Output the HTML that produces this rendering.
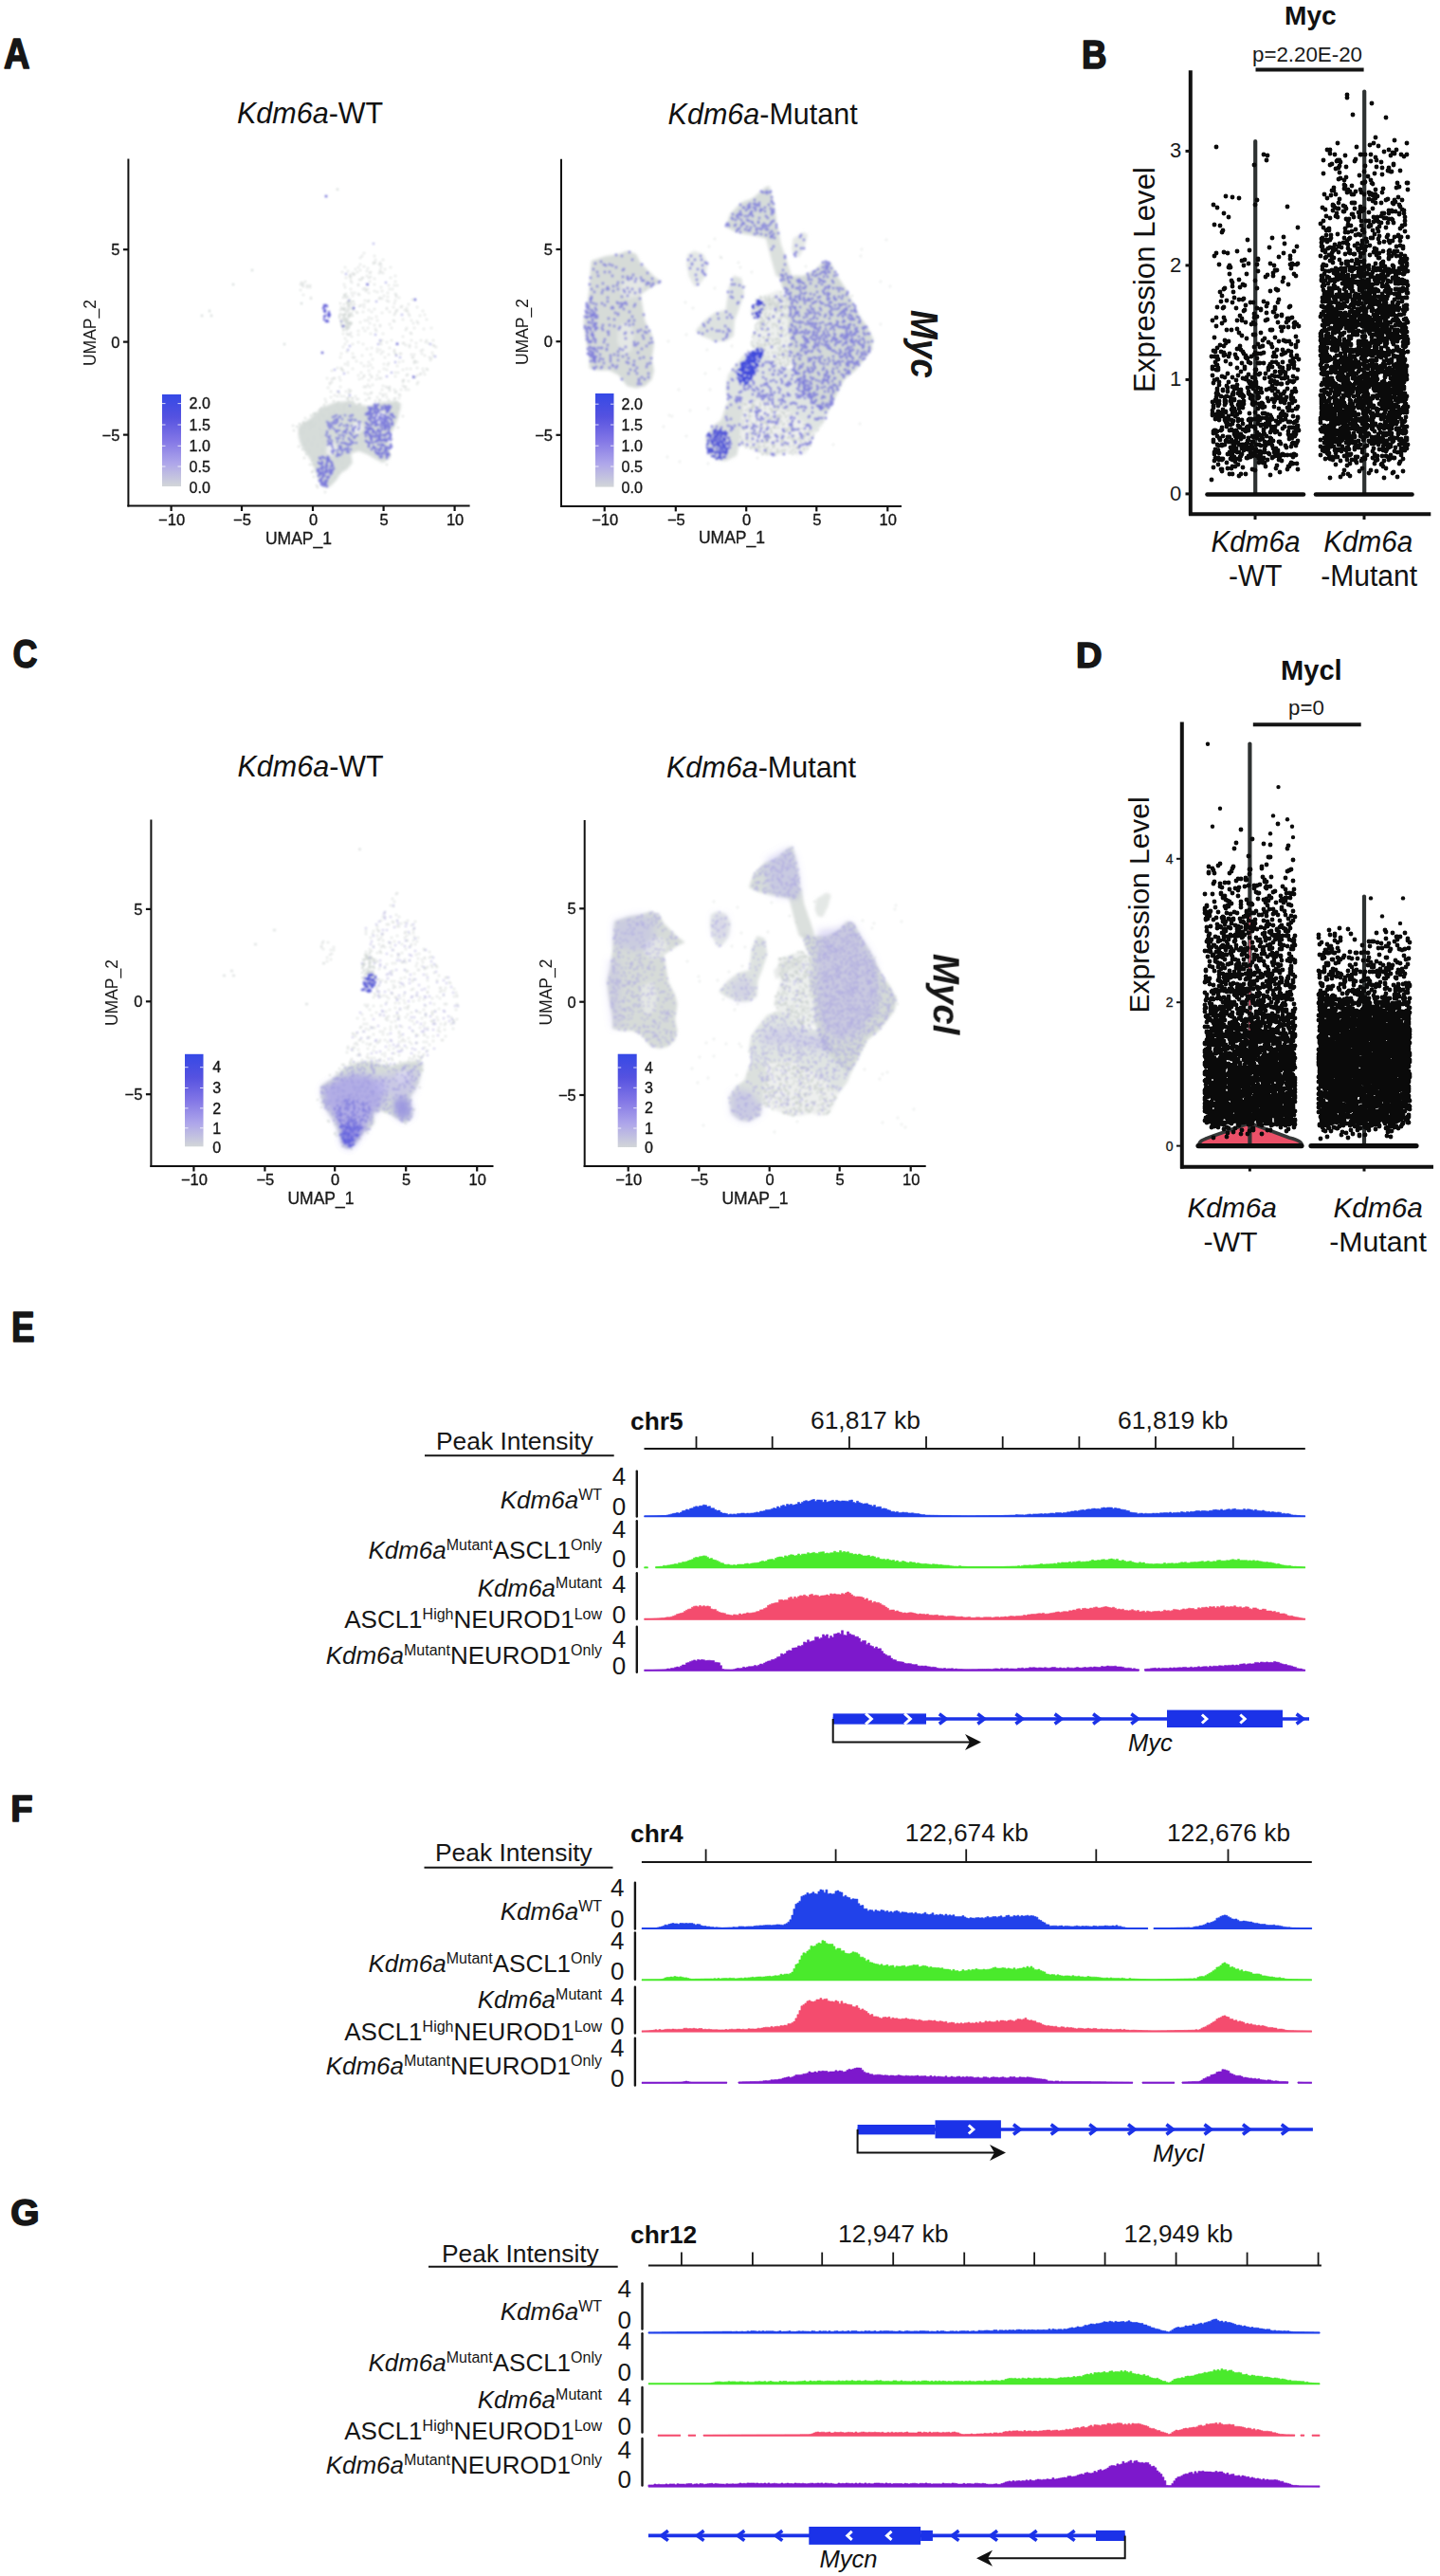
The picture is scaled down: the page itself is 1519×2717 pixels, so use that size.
<!DOCTYPE html>
<html><head><meta charset="utf-8"><title>Figure</title>
<style>
html,body{margin:0;padding:0;background:#fff;overflow:hidden;}
svg{display:block;}
text{font-family:"Liberation Sans", Arial, sans-serif;}
</style></head><body>
<svg width="1519" height="2717" viewBox="0 0 1519 2717">
<defs>
<linearGradient id="cbar" x1="0" y1="1" x2="0" y2="0">
<stop offset="0" stop-color="#d2d6d8"/>
<stop offset="0.25" stop-color="#aea6ea"/>
<stop offset="0.5" stop-color="#8276e6"/>
<stop offset="0.75" stop-color="#5552e0"/>
<stop offset="1" stop-color="#3549e6"/>
</linearGradient>
<filter id="soft" x="-5%" y="-5%" width="110%" height="110%"><feGaussianBlur stdDeviation="0.8"/></filter>
<filter id="blurU"><feGaussianBlur stdDeviation="0.8"/></filter>
<filter id="soft2" x="-10%" y="-10%" width="120%" height="120%"><feGaussianBlur stdDeviation="3.5"/></filter>
</defs>
<rect width="1519" height="2717" fill="#fff"/>
<text x="4.1" y="72.4" font-size="44.2" text-anchor="start" font-weight="bold" fill="#161616" textLength="27.5" lengthAdjust="spacingAndGlyphs" stroke="#161616" stroke-width="1.6" stroke-linejoin="round">A</text>
<text x="1141.1" y="72.0" font-size="41.6" text-anchor="start" font-weight="bold" fill="#161616" textLength="26.5" lengthAdjust="spacingAndGlyphs" stroke="#161616" stroke-width="1.6" stroke-linejoin="round">B</text>
<text x="13.6" y="704.4" font-size="42.9" text-anchor="start" font-weight="bold" fill="#161616" textLength="26.0" lengthAdjust="spacingAndGlyphs" stroke="#161616" stroke-width="1.6" stroke-linejoin="round">C</text>
<text x="1135.1" y="703.8" font-size="37.1" text-anchor="start" font-weight="bold" fill="#161616" textLength="27.5" lengthAdjust="spacingAndGlyphs" stroke="#161616" stroke-width="1.6" stroke-linejoin="round">D</text>
<text x="12.1" y="1415.4" font-size="44.2" text-anchor="start" font-weight="bold" fill="#161616" textLength="24.6" lengthAdjust="spacingAndGlyphs" stroke="#161616" stroke-width="1.6" stroke-linejoin="round">E</text>
<text x="11.3" y="1921.4" font-size="38.9" text-anchor="start" font-weight="bold" fill="#161616" textLength="23.4" lengthAdjust="spacingAndGlyphs" stroke="#161616" stroke-width="1.6" stroke-linejoin="round">F</text>
<text x="11.3" y="2346.9" font-size="38.9" text-anchor="start" font-weight="bold" fill="#161616" textLength="30.3" lengthAdjust="spacingAndGlyphs" stroke="#161616" stroke-width="1.6" stroke-linejoin="round">G</text>
<text x="250.0" y="130.0" font-size="30.5" text-anchor="start" font-style="italic" fill="#111">Kdm6a</text>
<text x="250" y="130" font-size="30.5" fill="#111"><tspan font-style="italic" fill-opacity="0">Kdm6a</tspan>-WT</text>
<text x="704.6" y="130.8" font-size="30.5" text-anchor="start" font-style="italic" fill="#111">Kdm6a</text>
<text x="704.6" y="130.8" font-size="30.5" fill="#111"><tspan font-style="italic" fill-opacity="0">Kdm6a</tspan>-Mutant</text>
<g filter="url(#blurU)">
<path d="M382 270h0m2-3h0m11 3h0m-15 2h0m0 7h0m14-1h0m0-1h0m2-3h0m0 3h0m4 2h0m1-2h0m1 2h0m2-5h0m-43 13h0m3-5h0m3 4h0m8-2h0m2 3h0m1-5h0m2 3h0m4-4h0m3 5h0m1-3h0m3 4h0m10-2h0m1-3h0m0 5h0m4-3h0m6-2h0m-47 11h0m0 0h0m4-1h0m0-2h0m1 3h0m0-3h0m2-2h0m1 2h0m1-1h0m5 6h0m2 0h0m1-2h0m1 0h0m4-2h0m2 2h0m1-5h0m1 4h0m4 2h0m5-6h0m4 0h0m8 5h0m5-2h0m-54 9h0m1 3h0m6-7h0m1 2h0m7 3h0m0-1h0m12-3h0m5 3h0m0 0h0m7 3h0m8-2h0m6 0h0m1-4h0m2 4h0m-49 4h0m1 4h0m3 0h0m4 1h0m1 1h0m4-6h0m2-1h0m1 3h0m0-1h0m2-1h0m1 4h0m6-2h0m3 1h0m5-1h0m6 2h0m2-4h0m3 0h0m3 5h0m1 1h0m-54 1h0m3 1h0m0 5h0m5-6h0m1 6h0m12-1h0m3 1h0m1-1h0m11-2h0m1-1h0m2 1h0m2-3h0m3 5h0m1-4h0m1 5h0m7-1h0m1-4h0m3 1h0m14 2h0m-76 11h0m1-3h0m1 2h0m6-4h0m2 0h0m3 0h0m2-1h0m5 2h0m2-1h0m3 2h0m0-3h0m5 6h0m6-1h0m13 0h0m0-1h0m7-1h0m1-4h0m3 7h0m4-3h0m1-1h0m3 4h0m2-2h0m2-4h0m9 3h0m0 0h0m-79 8h0m2 0h0m5 2h0m0-4h0m1 2h0m7-3h0m1 1h0m6-1h0m6 6h0m3-6h0m5 5h0m6-4h0m8-1h0m5 3h0m1-2h0m1-2h0m11 0h0m1 0h0m1 3h0m1 2h0m11 0h0m3-5h0m2 4h0m-85 4h0m2 2h0m3 2h0m12 0h0m5-2h0m3 0h0m2 3h0m2-5h0m3 7h0m3-5h0m3 5h0m10-1h0m4-4h0m1 1h0m9-2h0m0 0h0m9 1h0m2 3h0m4-2h0m1 2h0m9-4h0m-80 14h0m8-2h0m5-3h0m2 3h0m3-3h0m8 1h0m1 2h0m4-5h0m12 2h0m15 2h0m1-2h0m4 5h0m4-5h0m10 1h0m8-1h0m-93 6h0m2 5h0m2-5h0m1 1h0m2 0h0m2 2h0m7-2h0m13-1h0m12 7h0m1-7h0m9 7h0m12-4h0m9 4h0m0-7h0m10 7h0m6 0h0m7 0h0m-95 7h0m2-3h0m2-3h0m6 3h0m6-2h0m5 2h0m9 4h0m9-6h0m1 2h0m0 0h0m6-2h0m3 6h0m14-5h0m1 0h0m2 2h0m4 2h0m0-2h0m0 0h0m7 2h0m0-4h0m10-1h0m3 1h0m5 2h0m1 1h0m2 1h0m-100 7h0m6-2h0m6 2h0m10 2h0m5-7h0m4 6h0m7-6h0m0 3h0m3-2h0m1 4h0m2-2h0m6 3h0m6-3h0m0-2h0m1 4h0m1 1h0m4-1h0m1 0h0m11 1h0m3 0h0m7-4h0m1 3h0m1-4h0m2 6h0m8-3h0m1 3h0m-98 2h0m8 5h0m5-5h0m2 0h0m2 4h0m5 2h0m8-1h0m4-3h0m13-2h0m4 6h0m11-1h0m4-1h0m10-4h0m1 0h0m1 6h0m0-2h0m1 0h0m2 1h0m13-5h0m1 3h0m1-2h0m-105 13h0m6-3h0m4 0h0m0 1h0m1 1h0m1 1h0m2-7h0m3 1h0m5 4h0m12-3h0m4 0h0m1 5h0m2-6h0m2 3h0m12 1h0m0-5h0m3 6h0m1-5h0m10 1h0m6 4h0m4-1h0m4 0h0m7-1h0m6 1h0m4 0h0m1 1h0m-106 9h0m7 0h0m1 0h0m5-1h0m9-5h0m11 3h0m3-3h0m1 6h0m0 0h0m2-2h0m0-1h0m6-1h0m2 3h0m0-1h0m6-1h0m2 3h0m0-7h0m2 7h0m15-6h0m0 4h0m3-4h0m9 3h0m1-1h0m8 3h0m2-2h0m3-1h0m1-1h0m3-2h0m1 3h0m-100 9h0m0 1h0m2-2h0m0-3h0m9 1h0m20-1h0m9 6h0m1-5h0m4 5h0m4-6h0m7 7h0m21 0h0m0-6h0m0 2h0m1-2h0m5 1h0m9 3h0m1-2h0m-95 6h0m3 4h0m7 0h0m2 2h0m1-7h0m6 5h0m3-2h0m0 4h0m1-2h0m1-1h0m14-4h0m1 7h0m1-7h0m4 0h0m1 7h0m1-1h0m9 1h0m2-4h0m4-3h0m2 1h0m2 3h0m0-2h0m0-2h0m5 3h0m1 3h0m1-1h0m5-2h0m4-3h0m1 3h0m0-3h0m3 3h0m-88 10h0m6-2h0m3 4h0m1-6h0m3 1h0m4 0h0m3 0h0m3 2h0m1 1h0m1 2h0m4 0h0m0-3h0m3-2h0m1 3h0m2 0h0m8 1h0m2-6h0m1 4h0m1 0h0m8-1h0m2 3h0m4-4h0m0-2h0m3 0h0m1 3h0m9 1h0m4-4h0m0 4h0m1-3h0m-67 10h0m9 0h0m2-2h0m4-1h0m10 2h0m8 3h0m12-4h0m4 1h0m14 1h0m1 2h0m2-3h0" stroke="#c8cecb" stroke-width="1.90" stroke-linecap="round" opacity="0.85" fill="none"/>
<path d="M317 300h0m1-2h0m1 3h0m1 1h0m0-3h0m2-2h0m2 6h0m0-2h0m3 2h0m0-2h0m-10 5h0m3 5h0m8 3h0m0 1h0" stroke="#c8cecb" stroke-width="1.90" stroke-linecap="round" opacity="0.85" fill="none"/>
<path d="M363 311h0m2-1h0m0 0h0m-3 4h0m2-2h0m1 2h0m1 5h0m0 0h0m0 0h0m1 0h0m1-2h0m0 0h0m1 1h0m0-2h0m3 2h0m-13 2h0m2 6h0m2 1h0m0-6h0m0 4h0m0 1h0m1-1h0m3 0h0m0-5h0m0 1h0m1 6h0m0-4h0m2-3h0m0 5h0m0-5h0m2 6h0m1 1h0m-15 6h0m0 2h0m1-4h0m3 1h0m1 2h0m0-1h0m1-2h0m0 1h0m0 0h0m1-4h0m0 3h0m1-3h0m1 6h0m1 0h0m0-2h0m1 2h0m1-2h0m1-2h0m1 3h0m0 0h0m-13 5h0m1 5h0m0-2h0m1-5h0m0 3h0m2 4h0m0-5h0m1 2h0m0-4h0m1 0h0m1 2h0m0 5h0m0-3h0m0 1h0m1-1h0m0-3h0m1 5h0m0-2h0m0 0h0m0 0h0m1 3h0m0-1h0m1 0h0m0-2h0m1 1h0m-10 4h0m1 3h0m1 0h0m1-4h0m1 0h0m0 2h0m1 2h0m1-2h0m0-1h0m1 0h0m0 1h0m0 0h0m0-1h0" stroke="#d2d8d5" stroke-width="2.20" stroke-linecap="round" opacity="1.00" fill="none"/>
<path d="M368 419h0m3 1h0m25 3h0m5-1h0m9 0h0m6-1h0m-77 9h0m3 0h0m0-3h0m2-3h0m12 2h0m1-2h0m6 7h0m0-2h0m8 0h0m2-4h0m3 4h0m3-2h0m0-1h0m15 2h0m5-1h0m2 2h0m9 2h0m4-1h0m3-6h0m2 0h0m0 7h0m2 0h0m-93 7h0m3-1h0m0-1h0m2 0h0m4-4h0m1 3h0m0-3h0m2 6h0m2 1h0m4-7h0m2 5h0m4 0h0m0 2h0m0-4h0m1-1h0m5-2h0m0 6h0m3-1h0m1 0h0m1-3h0m2 5h0m2-4h0m6-2h0m5-1h0m4 7h0m3-7h0m0 4h0m1 0h0m3 3h0m0-1h0m3-4h0m1 4h0m2 0h0m0 0h0m4-3h0m5-1h0m2 0h0m12 1h0m7 4h0m-109 8h0m4 0h0m0-2h0m2-4h0m0 6h0m2-1h0m3-1h0m0 2h0m2-2h0m3 2h0m5-5h0m6 1h0m3 0h0m0-2h0m5 2h0m2 0h0m13 4h0m4-6h0m4 2h0m3 2h0m7-2h0m2 2h0m2-2h0m3 3h0m2-3h0m1 1h0m1 0h0m1-4h0m6 2h0m11 0h0m1 3h0m5-5h0m-110 9h0m1 5h0m3-4h0m3 4h0m5-3h0m6 1h0m0-4h0m2 2h0m2-1h0m6 3h0m2 2h0m16-3h0m8 2h0m14-3h0m2 3h0m2 0h0m4 2h0m4-2h0m0 1h0m1-6h0m5 6h0m1-6h0m0 0h0m6 3h0m1 1h0m3 1h0m1-1h0m0-3h0m1 2h0m2 1h0m0-4h0m1 6h0m9-3h0m-104 6h0m4-1h0m11 6h0m7-4h0m1 3h0m2-1h0m2-1h0m1 0h0m1-2h0m4 6h0m6-2h0m8-4h0m6 6h0m2-1h0m0 1h0m0-2h0m2-4h0m5 4h0m0-1h0m3-2h0m1-1h0m8 1h0m1 0h0m2 0h0m4 2h0m6 1h0m1 0h0m10 2h0m-99 8h0m7-3h0m3-4h0m4 4h0m6 2h0m6-4h0m7 0h0m4 3h0m5 2h0m3-1h0m1-1h0m1 2h0m1-6h0m5 4h0m0 0h0m2 1h0m1 1h0m5-3h0m1 1h0m1 2h0m3-6h0m1 4h0m1-3h0m2-2h0m16 2h0m3-1h0m4 2h0m0 4h0m5-3h0m-94 6h0m3 1h0m1 4h0m3-3h0m0 1h0m0-1h0m14 0h0m0-2h0m12 2h0m0 3h0m1 0h0m0-5h0m2 4h0m1-3h0m1 0h0m7-1h0m2 4h0m3-4h0m2-2h0m0 1h0m19-1h0m5 2h0m6 4h0m6 0h0m2-6h0m1 0h0m0 4h0m1 2h0m-90 5h0m8 3h0m2-3h0m10 1h0m2 2h0m2-2h0m2 2h0m4 1h0m4-2h0m3 0h0m4-3h0m0-1h0m48-1h0m1 2h0m1-2h0m-85 10h0m3 0h0m2 0h0m1 1h0m6 4h0m7-6h0m1 2h0m4 1h0m4 3h0m6-7h0m1 5h0m46-3h0m-79 8h0m1-1h0m1 6h0m8-1h0m2-5h0m3 0h0m5 4h0m4 2h0m5-4h0m-13 10h0m1-1h0m1 2h0m0 0h0m-13 2h0m1 2h0m8 5h0" stroke="#c8cecb" stroke-width="1.90" stroke-linecap="round" opacity="0.90" fill="none"/>
<circle cx="356.0" cy="199.8" r="1.2" fill="#cfd4d2"/>
<circle cx="266.0" cy="285.0" r="1.2" fill="#cfd4d2"/>
<circle cx="221.0" cy="328.0" r="1.2" fill="#cfd4d2"/>
<circle cx="213.0" cy="333.0" r="1.2" fill="#cfd4d2"/>
<circle cx="223.0" cy="333.0" r="1.2" fill="#cfd4d2"/>
<circle cx="246.0" cy="300.0" r="1.2" fill="#cfd4d2"/>
<circle cx="300.0" cy="363.0" r="1.2" fill="#cfd4d2"/>
<circle cx="318.0" cy="320.0" r="1.2" fill="#cfd4d2"/>
<g filter="url(#soft)">
<path d="M314.8 449.3 L325.9 442.3 L339.8 429.8 L353.7 424.3 L367.6 422.9 L374.6 425.7 L388.4 428.4 L402.3 424.3 L416.2 422.9 L423.2 425.7 L420.4 439.6 L416.2 450.7 L409.3 461.8 L410.7 474.3 L410.7 484.0 L403.8 488.2 L395.4 484.0 L388.4 479.8 L378.7 475.7 L370.4 478.4 L371.8 488.2 L366.2 495.1 L359.3 499.3 L355.1 506.2 L348.2 513.2 L342.6 514.6 L337.1 509.0 L332.9 497.9 L328.7 486.8 L323.2 478.4 L317.6 470.1 L314.8 460.4 Z" fill="#d2d8d5" opacity="0.9"/>
<path d="M345.0 470.0 L352.0 466.0 L356.0 474.0 L350.0 481.0 L344.0 478.0 Z" fill="#fff" opacity="0.6"/>
<path d="M372.0 447.0 L380.0 444.0 L384.0 452.0 L377.0 458.0 L371.0 454.0 Z" fill="#fff" opacity="0.6"/>
<path d="M395.0 436.0 L405.0 433.0 L409.0 442.0 L400.0 448.0 L394.0 444.0 Z" fill="#fff" opacity="0.6"/>
</g>
<path d="M389 430h0m1 1h0m2-1h0m3-3h0m0 3h0m1-3h0m0 2h0m1 1h0m0-2h0m1 3h0m1-4h0m4 4h0m0-2h0m0 2h0m3 0h0m0-3h0m1 1h0m1 2h0m1-2h0m0 2h0m1-1h0m0-2h0m1 3h0m1-2h0m-26 8h0m1 0h0m0-1h0m1 1h0m1-2h0m0 2h0m1-4h0m1 5h0m0-3h0m1-3h0m1 5h0m2-2h0m0-1h0m0 0h0m0-2h0m1 3h0m1 1h0m0 2h0m0-3h0m1-3h0m1 3h0m1-2h0m2 4h0m1-5h0m2 6h0m2 1h0m1-6h0m0 2h0m1-1h0m1-1h0m2 4h0m2 2h0m0-2h0m-28 9h0m0 0h0m1 1h0m2-5h0m0-1h0m2 3h0m0-3h0m1-1h0m1 6h0m1-1h0m0-4h0m2 6h0m0-4h0m0-3h0m0 6h0m1-1h0m2-2h0m1-3h0m1 1h0m0-1h0m1 7h0m0-3h0m1-3h0m0 5h0m1 1h0m0 0h0m1-3h0m0-2h0m1-1h0m0 5h0m0-1h0m0 0h0m1-3h0m0 2h0m1-3h0m1 4h0m0-4h0m1-1h0m0 7h0m2-5h0m1 1h0m0 4h0m1-1h0m2-6h0m-30 15h0m0-4h0m2-3h0m0 7h0m0-3h0m1-4h0m1 5h0m0-2h0m2-3h0m0 4h0m1 1h0m1 1h0m2-5h0m2-1h0m0 7h0m1-7h0m0 5h0m0 1h0m2 1h0m1-5h0m0 0h0m1 3h0m2-3h0m1 3h0m0-3h0m0 3h0m0-5h0m1 4h0m0-2h0m1-1h0m0 0h0m1-1h0m1 3h0m0 3h0m1-4h0m0 1h0m3-3h0m-29 9h0m1-1h0m0 4h0m2-3h0m2 2h0m0-1h0m0 2h0m1 0h0m0 0h0m0 3h0m1-3h0m0 3h0m1-7h0m1 4h0m1-4h0m0 0h0m1 5h0m0 0h0m1-3h0m0 1h0m2 2h0m1-2h0m1 2h0m0-2h0m0 4h0m0-5h0m0-2h0m3 3h0m1 0h0m1 4h0m0-4h0m1 0h0m1-2h0m1 6h0m1-6h0m1 4h0m0-4h0m1 2h0m0 4h0m0-3h0m0-2h0m0 5h0m-26 2h0m1 1h0m2 5h0m0-4h0m0 3h0m0 0h0m1-3h0m2-3h0m1 3h0m1 4h0m2-5h0m1-1h0m2 0h0m0 4h0m0-5h0m3 5h0m0-4h0m2-1h0m0 5h0m1 1h0m1-5h0m2 0h0m4-1h0m0 6h0m0-1h0m1 2h0m-21 3h0m2-2h0m1 0h0m0 0h0m1 1h0m0 3h0m1 2h0m1 0h0m0 0h0m1-4h0m0 5h0m1-1h0m0 1h0m0-4h0m2-1h0m0-2h0m1 6h0m0 1h0m1-1h0m2-2h0m0-2h0m1-2h0m0 7h0m1-4h0m1 3h0m0-6h0m1 7h0m1-6h0m1-1h0m-11 10h0m2 0h0m5 1h0m0-2h0m2-1h0" stroke="#6e6cdc" stroke-width="2.80" stroke-linecap="round" opacity="0.85" fill="none"/>
<path d="M337 483h0m1 1h0m2 3h0m0-5h0m2 1h0m3 3h0m0-1h0m0-2h0m1-1h0m0 0h0m1 3h0m0-1h0m0 2h0m2 1h0m-14 8h0m1-7h0m1 1h0m1 5h0m1-5h0m1 0h0m0-1h0m0 4h0m0 3h0m1-2h0m3 1h0m0-1h0m0 1h0m0-2h0m0-2h0m1 2h0m0-1h0m0 0h0m0-3h0m3 7h0m1-3h0m1-3h0m0-1h0m1 3h0m1 3h0m-17 3h0m1-1h0m0 6h0m0-6h0m1 4h0m0-2h0m1 1h0m1 1h0m1-2h0m1 4h0m1-2h0m0 2h0m1-5h0m0 1h0m2 0h0m0-2h0m0 7h0m2 0h0m1-4h0m0-3h0m0 1h0m1 3h0m0-3h0m0-1h0m1 3h0m1-3h0m-14 11h0m1-1h0m1 1h0m0 4h0m0-1h0m0-5h0m0 5h0m0-5h0m1-1h0m0 5h0m2 1h0m1-1h0m0-2h0m1 0h0m0 3h0m1-3h0m1-3h0m-5 8h0m2 0h0m2 1h0" stroke="#6e6cdc" stroke-width="2.80" stroke-linecap="round" opacity="0.85" fill="none"/>
<path d="M353 439h0m2-1h0m4 1h0m5-1h0m5 1h0m2-1h0m1 0h0m-27 7h0m2 1h0m3 0h0m1-6h0m1 5h0m1-2h0m0 4h0m0-1h0m2 0h0m0-4h0m0 1h0m1-1h0m0 1h0m0 2h0m2-5h0m2 7h0m1-5h0m7 1h0m2 1h0m1-2h0m3 1h0m1 0h0m3 2h0m2 0h0m-35 10h0m1-7h0m1 0h0m0 2h0m1 2h0m0-3h0m2-1h0m0 2h0m0-2h0m2 4h0m2 2h0m2 0h0m2 0h0m0-5h0m5 6h0m0-6h0m2 5h0m1-5h0m0 4h0m0-5h0m0 4h0m1-3h0m4 0h0m0 0h0m1 3h0m0 2h0m1 1h0m0-3h0m0 1h0m1-2h0m1-1h0m3 3h0m1-5h0m0 3h0m-35 8h0m1-2h0m1 4h0m1 0h0m1 2h0m0-3h0m7-4h0m0 6h0m1 1h0m2-4h0m0 3h0m3-3h0m1 4h0m0-7h0m1 4h0m2-4h0m0 1h0m3 5h0m0 1h0m1-7h0m0 1h0m2 1h0m0 1h0m2 2h0m1 1h0m1-2h0m2-1h0m-31 10h0m0-4h0m1 2h0m1 1h0m1-1h0m1-2h0m0 5h0m0-2h0m6-2h0m2 4h0m2 1h0m0-4h0m2 0h0m2 0h0m0 1h0m2 0h0m0 1h0m2 0h0m1-1h0m0-4h0m1 5h0m1-4h0m0 2h0m1 0h0m1 0h0m3 0h0m-26 9h0m1 1h0m0 1h0m0-6h0m0 3h0m0 1h0m1-1h0m1 0h0m3 0h0m0 3h0m0 1h0m1 0h0m1-7h0m0 1h0m2 0h0m0 2h0m1 3h0m1-3h0m2-1h0m0-1h0m1 1h0m1 3h0m1-3h0m0-1h0m0-1h0m0 4h0m1 1h0m2-3h0m-15 7h0m1 0h0m1-1h0m2 0h0" stroke="#7473dc" stroke-width="2.70" stroke-linecap="round" opacity="0.80" fill="none"/>
<path d="M341 325h0m1-1h0m0 0h0m0-2h0m1 5h0m1-5h0m1 1h0m-3 11h0m0-6h0m1 1h0m0 4h0m3-1h0m1 2h0m0-3h0m0-2h0m1 3h0m-6 5h0m2 2h0m1-1h0m1 1h0" stroke="#5b58d6" stroke-width="2.40" stroke-linecap="round" opacity="1.00" fill="none"/>
<circle cx="344.0" cy="207.0" r="1.3" fill="#5856d0"/>
<circle cx="340.0" cy="372.0" r="1.3" fill="#5856d0"/>
<circle cx="387.6" cy="300.0" r="1.3" fill="#5856d0"/>
<circle cx="373.0" cy="325.0" r="1.3" fill="#5856d0"/>
<circle cx="437.8" cy="316.0" r="1.3" fill="#5856d0"/>
<circle cx="419.0" cy="362.7" r="1.3" fill="#5856d0"/>
<circle cx="436.4" cy="397.7" r="1.3" fill="#5856d0"/>
<circle cx="362.0" cy="344.0" r="1.3" fill="#5856d0"/>
<path d="M394 257h0m-29 32h0m42 9h0m-39 19h0m29 1h0m27 14h0m-64 7h0m36 14h0m5 6h0m-32 6h0m30-2h0m55 0h0m-87 6h0m51 6h0m-1 7h0m5-5h0m37-1h0m-106 14h0m10 4h0m45 3h0m5-4h0m23 4h0m-79 16h0m12 4h0m0 11h0" stroke="#7b78d8" stroke-width="2.00" stroke-linecap="round" opacity="0.80" fill="none"/>
<g filter="url(#soft)">
<path d="M623.8 275.0 L638.0 270.3 L652.2 268.0 L661.6 264.4 L671.1 268.0 L675.8 277.4 L680.5 282.1 L690.0 291.6 L698.2 297.5 L690.0 301.0 L682.9 305.7 L675.8 310.5 L678.1 324.6 L680.5 338.8 L687.6 353.0 L690.0 362.4 L687.6 378.9 L690.0 390.7 L687.6 400.2 L680.5 407.3 L671.1 409.6 L661.6 407.3 L652.2 395.5 L642.7 390.7 L630.9 390.7 L621.5 388.4 L621.5 376.6 L617.9 357.7 L615.6 338.8 L619.1 324.6 L621.5 305.7 L622.7 286.8 Z" fill="#d2d8d5" opacity="0.92"/>
<path d="M725.4 268.0 L732.5 264.4 L741.9 268.0 L746.6 277.4 L744.3 291.6 L737.2 301.0 L732.5 302.2 L726.6 291.6 L724.2 279.8 Z" fill="#d2d8d5" opacity="0.60"/>
<path d="M733.6 348.9 L743.3 337.8 L754.4 329.4 L765.6 326.7 L768.3 304.4 L773.9 290.6 L782.2 293.3 L785.0 310.0 L779.4 326.7 L775.0 338.0 L773.9 354.4 L765.6 360.0 L754.4 360.0 L740.6 354.4 Z" fill="#d2d8d5" opacity="0.75"/>
<path d="M765.5 239.6 L770.2 225.4 L782.0 213.6 L793.8 208.9 L808.0 197.1 L811.6 195.9 L815.1 208.9 L818.6 227.8 L819.8 244.3 L817.5 253.8 L808.0 251.4 L796.2 249.1 L784.4 246.7 L775.0 244.3 Z" fill="#d2d8d5" opacity="0.90"/>
<path d="M804.4 240.6 L821.1 240.6 L823.9 257.2 L830.8 276.7 L835.0 290.6 L826.7 296.1 L818.3 290.6 L812.8 271.1 L808.6 254.4 Z" fill="#d2d8d5" opacity="0.80"/>
<path d="M791.5 327.0 L798.6 319.9 L812.7 315.2 L822.2 317.5 L819.8 324.6 L808.0 327.0 L798.6 334.1 L793.8 336.4 Z" fill="#d2d8d5" opacity="0.50"/>
<path d="M836.4 251.7 L847.5 244.7 L852.2 247.5 L848.9 260.0 L843.3 271.1 L837.8 269.7 L835.0 262.8 Z" fill="#d2d8d5" opacity="0.60"/>
<path d="M822.2 286.8 L831.6 291.6 L845.8 291.6 L860.0 284.5 L869.4 275.0 L876.5 277.4 L883.6 291.6 L893.0 305.7 L900.1 319.9 L907.2 334.1 L914.3 343.5 L921.4 357.7 L919.0 369.5 L911.9 378.9 L902.5 390.7 L890.7 400.2 L885.9 409.6 L878.9 423.8 L874.1 433.2 L867.0 433.2 L855.2 421.4 L843.4 409.6 L836.4 386.0 L834.0 362.4 L831.6 338.8 L831.6 315.2 L824.5 301.0 Z" fill="#d2d8d5" opacity="0.95"/>
<path d="M775.0 386.0 L784.4 374.2 L796.2 369.5 L808.0 374.2 L819.8 386.0 L843.4 390.7 L855.2 409.6 L874.1 433.2 L869.4 445.0 L860.0 456.9 L850.5 447.4 L831.6 433.2 L808.0 421.4 L784.4 423.8 L767.9 423.8 L765.5 409.6 L767.9 395.5 Z" fill="#d2d8d5" opacity="0.70"/>
<path d="M744.3 461.6 L751.3 449.8 L760.8 442.7 L765.5 428.5 L767.9 423.8 L784.4 423.8 L782.0 445.0 L779.7 468.7 L777.3 480.5 L765.5 486.4 L756.1 485.2 L746.6 478.1 Z" fill="#d2d8d5" opacity="0.80"/>
<path d="M784.4 423.8 L808.0 421.4 L831.6 433.2 L850.5 447.4 L860.0 456.9 L855.2 468.7 L850.5 478.1 L841.1 480.5 L831.6 478.1 L819.8 480.5 L808.0 480.5 L796.2 475.7 L784.4 471.0 L779.7 468.7 L782.0 445.0 Z" fill="#d2d8d5" opacity="0.40"/>
<path d="M796.2 315.2 L822.2 305.7 L831.6 315.2 L834.0 362.4 L836.4 386.0 L819.8 386.0 L808.0 374.2 L796.2 369.5 L791.5 362.4 L798.6 338.8 Z" fill="#d2d8d5" opacity="0.42"/>
<path d="M823.0 293.0 L840.0 290.0 L858.0 292.0 L852.0 310.0 L836.0 312.0 L826.0 305.0 Z" fill="#d2d8d5" opacity="0.60"/>
<path d="M656.9 296.3 L673.4 291.6 L680.5 301.0 L673.4 312.8 L661.6 315.2 L654.5 308.1 Z" fill="#fff" opacity="0.35"/>
<path d="M652.2 343.5 L664.0 338.8 L668.7 353.0 L666.3 369.5 L656.9 374.2 L651.0 360.0 Z" fill="#fff" opacity="0.35"/>
</g>
<path d="M824 308h0m-26 9h0m4 2h0m0 0h0m0-6h0m1 1h0m4-1h0m1 4h0m0-2h0m0 0h0m3 0h0m0 0h0m0 2h0m0-4h0m1 3h0m3-1h0m0 3h0m2-4h0m1 0h0m1 0h0m3 5h0m2-6h0m0-1h0m0 4h0m2 2h0m0-4h0m0 3h0m3 2h0m0-3h0m1-2h0m0 1h0m1 2h0m-34 7h0m1 1h0m0-4h0m1 3h0m1-1h0m1 4h0m0 0h0m2-1h0m2 0h0m2 0h0m0-5h0m4-1h0m1 2h0m1-2h0m0 6h0m0 0h0m1-5h0m3-1h0m1 2h0m1 1h0m1 2h0m1-3h0m0-2h0m0 0h0m0 7h0m0-3h0m0-2h0m2 4h0m1-2h0m1-2h0m1 2h0m1 0h0m0-1h0m1 3h0m1-2h0m0-2h0m1 1h0m2 1h0m-31 5h0m0 2h0m0 2h0m0-3h0m1 5h0m1-5h0m0 5h0m0 0h0m1-6h0m3 3h0m1-2h0m0 4h0m0 1h0m1 0h0m2-2h0m1-2h0m3 4h0m1-2h0m3-3h0m0-1h0m3-1h0m2 7h0m0-7h0m0 5h0m1-5h0m2 3h0m0 3h0m1-1h0m2 2h0m0-3h0m-33 11h0m2-2h0m3 0h0m0-1h0m1-1h0m0 3h0m0-2h0m0 3h0m1-7h0m1 3h0m1-1h0m0 1h0m2 4h0m0-1h0m2-2h0m1-4h0m1 2h0m3 4h0m1 0h0m2 0h0m3-6h0m1 5h0m1-4h0m3 4h0m7 2h0m-36 3h0m2 2h0m3-2h0m0-2h0m4 0h0m1 4h0m1 1h0m2-1h0m5-3h0m4-1h0m1 0h0m1 7h0m0-4h0m0 0h0m0 4h0m3-3h0m1 3h0m0-2h0m2-1h0m5-4h0m1 7h0m-39 4h0m1-3h0m1 1h0m5 6h0m1-5h0m3 2h0m1 0h0m1 3h0m3-4h0m0 2h0m2 0h0m3 1h0m0-6h0m3 6h0m1 0h0m1-1h0m1-4h0m0 0h0m1 5h0m1-4h0m5 0h0m2-2h0m-37 9h0m0 3h0m2 1h0m0 1h0m4-4h0m0 5h0m0-1h0m1 0h0m0 1h0m0-4h0m1 3h0m2-3h0m0 2h0m3-1h0m0 1h0m1-3h0m1 2h0m2-4h0m1 2h0m0 1h0m1 0h0m0 0h0m3-3h0m0 4h0m2-1h0m1-1h0m1 0h0m1-1h0m1 6h0m1-6h0m0 2h0m2 3h0m1 0h0m6 0h0m1-1h0m1 2h0m1-2h0m0 0h0m-36 4h0m5 1h0m0-1h0m1-1h0m2 0h0m1 1h0m3 3h0m5 0h0m3 0h0m3 1h0m0 2h0m1-1h0m0-4h0m1-2h0m1 6h0m0-4h0m2 3h0m0-1h0m1-2h0m1-1h0m1 2h0m0 3h0m1-4h0m0 1h0m0 0h0m2 2h0m2-4h0m-23 7h0m5 5h0m2 0h0m1-3h0m0 0h0m2 1h0m1 4h0m1 0h0m0-3h0m1 3h0m2-6h0m1 1h0m0-2h0m0 6h0m3-6h0m1 4h0m0 3h0m0-5h0m2-2h0m0 5h0m2-5h0m1 3h0m-17 5h0m5 1h0m4 0h0m1 1h0m2-1h0" stroke="#c4cbc8" stroke-width="1.80" stroke-linecap="round" opacity="0.90" fill="none"/>
<path d="M796 423h0m13 0h0m-24 3h0m2 0h0m0 1h0m2 4h0m3-1h0m1-4h0m0 4h0m1-2h0m0 2h0m0-4h0m0 5h0m1-2h0m1-2h0m3 4h0m1-1h0m1 0h0m1-2h0m0-3h0m0 1h0m4-1h0m0-1h0m1 7h0m0-4h0m0 1h0m3-4h0m1 3h0m1 4h0m2 0h0m0 0h0m3-4h0m1 1h0m0 2h0m1-1h0m1-1h0m1 3h0m4-1h0m2 1h0m-43 6h0m3-4h0m3 5h0m0-4h0m1 1h0m0-3h0m1 7h0m1-5h0m6 3h0m0-4h0m1 5h0m0-3h0m7 2h0m3 0h0m4 2h0m0-4h0m0-2h0m1 0h0m3 0h0m0 0h0m1 5h0m0-5h0m1 6h0m1-7h0m1 6h0m1 0h0m1-4h0m2 1h0m1 0h0m0 2h0m2 2h0m0 0h0m1-6h0m2 5h0m3-1h0m-51 10h0m0-3h0m2-3h0m4-1h0m1 3h0m2 3h0m5-1h0m3-2h0m2 2h0m1-4h0m1 5h0m2-1h0m0 1h0m1-6h0m0 1h0m1 3h0m0 3h0m2-6h0m1 1h0m2 0h0m0-2h0m1 5h0m0 1h0m0-1h0m1 0h0m2-4h0m0 0h0m1 2h0m1 3h0m1-5h0m0 3h0m0-4h0m1 1h0m2 4h0m0 0h0m0-5h0m0 4h0m3 3h0m2-7h0m2 4h0m2 3h0m2-2h0m7-1h0m-60 6h0m2 3h0m0-2h0m1 2h0m2-3h0m0-1h0m1 2h0m0 0h0m3-2h0m2 2h0m1-1h0m1 4h0m0-3h0m0 1h0m2-4h0m4 2h0m1 1h0m3 0h0m3 2h0m1-5h0m1 4h0m3 0h0m0 2h0m1 1h0m2-4h0m1-2h0m0 2h0m1 0h0m3 0h0m5-3h0m0 7h0m1 0h0m1-3h0m1 3h0m1-2h0m0 2h0m1-1h0m2-3h0m1 0h0m0 3h0m1-1h0m1-1h0m0-3h0m2 5h0m4-2h0m1 0h0m3 0h0m2-4h0m2 0h0m3 6h0m0 1h0m3 0h0m-75 6h0m6-1h0m2 0h0m2-4h0m1 2h0m1 4h0m0 0h0m1-5h0m0 3h0m2-4h0m2 2h0m1-2h0m2 1h0m5 5h0m0-3h0m2 0h0m0 3h0m1-5h0m0 4h0m0 2h0m1-1h0m0-1h0m1-4h0m1 5h0m1-1h0m1-4h0m4 1h0m2 3h0m4 0h0m0-3h0m3 3h0m4 1h0m1-1h0m1 0h0m2 2h0m2 0h0m0-4h0m1 1h0m4 3h0m2-2h0m0 1h0m3-1h0m1-1h0m1 1h0m0-2h0m0-3h0m1 1h0m2 1h0m1 5h0m1-4h0m0-2h0m2 5h0m1 0h0m1-3h0m-78 10h0m0 0h0m3-5h0m1 5h0m3-5h0m2 1h0m3 1h0m2 5h0m4-3h0m0 0h0m2 2h0m1-3h0m0-1h0m1 5h0m3-5h0m1 4h0m0 1h0m1-4h0m1-2h0m1 1h0m1 0h0m0-1h0m5 3h0m0 2h0m0 0h0m1 1h0m1-1h0m1-5h0m6 1h0m1-2h0m0 2h0m1-2h0m1 6h0m0-1h0m2-2h0m1 2h0m3 2h0m4-5h0m0-2h0m0 6h0m1-4h0m1-2h0m0 0h0m3 7h0m1-1h0m1-5h0m0 4h0m1-3h0m3-2h0m0 4h0m2-2h0m2 3h0m0-1h0m1 0h0m1-2h0m0 3h0m1 1h0m-68 2h0m5 0h0m0 0h0m0 1h0m4-1h0m1 1h0m2-1h0m1 4h0m1-3h0m1 3h0m0 0h0m2 3h0m1 0h0m2-2h0m0-1h0m1-3h0m1 3h0m0-2h0m0 1h0m0 4h0m0-3h0m0 1h0m0-2h0m0 0h0m1-3h0m2 6h0m0 0h0m1-3h0m2 4h0m1-7h0m3 5h0m1-3h0m1 2h0m0 1h0m3-1h0m2-1h0m0 4h0m2-4h0m5 3h0m2-2h0m1 3h0m1-5h0m2 3h0m1-5h0m1 1h0m7 0h0m0 1h0m4-1h0m-37 7h0m3 0h0" stroke="#c4cbc8" stroke-width="1.80" stroke-linecap="round" opacity="0.90" fill="none"/>
<path d="M754 252h0m181 1h0m-187 7h0m161 3h0m-149 8h0m148-1h0m-147 2h0m18 5h0m94 2h0m-92 3h0m12 5h0m29 0h0m28-6h0m-24 8h0m40-1h0m-80 14h0m143-5h0m10 5h0m-185 2h0m75 0h0m45 3h0m-151 12h0m94-6h0m82-1h0m-168 13h0m130-3h0m26 1h0m0 4h0m3-1h0m-96 2h0m135 14h0m-62 7h0m-143 4h0m19-1h0m9 7h0m106-7h0m56 0h0m-209 8h0m67 5h0m51-5h0m6 0h0m60 4h0m13 3h0m-156 2h0m43 1h0m33 5h0m31-4h0m46-2h0m21-1h0m-161 21h0m100 1h0m-115 4h0m34 5h0m12-4h0m21-1h0m73-2h0m-51 8h0m-117 11h0m33 0h0m88 1h0m13-4h0m8 6h0m-53 4h0m-58 13h0m-41 7h0m3 1h0m19-6h0m39 3h0m16-3h0m49 0h0m39-1h0m-82 15h0m16-5h0m17 5h0m45-2h0m40 2h0m-207 3h0m85 3h0m46-1h0m32 2h0m-139 6h0m37-2h0m60 1h0m-68 8h0m36 3h0m90-1h0m-175 13h0m13 5h0m82-4h0m-52 6h0" stroke="#cdd2d0" stroke-width="1.80" stroke-linecap="round" opacity="0.80" fill="none"/>
<path d="M650 269h0m6 1h0m8-4h0m-36 12h0m6-2h0m3 3h0m6 0h0m24-5h0m10 5h0m-51 5h0m4 3h0m8 0h0m1-7h0m4 7h0m3-7h0m4 2h0m7 3h0m1-1h0m-35 9h0m8-2h0m15 0h0m11 1h0m5 2h0m0-2h0m1 3h0m3-1h0m0-1h0m2-3h0m3 4h0m5-1h0m7-5h0m5 6h0m-66 6h0m8 2h0m6-3h0m5 4h0m6-1h0m4-1h0m1-3h0m0 0h0m5 0h0m13-1h0m7-1h0m2 0h0m3 4h0m1-2h0m2 1h0m2 3h0m2-2h0m0-1h0m6-1h0m1-1h0m-72 8h0m3 3h0m8 1h0m1-3h0m4-1h0m2 0h0m5 2h0m5-2h0m6 1h0m1 2h0m3-4h0m2 4h0m3-3h0m3 4h0m5-4h0m0 3h0m-52 7h0m1-2h0m0 2h0m0-2h0m17 5h0m0-4h0m10 5h0m5-6h0m4 6h0m2-7h0m13 3h0m-49 5h0m3 7h0m6-7h0m3 2h0m7 3h0m1-1h0m1 1h0m5-5h0m2 4h0m1-4h0m1 2h0m0 1h0m2 3h0m0-6h0m3 1h0m8 2h0m1-2h0m-53 13h0m2-4h0m0 5h0m3-5h0m2 3h0m2 0h0m23-3h0m3 1h0m0 1h0m12-3h0m3 5h0m12-2h0m-58 8h0m4-2h0m3 5h0m8 0h0m6-7h0m1 7h0m5-6h0m12 5h0m3-3h0m1-1h0m0 5h0m4-1h0m1-4h0m-48 7h0m4 6h0m5-5h0m5 0h0m1 2h0m5 2h0m1 0h0m6-6h0m5 3h0m1-2h0m6 6h0m7 0h0m6-1h0m0-1h0m3-1h0m4 2h0m2-5h0m0 6h0m0 0h0m3-2h0m-60 5h0m1 3h0m12 1h0m4-5h0m17-1h0m1 5h0m18-3h0m1 3h0m8 0h0m-64 4h0m1-1h0m0 7h0m7 0h0m3 0h0m1 0h0m2-6h0m4 3h0m19 2h0m9-2h0m0-3h0m2 3h0m2-2h0m9 3h0m3-3h0m3-1h0m-66 13h0m2-3h0m1 2h0m3-4h0m2 2h0m3 3h0m7-6h0m0 1h0m4 6h0m4-1h0m4 1h0m0-4h0m2-3h0m3 1h0m4 5h0m12-2h0m4-4h0m-54 13h0m3 0h0m0-4h0m6 4h0m1-3h0m3 1h0m1 4h0m7-2h0m0-3h0m8 2h0m5-4h0m4 6h0m2-4h0m0 5h0m6-2h0m6-3h0m4-1h0m7 6h0m1-5h0m-61 10h0m1 1h0m2-2h0m5 1h0m1-1h0m8 1h0m3-3h0m1 1h0m3 2h0m1-2h0m14 4h0m3-5h0m1 0h0m1 6h0m2-3h0m10-1h0m1-3h0m-20 10h0m9 0h0m5 4h0m7-4h0m0 4h0m-28 2h0m17 5h0m1-5h0m0 2h0m2 3h0m4-5h0" stroke="#7573dc" stroke-width="2.90" stroke-linecap="round" opacity="0.80" fill="none"/>
<path d="M803 202h0m2 1h0m3 0h0m1-1h0m0 2h0m3-1h0m1-1h0m-22 13h0m4 0h0m1-4h0m1 4h0m4-1h0m13-2h0m0-4h0m0 5h0m2 2h0m-35 8h0m0-7h0m3 3h0m1 0h0m2 3h0m2-2h0m0-3h0m2 1h0m0 1h0m2 4h0m2-4h0m2 3h0m0-2h0m1-3h0m2-1h0m1 1h0m1 4h0m0 2h0m2-2h0m3 2h0m0-4h0m4-3h0m2 4h0m1 3h0m2-2h0m-44 9h0m1-4h0m0 5h0m4-3h0m1-1h0m1-1h0m0 4h0m1-4h0m2 0h0m0 1h0m4 1h0m3 0h0m2-2h0m1-2h0m1 2h0m1 2h0m7 2h0m7-2h0m2 2h0m4-4h0m2-2h0m-50 14h0m1-2h0m1 0h0m1 2h0m6 0h0m1-6h0m0 5h0m6 1h0m0-6h0m1 4h0m1-1h0m1 1h0m3 3h0m0-7h0m2 1h0m3 1h0m1 1h0m2 3h0m4-3h0m0-1h0m4 4h0m1 1h0m1-3h0m2 2h0m0 1h0m0-1h0m3 0h0m2-2h0m1-2h0m2-1h0m3 4h0m-42 7h0m1-2h0m2-1h0m1 4h0m5-3h0m3 1h0m2 0h0m1-3h0m4 7h0m2-4h0m0-2h0m1 5h0m2-5h0m2 1h0m0 5h0m0-5h0m2-2h0m3 2h0m2 0h0m2 4h0m2-2h0m2 3h0m3-7h0m-11 8h0m5 2h0m1 0h0m3 1h0" stroke="#7573dc" stroke-width="2.90" stroke-linecap="round" opacity="0.80" fill="none"/>
<path d="M821 246h0m-7 3h0m0 14h0m2-3h0m12 10h0m0 2h0m0 7h0m-2 6h0m3 4h0m2 3h0" stroke="#7573dc" stroke-width="2.90" stroke-linecap="round" opacity="0.80" fill="none"/>
<path d="M868 277h0m3-1h0m1 1h0m2 0h0m1 1h0m-17 9h0m0 0h0m2-1h0m3-2h0m4 3h0m1-5h0m1 5h0m1-1h0m1-3h0m0-3h0m1 1h0m0 1h0m1 2h0m0-2h0m1 5h0m0-7h0m1 7h0m2-4h0m4 4h0m-57 3h0m0 5h0m1-5h0m1 1h0m0 1h0m1 3h0m0 0h0m4-1h0m3-2h0m1 1h0m8 2h0m9-6h0m1 6h0m0-3h0m3 3h0m1-5h0m3 1h0m2-1h0m2 4h0m1 1h0m0-6h0m4 3h0m2-4h0m0 1h0m2 3h0m7-1h0m3-1h0m-59 6h0m8 1h0m1 1h0m3 3h0m0 2h0m5-7h0m1 1h0m1 1h0m1-2h0m0 6h0m2-4h0m2 1h0m2 3h0m5-3h0m6 3h0m3-4h0m3-2h0m0 4h0m2-3h0m1 0h0m0 0h0m1 6h0m3-1h0m1 0h0m3-6h0m1 2h0m-51 6h0m1 4h0m1-3h0m1 1h0m0 4h0m2 0h0m1-1h0m6-5h0m0 0h0m2 0h0m2 2h0m1 3h0m2-5h0m1 6h0m1-6h0m1 5h0m5 1h0m4 1h0m3-3h0m6-1h0m1 2h0m1 1h0m0-5h0m3 4h0m1-5h0m0 7h0m1-1h0m4-6h0m4 0h0m2 3h0m1-3h0m3 1h0m4 6h0m1-3h0m0 1h0m-61 6h0m1 1h0m0-3h0m2 6h0m1-3h0m2 1h0m0-4h0m1 0h0m1 6h0m2-7h0m0 3h0m1 1h0m0-1h0m0-3h0m4 2h0m0 3h0m0-2h0m3 2h0m2-2h0m1 1h0m0 1h0m3-2h0m2 4h0m2-1h0m2-4h0m2-1h0m0 5h0m8-6h0m0 3h0m0 1h0m2 3h0m0 0h0m0-4h0m2 4h0m3-6h0m0 2h0m1 1h0m1 0h0m3-3h0m3 2h0m1-3h0m0 0h0m7 5h0m-63 7h0m1 2h0m0 1h0m1-7h0m1 3h0m2 2h0m1-1h0m0 2h0m5-2h0m5-4h0m3 7h0m3-4h0m1 3h0m1-6h0m1 6h0m7-1h0m1 2h0m0-7h0m2 0h0m3 2h0m3 0h0m1 1h0m2 4h0m0-3h0m3 2h0m1-4h0m2 4h0m2-1h0m0-4h0m1 1h0m1 0h0m2-1h0m1 6h0m2-1h0m0-5h0m1 6h0m0-2h0m0 1h0m3-3h0m4-2h0m2 2h0m0 3h0m-69 7h0m1-3h0m0 2h0m2 3h0m2-2h0m1-3h0m1-1h0m0 2h0m2-1h0m0-1h0m1 4h0m5 2h0m2-4h0m1 3h0m2-3h0m1-2h0m2 1h0m3 4h0m0-5h0m1 2h0m3-1h0m2 2h0m5 2h0m1-2h0m4-3h0m1 3h0m1 0h0m0-1h0m1 1h0m6 1h0m2-2h0m1-1h0m1-1h0m1 5h0m0-5h0m0 4h0m0 1h0m1-6h0m1 2h0m1 2h0m3 3h0m1-3h0m2-4h0m0 5h0m1 2h0m2-7h0m1 0h0m1 1h0m1 5h0m2 1h0m0 0h0m-71 7h0m0 1h0m2-5h0m1 1h0m3 1h0m3-1h0m0 2h0m3-1h0m3 2h0m0 0h0m2-3h0m1 3h0m1-1h0m1-4h0m1 4h0m2-5h0m0 5h0m3 1h0m0-1h0m1-5h0m3 5h0m3-1h0m3 3h0m3-1h0m1-6h0m0 0h0m1 5h0m1 1h0m4 1h0m2-1h0m0-3h0m1 1h0m5 0h0m1-2h0m1 1h0m0 0h0m4 4h0m1 0h0m1-1h0m0-5h0m2 0h0m2 6h0m0-6h0m5 3h0m1 0h0m0-2h0m-74 9h0m0 3h0m2-2h0m1-4h0m1 7h0m2-6h0m0 3h0m1 2h0m1-2h0m0 3h0m0 0h0m3-6h0m0 6h0m2-1h0m1 0h0m3-2h0m0 1h0m3 1h0m1 0h0m2-6h0m2 6h0m1-6h0m0 6h0m0-4h0m2 0h0m1 5h0m0-4h0m2 2h0m1-3h0m0-1h0m4 5h0m2-3h0m2 3h0m3-3h0m2-2h0m1 0h0m1 3h0m0 0h0m0 0h0m4-4h0m1 1h0m2 0h0m2 0h0m1 1h0m1-2h0m2 6h0m0-2h0m0-2h0m1 0h0m2 0h0m1 4h0m0 0h0m0 1h0m1-1h0m4-3h0m0 4h0m1-1h0m1-1h0m0-3h0m1 4h0m5-4h0m1 1h0m0 4h0m1-6h0m2 0h0m-79 12h0m1-1h0m1-1h0m1 3h0m0-6h0m1 0h0m8 3h0m1 1h0m1-4h0m0 4h0m0 3h0m1-1h0m0-1h0m2 1h0m0-6h0m3 4h0m2-2h0m0 4h0m1-6h0m1 6h0m1 1h0m0-5h0m2 3h0m0-3h0m0 0h0m3 4h0m0-2h0m2-2h0m2 5h0m0-2h0m0-5h0m2 2h0m1 2h0m2-3h0m1 1h0m3 4h0m1-2h0m1-4h0m0 4h0m1 3h0m0-6h0m0 4h0m2 1h0m4-4h0m0 1h0m0-1h0m1-1h0m1 0h0m1 3h0m0 0h0m0 1h0m2 0h0m0-3h0m1-2h0m0 1h0m1 3h0m0-1h0m0 0h0m1-2h0m2 6h0m1-5h0m1 3h0m0 0h0m0 2h0m1-6h0m2 0h0m1 6h0m3-4h0m1 4h0m3-2h0m1 1h0m1-5h0m3-1h0m2 0h0m-82 11h0m5 2h0m0-4h0m5 3h0m1 0h0m2 2h0m1-3h0m0 1h0m1 3h0m1-1h0m0-5h0m0 5h0m1-6h0m1 1h0m5 5h0m1 1h0m1-5h0m0 2h0m0 1h0m3-2h0m0 2h0m1-4h0m3 2h0m3 1h0m1-3h0m1 3h0m1-4h0m0 0h0m0 7h0m1-3h0m1 3h0m1 0h0m1-7h0m4 4h0m1-2h0m2-1h0m1 0h0m2-1h0m2 4h0m2-2h0m2-2h0m0 2h0m1 5h0m1-1h0m0 0h0m3-5h0m0 5h0m1-6h0m1 1h0m1 0h0m0 3h0m4-3h0m1 1h0m1 1h0m2 1h0m0 0h0m1 3h0m1-3h0m0 2h0m1-5h0m4 0h0m1 5h0m0 1h0m3-7h0m-85 12h0m0 0h0m6 2h0m1 0h0m0-1h0m3 2h0m0-5h0m1-2h0m3 3h0m1 2h0m2-2h0m1-1h0m0 0h0m3 1h0m1-1h0m6-1h0m2 2h0m0 0h0m10-3h0m1 0h0m2 2h0m2 0h0m2 2h0m3 1h0m1-4h0m1 2h0m0 1h0m4 1h0m0 1h0m1-5h0m0 4h0m3-1h0m1 3h0m0-3h0m0-3h0m1 1h0m0 4h0m1-4h0m2-1h0m4 4h0m1-3h0m4 2h0m0 3h0m0-2h0m3-2h0m0 3h0m2 0h0m2-3h0m1-2h0m0 2h0m-80 12h0m0-3h0m1-4h0m5 2h0m1 1h0m9-1h0m0 3h0m2-1h0m1-2h0m3-1h0m0 5h0m2-4h0m3 3h0m0-4h0m1 2h0m1 4h0m1-7h0m3 4h0m4-2h0m1 3h0m4-5h0m0 4h0m1 3h0m3-1h0m2-1h0m1-5h0m0 6h0m1-5h0m2-1h0m0 5h0m4-5h0m0 2h0m0 5h0m2-2h0m0 0h0m2 1h0m0-6h0m2 1h0m0 4h0m1 2h0m0 0h0m0 0h0m0-5h0m3 4h0m2 0h0m0-1h0m2-4h0m3 2h0m2-1h0m-74 9h0m0 3h0m0 1h0m1-7h0m4 5h0m1-2h0m0-1h0m2 1h0m1-3h0m5 7h0m0-3h0m1 2h0m3-2h0m2-4h0m0 6h0m1-4h0m1 2h0m8 2h0m1-6h0m0 4h0m3 3h0m1-7h0m6 5h0m1-5h0m2 0h0m1 4h0m3-3h0m5 5h0m1 0h0m0 0h0m1-5h0m2-1h0m0 2h0m0 5h0m5-3h0m2-3h0m0-1h0m3 0h0m1 1h0m-66 9h0m5 5h0m3-1h0m0-5h0m0 3h0m1-4h0m0 5h0m5-4h0m0-1h0m1 6h0m2-6h0m1 7h0m5-6h0m1 2h0m6 2h0m0-1h0m0-1h0m2-1h0m1-1h0m0 4h0m1 2h0m0 0h0m1-2h0m3-5h0m1 2h0m1 5h0m1 0h0m4-7h0m3 3h0m2 3h0m0-2h0m3-2h0m1-1h0m2 1h0m0-2h0m-54 8h0m1 5h0m0-4h0m4 4h0m1 0h0m0-2h0m1-3h0m1 2h0m0 4h0m0 1h0m2-5h0m1 5h0m0-1h0m2-3h0m1 2h0m1-5h0m4 1h0m1 6h0m2-5h0m3 2h0m1 0h0m0-3h0m1-1h0m1 1h0m1 0h0m2 0h0m0 1h0m1 2h0m4-2h0m1 4h0m2 0h0m5-3h0m0 3h0m-38 6h0m0-3h0m1 6h0m3-3h0m1-3h0m0 1h0m0-1h0m1 6h0m0-4h0m2-2h0m2 6h0m1-1h0m3-3h0m1-2h0m4 0h0m3 4h0m0-5h0m4 2h0m0 3h0m2-5h0m2 1h0m0 1h0m1 2h0m0 2h0m4-3h0m0-3h0m1 3h0m-28 8h0m2-1h0m2 5h0m0-6h0m2-1h0m5 4h0m1-2h0m2 1h0m6 4h0m1-6h0m0 3h0m0-1h0m2 2h0m-20 4h0m5 4h0m1 2h0m3-5h0m0 4h0m0-5h0m3 3h0m1 0h0m0-2h0m2 4h0m1-3h0m0-1h0m2-1h0m0 2h0m1-1h0m0-2h0m-12 8h0" stroke="#7573dc" stroke-width="2.90" stroke-linecap="round" opacity="0.80" fill="none"/>
<path d="M787 374h0m3-2h0m1 2h0m5-1h0m-7 4h0m1 6h0m1-5h0m7 0h0m0 1h0m2-3h0m8 6h0m3 0h0m2 1h0m0 0h0m2-1h0m-42 8h0m4-5h0m7 4h0m2 2h0m8-5h0m1 5h0m2-3h0m1-2h0m1 5h0m1-5h0m4 0h0m1-2h0m0 1h0m7 5h0m2-6h0m1 3h0m2-1h0m0 5h0m5 0h0m3-3h0m2 2h0m1-1h0m8 1h0m-60 2h0m2 7h0m5 0h0m1-4h0m6-1h0m2 5h0m1-3h0m3-1h0m9 3h0m0-5h0m10 2h0m1 0h0m5 0h0m3-2h0m1 0h0m3 4h0m1-1h0m7 0h0m3-2h0m1-2h0m2 2h0m1 0h0m-75 10h0m4-4h0m1 1h0m8 4h0m4 2h0m4-3h0m1 3h0m1 0h0m2-6h0m2 2h0m0 2h0m8 2h0m3-1h0m1-1h0m1-5h0m1 6h0m0-2h0m4-2h0m3-1h0m3 2h0m5-3h0m1 2h0m0 2h0m4 2h0m1-1h0m1 2h0m1-4h0m0 3h0m1-2h0m1 1h0m1-5h0m4 3h0m2-2h0m2 5h0m0-6h0m1 3h0m3 1h0m0-2h0m-79 6h0m0 2h0m12 4h0m2-1h0m3-3h0m1 1h0m3-1h0m3-2h0m2 3h0m2 1h0m2-3h0m2 6h0m0-4h0m1 4h0m3-2h0m0 0h0m1-1h0m6-4h0m2 5h0m0-3h0m4 4h0m4-5h0m1 5h0m1-3h0m8 4h0m10-5h0m2-2h0m0 4h0m3 1h0m1 1h0m0 0h0m0 0h0m1-6h0m1 2h0m1 1h0m3 0h0m-85 10h0m0-5h0m1 2h0m2 1h0m5 3h0m1-3h0m1 3h0m1-1h0m1 1h0m0-3h0m1 4h0m1-3h0m11 3h0m1-7h0m5 2h0m3 0h0m1 0h0m0 0h0m1 3h0m1 0h0m0-4h0m1 0h0m0 2h0m2-1h0m1-2h0m2 4h0m1 2h0m0-5h0m2-1h0m1 5h0m0-4h0m7 5h0m3 1h0m0-2h0m1 1h0m0-5h0m1 1h0m4-1h0m2 0h0m7-1h0m1 3h0m1 0h0m1-2h0m0 1h0m1 1h0m2-2h0m1 0h0m1-1h0m1 4h0m3-3h0m1-1h0m0 3h0m2 0h0m0-3h0m0 2h0m1 5h0m0-2h0m5 1h0m-46 2h0m9 2h0m4-2h0m0 6h0m2-1h0m4-3h0m2-1h0m2 0h0m2 1h0m2 4h0m3-1h0m1 0h0m3 0h0m1 1h0m6-5h0m1 5h0m1-5h0m4 3h0m2 0h0m2 2h0m0-2h0m1 2h0m-26 6h0m7-3h0m6 6h0m3-4h0m14 0h0m-18 5h0m7 2h0m1 0h0m2 0h0m1-1h0m3 0h0m4 0h0m-19 7h0m2 1h0m1 2h0m0 1h0" stroke="#7573dc" stroke-width="2.90" stroke-linecap="round" opacity="0.80" fill="none"/>
<path d="M767 430h0m4-3h0m6-3h0m3 6h0m-14 10h0m1 3h0m4-1h0m-20 8h0m4 4h0m1-4h0m1 5h0m3-1h0m1-3h0m7-2h0m3 5h0m0-4h0m1 1h0m1 1h0m2-3h0m5-1h0m-34 12h0m4 3h0m3-1h0m2 1h0m2-3h0m1 3h0m8-3h0m2 2h0m-13 6h0m7-2h0m2-1h0m5 5h0m2-2h0m-24 10h0m8 1h0m8-1h0m7-6h0m-16 10h0m9 0h0m2 0h0" stroke="#7573dc" stroke-width="2.90" stroke-linecap="round" opacity="0.80" fill="none"/>
<path d="M791 424h0m7 6h0m9-4h0m3 0h0m5 0h0m2 3h0m4 0h0m-35 9h0m6-5h0m5 1h0m1 5h0m0-3h0m1-1h0m1-2h0m2 0h0m5 3h0m3 2h0m0 0h0m7-3h0m0 4h0m-29 5h0m11-2h0m3 1h0m1-3h0m2 2h0m5 3h0m1-1h0m0 1h0m3 0h0m3 0h0m0-5h0m2 7h0m1-2h0m1-3h0m13-1h0m1 6h0m0-7h0m1 4h0m2-3h0m5 4h0m-59 6h0m3 0h0m1-1h0m5 2h0m2-2h0m0-2h0m1 6h0m2-4h0m4 5h0m1-7h0m0 4h0m6 1h0m1-2h0m16 2h0m1 2h0m6-7h0m2 1h0m1 3h0m0 2h0m3-1h0m3 0h0m7-1h0m2-3h0m-63 13h0m0-4h0m6-1h0m0 6h0m3-5h0m3 3h0m1-2h0m5-3h0m1 4h0m0 1h0m1-1h0m2-1h0m1 2h0m7-2h0m1 1h0m1 1h0m5 1h0m1-2h0m7-3h0m3 3h0m8-3h0m1 2h0m1 3h0m0-3h0m6-1h0m5 4h0m-77 7h0m3-2h0m5 2h0m7 0h0m4-4h0m5 0h0m5-1h0m6 3h0m1 0h0m4-2h0m5 4h0m3-2h0m3 1h0m8-1h0m0-1h0m5 4h0m3-1h0m3-1h0m1 1h0m2-1h0m2-1h0m0-1h0m-57 9h0m9 0h0m7 4h0m2 0h0m11 0h0m16-7h0m1 5h0m1 1h0m-29 2h0" stroke="#7573dc" stroke-width="2.90" stroke-linecap="round" opacity="0.80" fill="none"/>
<path d="M803 319h0m16-6h0m3 3h0m2 2h0m4-6h0m-26 15h0m16 0h0m0-1h0m6-2h0m-8 10h0m9-2h0m-20 10h0m6-6h0m11 3h0m-26 12h0m8-4h0m6 0h0m14-1h0m-23 8h0m8 5h0m2-6h0m13 1h0m-10 12h0m13-1h0m6-1h0m-28 6h0m21 4h0m7 1h0m0-4h0m-16 5h0" stroke="#7573dc" stroke-width="2.90" stroke-linecap="round" opacity="0.80" fill="none"/>
<path d="M729 270h0m10 0h0m0 0h0m-13 4h0m4 4h0m0 1h0m3-5h0m7 0h0m4 3h0m2 1h0m-18 5h0m8 1h0m5 1h0m0 2h0m0-7h0m-7 10h0m1 5h0m8-6h0m1 1h0m-8 10h0" stroke="#7573dc" stroke-width="2.90" stroke-linecap="round" opacity="0.80" fill="none"/>
<path d="M772 295h0m0 5h0m3 0h0m5 1h0m4 2h0m-16 5h0m4 0h0m-1 5h0m2 1h0m6 5h0m4-6h0m-5 7h0m-21 11h0m9-2h0m1 6h0m3-3h0m2 3h0m-30 7h0m5-2h0m2-3h0m9-1h0m-21 15h0m6-7h0m3 5h0m0 0h0m5-2h0m5 2h0m0 0h0m3 0h0m4 1h0m2-6h0m3 3h0m1 2h0m1 0h0m-29 3h0m22 6h0m3-2h0m1-4h0m0 2h0m-12 6h0" stroke="#7573dc" stroke-width="2.90" stroke-linecap="round" opacity="0.80" fill="none"/>
<path d="M844 250h0m1-2h0m0 0h0m3 5h0m-8 6h0m5 3h0m3 0h0m-10 6h0m1 2h0m1-4h0" stroke="#7573dc" stroke-width="2.90" stroke-linecap="round" opacity="0.80" fill="none"/>
<path d="M623 316h0m0 3h0m-4 2h0m0-1h0m0 2h0m0 2h0m2 2h0m0-3h0m3 4h0m4-2h0m1-4h0m-11 7h0m0 0h0m1 2h0m1 4h0m3 0h0m1-2h0m1-4h0m0 0h0m1 3h0m1-1h0m1 2h0m0 3h0m2 0h0m0-2h0m-9 7h0m3 1h0m1-4h0m2 4h0m2 0h0m-12 3h0m0 2h0m2 2h0m0 2h0m1-4h0m0 5h0m3-3h0m0-2h0m3-2h0m2 4h0m0 0h0m0-2h0m1 0h0m-10 12h0m0-4h0m1 2h0m1 3h0m3-6h0m2 1h0m2 5h0m0-1h0m-7 3h0m1 5h0m5 1h0m1-6h0m-8 7h0m0 5h0m1 0h0m1-3h0m2 5h0m2-7h0m0 7h0m0-3h0m-3 4h0m3 2h0m0 1h0m1-3h0m1 6h0m0-3h0m1-3h0" stroke="#7573dc" stroke-width="2.90" stroke-linecap="round" opacity="0.80" fill="none"/>
<path d="M791 374h0m1 0h0m1-2h0m0 1h0m0 2h0m0 0h0m1-4h0m0 3h0m0-1h0m0 2h0m1-1h0m0-3h0m0 0h0m1 3h0m0-1h0m0-1h0m1 3h0m0-3h0m0 2h0m1 0h0m0-2h0m0-3h0m1-1h0m1 5h0m0-2h0m0-2h0m1 3h0m0 0h0m0 2h0m0 1h0m1-1h0m1-2h0m0-4h0m1 6h0m0-3h0m0 2h0m-22 10h0m1 0h0m1-1h0m2 0h0m0 0h0m0 0h0m0 0h0m0 0h0m1-2h0m1-3h0m0 4h0m1-2h0m0-3h0m0 3h0m0 4h0m1-3h0m0-4h0m0 6h0m0-6h0m0 5h0m0-1h0m0 3h0m0 0h0m1-2h0m0-4h0m1 0h0m0 5h0m0-3h0m0-2h0m0 1h0m1 2h0m1 2h0m0 0h0m0-6h0m0 5h0m1 1h0m0-4h0m0 2h0m0-4h0m0 3h0m1-1h0m0-2h0m0 6h0m0-2h0m1 0h0m0 3h0m0 0h0m3-2h0m0 0h0m0 0h0m1-5h0m0 1h0m0-1h0m0 5h0m1-4h0m0 1h0m0 0h0m1-2h0m-24 14h0m1 0h0m1 0h0m0 0h0m0-1h0m1 2h0m0-5h0m0-2h0m1 2h0m0 0h0m0 2h0m0 1h0m0-2h0m1 3h0m0-6h0m0 3h0m0 4h0m0-5h0m1 3h0m0-5h0m1 3h0m0 0h0m0 0h0m1-3h0m0 1h0m1-1h0m0 0h0m0 4h0m1-1h0m0 2h0m1-5h0m1 3h0m0 1h0m0-3h0m0 6h0m0-4h0m0 1h0m1-3h0m0 5h0m0 1h0m0 0h0m1-2h0m0 0h0m0 1h0m0-3h0m0 4h0m1-1h0m0-1h0m1 1h0m0-3h0m2 1h0m0-4h0m0 0h0m1 2h0m1-2h0m0 1h0m-21 9h0m1 0h0m0 2h0m0-2h0m1 5h0m0-4h0m0 4h0m1-3h0m1 1h0m0 0h0m1-5h0m0 5h0m0-5h0m0 3h0m1-3h0m0 6h0m1 0h0m0-4h0m1-1h0m0 0h0m0 6h0m1-1h0m0 1h0m0-5h0m0-2h0m0 6h0m0-6h0m0 6h0m1-5h0m0 3h0m0 2h0m0-3h0m1 3h0m0-5h0m0-1h0m0 7h0m0-4h0m1-2h0m0 6h0m0-5h0m0-1h0m1 2h0m0 4h0m1-5h0m0-1h0m0 5h0m0-5h0m0 3h0m0 0h0m1-2h0m0 4h0m0-6h0m0 4h0m1-2h0m0-1h0m1-1h0m1 1h0m0-1h0m-16 10h0m0-1h0m0 0h0m1 2h0m1-1h0m1-1h0m1 0h0m0-1h0m0 1h0m0 0h0m1 1h0m0 0h0m1-1h0m0 2h0m0 1h0m0 1h0m1 0h0m1-1h0m1-2h0m1-2h0m0 0h0m1 0h0" stroke="#3b45dc" stroke-width="2.60" stroke-linecap="round" opacity="0.95" fill="none"/>
<path d="M753 454h0m2-1h0m3 2h0m2-2h0m1 2h0m4 0h0m-18 3h0m0 1h0m1 0h0m0 0h0m0-2h0m0 0h0m1 4h0m0-1h0m1-1h0m0 1h0m3-4h0m0 2h0m0 4h0m0-5h0m1-1h0m0 4h0m1-4h0m0 5h0m1-3h0m0 1h0m0 0h0m1 4h0m0-3h0m0-3h0m1 1h0m1-1h0m0-1h0m0 0h0m1 5h0m0-1h0m0 1h0m0 2h0m1-4h0m0-1h0m0 2h0m0-3h0m1-1h0m1 0h0m0 6h0m0-4h0m0-1h0m1 5h0m0-5h0m1 6h0m0-4h0m1-1h0m0-2h0m1 1h0m2 5h0m-23 7h0m1-3h0m0 0h0m0 2h0m0-4h0m3 1h0m0 0h0m1 2h0m0 1h0m0-3h0m0 1h0m1 2h0m0-1h0m1 4h0m0-1h0m0-5h0m0-1h0m2 5h0m0-4h0m2 1h0m0 3h0m0 1h0m0-4h0m0 1h0m1 2h0m0-3h0m1 2h0m0 2h0m0-4h0m0 5h0m0-1h0m1-5h0m0 0h0m0 6h0m0-6h0m1 1h0m1 4h0m0-2h0m0 0h0m0-2h0m1 3h0m0-1h0m0-4h0m1 7h0m0-2h0m1 2h0m0-1h0m0 0h0m0-6h0m1 3h0m1 1h0m0 0h0m1 0h0m1-2h0m1-1h0m-24 7h0m1 2h0m0 2h0m0-2h0m0 0h0m1 0h0m1 3h0m0-1h0m0-2h0m0-1h0m1 2h0m0-2h0m1 4h0m0-1h0m0-2h0m1 2h0m0-2h0m2 3h0m2-1h0m0-3h0m1 4h0m2 1h0m0-2h0m0 3h0m0-5h0m0 2h0m1 3h0m1-6h0m0 4h0m1-3h0m0 1h0m1-3h0m1 4h0m0 1h0m0-5h0m1 1h0m0 5h0m0-6h0m1 4h0m0 1h0m0 2h0m0 0h0m0-5h0m1 3h0m0-3h0m0-1h0m0 3h0m1-3h0m-17 8h0m2 0h0m3 3h0m1-1h0m1-1h0m1-1h0m0 2h0m1-2h0m0 2h0m0-1h0m1 2h0m3-2h0" stroke="#4a4ed8" stroke-width="2.60" stroke-linecap="round" opacity="0.90" fill="none"/>
<path d="M799 317h0m0 0h0m0 2h0m2-2h0m0 2h0m1 0h0m0 0h0m2 0h0m-10 4h0m0 1h0m1 1h0m0-3h0m3-1h0m2 1h0m1-2h0m1 1h0m2-1h0m0 6h0m0 0h0m2-4h0m-12 9h0m2 4h0m1-5h0m1 0h0m0 2h0m1 3h0m0-3h0m1-3h0m0 0h0m0 5h0m0 0h0m0-5h0m1 4h0m1-3h0m0-1h0" stroke="#4447d6" stroke-width="2.40" stroke-linecap="round" opacity="1.00" fill="none"/>
</g>
<line x1="135.4" y1="167.5" x2="135.4" y2="534.5" stroke="#111" stroke-width="2.00"/>
<line x1="134.4" y1="533.5" x2="495.6" y2="533.5" stroke="#111" stroke-width="2.00"/>
<line x1="129.9" y1="263.2" x2="135.4" y2="263.2" stroke="#111" stroke-width="2.20"/>
<text x="126.4" y="269.2" font-size="16.5" text-anchor="end" fill="#161616" stroke="#161616" stroke-width="0.35">5</text>
<line x1="129.9" y1="360.6" x2="135.4" y2="360.6" stroke="#111" stroke-width="2.20"/>
<text x="126.4" y="366.6" font-size="16.5" text-anchor="end" fill="#161616" stroke="#161616" stroke-width="0.35">0</text>
<line x1="129.9" y1="458.6" x2="135.4" y2="458.6" stroke="#111" stroke-width="2.20"/>
<text x="126.4" y="464.6" font-size="16.5" text-anchor="end" fill="#161616" stroke="#161616" stroke-width="0.35">−5</text>
<line x1="180.6" y1="533.5" x2="180.6" y2="539.0" stroke="#111" stroke-width="2.20"/>
<text x="181.1" y="553.5" font-size="16.5" text-anchor="middle" fill="#161616" stroke="#161616" stroke-width="0.35">−10</text>
<line x1="255.0" y1="533.5" x2="255.0" y2="539.0" stroke="#111" stroke-width="2.20"/>
<text x="255.5" y="553.5" font-size="16.5" text-anchor="middle" fill="#161616" stroke="#161616" stroke-width="0.35">−5</text>
<line x1="330.0" y1="533.5" x2="330.0" y2="539.0" stroke="#111" stroke-width="2.20"/>
<text x="330.5" y="553.5" font-size="16.5" text-anchor="middle" fill="#161616" stroke="#161616" stroke-width="0.35">0</text>
<line x1="404.6" y1="533.5" x2="404.6" y2="539.0" stroke="#111" stroke-width="2.20"/>
<text x="405.1" y="553.5" font-size="16.5" text-anchor="middle" fill="#161616" stroke="#161616" stroke-width="0.35">5</text>
<line x1="479.6" y1="533.5" x2="479.6" y2="539.0" stroke="#111" stroke-width="2.20"/>
<text x="480.1" y="553.5" font-size="16.5" text-anchor="middle" fill="#161616" stroke="#161616" stroke-width="0.35">10</text>
<text x="0" y="0" font-size="17.5" text-anchor="middle" fill="#1a1a1a" transform="translate(100.9 351.0) rotate(-90)">UMAP_2</text>
<text x="315.0" y="573.5" font-size="17.5" text-anchor="middle" fill="#1a1a1a" stroke="#1a1a1a" stroke-width="0.35">UMAP_1</text>
<line x1="592.0" y1="167.7" x2="592.0" y2="534.9" stroke="#111" stroke-width="2.00"/>
<line x1="591.0" y1="533.9" x2="951.0" y2="533.9" stroke="#111" stroke-width="2.00"/>
<line x1="586.5" y1="263.0" x2="592.0" y2="263.0" stroke="#111" stroke-width="2.20"/>
<text x="583.0" y="269.0" font-size="16.5" text-anchor="end" fill="#161616" stroke="#161616" stroke-width="0.35">5</text>
<line x1="586.5" y1="360.2" x2="592.0" y2="360.2" stroke="#111" stroke-width="2.20"/>
<text x="583.0" y="366.2" font-size="16.5" text-anchor="end" fill="#161616" stroke="#161616" stroke-width="0.35">0</text>
<line x1="586.5" y1="458.8" x2="592.0" y2="458.8" stroke="#111" stroke-width="2.20"/>
<text x="583.0" y="464.8" font-size="16.5" text-anchor="end" fill="#161616" stroke="#161616" stroke-width="0.35">−5</text>
<line x1="637.7" y1="533.9" x2="637.7" y2="539.4" stroke="#111" stroke-width="2.20"/>
<text x="638.2" y="553.9" font-size="16.5" text-anchor="middle" fill="#161616" stroke="#161616" stroke-width="0.35">−10</text>
<line x1="712.8" y1="533.9" x2="712.8" y2="539.4" stroke="#111" stroke-width="2.20"/>
<text x="713.3" y="553.9" font-size="16.5" text-anchor="middle" fill="#161616" stroke="#161616" stroke-width="0.35">−5</text>
<line x1="787.2" y1="533.9" x2="787.2" y2="539.4" stroke="#111" stroke-width="2.20"/>
<text x="787.7" y="553.9" font-size="16.5" text-anchor="middle" fill="#161616" stroke="#161616" stroke-width="0.35">0</text>
<line x1="861.3" y1="533.9" x2="861.3" y2="539.4" stroke="#111" stroke-width="2.20"/>
<text x="861.8" y="553.9" font-size="16.5" text-anchor="middle" fill="#161616" stroke="#161616" stroke-width="0.35">5</text>
<line x1="936.3" y1="533.9" x2="936.3" y2="539.4" stroke="#111" stroke-width="2.20"/>
<text x="936.8" y="553.9" font-size="16.5" text-anchor="middle" fill="#161616" stroke="#161616" stroke-width="0.35">10</text>
<text x="0" y="0" font-size="17.5" text-anchor="middle" fill="#1a1a1a" transform="translate(557.3 350.0) rotate(-90)">UMAP_2</text>
<text x="772.0" y="573.0" font-size="17.5" text-anchor="middle" fill="#1a1a1a" stroke="#1a1a1a" stroke-width="0.35">UMAP_1</text>
<rect x="171.0" y="416.0" width="20.0" height="97.0" fill="url(#cbar)"/>
<line x1="171.0" y1="425.6" x2="174.5" y2="425.6" stroke="#fff" stroke-width="1.00" opacity="0.8"/>
<line x1="187.5" y1="425.6" x2="191.0" y2="425.6" stroke="#fff" stroke-width="1.00" opacity="0.8"/>
<text x="199.6" y="431.3" font-size="16.0" text-anchor="start" fill="#161616" stroke="#161616" stroke-width="0.35">2.0</text>
<line x1="171.0" y1="448.0" x2="174.5" y2="448.0" stroke="#fff" stroke-width="1.00" opacity="0.8"/>
<line x1="187.5" y1="448.0" x2="191.0" y2="448.0" stroke="#fff" stroke-width="1.00" opacity="0.8"/>
<text x="199.6" y="453.7" font-size="16.0" text-anchor="start" fill="#161616" stroke="#161616" stroke-width="0.35">1.5</text>
<line x1="171.0" y1="470.3" x2="174.5" y2="470.3" stroke="#fff" stroke-width="1.00" opacity="0.8"/>
<line x1="187.5" y1="470.3" x2="191.0" y2="470.3" stroke="#fff" stroke-width="1.00" opacity="0.8"/>
<text x="199.6" y="476.0" font-size="16.0" text-anchor="start" fill="#161616" stroke="#161616" stroke-width="0.35">1.0</text>
<line x1="171.0" y1="492.0" x2="174.5" y2="492.0" stroke="#fff" stroke-width="1.00" opacity="0.8"/>
<line x1="187.5" y1="492.0" x2="191.0" y2="492.0" stroke="#fff" stroke-width="1.00" opacity="0.8"/>
<text x="199.6" y="497.7" font-size="16.0" text-anchor="start" fill="#161616" stroke="#161616" stroke-width="0.35">0.5</text>
<text x="199.6" y="520.3" font-size="16.0" text-anchor="start" fill="#161616" stroke="#161616" stroke-width="0.35">0.0</text>
<rect x="628.0" y="415.0" width="19.5" height="98.6" fill="url(#cbar)"/>
<line x1="628.0" y1="426.2" x2="631.5" y2="426.2" stroke="#fff" stroke-width="1.00" opacity="0.8"/>
<line x1="644.0" y1="426.2" x2="647.5" y2="426.2" stroke="#fff" stroke-width="1.00" opacity="0.8"/>
<text x="655.6" y="431.9" font-size="16.0" text-anchor="start" fill="#161616" stroke="#161616" stroke-width="0.35">2.0</text>
<line x1="628.0" y1="448.0" x2="631.5" y2="448.0" stroke="#fff" stroke-width="1.00" opacity="0.8"/>
<line x1="644.0" y1="448.0" x2="647.5" y2="448.0" stroke="#fff" stroke-width="1.00" opacity="0.8"/>
<text x="655.6" y="453.7" font-size="16.0" text-anchor="start" fill="#161616" stroke="#161616" stroke-width="0.35">1.5</text>
<line x1="628.0" y1="470.2" x2="631.5" y2="470.2" stroke="#fff" stroke-width="1.00" opacity="0.8"/>
<line x1="644.0" y1="470.2" x2="647.5" y2="470.2" stroke="#fff" stroke-width="1.00" opacity="0.8"/>
<text x="655.6" y="475.9" font-size="16.0" text-anchor="start" fill="#161616" stroke="#161616" stroke-width="0.35">1.0</text>
<line x1="628.0" y1="492.0" x2="631.5" y2="492.0" stroke="#fff" stroke-width="1.00" opacity="0.8"/>
<line x1="644.0" y1="492.0" x2="647.5" y2="492.0" stroke="#fff" stroke-width="1.00" opacity="0.8"/>
<text x="655.6" y="497.7" font-size="16.0" text-anchor="start" fill="#161616" stroke="#161616" stroke-width="0.35">0.5</text>
<text x="655.6" y="520.0" font-size="16.0" text-anchor="start" fill="#161616" stroke="#161616" stroke-width="0.35">0.0</text>
<text x="0" y="0" font-size="39.8" font-weight="bold" font-style="italic" fill="#161616" textLength="72" lengthAdjust="spacingAndGlyphs" transform="translate(960.8 326.8) rotate(90)">Myc</text>
<text x="250.5" y="819.4" font-size="30.5" text-anchor="start" font-style="italic" fill="#111">Kdm6a</text>
<text x="250.5" y="819.4" font-size="30.5" fill="#111"><tspan font-style="italic" fill-opacity="0">Kdm6a</tspan>-WT</text>
<text x="703.0" y="820.0" font-size="30.5" text-anchor="start" font-style="italic" fill="#111">Kdm6a</text>
<text x="703" y="820" font-size="30.5" fill="#111"><tspan font-style="italic" fill-opacity="0">Kdm6a</tspan>-Mutant</text>
<g filter="url(#blurU)">
<path d="M418 943h0m1-1h0m-5 6h0m2 3h0m-4 4h0m3 1h0m-11 11h0m2-5h0m12 3h0m3 2h0m-19 4h0m6 4h0m2 0h0m4-3h0m1 1h0m4-2h0m4 3h0m4-1h0m3-2h0m8 1h0m-52 10h0m8 0h0m4-5h0m0 3h0m1 2h0m1 0h0m0 0h0m19-5h0m2 0h0m7 6h0m6-7h0m2 5h0m1-2h0m-51 6h0m5 4h0m2-4h0m5 2h0m1 4h0m1 0h0m2-2h0m1-3h0m1-1h0m9 4h0m6-2h0m8 2h0m0-5h0m2 3h0m3-2h0m4-1h0m1 4h0m4 1h0m-47 9h0m6-2h0m2 3h0m2-1h0m0-1h0m0-5h0m2 7h0m4-5h0m2 1h0m0 4h0m4-6h0m8 3h0m5-4h0m1 0h0m3 6h0m1-2h0m2-4h0m2 4h0m2-3h0m-54 11h0m4-3h0m0 3h0m2-1h0m6 2h0m3-1h0m0-1h0m1 2h0m13-3h0m5 4h0m1 1h0m3-2h0m4-4h0m11 6h0m3-1h0m5-5h0m1 1h0m5 2h0m-67 4h0m1 3h0m0 0h0m4-2h0m5 3h0m0 3h0m2-1h0m15-6h0m7 2h0m4 5h0m1 0h0m2-3h0m1 3h0m4-2h0m9-2h0m4 1h0m1 3h0m2-5h0m0 1h0m5-1h0m2-1h0m-73 8h0m1 3h0m1-2h0m1-1h0m2 6h0m2-7h0m11 6h0m6-1h0m2-4h0m6-1h0m3 0h0m10 7h0m12-4h0m1-3h0m0 0h0m1 7h0m1 0h0m3-4h0m3 3h0m1-1h0m2-1h0m4-2h0m1 2h0m4-1h0m0-1h0m1 2h0m-74 6h0m1 0h0m2-2h0m5 4h0m18-1h0m1-3h0m13 7h0m2-6h0m1-1h0m7 3h0m13 1h0m8-2h0m5 3h0m7 2h0m1 0h0m-82 1h0m4 3h0m2-2h0m1 0h0m4 0h0m0 0h0m1 3h0m2-2h0m4 2h0m0-1h0m6 0h0m2 4h0m1-4h0m5 1h0m2-4h0m12 3h0m1-2h0m15 1h0m10 0h0m13 2h0m0 0h0m1 1h0m-91 6h0m7 3h0m6-4h0m1 2h0m1-4h0m11 4h0m5-2h0m2-1h0m5 0h0m4-1h0m1 7h0m7-3h0m2-1h0m15 3h0m0 1h0m1-6h0m12 1h0m0 4h0m1-4h0m1 3h0m3 0h0m1-3h0m9 1h0m2 4h0m-87 5h0m1-4h0m1 2h0m4-1h0m2 2h0m3-1h0m3 1h0m2 2h0m3-5h0m1 0h0m3 4h0m1 0h0m4 1h0m4-3h0m0 5h0m13-5h0m3 5h0m1-3h0m4 2h0m9-1h0m5-2h0m3 2h0m4-3h0m11 1h0m3-1h0m0 1h0m-97 9h0m2 2h0m0 0h0m1-2h0m6 1h0m8 0h0m6-4h0m9 6h0m0-5h0m4 0h0m6 5h0m0-5h0m3 4h0m1-1h0m5-5h0m13 5h0m9-2h0m11 0h0m2 0h0m11 0h0m1 2h0m-101 9h0m8-5h0m2 6h0m5-3h0m4 3h0m6-4h0m4-2h0m8 5h0m3-5h0m8-1h0m0 6h0m4-2h0m6-1h0m3 1h0m4-3h0m2 5h0m0-1h0m7 1h0m0-1h0m0-2h0m3-1h0m4-2h0m18 1h0m-104 9h0m7 1h0m23 0h0m1-2h0m1 3h0m1-4h0m3 6h0m3-6h0m1 5h0m3-4h0m1 2h0m0-3h0m7 1h0m4 3h0m3 1h0m10-3h0m3 5h0m1-7h0m6 5h0m1 0h0m2 2h0m3-6h0m1 3h0m8 3h0m6-6h0m2 3h0m1 1h0m0 2h0m3-4h0m-102 9h0m1-1h0m3-3h0m2 5h0m1-5h0m2 6h0m2-3h0m2 1h0m2 0h0m11 1h0m6-2h0m0 3h0m6-2h0m0-2h0m6 1h0m13-3h0m6 4h0m4-2h0m4 2h0m11 3h0m1-3h0m2-4h0m4 6h0m0-5h0m7-1h0m2 5h0m-106 5h0m1 1h0m2 2h0m1-3h0m7-2h0m5 6h0m2 0h0m4-3h0m7-3h0m3 3h0m0-3h0m5 3h0m12-1h0m0-2h0m0 6h0m2-2h0m8 3h0m5-7h0m3 3h0m2 1h0m6-1h0m1 1h0m3 2h0m6-1h0m7-5h0m6 5h0m-96 8h0m2-1h0m1 2h0m2-5h0m1 0h0m3 2h0m4 2h0m3 1h0m1-1h0m7-1h0m2-1h0m1-2h0m5 0h0m3 2h0m2 4h0m10-4h0m3-1h0m1-2h0m2 2h0m5 1h0m2 2h0m5-1h0m1 0h0m7-1h0m3 0h0m3 3h0m4-4h0m9-1h0m1 0h0m-101 13h0m1-4h0m0-2h0m5 1h0m0 0h0m0 3h0m2-3h0m4 2h0m1 4h0m9-5h0m6 2h0m1-4h0m11 7h0m4-4h0m5-1h0m1 5h0m5-7h0m3 2h0m5-1h0m13 5h0m6-5h0m3 3h0m-74 5h0m3 0h0m8-1h0m1 4h0m6 0h0m5 2h0m3-6h0m3 2h0m7 2h0m1 2h0m7-5h0m10 6h0m4-2h0m2-2h0m0-2h0m10-1h0m-61 13h0m5 1h0m13-1h0m4-4h0m14-1h0m21 5h0" stroke="#c8cecb" stroke-width="1.90" stroke-linecap="round" opacity="0.85" fill="none"/>
<path d="M339 998h0m0 1h0m1-4h0m1-2h0m5 1h0m6 5h0m-11 2h0m7 6h0m1-5h0m1 4h0m2-4h0m-7 12h0m0-4h0m4 2h0" stroke="#c8cecb" stroke-width="1.90" stroke-linecap="round" opacity="0.85" fill="none"/>
<path d="M385 1007h0m2 0h0m3-1h0m-7 6h0m1 1h0m1-1h0m1-2h0m0-1h0m2 3h0m0-1h0m0-2h0m0 1h0m0 0h0m2 5h0m0-5h0m0 2h0m0 0h0m0 2h0m1-5h0m0 2h0m0 4h0m1-4h0m0-1h0m1 1h0m1 3h0m0-2h0m0 1h0m0 1h0m-12 3h0m0 4h0m1-2h0m1-2h0m0-1h0m0 7h0m3-1h0m0 0h0m2-2h0m1-1h0m0-1h0m0 3h0m0-4h0m1 3h0m2 0h0m1 0h0m0-1h0m1 2h0m-13 5h0m0 5h0m2-7h0m0 0h0m1 4h0m1 0h0m0 3h0m0-5h0m1 0h0m1-1h0m0 1h0m1 5h0m0-7h0m0 4h0m0 3h0m1-2h0m0-4h0m0 1h0m1-1h0m1 5h0m1-2h0m0 1h0m0-5h0m1 6h0m0-5h0m-10 7h0m0 4h0m2 0h0m1-1h0m0 2h0m1-3h0m0 4h0m3-4h0m0-2h0m1 5h0m1-3h0m0 1h0m1 1h0m-8 7h0m1-3h0m0 1h0m1 4h0m2-5h0m3 0h0" stroke="#d2d8d5" stroke-width="2.20" stroke-linecap="round" opacity="1.00" fill="none"/>
<path d="M370 1119h0m1-2h0m11 1h0m5-3h0m5 1h0m4 3h0m5-2h0m4 2h0m27-3h0m7 2h0m2-4h0m2 5h0m0-4h0m1 2h0m2-3h0m-88 13h0m3-4h0m2 0h0m2 4h0m2-1h0m2 0h0m0-5h0m1 1h0m3 4h0m0-6h0m11 5h0m2-3h0m2 5h0m4-2h0m2 2h0m2-4h0m1 2h0m2-3h0m9 1h0m1 3h0m0-2h0m7 3h0m0-4h0m2 1h0m4 3h0m2-3h0m7 0h0m1 1h0m1 1h0m1-2h0m-86 10h0m7-3h0m7 4h0m4-1h0m4 1h0m1-5h0m5 0h0m3 2h0m1 3h0m1 0h0m21-6h0m2 2h0m11 4h0m1-4h0m6 0h0m23-3h0m1 1h0m-100 13h0m4 0h0m8-3h0m7-2h0m5-1h0m3 5h0m0 1h0m0 1h0m2-6h0m4 5h0m5 1h0m4-6h0m1 0h0m6 5h0m4 0h0m1-4h0m1 2h0m6-3h0m0-1h0m10 2h0m1 3h0m2 0h0m2 2h0m2-7h0m2 3h0m3-1h0m2 2h0m2-3h0m5 3h0m1 1h0m2 1h0m-96 9h0m6-2h0m1-3h0m8-1h0m1 6h0m8-3h0m3-1h0m1 2h0m1 0h0m6-4h0m3 4h0m7 0h0m0 0h0m10-3h0m7-1h0m2 0h0m3 4h0m3 1h0m7-3h0m2-2h0m1 4h0m0 1h0m0 1h0m5-4h0m1 2h0m4-1h0m1 0h0m7-1h0m-104 10h0m3-3h0m6 4h0m5-4h0m2-1h0m1 1h0m2 1h0m0 3h0m2-6h0m1 1h0m1 5h0m3-1h0m4 1h0m1-2h0m1-1h0m5-1h0m2 4h0m0-6h0m7 0h0m0 2h0m2 1h0m1 3h0m6 1h0m2-5h0m3 0h0m5-1h0m8 3h0m10 2h0m0 0h0m6-4h0m3-2h0m-96 8h0m4 3h0m3 2h0m13-2h0m2 4h0m1-3h0m2-1h0m4-2h0m2 5h0m2-2h0m1 1h0m13-4h0m0 4h0m5-4h0m4 2h0m1-1h0m2-2h0m0 2h0m1 1h0m14 4h0m1-2h0m7-4h0m13-1h0m4 0h0m-95 8h0m7 3h0m2-1h0m8 3h0m1-4h0m3 5h0m4 1h0m3-1h0m6-1h0m8 2h0m1-3h0m5-2h0m0 0h0m1 4h0m2-2h0m1 0h0m3 0h0m2-3h0m3-1h0m7 5h0m1-5h0m1 4h0m0-1h0m0 0h0m15-2h0m2 4h0m0-2h0m2 2h0m4-1h0m4 3h0m1-4h0m1-1h0m-91 12h0m1 1h0m9-2h0m4-3h0m0 3h0m1 2h0m3-2h0m8-1h0m3-4h0m7 6h0m2-1h0m5 0h0m0-5h0m4 3h0m0-1h0m22-2h0m3 2h0m4 0h0m4 5h0m0-5h0m5-2h0m0 6h0m-78 4h0m0 0h0m6 0h0m8-2h0m1 3h0m3-1h0m20 1h0m37-2h0m0 0h0m-75 11h0m1-1h0m1 3h0m5-4h0m3 5h0m9-1h0m10-2h0m6-1h0m-28 10h0m11-5h0m2 2h0m3 0h0m4-1h0m-19 8h0m1 0h0m0-1h0m2 2h0m2 1h0m3 0h0m2-3h0m0 4h0" stroke="#c8cecb" stroke-width="1.90" stroke-linecap="round" opacity="0.90" fill="none"/>
<circle cx="379.5" cy="895.8" r="1.2" fill="#cfd4d2"/>
<circle cx="289.5" cy="981.0" r="1.2" fill="#cfd4d2"/>
<circle cx="244.5" cy="1024.0" r="1.2" fill="#cfd4d2"/>
<circle cx="236.5" cy="1029.0" r="1.2" fill="#cfd4d2"/>
<circle cx="246.5" cy="1029.0" r="1.2" fill="#cfd4d2"/>
<circle cx="269.5" cy="996.0" r="1.2" fill="#cfd4d2"/>
<circle cx="323.5" cy="1059.0" r="1.2" fill="#cfd4d2"/>
<circle cx="341.5" cy="1016.0" r="1.2" fill="#cfd4d2"/>
<g filter="url(#soft)">
<path d="M338.3 1145.3 L349.4 1138.3 L363.3 1125.8 L377.2 1120.3 L391.1 1118.9 L398.1 1121.7 L411.9 1124.4 L425.8 1120.3 L439.7 1118.9 L446.7 1121.7 L443.9 1135.6 L439.7 1146.7 L432.8 1157.8 L434.2 1170.3 L434.2 1180.0 L427.3 1184.2 L418.9 1180.0 L411.9 1175.8 L402.2 1171.7 L393.9 1174.4 L395.3 1184.2 L389.7 1191.1 L382.8 1195.3 L378.6 1202.2 L371.7 1209.2 L366.1 1210.6 L360.6 1205.0 L356.4 1193.9 L352.2 1182.8 L346.7 1174.4 L341.1 1166.1 L338.3 1156.4 Z" fill="#d2d8d5" opacity="0.9"/>
<path d="M368.5 1166.0 L375.5 1162.0 L379.5 1170.0 L373.5 1177.0 L367.5 1174.0 Z" fill="#fff" opacity="0.6"/>
<path d="M395.5 1143.0 L403.5 1140.0 L407.5 1148.0 L400.5 1154.0 L394.5 1150.0 Z" fill="#fff" opacity="0.6"/>
<path d="M418.5 1132.0 L428.5 1129.0 L432.5 1138.0 L423.5 1144.0 L417.5 1140.0 Z" fill="#fff" opacity="0.6"/>
</g>
<g filter="url(#soft2)">
<path d="M339.5 1148.0 L358.5 1136.0 L378.5 1132.0 L395.5 1136.0 L408.5 1141.0 L403.5 1166.0 L393.5 1174.0 L385.5 1191.0 L373.5 1206.0 L363.5 1201.0 L353.5 1181.0 L343.5 1166.0 Z" fill="#aaa5e8" opacity="0.85"/>
<path d="M395.5 1136.0 L423.5 1130.0 L441.5 1128.0 L437.5 1151.0 L423.5 1158.0 L408.5 1156.0 Z" fill="#c4c1ea" opacity="0.7"/>
<path d="M359.5 1194.0 L370.5 1188.0 L378.5 1194.0 L374.5 1205.0 L368.5 1211.0 L361.5 1207.0 Z" fill="#6f6be0" opacity="0.8"/>
<path d="M415.5 1158.0 L431.5 1158.0 L434.5 1176.0 L425.5 1182.0 L415.5 1174.0 Z" fill="#8f8ae2" opacity="0.8"/>
</g>
<path d="M392 1119h0m-28 7h0m4 1h0m2-1h0m2 0h0m5 0h0m1-3h0m3 4h0m1-6h0m2 6h0m1-7h0m2 3h0m5 4h0m0-5h0m0 2h0m4 0h0m1-1h0m3 1h0m5 0h0m20 2h0m2-1h0m0 2h0m1-3h0m9 1h0m2 0h0m3-2h0m2-1h0m1-1h0m-85 12h0m0 1h0m1-3h0m5-2h0m2 3h0m3-2h0m0 5h0m1 0h0m0-3h0m1-3h0m0 4h0m0 2h0m4-1h0m1-6h0m2 1h0m3 3h0m1-1h0m1-3h0m5 6h0m1 0h0m2-6h0m1 2h0m0 2h0m1-4h0m0 0h0m0 3h0m15-1h0m5-2h0m3 1h0m1 4h0m0 0h0m5-4h0m0 5h0m1-6h0m5 3h0m1 3h0m0-2h0m2-2h0m1-1h0m0 2h0m1 4h0m1-7h0m0 0h0m1 0h0m4 2h0m1 4h0m0-1h0m-91 10h0m1-5h0m1 5h0m1-5h0m1-1h0m1 1h0m1-1h0m3 1h0m0 1h0m0 0h0m1 0h0m0-1h0m1 2h0m2-3h0m2 3h0m3-3h0m0 0h0m2 3h0m0-1h0m1 3h0m6-1h0m5 2h0m2-6h0m0 3h0m3 1h0m0-5h0m0 4h0m1 3h0m1 0h0m7-3h0m4-4h0m1 7h0m1-4h0m1 0h0m0 2h0m1-1h0m2-3h0m3 4h0m1-1h0m4-2h0m3 2h0m7 3h0m2-7h0m1 1h0m0 3h0m1 2h0m1-2h0m0 1h0m2 2h0m2-4h0m1-3h0m2 4h0m2-2h0m0-1h0m-100 10h0m0 4h0m0-4h0m1 0h0m2-1h0m1 2h0m1 1h0m1-4h0m5 3h0m0-2h0m2 1h0m1 0h0m4 0h0m0 1h0m0 3h0m0 0h0m4-1h0m2 1h0m0-7h0m10 2h0m1 3h0m2-2h0m1 4h0m2-3h0m1 3h0m1-5h0m2 0h0m2 5h0m2-3h0m1-1h0m4 4h0m2 0h0m3-4h0m7-2h0m1 5h0m3 1h0m1-5h0m6 3h0m0-1h0m2 1h0m2 0h0m2 0h0m0-3h0m1-2h0m5 3h0m0-2h0m6 6h0m1-4h0m1-1h0m2 2h0m-98 5h0m2 0h0m4-1h0m7 1h0m5 4h0m4 0h0m2-1h0m4 0h0m1-1h0m1 3h0m0-2h0m0-1h0m2-1h0m1 4h0m2-1h0m2-3h0m1 2h0m1 3h0m1 0h0m3-3h0m4 1h0m1 1h0m2-2h0m2-4h0m0 0h0m2 3h0m0-2h0m1-1h0m5 7h0m2 0h0m1-7h0m2 2h0m4 2h0m0-2h0m7 4h0m3-3h0m4 1h0m0 2h0m2 0h0m0-2h0m3 0h0m1 3h0m0-4h0m-87 7h0m1-2h0m1 3h0m1 3h0m0 1h0m1-6h0m0 3h0m2 0h0m1-3h0m0 0h0m7 1h0m0-2h0m2 1h0m0-1h0m3 7h0m0-5h0m1 1h0m0 2h0m1-1h0m2-1h0m3-1h0m0 5h0m4-3h0m2 1h0m0-2h0m2 3h0m0 0h0m0-1h0m1-4h0m2 3h0m1 0h0m1 1h0m1 0h0m3 0h0m1-1h0m4-2h0m1 4h0m1-4h0m5-1h0m1 5h0m2-1h0m0 2h0m1-2h0m5-3h0m1-2h0m1 6h0m1-6h0m0 4h0m3-4h0m1 7h0m6-3h0m0 3h0m6-3h0m1 0h0m4 0h0m3 0h0m1-3h0m-90 8h0m3 1h0m5 5h0m5-4h0m1 1h0m6-4h0m2 7h0m2-7h0m0 0h0m2 1h0m1-1h0m0 6h0m3-2h0m4 1h0m0 0h0m0 0h0m0-5h0m1 0h0m5 3h0m0 0h0m3 2h0m0 2h0m1-3h0m1 0h0m1-3h0m3 6h0m1-4h0m4 0h0m2 1h0m6-3h0m0 1h0m3 0h0m2-1h0m1 5h0m6-1h0m4-1h0m0 1h0m0 0h0m1-3h0m0 4h0m2-6h0m0 2h0m3 0h0m0-1h0m3 0h0m1 6h0m0-3h0m2-2h0m0 0h0m1-1h0m-82 13h0m5-3h0m2-2h0m0 6h0m3-1h0m2-3h0m2 0h0m0 0h0m1 3h0m1-4h0m1 2h0m1 3h0m0-4h0m2-3h0m1 2h0m0 5h0m0-2h0m0 1h0m4-4h0m1 0h0m2 3h0m1 0h0m2-1h0m5-1h0m2 2h0m2 1h0m0-3h0m0-1h0m29-1h0m1 4h0m2-1h0m0 3h0m0-6h0m0 5h0m1-3h0m5 1h0m2 1h0m2-3h0m-78 7h0m6 5h0m2-4h0m2 0h0m0 1h0m2 2h0m1-4h0m5 3h0m1-3h0m0 2h0m1 1h0m1 2h0m2-1h0m1-2h0m1 2h0m2 2h0m1-2h0m2 0h0m2 2h0m2 0h0m2-6h0m-32 11h0m0 0h0m1-3h0m1 2h0m4 1h0m0 0h0m1 2h0m0-5h0m1 4h0m3 0h0m4 1h0m0-2h0m1 1h0m4 0h0m1-2h0m1-2h0m4-1h0m-24 11h0m0 2h0m0-1h0m1 0h0m1 0h0m1 3h0m2-5h0m0 2h0m2 3h0m0-6h0m1-1h0m0 6h0m4-4h0m0-1h0m4-1h0" stroke="#9d98e0" stroke-width="2.20" stroke-linecap="round" opacity="0.75" fill="none"/>
<path d="M371 1182h0m-12 6h0m0 1h0m1-1h0m1 1h0m0-2h0m0 1h0m1-1h0m0 0h0m2 1h0m1 1h0m1 1h0m0-5h0m0 0h0m1 4h0m1-5h0m0 3h0m1 4h0m1-2h0m3 1h0m0-4h0m0 4h0m1-2h0m0 0h0m1 3h0m1-1h0m0-6h0m1 4h0m1 2h0m0 0h0m1 1h0m2-2h0m0 1h0m-22 7h0m2-1h0m1 3h0m0-3h0m1-2h0m1-2h0m0 0h0m0 4h0m2-1h0m1 3h0m1-2h0m3-4h0m0 7h0m0 0h0m1-6h0m3 4h0m1 0h0m1 1h0m1-1h0m0-4h0m-17 7h0m1 2h0m1 0h0m0 2h0m1-2h0m0 3h0m0 1h0m1-3h0m0 2h0m2 0h0m0 0h0m0-3h0m1 2h0m0 2h0m1-4h0m1 2h0m1-3h0m1 1h0m1 5h0m0 0h0m0-4h0m-5 6h0m0 0h0m1 0h0m0-1h0m1 1h0m1-1h0" stroke="#5a5ade" stroke-width="2.60" stroke-linecap="round" opacity="0.85" fill="none"/>
<path d="M356 1166h0m7-5h0m2-1h0m0 5h0m0 0h0m1-3h0m1 2h0m1 2h0m0-6h0m1 5h0m2-2h0m0 0h0m2 0h0m0 3h0m0-5h0m0 5h0m4-4h0m0 0h0m0 0h0m5 3h0m1-2h0m1 3h0m3-2h0m-34 6h0m0-1h0m2 5h0m2-2h0m1-3h0m1-1h0m0 7h0m0-2h0m0-3h0m2 5h0m0 0h0m0 0h0m3-5h0m0 5h0m1-7h0m2 1h0m0 2h0m0 0h0m4 2h0m2 0h0m0-4h0m0 4h0m1-5h0m0 2h0m3 3h0m2-3h0m4-1h0m0 1h0m0 2h0m1-2h0m0 1h0m2 1h0m3 2h0m0-6h0m1 2h0m0 1h0m-35 7h0m0 0h0m0 0h0m2-2h0m0 5h0m1 1h0m0-1h0m1 0h0m0 2h0m0-6h0m1 4h0m0-4h0m3 5h0m4-5h0m0 2h0m0 3h0m1 1h0m1-2h0m1-2h0m1 0h0m1-3h0m1 5h0m1-5h0m0 7h0m1-2h0m0-5h0m0 4h0m4-2h0m1 5h0m1-2h0m2 0h0m0-4h0m2-1h0m1 6h0m0 1h0m0-1h0m2-4h0m-28 7h0m0 3h0m2 0h0m0 0h0m1 0h0m2-3h0m2 1h0m4 5h0m1-7h0m0 0h0m1 3h0m2-2h0m1 0h0m0 5h0m3 0h0m0-3h0m1 2h0m0-3h0m2 3h0m-20 3h0m2 1h0m0 0h0m1 0h0m8 0h0" stroke="#7d79de" stroke-width="2.40" stroke-linecap="round" opacity="0.80" fill="none"/>
<path d="M389 1029h0m0 0h0m0 1h0m0-2h0m1 0h0m2 1h0m0-1h0m1 0h0m3 3h0m0-1h0m-12 6h0m0 2h0m1 1h0m1-7h0m0 5h0m1-4h0m0 0h0m1-1h0m0 5h0m1-3h0m1 3h0m0 1h0m0-6h0m1 3h0m1-2h0m0 5h0m0 0h0m0 1h0m1-5h0m0 4h0m1 0h0m0-3h0m0-2h0m1 6h0m1-3h0m-14 8h0m2 0h0m0-1h0m0 1h0m2-3h0m1 4h0m0-5h0m0 5h0m0-4h0m1 0h0m1 4h0m0-1h0m0 2h0m1-2h0m1 1h0m0 0h0m1-4h0m0 0h0m0-1h0m1 1h0" stroke="#5152d8" stroke-width="2.60" stroke-linecap="round" opacity="0.95" fill="none"/>
<path d="M415 955h0m-10 9h0m1 3h0m0-5h0m6 5h0m-15 8h0m3-3h0m6-3h0m13 2h0m1 3h0m9 0h0m7 1h0m-50 4h0m18 2h0m4 0h0m8-3h0m12-1h0m3 6h0m6-4h0m-43 8h0m9-2h0m35 5h0m-47 6h0m1-3h0m2 6h0m17-5h0m6 3h0m4-3h0m6 4h0m1-6h0m4 7h0m-24 7h0m6-4h0m6 5h0m12 0h0m6-4h0m11-1h0m-59 8h0m11 3h0m18 0h0m3 0h0m4 1h0m6-1h0m2-5h0m21 6h0m2-4h0m-75 6h0m13 0h0m6 3h0m0-2h0m5 3h0m12 3h0m9 0h0m20-3h0m11-3h0m-74 14h0m8-5h0m16 2h0m2-1h0m2-2h0m1 3h0m20 0h0m14 0h0m4 3h0m9-6h0m13 6h0m-89 2h0m2 3h0m4-2h0m2 1h0m6-2h0m2 6h0m1-3h0m8-4h0m14 5h0m2 1h0m7-1h0m0-4h0m6 0h0m4 6h0m19-3h0m7-2h0m3 3h0m-86 6h0m13 3h0m2 0h0m6 0h0m7 1h0m14 0h0m13 0h0m5-3h0m3-1h0m28-2h0m2 6h0m-79 3h0m1 2h0m19 2h0m0 1h0m2-5h0m13 2h0m1-1h0m5-1h0m8 1h0m1 1h0m4-1h0m15-2h0m-61 10h0m24-3h0m17 4h0m6-2h0m26 3h0m3 0h0m-103 7h0m21 2h0m2-4h0m1 1h0m1 4h0m14-3h0m3-4h0m17 2h0m10 4h0m10-3h0m9-1h0m1 1h0m-75 8h0m26 0h0m14-2h0m3 0h0m3 5h0m14-6h0m4 4h0m10-2h0m5-2h0m1 5h0m3-2h0m1 4h0m-86 5h0m7-2h0m23 0h0m10 2h0m3 3h0m9-7h0m4 5h0m3 1h0m6-6h0m0 6h0m2-6h0m-87 14h0m5-5h0m4 6h0m3-7h0m4 7h0m24-5h0m13 1h0m14 2h0m6-5h0m2 0h0m15 4h0m-66 6h0m1-1h0m15 0h0m0 0h0m1 1h0m2 4h0m5 0h0m7 1h0m12-3h0m-68 7h0m21 4h0m5-1h0m4-1h0m6-5h0m7 7h0m4-7h0m2 5h0m2 0h0m2-1h0m10 3h0m1-5h0m3 1h0m8-1h0m4 3h0m8-3h0m-79 7h0m19 6h0m3 0h0m9-2h0m31 2h0m0 0h0m4-4h0m6-2h0m-78 7h0m9 5h0m9 0h0m2 0h0m14 1h0m3-2h0m2-2h0m4 0h0m15 2h0" stroke="#a9a6dc" stroke-width="1.90" stroke-linecap="round" opacity="0.85" fill="none"/>
<g filter="url(#soft)">
<path d="M648.3 971.5 L662.5 966.8 L676.7 964.5 L686.1 960.9 L695.6 964.5 L700.3 973.9 L705.0 978.6 L714.5 988.1 L722.7 994.0 L714.5 997.5 L707.4 1002.2 L700.3 1007.0 L702.6 1021.1 L705.0 1035.3 L712.1 1049.5 L714.5 1058.9 L712.1 1075.4 L714.5 1087.2 L712.1 1096.7 L705.0 1103.8 L695.6 1106.1 L686.1 1103.8 L676.7 1092.0 L667.2 1087.2 L655.4 1087.2 L646.0 1084.9 L646.0 1073.1 L642.4 1054.2 L640.1 1035.3 L643.6 1021.1 L646.0 1002.2 L647.2 983.3 Z" fill="#d2d8d5" opacity="0.92"/>
<path d="M749.9 964.5 L757.0 960.9 L766.4 964.5 L771.1 973.9 L768.8 988.1 L761.7 997.5 L757.0 998.7 L751.1 988.1 L748.7 976.3 Z" fill="#d2d8d5" opacity="0.60"/>
<path d="M758.1 1045.4 L767.8 1034.3 L778.9 1025.9 L790.1 1023.2 L792.8 1000.9 L798.4 987.1 L806.7 989.8 L809.5 1006.5 L803.9 1023.2 L799.5 1034.5 L798.4 1050.9 L790.1 1056.5 L778.9 1056.5 L765.1 1050.9 Z" fill="#d2d8d5" opacity="0.75"/>
<path d="M790.0 936.1 L794.7 921.9 L806.5 910.1 L818.3 905.4 L832.5 893.6 L836.1 892.4 L839.6 905.4 L843.1 924.3 L844.3 940.8 L842.0 950.3 L832.5 947.9 L820.7 945.6 L808.9 943.2 L799.5 940.8 Z" fill="#d2d8d5" opacity="0.90"/>
<path d="M828.9 937.1 L845.6 937.1 L848.4 953.7 L855.3 973.2 L859.5 987.1 L851.2 992.6 L842.8 987.1 L837.3 967.6 L833.1 950.9 Z" fill="#d2d8d5" opacity="0.80"/>
<path d="M816.0 1023.5 L823.1 1016.4 L837.2 1011.7 L846.7 1014.0 L844.3 1021.1 L832.5 1023.5 L823.1 1030.6 L818.3 1032.9 Z" fill="#d2d8d5" opacity="0.50"/>
<path d="M860.9 948.2 L872.0 941.2 L876.7 944.0 L873.4 956.5 L867.8 967.6 L862.3 966.2 L859.5 959.3 Z" fill="#d2d8d5" opacity="0.60"/>
<path d="M846.7 983.3 L856.1 988.1 L870.3 988.1 L884.5 981.0 L893.9 971.5 L901.0 973.9 L908.1 988.1 L917.5 1002.2 L924.6 1016.4 L931.7 1030.6 L938.8 1040.0 L945.9 1054.2 L943.5 1066.0 L936.4 1075.4 L927.0 1087.2 L915.2 1096.7 L910.4 1106.1 L903.4 1120.3 L898.6 1129.7 L891.5 1129.7 L879.7 1117.9 L867.9 1106.1 L860.9 1082.5 L858.5 1058.9 L856.1 1035.3 L856.1 1011.7 L849.0 997.5 Z" fill="#d2d8d5" opacity="0.95"/>
<path d="M799.5 1082.5 L808.9 1070.7 L820.7 1066.0 L832.5 1070.7 L844.3 1082.5 L867.9 1087.2 L879.7 1106.1 L898.6 1129.7 L893.9 1141.5 L884.5 1153.4 L875.0 1143.9 L856.1 1129.7 L832.5 1117.9 L808.9 1120.3 L792.4 1120.3 L790.0 1106.1 L792.4 1092.0 Z" fill="#d2d8d5" opacity="0.70"/>
<path d="M768.8 1158.1 L775.8 1146.3 L785.3 1139.2 L790.0 1125.0 L792.4 1120.3 L808.9 1120.3 L806.5 1141.5 L804.2 1165.2 L801.8 1177.0 L790.0 1182.9 L780.6 1181.7 L771.1 1174.6 Z" fill="#d2d8d5" opacity="0.80"/>
<path d="M808.9 1120.3 L832.5 1117.9 L856.1 1129.7 L875.0 1143.9 L884.5 1153.4 L879.7 1165.2 L875.0 1174.6 L865.6 1177.0 L856.1 1174.6 L844.3 1177.0 L832.5 1177.0 L820.7 1172.2 L808.9 1167.5 L804.2 1165.2 L806.5 1141.5 Z" fill="#d2d8d5" opacity="0.40"/>
<path d="M820.7 1011.7 L846.7 1002.2 L856.1 1011.7 L858.5 1058.9 L860.9 1082.5 L844.3 1082.5 L832.5 1070.7 L820.7 1066.0 L816.0 1058.9 L823.1 1035.3 Z" fill="#d2d8d5" opacity="0.42"/>
<path d="M847.5 989.5 L864.5 986.5 L882.5 988.5 L876.5 1006.5 L860.5 1008.5 L850.5 1001.5 Z" fill="#d2d8d5" opacity="0.60"/>
<path d="M681.4 992.8 L697.9 988.1 L705.0 997.5 L697.9 1009.3 L686.1 1011.7 L679.0 1004.6 Z" fill="#fff" opacity="0.35"/>
<path d="M676.7 1040.0 L688.5 1035.3 L693.2 1049.5 L690.8 1066.0 L681.4 1070.7 L675.5 1056.5 Z" fill="#fff" opacity="0.35"/>
</g>
<path d="M842 1004h0m3 0h0m0 0h0m2 1h0m0 0h0m-25 6h0m1 1h0m0 0h0m1-1h0m3-1h0m0 0h0m0 1h0m1 4h0m1-4h0m2 3h0m1-3h0m1-2h0m1 6h0m1-6h0m1-1h0m0 0h0m1 4h0m1-1h0m1 1h0m2 1h0m1 2h0m0-4h0m1-1h0m1 4h0m1-5h0m1 3h0m1-3h0m2-1h0m0 2h0m1 4h0m1-5h0m3 4h0m0-3h0m0 2h0m0-1h0m1 3h0m-33 4h0m2-1h0m2 5h0m2-4h0m0 0h0m2-2h0m2 5h0m4-2h0m1-3h0m2 1h0m4 5h0m1 0h0m2-2h0m4-2h0m1 5h0m1-1h0m0 0h0m2-4h0m0 2h0m1 3h0m0-7h0m-32 11h0m2 2h0m0 2h0m1-6h0m0 6h0m2-3h0m1-1h0m0 2h0m1-4h0m1 6h0m2-3h0m1 1h0m2-1h0m0 2h0m1-1h0m0 1h0m1-5h0m2-1h0m0 1h0m0 2h0m1-2h0m0 1h0m2 2h0m5 0h0m0 1h0m1 2h0m0-6h0m1 0h0m0 5h0m0-4h0m1 2h0m2 0h0m1 1h0m1-1h0m-30 10h0m1-5h0m0 0h0m1 1h0m2-1h0m0 1h0m2-2h0m1 1h0m1 2h0m7-2h0m2 0h0m0 4h0m1-3h0m0-2h0m1 1h0m2 0h0m0-1h0m0 4h0m3 2h0m5-3h0m0 0h0m1-2h0m0 5h0m1 0h0m0-2h0m-35 11h0m4-7h0m1 2h0m0 4h0m2 1h0m0-3h0m0-2h0m2-2h0m2 1h0m0 5h0m1-5h0m4 6h0m4 0h0m1-1h0m1-1h0m1-4h0m3 5h0m0-3h0m1 4h0m0-3h0m2-4h0m1 1h0m3 4h0m1-3h0m0 3h0m1-4h0m2 5h0m-40 5h0m1 0h0m0 0h0m2-2h0m2 5h0m1-5h0m1 3h0m1-3h0m4 5h0m0-5h0m0 4h0m8 0h0m1-3h0m3 4h0m1 1h0m0-1h0m1-6h0m1 0h0m1 4h0m2-3h0m2 2h0m3-1h0m2-2h0m1 3h0m0 0h0m2-1h0m-40 9h0m1-3h0m1 7h0m0-5h0m2 1h0m2 1h0m1 0h0m2-1h0m1 0h0m1 0h0m0-2h0m2 4h0m0 0h0m3 1h0m2-1h0m2-4h0m1 4h0m1-5h0m4 6h0m1-6h0m0 1h0m1 4h0m0-4h0m1 0h0m2 5h0m1-5h0m1-1h0m1 1h0m0 2h0m1 4h0m-23 2h0m1 4h0m0-5h0m0 2h0m3 3h0m0-4h0m0 6h0m1-5h0m0 1h0m1 0h0m0 0h0m1-3h0m1 4h0m2 0h0m0-2h0m0 1h0m2 2h0m1 1h0m3-4h0m0 3h0m1-5h0m1 1h0m0 1h0m2 2h0m1-4h0m2 3h0m0 4h0m2 0h0m2-7h0m-18 8h0m1 2h0m2-2h0m0 6h0m0-1h0m0-4h0m2 3h0m0 3h0m1-1h0m1 1h0m1-2h0m0-5h0m0 3h0m1 3h0m4-3h0m0 1h0m1 0h0m2-4h0m3 0h0m1 4h0m0 0h0m1 2h0m-15 2h0m1 1h0m1-1h0m6 1h0m0 1h0" stroke="#c4cbc8" stroke-width="1.80" stroke-linecap="round" opacity="0.90" fill="none"/>
<path d="M810 1122h0m2 4h0m1-6h0m2 0h0m0 7h0m3-7h0m0 6h0m2-2h0m1 0h0m1-1h0m0-3h0m2 4h0m1 1h0m1-4h0m1 6h0m1-4h0m2-2h0m0 3h0m1-2h0m2 1h0m1-3h0m2 7h0m0 0h0m1-2h0m1 1h0m1-1h0m0 1h0m0-1h0m2 2h0m1-3h0m2 3h0m1-1h0m1-1h0m1 1h0m0 1h0m2-1h0m2 1h0m-43 5h0m2 2h0m5-2h0m1-3h0m3 6h0m1-6h0m5 6h0m0-2h0m3-4h0m0 0h0m0 4h0m1 2h0m1-6h0m2 0h0m1-1h0m2 4h0m2 0h0m0-4h0m0 5h0m3 0h0m1-4h0m1 0h0m1 2h0m1 1h0m0-1h0m1 4h0m1-5h0m0 4h0m1-4h0m3 4h0m0 0h0m1-6h0m2 1h0m0 5h0m6 1h0m-51 7h0m0-5h0m0 3h0m2 0h0m1-3h0m0 0h0m1 2h0m9-3h0m0 2h0m2 0h0m0 1h0m0 4h0m1 0h0m5-3h0m1-3h0m0 5h0m0-5h0m0 4h0m0-4h0m0 5h0m5-5h0m2 6h0m1-7h0m0 4h0m2-4h0m1 5h0m2-5h0m1 3h0m1-3h0m1 7h0m0 0h0m1-5h0m0 3h0m2 2h0m1-6h0m1 1h0m1 3h0m4 0h0m0-1h0m1-2h0m0 1h0m2-3h0m4 5h0m0 2h0m2-6h0m4 4h0m-63 7h0m1 3h0m0-1h0m1-6h0m2 1h0m0 1h0m0-2h0m0 0h0m1 4h0m1 0h0m0 0h0m2-2h0m1 3h0m0 2h0m1-5h0m2 4h0m2 1h0m1-2h0m2 0h0m0-4h0m1 5h0m3-2h0m1-2h0m0 3h0m1 2h0m1-1h0m1-5h0m3 1h0m0-1h0m5 6h0m1-2h0m2-4h0m2-1h0m1 3h0m2 0h0m5 0h0m2 3h0m0-5h0m1 1h0m4 2h0m1-2h0m0-1h0m0 4h0m1-2h0m1-3h0m1 7h0m0 0h0m0-3h0m2 1h0m1 0h0m1 2h0m0-7h0m0 4h0m0 1h0m2-1h0m5 2h0m0-4h0m2 1h0m2 1h0m0 2h0m0 0h0m0-3h0m-71 11h0m0-6h0m1 0h0m1 4h0m2-3h0m0 3h0m0-4h0m2 4h0m0-4h0m2 5h0m1-1h0m0-2h0m1-2h0m1 6h0m3 0h0m1 1h0m4-4h0m1 2h0m3 2h0m1 0h0m0-5h0m1-2h0m0 2h0m3 5h0m2-1h0m1 0h0m1-1h0m3 1h0m0-4h0m0 1h0m1-3h0m1 6h0m0-4h0m1 3h0m3-3h0m1 2h0m0-2h0m1 2h0m1-3h0m2 2h0m3-2h0m6 0h0m3 4h0m1-5h0m1 3h0m1 3h0m1 1h0m1-6h0m0 0h0m2 5h0m8-1h0m0-1h0m1 2h0m1 0h0m-76 6h0m0-4h0m1 3h0m1 4h0m1-3h0m1 1h0m6-2h0m6 4h0m1-6h0m1 0h0m0 3h0m3-1h0m3 0h0m0 0h0m1-3h0m0 5h0m1 0h0m7-1h0m1-1h0m0-1h0m1 1h0m1 1h0m1-3h0m1 4h0m1-1h0m0 2h0m5 0h0m0-4h0m1-1h0m1 5h0m0 0h0m5-4h0m0 5h0m1-4h0m0 1h0m2-2h0m3 4h0m2-6h0m1 5h0m2-1h0m1 0h0m2-4h0m2 6h0m0-4h0m0 4h0m2 0h0m0 1h0m1-6h0m1 4h0m1-1h0m0-3h0m-63 9h0m11 3h0m1 1h0m0-6h0m1 6h0m2-3h0m1 3h0m1 1h0m2-5h0m0 3h0m3-4h0m1 0h0m0 1h0m0 0h0m0 5h0m1-3h0m0 3h0m3-3h0m0-3h0m2 2h0m0-3h0m1 4h0m0-1h0m5 0h0m0-3h0m1 2h0m1 1h0m1 2h0m1-1h0m1 0h0m0-3h0m2 1h0m6 2h0m2-2h0m2 1h0m2-2h0m0 6h0m2-5h0m1 5h0m1-1h0m1-1h0m1-1h0m0 0h0m-40 4h0m2 1h0" stroke="#c4cbc8" stroke-width="1.80" stroke-linecap="round" opacity="0.90" fill="none"/>
<path d="M753 951h0m106 0h0m-81 6h0m36-5h0m130 7h0m1-4h0m-112 11h0m7 7h0m70-2h0m12 3h0m29-2h0m-141 11h0m110-4h0m-138 5h0m97 3h0m-107 11h0m14 1h0m18-5h0m89 7h0m-168 13h0m169-4h0m29 0h0m-140 9h0m53 0h0m22-3h0m-121 14h0m32-5h0m-31 10h0m19-1h0m70 7h0m94 6h0m-158 7h0m79-5h0m35 2h0m11 4h0m57-4h0m-167 8h0m109 2h0m60-2h0m-172 6h0m42 4h0m121 1h0m-119 2h0m18 0h0m0 5h0m-31 6h0m75 1h0m12 1h0m-148 15h0m8-4h0m13 5h0m14 0h0m15 1h0m28-1h0m25-2h0m64 4h0m-130 1h0m8 5h0m53-2h0m13-3h0m-118 11h0m15-1h0m56-2h0m-79 15h0m65-4h0m56 3h0m-74 8h0m12-1h0m12-4h0m43 4h0m68-5h0m19 5h0m5-2h0m-200 11h0m11-5h0m64-1h0m42 6h0m75-4h0m-78 10h0m9-3h0m14 3h0m-2 6h0m93 16h0m-123 13h0m106-4h0m-205 8h0m189-3h0m20 2h0m4 3h0m-138 5h0" stroke="#cdd2d0" stroke-width="1.80" stroke-linecap="round" opacity="0.80" fill="none"/>
<g filter="url(#soft2)">
<path d="M863.2 981.0 L884.5 978.6 L896.3 971.5 L908.1 988.1 L922.2 1011.7 L927.0 1035.3 L924.6 1058.9 L912.8 1077.8 L903.4 1092.0 L884.5 1096.7 L867.9 1087.2 L863.2 1058.9 L860.9 1023.5 Z" fill="#b9b4ea" opacity="0.48"/>
<path d="M808.9 905.4 L832.5 893.6 L839.6 905.4 L843.1 924.3 L844.3 940.8 L839.6 947.9 L820.7 945.6 L811.3 940.8 L808.9 921.9 Z" fill="#b9b4ea" opacity="0.45"/>
<path d="M647.2 971.5 L662.5 966.8 L676.7 964.5 L688.5 969.2 L690.8 988.1 L686.1 1002.2 L667.2 1002.2 L647.2 997.5 Z" fill="#b9b4ea" opacity="0.42"/>
<path d="M642.4 1011.7 L653.1 1011.7 L655.4 1035.3 L653.1 1058.9 L655.4 1082.5 L646.0 1084.9 L642.4 1058.9 L640.1 1035.3 Z" fill="#b9b4ea" opacity="0.33"/>
<path d="M801.8 1089.6 L820.7 1082.5 L844.3 1089.6 L867.9 1092.0 L879.7 1106.1 L867.9 1108.5 L844.3 1103.8 L820.7 1101.4 L804.2 1101.4 Z" fill="#b9b4ea" opacity="0.36"/>
<path d="M771.1 1153.4 L780.6 1148.6 L790.0 1151.0 L799.5 1160.4 L804.2 1172.2 L792.4 1181.7 L780.6 1181.7 L771.1 1174.6 Z" fill="#b9b4ea" opacity="0.51"/>
<path d="M752.2 964.5 L766.4 964.5 L768.8 983.3 L759.3 995.1 L752.2 983.3 Z" fill="#b9b4ea" opacity="0.30"/>
<path d="M771.1 1035.3 L790.0 1030.6 L794.7 1049.5 L780.6 1056.5 L771.1 1049.5 Z" fill="#b9b4ea" opacity="0.30"/>
</g>
<path d="M674 967h0m3 0h0m0-2h0m9-2h0m0 1h0m2-2h0m2 4h0m1-2h0m0 3h0m3-3h0m2 3h0m-44 6h0m10-2h0m1 4h0m1-5h0m4 2h0m3 2h0m1-6h0m1 7h0m0-1h0m3-2h0m1 3h0m1-2h0m1 2h0m5-5h0m3 4h0m1-5h0m0 3h0m3-1h0m1-3h0m0 6h0m1-5h0m0 3h0m1-3h0m2 0h0m2 5h0m-50 7h0m2 2h0m2-2h0m10 0h0m3-2h0m0-3h0m2 6h0m2-2h0m0-1h0m3-3h0m6 0h0m2 2h0m3 1h0m1-3h0m5 0h0m5 2h0m2-2h0m3 6h0m0-1h0m3-1h0m7 3h0m-62 7h0m1-1h0m1 1h0m0-3h0m1-1h0m4 4h0m2-6h0m3 1h0m1 6h0m0-7h0m3 1h0m3-1h0m1 2h0m2-1h0m3 6h0m2-7h0m3 4h0m0-4h0m12 7h0m1-1h0m0-4h0m1 1h0m2 3h0m5 0h0m6 1h0m3-3h0m1 1h0m1-3h0m0 4h0m3 0h0m1-2h0m1 1h0m-65 6h0m2-2h0m3 2h0m1 4h0m1 0h0m1-7h0m5 1h0m7 6h0m6-5h0m2 5h0m1-1h0m1-6h0m1 5h0m1 1h0m4 0h0m0-3h0m4 1h0m6-3h0m3 4h0m1-3h0m6 1h0m8 0h0m1 1h0m-66 7h0m3-2h0m1 4h0m1-1h0m1 1h0m9 0h0m3-5h0m3 2h0m6 5h0m5-6h0m2 5h0m0-1h0m2 1h0m2 0h0m3-2h0m0 0h0m2-3h0m2 5h0m0-5h0m2 1h0m0 3h0m2-4h0m3 1h0m8 0h0m-63 12h0m1-1h0m2 1h0m0-3h0m4-3h0m1 1h0m0 0h0m0 1h0m4-1h0m6 2h0m4 4h0m3-3h0m2-4h0m2 7h0m0-3h0m1-4h0m1 3h0m0 4h0m4-4h0m6-1h0m0 5h0m2 0h0m2-5h0m1 0h0m3-1h0m3 2h0m1 3h0m2-2h0m0-1h0m1 2h0m-54 6h0m0 2h0m1 1h0m2-5h0m3 1h0m3 3h0m4 0h0m1-5h0m3 5h0m1-5h0m0 5h0m0-4h0m1 2h0m1-2h0m2 6h0m0-1h0m3-1h0m0 1h0m1-3h0m3-1h0m2 3h0m0-3h0m5 3h0m1 1h0m0-2h0m1-2h0m1 4h0m4-2h0m0 3h0m8 0h0m3-3h0m0 0h0m0 1h0m-58 10h0m4-7h0m1 2h0m4 0h0m4 3h0m2-4h0m1 2h0m1 3h0m4-4h0m3 5h0m1-2h0m5-2h0m0 2h0m3 0h0m4-4h0m2 6h0m6-3h0m9 0h0m2 0h0m-58 9h0m1 0h0m2-3h0m2 2h0m1-2h0m2 3h0m1 1h0m1-4h0m0 1h0m0-2h0m1 6h0m0-3h0m2 0h0m0-2h0m3 5h0m3 0h0m0-5h0m2 3h0m1-2h0m0 3h0m1 0h0m0-2h0m1-1h0m3 1h0m1 2h0m1-1h0m0-1h0m1-4h0m1 3h0m0-3h0m1 0h0m1 3h0m5-2h0m8 5h0m3-1h0m5-3h0m3-1h0m4 4h0m2-5h0m-60 15h0m2-1h0m1-5h0m1 2h0m0 4h0m2-2h0m3-3h0m4-2h0m2 0h0m3 6h0m1-2h0m0 0h0m3 2h0m0 0h0m1-6h0m1 7h0m6-6h0m1 1h0m0 3h0m0-1h0m4-4h0m0 0h0m5 2h0m3 5h0m0-3h0m1 3h0m0-5h0m2 0h0m0 0h0m4 1h0m2 4h0m2-1h0m0 0h0m1 0h0m2 0h0m0 0h0m4-6h0m2 4h0m-61 9h0m4 0h0m1-4h0m7 6h0m1-3h0m2-4h0m1 7h0m4-5h0m1 0h0m1 2h0m2-1h0m2-1h0m1 0h0m1 5h0m0-2h0m1 2h0m1-4h0m2-2h0m1-1h0m3 2h0m2-1h0m0-1h0m1 5h0m3-4h0m3-1h0m3 7h0m0-2h0m8 0h0m1 2h0m2-6h0m0 4h0m3 0h0m2-3h0m-65 6h0m0 6h0m0-3h0m1-1h0m1 5h0m0-3h0m2-4h0m4 1h0m1 5h0m2-6h0m2 1h0m4 6h0m2-7h0m0 7h0m4-3h0m1 2h0m1-3h0m2 1h0m1 2h0m2-1h0m0-2h0m3-2h0m1 4h0m5-4h0m0 4h0m6-3h0m1 3h0m7 1h0m2-5h0m11 1h0m-63 8h0m2 1h0m3 4h0m2 0h0m1-6h0m2-1h0m0 0h0m1 2h0m0-2h0m1 2h0m3 5h0m1-5h0m2-1h0m1 5h0m1-3h0m6 0h0m3-1h0m3 3h0m2 1h0m3 1h0m1-1h0m3-5h0m2 1h0m6 1h0m1 2h0m2-1h0m1-2h0m1 4h0m0 0h0m1-2h0m1 0h0m0 1h0m1 1h0m0-4h0m0 3h0m0 0h0m1 1h0m3-3h0m3 2h0m-64 4h0m2 0h0m3 3h0m3-1h0m1-3h0m1 0h0m1 2h0m4 1h0m3-1h0m11 0h0m3 2h0m3-2h0m6 3h0m1-1h0m0 2h0m1 0h0m5 1h0m0-6h0m3 2h0m2 2h0m1-3h0m1 0h0m1 3h0m0-4h0m4-1h0m2 6h0m-61 3h0m4 5h0m3-4h0m2-1h0m1 6h0m1-2h0m2-4h0m4 4h0m3-2h0m1-2h0m4 6h0m0-3h0m1 0h0m4-1h0m0-2h0m1 2h0m3 0h0m1 0h0m4-1h0m2 1h0m2-3h0m2 5h0m1-3h0m0 1h0m6 3h0m3 1h0m7-5h0m-40 6h0m3 1h0m0 1h0m4 3h0m1-3h0m2-2h0m1 0h0m1 0h0m2 0h0m0 0h0m3 1h0m1 5h0m0-5h0m1 0h0m0 3h0m1 1h0m1-2h0m0 2h0m2 0h0m2-4h0m3 5h0m3 1h0m1-5h0m0-1h0m5 1h0m0-1h0m0 4h0m0-5h0m4 1h0m1 3h0m-31 4h0m0 2h0m0-1h0m3-1h0m2 5h0m1 2h0m3 0h0m3-7h0m1 1h0m1 0h0m1 3h0m6-2h0m2 1h0m1 2h0m3-5h0m0 1h0m1 0h0m-21 7h0m0 0h0m9 0h0" stroke="#a7a1e2" stroke-width="2.00" stroke-linecap="round" opacity="0.70" fill="none"/>
<path d="M836 894h0m-11 7h0m3 1h0m1 0h0m1-5h0m2 3h0m0 2h0m1-6h0m0 4h0m2 0h0m2 3h0m-23 5h0m2 0h0m1 1h0m1-3h0m2 4h0m2-3h0m0 0h0m0 4h0m3-4h0m1 2h0m1 1h0m1-6h0m1 2h0m4 2h0m0 1h0m1-2h0m2-1h0m2 5h0m2-1h0m-41 8h0m3-1h0m0-1h0m2-2h0m1 4h0m0 0h0m2-4h0m0 1h0m0-2h0m1 6h0m0-5h0m2 0h0m1-1h0m2 4h0m1 2h0m0-3h0m1-1h0m1 0h0m0-1h0m2 2h0m0 2h0m2 1h0m1-1h0m4-2h0m0-2h0m0 4h0m0-1h0m1-5h0m0 1h0m2 2h0m2 3h0m0-2h0m1-1h0m0-3h0m0 0h0m1 4h0m2-2h0m0 0h0m0-2h0m0 2h0m3 0h0m1 2h0m2 3h0m2-2h0m-47 9h0m1-5h0m0 3h0m3 0h0m2-3h0m1 2h0m0-2h0m0 0h0m2-1h0m3 1h0m0 2h0m0 0h0m1-1h0m0 1h0m1 1h0m2-2h0m4 3h0m1-2h0m4 4h0m0-1h0m0-3h0m2 4h0m0-7h0m2 0h0m1 3h0m0 2h0m1-1h0m0 0h0m6 1h0m4 2h0m0 0h0m1 0h0m2-3h0m0 2h0m0-3h0m2 0h0m2 3h0m-49 8h0m3-3h0m1 4h0m1-4h0m1-1h0m0 1h0m0 0h0m1 0h0m4 1h0m2-1h0m1-2h0m1 0h0m1-1h0m1 1h0m3-1h0m0 6h0m1-6h0m0 6h0m7-4h0m0-2h0m1 1h0m1 3h0m1-1h0m0 3h0m4-2h0m1 0h0m0-1h0m0 3h0m3 0h0m1-6h0m0 6h0m0-6h0m1 4h0m0 0h0m1 1h0m1-4h0m1 3h0m0 1h0m1-2h0m0-2h0m0 3h0m0 1h0m1 1h0m2-6h0m0 1h0m1 2h0m-47 7h0m1-1h0m2 0h0m0 2h0m6 0h0m1 2h0m0-4h0m1 4h0m0 1h0m1-5h0m1 3h0m3 0h0m4 1h0m0-5h0m0 1h0m3 5h0m1-6h0m2 6h0m1-1h0m4-4h0m1 0h0m0 0h0m0 6h0m3 0h0m0-2h0m1-1h0m1-2h0m0 0h0m2-2h0m5 5h0m1 0h0m1-4h0m2 1h0m-24 7h0m5-1h0m3 1h0m4 0h0m1-1h0m3 1h0m1-1h0m0 3h0m1 0h0m1-2h0" stroke="#a7a1e2" stroke-width="2.00" stroke-linecap="round" opacity="0.70" fill="none"/>
<path d="M895 974h0m2-1h0m2 1h0m-16 9h0m2-1h0m2 0h0m2-4h0m1-1h0m1 1h0m0 3h0m0 1h0m4-5h0m1 4h0m1 0h0m1-1h0m1 0h0m1 3h0m1-7h0m0 2h0m1 0h0m-52 12h0m2-3h0m0 2h0m1-1h0m1 3h0m0-1h0m4-1h0m2 1h0m10-1h0m7 0h0m2-3h0m0 0h0m1-1h0m2 0h0m0 5h0m0-4h0m0 4h0m1-4h0m2 1h0m2 3h0m1 0h0m2 1h0m2-2h0m2 0h0m0-3h0m3 0h0m0 1h0m1-1h0m1 3h0m1-3h0m2-1h0m0 1h0m1 3h0m0-2h0m0 1h0m0 0h0m1-2h0m1 5h0m1-6h0m1 4h0m0-1h0m0 2h0m1-1h0m-60 3h0m2 4h0m2-1h0m2-1h0m2 5h0m2-5h0m0 0h0m2 5h0m2-6h0m0 4h0m0-1h0m0-2h0m2-1h0m1 6h0m1-6h0m2 5h0m0-6h0m2 2h0m0 5h0m0-6h0m1 2h0m1 3h0m1 1h0m0-2h0m0-5h0m1 2h0m1 5h0m1-1h0m0-1h0m1 0h0m0 2h0m2-2h0m1-3h0m5 4h0m3-4h0m0 5h0m0-5h0m2 4h0m0-5h0m3 3h0m0-4h0m1 2h0m0 2h0m2-4h0m1 2h0m0 5h0m2-2h0m1-4h0m0 4h0m2-1h0m3-1h0m0 2h0m4 1h0m0-1h0m1-4h0m0 0h0m0-1h0m0 4h0m1-2h0m1 2h0m-60 5h0m0 0h0m2 3h0m0 0h0m0 2h0m3 1h0m0-6h0m0 5h0m0-6h0m2 4h0m0-4h0m3 5h0m3 0h0m0 2h0m0-5h0m3 1h0m1 3h0m1 1h0m1-2h0m0 1h0m2-6h0m1 5h0m0-3h0m2 4h0m0-4h0m1 1h0m1 1h0m1 0h0m1-3h0m0-1h0m1 4h0m0-3h0m0 3h0m1 1h0m0-2h0m1-2h0m1 2h0m2 3h0m0-5h0m1 3h0m0-3h0m2 0h0m1 2h0m1 0h0m0 1h0m2-4h0m2 5h0m0 1h0m1-2h0m2 2h0m2-3h0m1-3h0m2 0h0m0 7h0m1-5h0m0 2h0m3 3h0m4-2h0m2-1h0m4 0h0m-59 7h0m0 1h0m1 2h0m2-2h0m1 3h0m0-1h0m2-2h0m0-4h0m0 2h0m1 4h0m1-2h0m2-4h0m1 2h0m0 1h0m1 0h0m1-3h0m2 3h0m0-2h0m1 4h0m1-3h0m3 5h0m2-7h0m0 4h0m1-1h0m1 1h0m1-4h0m2 2h0m2 4h0m1 1h0m0-6h0m2 3h0m1-1h0m1-3h0m1 6h0m2-1h0m1-3h0m1 1h0m1 2h0m0-3h0m0 4h0m2 1h0m0-6h0m2-1h0m1 3h0m1-3h0m0 6h0m1 0h0m3-1h0m0-1h0m0 0h0m0-4h0m3 5h0m0-1h0m1-1h0m1-2h0m0 5h0m0 0h0m1-6h0m0 7h0m2-3h0m1 2h0m2-1h0m0-5h0m0 7h0m3-2h0m-65 5h0m0 0h0m3 2h0m0 0h0m0 3h0m5-1h0m4-6h0m1 4h0m4 3h0m0 0h0m3 0h0m1-4h0m1 2h0m0 0h0m2 1h0m0-5h0m1 1h0m1 4h0m1-1h0m0-2h0m1 4h0m1-3h0m0 0h0m2-3h0m0 3h0m4-3h0m1-1h0m0 7h0m2-2h0m2-4h0m1 3h0m0-2h0m0 1h0m1 4h0m1-5h0m1 2h0m1 2h0m0-6h0m1 2h0m1 4h0m0-1h0m1-5h0m0 2h0m0 5h0m1-4h0m0 0h0m1-1h0m2-1h0m2 0h0m1 0h0m2 4h0m1-4h0m0 2h0m1 4h0m2 0h0m1-4h0m1-1h0m0 2h0m1 3h0m1-7h0m0 5h0m1-2h0m2 3h0m0-1h0m-68 5h0m1 5h0m2 0h0m2 0h0m1-3h0m1-2h0m3 1h0m1-1h0m0 5h0m2-6h0m0 3h0m0 2h0m2-2h0m0 3h0m0-4h0m1-2h0m1 5h0m1 0h0m1-1h0m1 0h0m1 2h0m2-3h0m2 1h0m0-4h0m1-1h0m0 5h0m0-3h0m1 5h0m1-3h0m0 2h0m1 1h0m0-4h0m0 4h0m0-6h0m2 1h0m3 0h0m1 0h0m0-2h0m3 4h0m1-2h0m0 2h0m0 0h0m1-3h0m1 3h0m2 3h0m0-6h0m0 0h0m1 0h0m0 0h0m1 3h0m1-2h0m0 2h0m1 2h0m1 1h0m0-2h0m2 1h0m2-1h0m1-5h0m0 2h0m2 2h0m2-2h0m0 5h0m1-5h0m0-2h0m1 0h0m0 4h0m2-4h0m2 6h0m0-2h0m1 2h0m0-4h0m1 5h0m0-2h0m1-3h0m1 0h0m1 4h0m2-6h0m3 4h0m1 1h0m1 2h0m0 0h0m-76 4h0m2 1h0m1 2h0m1-6h0m2 7h0m1-2h0m1-1h0m2-3h0m3 3h0m0-2h0m2 0h0m0 1h0m1-1h0m1 2h0m0 0h0m1-3h0m3 0h0m1 0h0m1 2h0m0 2h0m0 2h0m0-2h0m3-5h0m1 7h0m1 0h0m4-5h0m1 3h0m0-3h0m2-2h0m1 2h0m1 2h0m1 1h0m2-5h0m1 0h0m0 5h0m0 1h0m2-4h0m1 3h0m0 0h0m1 0h0m1-1h0m1-4h0m0 1h0m0 3h0m1 0h0m1 1h0m4 0h0m5-3h0m1 3h0m1 1h0m0-4h0m0 2h0m1 1h0m1-3h0m0 3h0m0-1h0m2 0h0m3-2h0m2 4h0m0-4h0m0 5h0m5-5h0m0 0h0m1 1h0m2-3h0m0 6h0m0-3h0m-76 5h0m1 1h0m1 5h0m0 0h0m1-2h0m1-2h0m3 1h0m1-1h0m1-1h0m0 2h0m0-1h0m2 1h0m2 4h0m2-7h0m0 2h0m1 0h0m1-2h0m3 4h0m0-1h0m3-1h0m2 4h0m0-4h0m1 4h0m0-5h0m1 5h0m1-1h0m1 1h0m2 0h0m1 1h0m1-6h0m0 6h0m1 0h0m1-4h0m1 3h0m0-6h0m0 0h0m1 4h0m0-4h0m1 7h0m1-1h0m0-1h0m1-3h0m0 0h0m0-2h0m1 2h0m0 3h0m1-2h0m1 3h0m0 1h0m0-3h0m1-2h0m0 1h0m0-3h0m1 7h0m1-5h0m1 1h0m0 1h0m0-3h0m1 5h0m0-6h0m3 7h0m0 0h0m2-4h0m1 1h0m0-1h0m7 2h0m1-3h0m1 4h0m0-2h0m1 3h0m1-2h0m1-1h0m0-2h0m1 5h0m0-1h0m2-3h0m0-2h0m0 0h0m4 0h0m0 3h0m1 2h0m1 0h0m1-2h0m1-3h0m1 5h0m1 1h0m2-4h0m0 0h0m1 0h0m1 2h0m-81 3h0m1 0h0m0 6h0m1 1h0m2-2h0m0-4h0m1 6h0m1-3h0m1-3h0m1 0h0m3 1h0m1-1h0m0 2h0m2-1h0m0 1h0m3 0h0m0 4h0m0-7h0m2 3h0m0 4h0m1-3h0m1 3h0m1-4h0m0 3h0m0-3h0m2 3h0m0 0h0m2 0h0m0-6h0m1 1h0m2-1h0m1 3h0m1 0h0m1 2h0m2-4h0m1 6h0m1-3h0m1-3h0m2 0h0m0 6h0m1-4h0m0-3h0m1 3h0m3 3h0m4-6h0m1 7h0m1-5h0m1 1h0m1 4h0m4-4h0m1-3h0m1 7h0m2-5h0m0-1h0m0-1h0m0 4h0m4-2h0m0 3h0m1-3h0m1 0h0m0 5h0m0-5h0m1 5h0m1-3h0m1-3h0m1 3h0m1 2h0m6 0h0m1 1h0m2-6h0m0 3h0m1-3h0m1 1h0m0-2h0m1 7h0m0-5h0m1 3h0m2 2h0m-86 8h0m2-7h0m1 6h0m0 1h0m2-7h0m0 3h0m1 3h0m0-4h0m3 2h0m0-3h0m2 4h0m1-1h0m1-2h0m0 1h0m1-1h0m2 4h0m0-3h0m1 3h0m0-5h0m1 3h0m0-1h0m2 0h0m2 1h0m2-1h0m0 3h0m2-4h0m2 2h0m1 2h0m2-6h0m2 3h0m2-3h0m1 4h0m0 3h0m1-7h0m1 4h0m2 1h0m1 2h0m2-3h0m0-4h0m4 6h0m0-1h0m5-4h0m1 3h0m0 0h0m0-4h0m1 6h0m2-5h0m1 6h0m0-1h0m1-1h0m0 0h0m1 0h0m2-5h0m1 2h0m0 1h0m1-1h0m0 5h0m0-6h0m1 5h0m2-4h0m1 1h0m0 2h0m2-5h0m2 6h0m1-4h0m2 2h0m1-1h0m1 1h0m1 3h0m1-2h0m1 1h0m0-3h0m1 1h0m3-2h0m-83 6h0m1 0h0m0 2h0m1 3h0m0 2h0m2 0h0m1-2h0m2-4h0m1 5h0m1-3h0m0-1h0m1 5h0m0-3h0m1 1h0m1-3h0m1 1h0m1 1h0m1-3h0m0-1h0m1 4h0m3-2h0m1-1h0m0 4h0m1-1h0m2 3h0m2-4h0m0-1h0m0 4h0m1-1h0m2-3h0m0 1h0m1 4h0m0-5h0m1 1h0m0 0h0m1-2h0m3-1h0m1 5h0m1-4h0m2 1h0m0-1h0m1-1h0m0 4h0m2-4h0m1 3h0m1-3h0m1 1h0m1 4h0m0-3h0m1-2h0m2 3h0m0 3h0m1-6h0m0 0h0m2 5h0m1-4h0m1 0h0m0 5h0m2-3h0m0 3h0m0-3h0m0 3h0m1-6h0m0 1h0m1 4h0m0 2h0m1-5h0m0 5h0m1-1h0m0 0h0m1-5h0m0 3h0m1 3h0m1-4h0m1-3h0m0 5h0m2-2h0m1-2h0m0 4h0m0-4h0m0 0h0m1 4h0m0 0h0m0-1h0m1-4h0m0 4h0m2 1h0m3 2h0m2-3h0m2 2h0m1-3h0m0-2h0m1 2h0m0-3h0m3 2h0m-81 6h0m1 3h0m0 2h0m0-2h0m4 0h0m0 1h0m1-2h0m3 3h0m0-4h0m0 2h0m2 2h0m0-1h0m0 3h0m2-4h0m1 3h0m2-4h0m0 1h0m3-1h0m2 0h0m4 4h0m0-4h0m2 1h0m2-3h0m2 3h0m3 4h0m0-5h0m1-1h0m0 6h0m1 0h0m2-4h0m0 2h0m0 2h0m0-5h0m1 3h0m0 2h0m1-5h0m1 2h0m0 0h0m2-3h0m1-1h0m1 7h0m0-3h0m1 1h0m1 1h0m1-3h0m3 2h0m0-1h0m2-3h0m0 2h0m1-2h0m1 0h0m1-1h0m0 5h0m1-1h0m1 1h0m0-5h0m2 1h0m2 4h0m0 2h0m1-7h0m1 5h0m2-4h0m4-1h0m0 0h0m0 7h0m2 0h0m1-4h0m1-3h0m0 0h0m1 3h0m0-1h0m0 0h0m0 0h0m1-2h0m-72 13h0m0 2h0m1-1h0m3-4h0m3 4h0m2-2h0m0-1h0m1-2h0m0 6h0m0-5h0m0 3h0m2-3h0m2 0h0m2 2h0m0-4h0m2 0h0m1 2h0m1-2h0m0 2h0m0 5h0m0-7h0m1 4h0m3-3h0m2 3h0m0 2h0m2 1h0m2-5h0m0 3h0m1-3h0m2 0h0m0 2h0m1-4h0m1 0h0m0 0h0m2 3h0m1-2h0m2 3h0m0 1h0m1-5h0m1 4h0m1 2h0m0-5h0m1 3h0m2-1h0m1-3h0m0 2h0m0 5h0m1-2h0m1-3h0m2 5h0m1-5h0m0 4h0m2-1h0m0 2h0m2-4h0m0 0h0m1 4h0m0-2h0m0-3h0m3-1h0m1-1h0m2 3h0m0-2h0m1 0h0m1 0h0m0-1h0m0 5h0m-65 7h0m1-2h0m0 2h0m4 2h0m1-3h0m2-2h0m1 5h0m0 1h0m1-1h0m4-4h0m2 4h0m1-4h0m2-2h0m1 2h0m0 4h0m3-6h0m0 3h0m0 1h0m0 3h0m1-3h0m1-2h0m1 4h0m2-5h0m1 0h0m4 3h0m0 0h0m2 0h0m0 3h0m0 0h0m1-2h0m0-4h0m1 3h0m1-4h0m0 6h0m4-4h0m0 5h0m0-1h0m0-3h0m2-2h0m1 6h0m1-3h0m1-4h0m1 1h0m2 2h0m2-2h0m1-1h0m5 3h0m1-1h0m-56 8h0m0-1h0m0 1h0m1 0h0m0-2h0m1 4h0m0-2h0m2 4h0m1-5h0m2-1h0m4 4h0m0-1h0m0-2h0m1 1h0m1 3h0m4 0h0m0-3h0m1 1h0m1 0h0m1 3h0m3-6h0m1 4h0m1-2h0m2 2h0m3 2h0m0-4h0m2 0h0m0-1h0m1 4h0m2 0h0m1-5h0m0 0h0m0 5h0m3 2h0m0-1h0m0 1h0m1-5h0m1 4h0m0-5h0m2 6h0m3-4h0m-43 8h0m1-2h0m0 2h0m1-3h0m0 1h0m1 5h0m0-6h0m0 2h0m1 0h0m1 1h0m2 1h0m0-2h0m1 4h0m2-3h0m3-1h0m1 2h0m1-4h0m0 3h0m2 0h0m1 2h0m1-5h0m1 5h0m0-2h0m1 4h0m2-7h0m1 2h0m1 2h0m0-2h0m2 0h0m0 1h0m1 4h0m1-3h0m1-2h0m0 3h0m1 2h0m0-1h0m2 1h0m1-4h0m0-1h0m1 5h0m0-7h0m0 0h0m1 1h0m0 6h0m3-4h0m-27 7h0m3 3h0m1-5h0m0 6h0m5-6h0m1 7h0m0-6h0m0 3h0m2 1h0m0-5h0m2 6h0m2-5h0m0 5h0m2-2h0m5 1h0m1-4h0m-24 8h0m1-1h0m2 1h0m6-1h0m1 5h0m0-4h0m3 6h0m3 0h0m1-3h0m2-1h0m0-1h0m-5 6h0" stroke="#a7a1e2" stroke-width="2.00" stroke-linecap="round" opacity="0.70" fill="none"/>
<path d="M826 1069h0m5 2h0m0 0h0m-26 7h0m5 1h0m0-4h0m3 3h0m1-6h0m1 1h0m0 3h0m1-1h0m1 3h0m1-6h0m1 2h0m1-1h0m4 2h0m1-1h0m2 2h0m1 2h0m1-5h0m2 0h0m0 0h0m4 6h0m-35 8h0m3 0h0m2-1h0m1-5h0m0 5h0m2-3h0m0-1h0m2-1h0m3 2h0m0 4h0m0-3h0m1 1h0m3 1h0m1 1h0m3-6h0m4 0h0m2 4h0m2-4h0m2 3h0m1 0h0m0 3h0m3-2h0m2 2h0m1-4h0m1 1h0m0 1h0m2 1h0m4 1h0m1-3h0m0 2h0m1 1h0m0-4h0m1 0h0m1 4h0m1 0h0m5-2h0m0 0h0m7 2h0m-68 6h0m4-5h0m0 7h0m3-2h0m1-1h0m5-4h0m1 5h0m1 1h0m4 1h0m3-5h0m0 2h0m1-4h0m2 0h0m1 4h0m3 2h0m7-2h0m2 1h0m1-4h0m1 3h0m0-2h0m3 3h0m5-3h0m2 3h0m1 0h0m1-4h0m1-1h0m3 6h0m1-6h0m3 7h0m2-1h0m2 1h0m8-4h0m1 4h0m2-2h0m1 0h0m2 1h0m-77 4h0m7 0h0m3 1h0m5 1h0m0-4h0m4 5h0m7-2h0m0-2h0m1 5h0m2-1h0m1-3h0m3 0h0m2-2h0m4 3h0m0 0h0m2-2h0m2-1h0m0 7h0m3-5h0m0 3h0m1 1h0m1-4h0m1 0h0m1 5h0m3-4h0m1 0h0m0 4h0m0-2h0m1 0h0m2 0h0m2-1h0m3 0h0m0-4h0m3 1h0m2 4h0m0 1h0m1-5h0m2 3h0m2-1h0m2 2h0m0 2h0m1-3h0m0-3h0m1 1h0m1 2h0m1 0h0m1 2h0m1-1h0m2 2h0m-85 4h0m1 4h0m0-6h0m1 4h0m2-3h0m0 0h0m0-2h0m1 6h0m0-5h0m7 0h0m0 6h0m1-3h0m1 3h0m1-7h0m1 7h0m2-1h0m2-3h0m2 4h0m2-5h0m0 0h0m5 1h0m0-3h0m1 2h0m0 3h0m2 0h0m2-4h0m0 2h0m0 2h0m2 0h0m1 2h0m3-1h0m1-6h0m0 3h0m0 4h0m1-3h0m0 0h0m5-2h0m1 5h0m1 0h0m0-7h0m1 3h0m0 2h0m1 2h0m1-1h0m1-4h0m2 3h0m2 2h0m4-4h0m0 0h0m1-3h0m3 6h0m0-2h0m3-3h0m0 4h0m3-5h0m1 0h0m3 0h0m1 3h0m1-1h0m1 1h0m3 4h0m2-4h0m1 1h0m2-3h0m3 4h0m1 2h0m1 0h0m-91 4h0m1-3h0m0 3h0m0 3h0m4-5h0m0 4h0m2 1h0m1-4h0m3 2h0m2-3h0m2 6h0m0-3h0m1 0h0m2 1h0m2 1h0m5 0h0m0 0h0m5 0h0m0-6h0m2 1h0m1-1h0m0 0h0m0 2h0m3 4h0m3-1h0m1 1h0m1-1h0m1 0h0m3-5h0m0 1h0m4 2h0m0 3h0m2-3h0m1 3h0m1-5h0m0 3h0m1-3h0m0-1h0m2 0h0m3 1h0m1 5h0m3-6h0m0 0h0m2 4h0m3-3h0m0 0h0m5 6h0m0-3h0m0-1h0m2-2h0m1-1h0m4 2h0m0 1h0m2 4h0m3 0h0m2-1h0m5-5h0m-84 7h0m38 0h0m3 0h0m6 0h0m1 6h0m1 0h0m3 1h0m1-6h0m0 0h0m0-1h0m2 5h0m2 0h0m1-5h0m2 0h0m1 0h0m0 2h0m0-1h0m5 6h0m4 0h0m2-1h0m0 1h0m1-4h0m1 0h0m4-3h0m0 0h0m1 7h0m0 0h0m4-2h0m1-5h0m3 3h0m0-2h0m1 4h0m1-1h0m0-3h0m6 5h0m-34 7h0m1-3h0m2-2h0m1 7h0m1 0h0m0-5h0m0 3h0m1 0h0m1 2h0m4-2h0m0-2h0m1 0h0m6 0h0m1-3h0m0 2h0m0 4h0m1-6h0m1 1h0m0 0h0m3 0h0m0 6h0m6-2h0m1 0h0m1 1h0m1-6h0m0 3h0m-27 6h0m3 1h0m1 1h0m2-3h0m1 4h0m1 0h0m3-4h0m1 1h0m1 1h0m3 0h0m8-1h0m-13 8h0m1 1h0m1 0h0m2 2h0m1-2h0m2 4h0m1-2h0m1 0h0" stroke="#a7a1e2" stroke-width="2.00" stroke-linecap="round" opacity="0.70" fill="none"/>
<path d="M791 1125h0m1-2h0m1-2h0m4 2h0m1 3h0m6-4h0m2 2h0m1-3h0m-15 7h0m9 7h0m2-3h0m-15 9h0m1 0h0m3 2h0m11-6h0m1 3h0m0-2h0m1 2h0m0-1h0m0-3h0m-27 10h0m0 3h0m17 2h0m0-4h0m0 3h0m2-3h0m1-1h0m0 0h0m6 1h0m1 1h0m-36 10h0m4-6h0m1 3h0m6-2h0m1 5h0m0 0h0m2-1h0m1 2h0m2 0h0m2-1h0m1-3h0m2 0h0m0 1h0m9-3h0m-30 10h0m8-3h0m1 6h0m7-1h0m1 2h0m0-3h0m1 0h0m6 0h0m6 2h0m2-1h0m-30 6h0m1 1h0m2 0h0m3 1h0m1-5h0m2 7h0m1-5h0m4 2h0m9-1h0m2-3h0m0 7h0m0 0h0m2-6h0m1 1h0m2 0h0m-21 6h0m1 4h0m2-2h0m4-1h0m2 5h0m1-2h0m1-2h0m1 2h0m5-3h0m2-1h0m1 0h0" stroke="#a7a1e2" stroke-width="2.00" stroke-linecap="round" opacity="0.70" fill="none"/>
<path d="M828 1119h0m-19 4h0m2 2h0m1 2h0m14-2h0m6 1h0m10-2h0m3 2h0m1 1h0m-37 8h0m1-4h0m0 4h0m1-6h0m2 4h0m2 2h0m4-7h0m5 1h0m2 3h0m2-3h0m1 2h0m10 3h0m2-4h0m1 1h0m8-2h0m0 0h0m1 1h0m1 5h0m1 0h0m0-7h0m3 3h0m0 1h0m5 2h0m-53 5h0m1-2h0m1 2h0m5-1h0m2 3h0m5-3h0m7 0h0m2-1h0m12 2h0m1 3h0m1 0h0m2-5h0m6 2h0m8-3h0m3 2h0m-55 11h0m3-1h0m0 0h0m3-1h0m6 1h0m1-1h0m5-2h0m6 2h0m11-3h0m0 6h0m4-4h0m6 1h0m1 2h0m10-4h0m8 0h0m0 1h0m-65 10h0m1 2h0m4 1h0m0-4h0m3 1h0m1-3h0m2-1h0m5 0h0m0 6h0m1-4h0m2 1h0m4 2h0m8-3h0m3 1h0m1 1h0m3 3h0m4-5h0m4 0h0m12-2h0m3 2h0m9 0h0m-67 13h0m0-5h0m7 5h0m1-4h0m0-1h0m5 3h0m1 1h0m2-2h0m1-4h0m2 6h0m0-2h0m1 0h0m0-3h0m1-1h0m5 5h0m7-3h0m2-2h0m5 6h0m1-1h0m4-2h0m3 2h0m0-2h0m9 4h0m2-7h0m1 2h0m2 4h0m3-5h0m4-1h0m-51 13h0m5-1h0m5 3h0m1-3h0m6 2h0m18 1h0m3-4h0m1 0h0" stroke="#a7a1e2" stroke-width="2.00" stroke-linecap="round" opacity="0.70" fill="none"/>
<path d="M832 1014h0m1-4h0m2 0h0m-9 9h0m14-2h0m7 0h0m1 4h0m0-3h0m4-1h0m-24 11h0m2 1h0m15-5h0m7 1h0m2 6h0m1-5h0m0-1h0m1 4h0m-32 10h0m2-1h0m1-4h0m3-2h0m0 3h0m8 3h0m0-3h0m2 0h0m1-3h0m3 3h0m1 0h0m-17 8h0m1-3h0m4 5h0m0-3h0m7 3h0m1 0h0m13-5h0m2 4h0m-32 8h0m2 3h0m3-2h0m7 1h0m3 0h0m1-4h0m1-1h0m3 6h0m3-7h0m3 3h0m-28 6h0m19 4h0m17-4h0m-26 8h0m0 4h0m24-4h0m-14 11h0m1 3h0m4-3h0m1-3h0m9 5h0m2-5h0m-13 8h0m8 1h0" stroke="#a7a1e2" stroke-width="2.00" stroke-linecap="round" opacity="0.70" fill="none"/>
<path d="M756 966h0m3-4h0m-7 9h0m3 4h0m0-2h0m1-1h0m1-1h0m4-2h0m0 0h0m4 0h0m0 6h0m1-7h0m3 7h0m-18 1h0m1 0h0m0 2h0m3 1h0m2 3h0m1-1h0m4-3h0m2-1h0m-13 10h0m0-3h0m3 2h0m5 2h0m5-3h0m0 2h0m-8 8h0m3 3h0m1-1h0" stroke="#a7a1e2" stroke-width="2.00" stroke-linecap="round" opacity="0.70" fill="none"/>
<path d="M796 998h0m1-5h0m1 1h0m2 3h0m4-1h0m1-2h0m2 4h0m0-4h0m-13 8h0m1-1h0m2 5h0m11 1h0m-13 3h0m5 2h0m5-2h0m-14 7h0m0 4h0m6-1h0m1 3h0m3-5h0m0 0h0m-22 10h0m5 2h0m1-2h0m11 1h0m-31 10h0m7-2h0m8-5h0m2 2h0m4-1h0m1 1h0m2 4h0m3-4h0m-31 10h0m2-1h0m4 4h0m1-5h0m6-1h0m8 1h0m1 1h0m4 0h0m0-2h0m2 5h0m3-4h0m2 3h0m1-3h0m3 0h0m-26 8h0m4 5h0m0-7h0m1 3h0m3 4h0m6-6h0m0 4h0m2 0h0m1-4h0m2-1h0m1 7h0m1-1h0m3-5h0" stroke="#a7a1e2" stroke-width="2.00" stroke-linecap="round" opacity="0.70" fill="none"/>
</g>
<line x1="159.4" y1="864.4" x2="159.4" y2="1231.0" stroke="#111" stroke-width="2.00"/>
<line x1="158.4" y1="1230.0" x2="520.5" y2="1230.0" stroke="#111" stroke-width="2.00"/>
<line x1="153.9" y1="958.9" x2="159.4" y2="958.9" stroke="#111" stroke-width="2.20"/>
<text x="150.4" y="964.9" font-size="16.5" text-anchor="end" fill="#161616" stroke="#161616" stroke-width="0.35">5</text>
<line x1="153.9" y1="1056.3" x2="159.4" y2="1056.3" stroke="#111" stroke-width="2.20"/>
<text x="150.4" y="1062.3" font-size="16.5" text-anchor="end" fill="#161616" stroke="#161616" stroke-width="0.35">0</text>
<line x1="153.9" y1="1154.2" x2="159.4" y2="1154.2" stroke="#111" stroke-width="2.20"/>
<text x="150.4" y="1160.2" font-size="16.5" text-anchor="end" fill="#161616" stroke="#161616" stroke-width="0.35">−5</text>
<line x1="204.4" y1="1230.0" x2="204.4" y2="1235.5" stroke="#111" stroke-width="2.20"/>
<text x="204.9" y="1250.0" font-size="16.5" text-anchor="middle" fill="#161616" stroke="#161616" stroke-width="0.35">−10</text>
<line x1="279.4" y1="1230.0" x2="279.4" y2="1235.5" stroke="#111" stroke-width="2.20"/>
<text x="279.9" y="1250.0" font-size="16.5" text-anchor="middle" fill="#161616" stroke="#161616" stroke-width="0.35">−5</text>
<line x1="353.2" y1="1230.0" x2="353.2" y2="1235.5" stroke="#111" stroke-width="2.20"/>
<text x="353.7" y="1250.0" font-size="16.5" text-anchor="middle" fill="#161616" stroke="#161616" stroke-width="0.35">0</text>
<line x1="428.2" y1="1230.0" x2="428.2" y2="1235.5" stroke="#111" stroke-width="2.20"/>
<text x="428.7" y="1250.0" font-size="16.5" text-anchor="middle" fill="#161616" stroke="#161616" stroke-width="0.35">5</text>
<line x1="503.2" y1="1230.0" x2="503.2" y2="1235.5" stroke="#111" stroke-width="2.20"/>
<text x="503.7" y="1250.0" font-size="16.5" text-anchor="middle" fill="#161616" stroke="#161616" stroke-width="0.35">10</text>
<text x="0" y="0" font-size="17.5" text-anchor="middle" fill="#1a1a1a" transform="translate(124.3 1047.0) rotate(-90)">UMAP_2</text>
<text x="338.5" y="1269.5" font-size="17.5" text-anchor="middle" fill="#1a1a1a" stroke="#1a1a1a" stroke-width="0.35">UMAP_1</text>
<line x1="616.7" y1="865.0" x2="616.7" y2="1231.0" stroke="#111" stroke-width="2.00"/>
<line x1="615.7" y1="1230.0" x2="976.7" y2="1230.0" stroke="#111" stroke-width="2.00"/>
<line x1="611.2" y1="958.3" x2="616.7" y2="958.3" stroke="#111" stroke-width="2.20"/>
<text x="607.7" y="964.3" font-size="16.5" text-anchor="end" fill="#161616" stroke="#161616" stroke-width="0.35">5</text>
<line x1="611.2" y1="1056.7" x2="616.7" y2="1056.7" stroke="#111" stroke-width="2.20"/>
<text x="607.7" y="1062.7" font-size="16.5" text-anchor="end" fill="#161616" stroke="#161616" stroke-width="0.35">0</text>
<line x1="611.2" y1="1155.0" x2="616.7" y2="1155.0" stroke="#111" stroke-width="2.20"/>
<text x="607.7" y="1161.0" font-size="16.5" text-anchor="end" fill="#161616" stroke="#161616" stroke-width="0.35">−5</text>
<line x1="662.7" y1="1230.0" x2="662.7" y2="1235.5" stroke="#111" stroke-width="2.20"/>
<text x="663.2" y="1250.0" font-size="16.5" text-anchor="middle" fill="#161616" stroke="#161616" stroke-width="0.35">−10</text>
<line x1="737.3" y1="1230.0" x2="737.3" y2="1235.5" stroke="#111" stroke-width="2.20"/>
<text x="737.8" y="1250.0" font-size="16.5" text-anchor="middle" fill="#161616" stroke="#161616" stroke-width="0.35">−5</text>
<line x1="811.7" y1="1230.0" x2="811.7" y2="1235.5" stroke="#111" stroke-width="2.20"/>
<text x="812.2" y="1250.0" font-size="16.5" text-anchor="middle" fill="#161616" stroke="#161616" stroke-width="0.35">0</text>
<line x1="885.7" y1="1230.0" x2="885.7" y2="1235.5" stroke="#111" stroke-width="2.20"/>
<text x="886.2" y="1250.0" font-size="16.5" text-anchor="middle" fill="#161616" stroke="#161616" stroke-width="0.35">5</text>
<line x1="960.7" y1="1230.0" x2="960.7" y2="1235.5" stroke="#111" stroke-width="2.20"/>
<text x="961.2" y="1250.0" font-size="16.5" text-anchor="middle" fill="#161616" stroke="#161616" stroke-width="0.35">10</text>
<text x="0" y="0" font-size="17.5" text-anchor="middle" fill="#1a1a1a" transform="translate(581.8 1046.5) rotate(-90)">UMAP_2</text>
<text x="796.5" y="1269.5" font-size="17.5" text-anchor="middle" fill="#1a1a1a" stroke="#1a1a1a" stroke-width="0.35">UMAP_1</text>
<rect x="195.0" y="1111.8" width="19.5" height="97.5" fill="url(#cbar)"/>
<line x1="195.0" y1="1125.7" x2="198.5" y2="1125.7" stroke="#fff" stroke-width="1.00" opacity="0.8"/>
<line x1="211.0" y1="1125.7" x2="214.5" y2="1125.7" stroke="#fff" stroke-width="1.00" opacity="0.8"/>
<text x="224.2" y="1131.4" font-size="16.0" text-anchor="start" fill="#161616" stroke="#161616" stroke-width="0.35">4</text>
<line x1="195.0" y1="1147.5" x2="198.5" y2="1147.5" stroke="#fff" stroke-width="1.00" opacity="0.8"/>
<line x1="211.0" y1="1147.5" x2="214.5" y2="1147.5" stroke="#fff" stroke-width="1.00" opacity="0.8"/>
<text x="224.2" y="1153.2" font-size="16.0" text-anchor="start" fill="#161616" stroke="#161616" stroke-width="0.35">3</text>
<line x1="195.0" y1="1168.9" x2="198.5" y2="1168.9" stroke="#fff" stroke-width="1.00" opacity="0.8"/>
<line x1="211.0" y1="1168.9" x2="214.5" y2="1168.9" stroke="#fff" stroke-width="1.00" opacity="0.8"/>
<text x="224.2" y="1174.6" font-size="16.0" text-anchor="start" fill="#161616" stroke="#161616" stroke-width="0.35">2</text>
<line x1="195.0" y1="1189.8" x2="198.5" y2="1189.8" stroke="#fff" stroke-width="1.00" opacity="0.8"/>
<line x1="211.0" y1="1189.8" x2="214.5" y2="1189.8" stroke="#fff" stroke-width="1.00" opacity="0.8"/>
<text x="224.2" y="1195.5" font-size="16.0" text-anchor="start" fill="#161616" stroke="#161616" stroke-width="0.35">1</text>
<text x="224.2" y="1216.1" font-size="16.0" text-anchor="start" fill="#161616" stroke="#161616" stroke-width="0.35">0</text>
<rect x="651.7" y="1111.7" width="20.0" height="98.3" fill="url(#cbar)"/>
<line x1="651.7" y1="1126.0" x2="655.2" y2="1126.0" stroke="#fff" stroke-width="1.00" opacity="0.8"/>
<line x1="668.2" y1="1126.0" x2="671.7" y2="1126.0" stroke="#fff" stroke-width="1.00" opacity="0.8"/>
<text x="680.0" y="1131.7" font-size="16.0" text-anchor="start" fill="#161616" stroke="#161616" stroke-width="0.35">4</text>
<line x1="651.7" y1="1147.3" x2="655.2" y2="1147.3" stroke="#fff" stroke-width="1.00" opacity="0.8"/>
<line x1="668.2" y1="1147.3" x2="671.7" y2="1147.3" stroke="#fff" stroke-width="1.00" opacity="0.8"/>
<text x="680.0" y="1153.0" font-size="16.0" text-anchor="start" fill="#161616" stroke="#161616" stroke-width="0.35">3</text>
<line x1="651.7" y1="1168.7" x2="655.2" y2="1168.7" stroke="#fff" stroke-width="1.00" opacity="0.8"/>
<line x1="668.2" y1="1168.7" x2="671.7" y2="1168.7" stroke="#fff" stroke-width="1.00" opacity="0.8"/>
<text x="680.0" y="1174.4" font-size="16.0" text-anchor="start" fill="#161616" stroke="#161616" stroke-width="0.35">2</text>
<line x1="651.7" y1="1190.0" x2="655.2" y2="1190.0" stroke="#fff" stroke-width="1.00" opacity="0.8"/>
<line x1="668.2" y1="1190.0" x2="671.7" y2="1190.0" stroke="#fff" stroke-width="1.00" opacity="0.8"/>
<text x="680.0" y="1195.7" font-size="16.0" text-anchor="start" fill="#161616" stroke="#161616" stroke-width="0.35">1</text>
<text x="680.0" y="1216.4" font-size="16.0" text-anchor="start" fill="#161616" stroke="#161616" stroke-width="0.35">0</text>
<text x="0" y="0" font-size="38" font-weight="bold" font-style="italic" fill="#161616" textLength="85.5" lengthAdjust="spacingAndGlyphs" transform="translate(984.6 1005.8) rotate(90)">Mycl</text>
<text x="1355.0" y="26.3" font-size="28.0" text-anchor="start" font-weight="bold" fill="#111" textLength="54.6" lengthAdjust="spacingAndGlyphs">Myc</text>
<text x="1321.0" y="65.0" font-size="22.3" text-anchor="start" fill="#1a1a1a" textLength="116.0" lengthAdjust="spacingAndGlyphs">p=2.20E-20</text>
<line x1="1324.5" y1="73.4" x2="1438.6" y2="73.4" stroke="#151515" stroke-width="4.00"/>
<line x1="1324.2" y1="149.0" x2="1324.2" y2="521.0" stroke="#2e3232" stroke-width="4.20" stroke-linecap="round"/>
<line x1="1439.2" y1="96.5" x2="1439.2" y2="521.0" stroke="#2e3232" stroke-width="4.20" stroke-linecap="round"/>
<path d="M1283 155h0m50 8h0m4 1h0m-14 10h0m13-5h0m-43 38h0m7 1h0m7 1h0m19 2h0m-46 5h0m4 3h0m40-3h0m34 2h0m-67 7h0m5 4h0m-15 8h0m6 1h0m2 7h0m1-2h0m79-3h0m-53 13h0m26-2h0m12-1h0m-15 11h0m16-4h0m13 3h0m-87 10h0m2-3h0m8-1h0m4 1h0m10-2h0m13-1h0m31 7h0m5-4h0m7 3h0m4-5h0m-79 14h0m24-4h0m3-1h0m4 4h0m9 1h0m1-6h0m0 1h0m13 4h0m21-5h0m0 6h0m2-1h0m1 1h0m4 0h0m1-1h0m-73 4h0m1-2h0m1 2h0m14-2h0m15 6h0m17-6h0m1 5h0m2 0h0m15-2h0m-65 6h0m10 6h0m8-6h0m20 3h0m2-2h0m6-2h0m0 3h0m11 2h0m11-4h0m2 2h0m0 0h0m-68 5h0m1 2h0m0 4h0m8 1h0m3-3h0m2 1h0m11-5h0m29 1h0m6 3h0m-72 8h0m4-3h0m1-1h0m9 4h0m25-4h0m14 3h0m6-2h0m1 1h0m1 0h0m-60 12h0m1-6h0m5 5h0m6 2h0m2-5h0m5 2h0m4 0h0m1-1h0m7 4h0m3 0h0m11-1h0m15 1h0m1-3h0m-65 8h0m6 1h0m1-1h0m13 1h0m9 2h0m1-5h0m12 3h0m4 1h0m0 1h0m6-4h0m1-3h0m8 4h0m0 2h0m15-2h0m1-1h0m-78 12h0m8 0h0m17-2h0m4-5h0m11 3h0m0 4h0m3-1h0m10-4h0m7-1h0m1 0h0m2 5h0m1-1h0m5 0h0m0-1h0m11 3h0m-84 3h0m10 3h0m3-3h0m13 0h0m5-2h0m0 2h0m4 2h0m6 2h0m2-2h0m2 2h0m11-4h0m2-1h0m11 3h0m9 0h0m1-4h0m1 2h0m0-2h0m1 0h0m5 5h0m1-1h0m2 2h0m-85 2h0m11 4h0m5 0h0m6-1h0m2 4h0m23 0h0m10-3h0m2 0h0m9-3h0m1 4h0m2-4h0m5 0h0m6 0h0m5-1h0m-89 12h0m11 3h0m18-5h0m5 3h0m7-4h0m2 0h0m8 6h0m2-2h0m11-1h0m9 3h0m13-4h0m-83 12h0m3-3h0m4 1h0m2-3h0m3-2h0m12 5h0m15 1h0m4-3h0m2 3h0m3-1h0m6-4h0m3 2h0m1 3h0m7-6h0m7 0h0m1 0h0m3 0h0m2 3h0m5 3h0m0-2h0m2-4h0m-89 10h0m2 1h0m6 0h0m3 1h0m0 3h0m1-1h0m5-1h0m6 1h0m2-6h0m4 1h0m2 2h0m1 2h0m2 2h0m9-1h0m1-2h0m3 1h0m3 0h0m3-1h0m11 0h0m3-3h0m5 5h0m1-5h0m1 4h0m2-1h0m3-2h0m3 5h0m0-4h0m6 4h0m-90 1h0m3 0h0m1 6h0m2-4h0m0-2h0m1 3h0m8 2h0m3-5h0m8 1h0m1 1h0m5 5h0m4-6h0m1 0h0m0 1h0m1 0h0m1 4h0m2 1h0m1-7h0m6 2h0m1 5h0m2 0h0m4 0h0m9-1h0m1-6h0m3 0h0m0 6h0m7 0h0m8-1h0m3-3h0m1 4h0m3-5h0m2 2h0m-91 10h0m0-2h0m4 3h0m0-5h0m1 0h0m1 5h0m0-2h0m13-4h0m7 4h0m8-1h0m0 2h0m11 1h0m1 0h0m13 0h0m0-2h0m1-2h0m1-2h0m2 3h0m6-3h0m2 3h0m3 1h0m6-2h0m0 3h0m1-1h0m2-4h0m3 4h0m0-3h0m4 5h0m-90 6h0m10 1h0m3 1h0m3-4h0m5 4h0m6-2h0m3-4h0m2 7h0m4-1h0m2-3h0m4 3h0m2 0h0m1-4h0m4 1h0m1-1h0m5 5h0m1-5h0m4 4h0m3-2h0m3-4h0m0 5h0m4 0h0m1-5h0m1 2h0m1 5h0m2-7h0m1 7h0m1-3h0m0-3h0m2 5h0m6-1h0m4 2h0m-88 5h0m1-3h0m3-1h0m2 6h0m0-3h0m8 4h0m2-4h0m8-2h0m1 5h0m9-6h0m3 2h0m1 2h0m1-1h0m2 1h0m2 3h0m1-7h0m1 5h0m0-2h0m15 0h0m1-2h0m1 6h0m2-5h0m1 2h0m2 1h0m0-2h0m4 2h0m1 0h0m6-1h0m2-2h0m1 0h0m3 1h0m1-1h0m-82 13h0m1-1h0m0-2h0m0-2h0m6 1h0m0 1h0m5-3h0m0 4h0m5-5h0m1 6h0m1-6h0m0 2h0m3 0h0m1 5h0m1-1h0m0 1h0m1-1h0m1-3h0m0 2h0m7-4h0m1 4h0m0 2h0m2-7h0m3 2h0m3 3h0m1 1h0m1-5h0m2 5h0m1-4h0m1 4h0m5-3h0m3-1h0m3 2h0m3-2h0m3 3h0m6 2h0m1-2h0m3-3h0m5 3h0m0 1h0m3-4h0m1 3h0m-85 9h0m0 1h0m1-4h0m0 3h0m2-6h0m1 7h0m2-5h0m4 4h0m0-3h0m1 4h0m1-5h0m4 5h0m0-4h0m2-3h0m1 0h0m0 0h0m1 6h0m0-1h0m6-4h0m1 0h0m1-1h0m0 0h0m1 1h0m0 2h0m1-1h0m0 5h0m6-7h0m1 4h0m1-3h0m1 5h0m0-4h0m6 0h0m0 2h0m1-1h0m9 1h0m1 3h0m4-2h0m2 0h0m1 1h0m0-6h0m1 2h0m2 1h0m1 1h0m2-4h0m0 1h0m0 6h0m0-3h0m3 1h0m2 1h0m1-3h0m5 2h0m0-2h0m0-2h0m2 3h0m2 3h0m-87 1h0m1 6h0m0-2h0m4-3h0m1 3h0m1-2h0m6 1h0m0-3h0m1 1h0m6 1h0m1 3h0m2 2h0m4-4h0m1 2h0m0 2h0m0-7h0m0 7h0m1-5h0m0-2h0m2 2h0m0 0h0m1 4h0m0-3h0m0-3h0m1 2h0m0 0h0m9 0h0m1 1h0m1-2h0m1 0h0m3 6h0m1-5h0m0 0h0m1 3h0m2-4h0m1 5h0m0-4h0m0 2h0m2 1h0m10 0h0m0-5h0m5 7h0m2-7h0m4 1h0m3 5h0m1 1h0m1-5h0m0 3h0m3-4h0m4 6h0m1 0h0m1-2h0m-90 9h0m0-5h0m0 0h0m0 3h0m0-3h0m4 4h0m2-3h0m0 4h0m0-4h0m2 3h0m1 2h0m1-4h0m1 4h0m0-7h0m3 3h0m0-1h0m3 5h0m3-7h0m1 5h0m0-1h0m2-2h0m0-1h0m1 1h0m0 5h0m2-2h0m3-2h0m10 1h0m0 0h0m6-1h0m3 4h0m5-3h0m0 0h0m2 0h0m3 1h0m3 1h0m11-1h0m0 2h0m1-3h0m1-2h0m2 3h0m0 1h0m2 0h0m2-5h0m4 0h0m0 0h0m1 6h0m-82 3h0m1-1h0m2-1h0m1 3h0m6 0h0m1 2h0m1-4h0m1 0h0m0 2h0m0 4h0m4-4h0m1 4h0m1-3h0m5-2h0m0 2h0m4-1h0m1 4h0m6-4h0m1-1h0m1 1h0m0 2h0m1-2h0m0-1h0m4 0h0m3 5h0m0-4h0m1-3h0m1 3h0m2-2h0m0 0h0m4 6h0m0-6h0m1 0h0m1 1h0m0 1h0m0 4h0m1-3h0m1 2h0m0-2h0m1-1h0m1-3h0m1 2h0m4 2h0m2 3h0m1-7h0m1 5h0m1-4h0m2 2h0m3-1h0m3 3h0m2 0h0m4 1h0m1-1h0m2-1h0m1-4h0m0 1h0m-89 14h0m1-1h0m1 0h0m2 1h0m4-1h0m1-3h0m0 2h0m5-3h0m0-2h0m3 6h0m0 0h0m1-6h0m1 5h0m1 1h0m3 1h0m1-1h0m2-5h0m1 1h0m1 1h0m3 2h0m2 1h0m1 1h0m1-4h0m1-1h0m1 4h0m1-4h0m1-2h0m3 2h0m1 0h0m1 2h0m6-3h0m1-1h0m2 7h0m0-2h0m2-3h0m1 0h0m3-2h0m2 6h0m0-4h0m2 3h0m0-2h0m2-1h0m0 4h0m2 1h0m6-3h0m2-2h0m4 5h0m1-4h0m2 0h0m2 0h0m3 1h0m1-2h0m1 4h0m0-2h0m0-3h0m1 5h0m-90 3h0m3-1h0m1 4h0m2 2h0m4-2h0m5 1h0m2 0h0m5-3h0m1 2h0m0-4h0m2 0h0m0 5h0m1-3h0m1 1h0m1-1h0m1 0h0m0 5h0m1-3h0m2 1h0m5 1h0m4-2h0m1 1h0m1 0h0m2-1h0m1-4h0m0 5h0m0 1h0m2-4h0m1 1h0m2 2h0m1 2h0m1-5h0m1 0h0m2 2h0m4-4h0m0 6h0m1 1h0m4-7h0m5 2h0m9 0h0m1 2h0m0 3h0m3-1h0m0-3h0m2-3h0m0 1h0m1 3h0m0-3h0m1 1h0m-87 6h0m0 2h0m4 3h0m1 1h0m1 0h0m1-6h0m2 5h0m0 1h0m3-1h0m1-4h0m1-1h0m0 1h0m2 1h0m2 0h0m1-2h0m2 5h0m0 1h0m0-4h0m1 4h0m2-6h0m1 3h0m1 0h0m1 2h0m3 0h0m2 0h0m3-1h0m1-1h0m0-2h0m1-1h0m3 5h0m1-3h0m1 0h0m3 3h0m3 0h0m1-5h0m1 6h0m4 0h0m0-4h0m1 4h0m2-3h0m1 1h0m1-2h0m2 0h0m1 4h0m1-5h0m6 1h0m1 0h0m1 2h0m5 2h0m6 1h0m1-3h0m1-1h0m3 3h0m1-3h0m1-2h0m-88 12h0m0 2h0m1-5h0m3 3h0m0-2h0m1 3h0m9 1h0m2-2h0m1-5h0m1 2h0m1 0h0m0 5h0m1-3h0m3 0h0m0-3h0m1 4h0m2 0h0m3-5h0m0 1h0m0 6h0m1-6h0m1 2h0m2-3h0m2 2h0m1-2h0m0 1h0m2 0h0m0 4h0m2-5h0m1 7h0m1-1h0m0-4h0m2 0h0m1 2h0m3 0h0m0 2h0m1 1h0m1-2h0m3 0h0m0-3h0m4 4h0m1 1h0m4-6h0m1 4h0m1 0h0m0 1h0m0 0h0m1-1h0m0-4h0m2 2h0m0 2h0m5 2h0m4-7h0m8 7h0m-84 7h0m1-3h0m1 1h0m2-1h0m1 2h0m2-1h0m1 1h0m1-1h0m8 0h0m1-3h0m1 4h0m2-3h0m1 5h0m1-3h0m4 1h0m0-3h0m1-1h0m6 2h0m1 0h0m1-2h0m2 1h0m2-1h0m2-1h0m3 1h0m2 3h0m1-2h0m0 4h0m3 1h0m1-4h0m4 2h0m5-2h0m1-1h0m0 0h0m2-1h0m1-1h0m1 0h0m2 2h0m0 3h0m1-5h0m0 0h0m0 2h0m2-2h0m0 6h0m3-6h0m3 0h0m4 0h0m2 2h0m3-2h0m-87 13h0m5-3h0m0 0h0m3 5h0m1 0h0m5-7h0m1 6h0m4 0h0m1-2h0m3 0h0m3-2h0m5 3h0m10 2h0m7-7h0m4 0h0m2 0h0m1 4h0m11 2h0m1-3h0m11 4h0m1-3h0m1 0h0m1-2h0m1-2h0m2 1h0m4 0h0m1 6h0m-80 2h0m8 3h0m3 0h0m7 2h0m2-2h0m5 0h0m10-4h0m16 5h0m10-3h0m-72 8h0" stroke="#0a0a0a" stroke-width="4.90" stroke-linecap="round" fill="none"/>
<path d="M1421 100h0m0 3h0m26 6h0m-20 12h0m35 3h0m-51 27h0m38 0h0m2-6h0m20 3h0m13 3h0m-84 7h0m3 0h0m28-3h0m14-2h0m9 1h0m11 4h0m8 0h0m-70 4h0m5 1h0m11 1h0m16-1h0m1 0h0m4 0h0m6 0h0m5 3h0m9-6h0m7 4h0m2-3h0m2 1h0m7 1h0m3 2h0m3-2h0m-88 6h0m7 5h0m2-1h0m5-3h0m1-1h0m2 0h0m0 6h0m1-4h0m15-1h0m1-2h0m10 7h0m6-5h0m6-1h0m5 2h0m13 2h0m0 1h0m-74 9h0m13-5h0m3-1h0m1 5h0m7-6h0m19 5h0m11 2h0m0 0h0m2-7h0m6 1h0m6 3h0m0 0h0m1-3h0m2 4h0m1 0h0m9-1h0m-65 9h0m2-1h0m4 2h0m2-3h0m14-2h0m9 1h0m3 4h0m12-6h0m-51 14h0m11 1h0m0-4h0m1 1h0m7 0h0m11-3h0m2 0h0m1-1h0m7 1h0m1 1h0m11 5h0m14-1h0m1-5h0m2 4h0m8-4h0m1 0h0m-88 12h0m7 1h0m1-5h0m2 0h0m2 4h0m12-2h0m1-3h0m2 2h0m2 3h0m2 0h0m2-3h0m5-2h0m1 3h0m3 2h0m5-2h0m1 2h0m1-1h0m2 2h0m1-1h0m2 0h0m0-5h0m2 7h0m5-4h0m27-3h0m-85 9h0m12 5h0m1-4h0m13 4h0m2 0h0m1 0h0m15-4h0m4 2h0m0-1h0m3-2h0m0 5h0m6 0h0m5-3h0m2-1h0m5 4h0m1 1h0m1-4h0m1 2h0m3-5h0m4 3h0m-84 8h0m3 2h0m8-4h0m0-1h0m0 6h0m1-5h0m1 2h0m3 1h0m1 0h0m5-3h0m0 6h0m1 0h0m1-5h0m1 2h0m9 0h0m6-2h0m0 2h0m1 3h0m2-1h0m1-2h0m9 0h0m17 2h0m3 0h0m1 1h0m3 0h0m4-7h0m1 2h0m2 3h0m2 1h0m-82 6h0m4 2h0m6-2h0m1-3h0m1 4h0m9 2h0m3 0h0m3-5h0m1 0h0m1 3h0m5-5h0m1 3h0m0 2h0m10-5h0m5 5h0m1 1h0m3-1h0m4-1h0m1-3h0m2 0h0m0 5h0m0-5h0m2 5h0m3-5h0m0 6h0m3 0h0m8-6h0m0 1h0m5-1h0m1 4h0m-89 7h0m3-3h0m26 0h0m0 4h0m0 1h0m3 0h0m11-5h0m0 5h0m5-5h0m3 6h0m0-6h0m1 4h0m1 1h0m3-4h0m4-1h0m1 1h0m1 5h0m2-4h0m7 0h0m5-3h0m1 3h0m9 3h0m0 1h0m3-6h0m0 4h0m-86 3h0m3 3h0m2-1h0m1-1h0m0 2h0m9 4h0m8-6h0m0 4h0m3 0h0m4-1h0m4-2h0m3 5h0m4-4h0m1-1h0m1 3h0m9-2h0m2 4h0m3-6h0m1 3h0m8-4h0m15 1h0m5 3h0m-88 8h0m1 0h0m0-1h0m2 2h0m2-5h0m0 5h0m1 2h0m2-2h0m1 0h0m1-2h0m0-3h0m14 3h0m3 3h0m2-2h0m1-1h0m6-3h0m5 0h0m2 6h0m4-2h0m1 3h0m4-4h0m2 0h0m6 1h0m1-3h0m5 6h0m3-5h0m1-2h0m1 6h0m4 0h0m2-4h0m4-2h0m0 1h0m2 2h0m0 3h0m0 0h0m1-4h0m7 0h0m-91 6h0m0 4h0m1 0h0m6 2h0m2-1h0m3 1h0m1 0h0m0-1h0m1-3h0m1 5h0m3-3h0m1-3h0m2 4h0m2-5h0m4 1h0m1 5h0m0-4h0m7 1h0m3-2h0m0 5h0m3 0h0m1-2h0m0-1h0m1-2h0m2 5h0m2-2h0m4-1h0m5 3h0m2 1h0m3-7h0m11 0h0m7 4h0m4-1h0m3 1h0m0 2h0m-87 8h0m2-6h0m3 2h0m0-2h0m1 7h0m3-2h0m3-2h0m0 4h0m1-6h0m1-1h0m5 2h0m7 2h0m4-2h0m1-2h0m0 3h0m4 1h0m1 0h0m0 0h0m4-4h0m2 3h0m0 4h0m3-4h0m2-3h0m5 5h0m4-3h0m2 0h0m1 3h0m0-2h0m3 0h0m4-2h0m6 3h0m0-3h0m1-1h0m0 1h0m2 5h0m2-3h0m1-2h0m0 2h0m2 3h0m1-5h0m3 5h0m1-2h0m4 2h0m-86 9h0m2-7h0m5 3h0m2-2h0m1 4h0m1-5h0m6 2h0m2 4h0m5 0h0m0-2h0m2 0h0m4-1h0m4 3h0m1-4h0m1 1h0m1 3h0m3-2h0m3-1h0m0 0h0m0 4h0m12-1h0m3-6h0m1 0h0m2 7h0m0-1h0m1-1h0m1-1h0m0 3h0m6-6h0m0-1h0m0 0h0m12 5h0m0-1h0m1-3h0m2 1h0m1 2h0m0-2h0m1-2h0m0 2h0m1 2h0m0-1h0m0-1h0m1-1h0m0 5h0m0-5h0m-89 11h0m0-3h0m0 0h0m3 5h0m1-6h0m3 6h0m3-1h0m4-1h0m0-1h0m2 2h0m2-1h0m2-1h0m1 3h0m0-2h0m1 2h0m2-3h0m0 3h0m3-6h0m2 4h0m0 1h0m1-3h0m1 4h0m1-3h0m1 1h0m0-2h0m0 2h0m4-1h0m1 4h0m0 0h0m1-1h0m0 1h0m1-5h0m1 4h0m2-4h0m1 2h0m3-3h0m1 0h0m1 3h0m0-4h0m4 7h0m1-5h0m0 1h0m0 1h0m3 1h0m1-2h0m3 2h0m1-4h0m1-1h0m1 6h0m2-3h0m0-2h0m1 4h0m1 1h0m1-2h0m1 0h0m2 2h0m0 1h0m2-2h0m0-5h0m1 3h0m0-2h0m1 6h0m3-1h0m2-3h0m0 3h0m3-2h0m0-4h0m2 5h0m1 2h0m1-5h0m1-2h0m1 6h0m-91 9h0m0 0h0m0-4h0m1 2h0m2-4h0m3 3h0m2 1h0m1 2h0m4-7h0m0 7h0m2-6h0m0 0h0m1 3h0m1 3h0m0-7h0m0 7h0m0-3h0m1-1h0m0 3h0m1-4h0m0 2h0m0 2h0m2-4h0m1-1h0m0 5h0m0-5h0m0-1h0m1 2h0m0 3h0m1-2h0m1 4h0m0-1h0m0 1h0m0-1h0m3-1h0m0-3h0m4 5h0m1 0h0m0-2h0m0-2h0m2 1h0m0 0h0m2-1h0m3-2h0m1 3h0m1-3h0m3 2h0m0-2h0m0 1h0m3-2h0m1 7h0m0-6h0m3 3h0m1-2h0m0-1h0m3 6h0m0-2h0m2 1h0m1-3h0m0 1h0m1 2h0m2-2h0m1 2h0m0-4h0m2-1h0m2 3h0m0 0h0m0 1h0m3-3h0m1-2h0m4 5h0m2 1h0m1 0h0m0-2h0m0-1h0m1-2h0m0 4h0m0-1h0m2 2h0m0 0h0m1-6h0m0 7h0m3 0h0m1-6h0m1 0h0m-87 7h0m1 6h0m1-4h0m0-2h0m0 1h0m1 4h0m1-5h0m3 3h0m3-3h0m3 5h0m1 1h0m0-5h0m8 2h0m2-2h0m1 6h0m0-6h0m1-1h0m0 5h0m2 1h0m0-2h0m1-3h0m0 0h0m2 1h0m0 1h0m1-1h0m0 5h0m0-4h0m0-3h0m0 5h0m4-3h0m0 0h0m1-1h0m2 3h0m1-3h0m2 3h0m0-1h0m1-3h0m2 5h0m1-4h0m0 6h0m1-2h0m0-4h0m1 6h0m0-4h0m1 1h0m1-3h0m0-1h0m0 3h0m1 1h0m2 3h0m1-3h0m3-1h0m2-2h0m0 2h0m1-2h0m4 5h0m0-3h0m1-3h0m2 6h0m1 1h0m1-3h0m1-4h0m0 6h0m0-5h0m3 0h0m5 0h0m0-1h0m0 3h0m2 0h0m1 0h0m0-1h0m1 1h0m0-1h0m3-2h0m0 3h0m1 0h0m0-3h0m1 0h0m1 3h0m0-1h0m2 0h0m0-1h0m1 4h0m-89 5h0m1 2h0m0 2h0m0-2h0m0 3h0m1 0h0m3-1h0m0-2h0m1-4h0m1 4h0m0-4h0m0 3h0m1 2h0m1 1h0m0-2h0m2-4h0m1 0h0m2 7h0m1-7h0m1 7h0m1-2h0m0-3h0m0 0h0m1 5h0m0 0h0m3 0h0m1-6h0m2 3h0m0 3h0m4-7h0m0 7h0m2-4h0m1 0h0m3 4h0m0-1h0m2 1h0m1 0h0m1-5h0m0-2h0m2 0h0m1 4h0m0-2h0m1 3h0m3 0h0m2 2h0m1-3h0m0-2h0m1 0h0m0 5h0m1-4h0m0-1h0m0-2h0m0 0h0m0 4h0m2-3h0m1 2h0m1 2h0m1-4h0m2 1h0m1 1h0m4 3h0m3-3h0m2-3h0m0 4h0m1-2h0m1-2h0m0 5h0m1-3h0m1 0h0m0 3h0m4 1h0m1-5h0m1 5h0m1-5h0m2 6h0m0-4h0m1-2h0m0 0h0m2 2h0m1-3h0m0 2h0m2 0h0m2 0h0m0-1h0m0 4h0m1 0h0m-90 9h0m0-4h0m2 4h0m0-4h0m1-2h0m1 4h0m1 2h0m1-6h0m0 2h0m1 2h0m1-4h0m2 7h0m2-5h0m1 1h0m0 1h0m1 0h0m0-3h0m0 6h0m0-2h0m1-4h0m3 0h0m2 3h0m1-2h0m1-2h0m1 3h0m2-2h0m1 4h0m0-3h0m0 4h0m0-2h0m3-3h0m3 3h0m0 1h0m2-1h0m0-2h0m0-2h0m0 3h0m1-1h0m1 0h0m1 5h0m2-4h0m0 3h0m1-4h0m1 0h0m0-1h0m1 0h0m1 0h0m1 2h0m2-2h0m0 6h0m1-4h0m2 3h0m0-2h0m0-3h0m1 6h0m1-2h0m0-1h0m1 1h0m0-3h0m0 4h0m1-4h0m1 4h0m1-2h0m0-4h0m1 5h0m2 1h0m1-5h0m2 1h0m1 2h0m1-3h0m2 0h0m0 2h0m0 4h0m1 0h0m1 0h0m1-4h0m1-3h0m5 7h0m2-3h0m3-2h0m1 5h0m1-5h0m2 0h0m1 4h0m3-4h0m2 0h0m-90 9h0m1 0h0m1 1h0m0 0h0m1 0h0m2 1h0m2-2h0m0 2h0m1-3h0m0-2h0m0 1h0m0 6h0m1-2h0m0-5h0m1 4h0m1 0h0m0 3h0m4-1h0m2-6h0m0 3h0m0 2h0m1-5h0m0 0h0m1 5h0m1-1h0m2-3h0m0 4h0m2-5h0m1 3h0m4 1h0m2-2h0m1 5h0m0-6h0m1-1h0m1 4h0m2-4h0m1 0h0m1 6h0m1-5h0m3 6h0m0-2h0m0-5h0m2 7h0m0-4h0m3 4h0m0-1h0m3-2h0m1-2h0m1-2h0m1 4h0m1 3h0m0-1h0m1-5h0m4 0h0m1 6h0m1-3h0m0-4h0m0 0h0m2 6h0m1 0h0m0-2h0m1-2h0m1 0h0m1 5h0m1-5h0m0 1h0m1 0h0m0 1h0m2-1h0m1 3h0m1-2h0m0-1h0m2-1h0m1 1h0m0 3h0m1 1h0m0-1h0m1-1h0m2-4h0m1 6h0m0-7h0m1 5h0m4 2h0m1-4h0m0 0h0m2 1h0m0-2h0m1 0h0m0 4h0m-91 8h0m1-3h0m1 1h0m1-3h0m2 6h0m1-2h0m1-5h0m1 3h0m0 3h0m1 1h0m0-4h0m1-2h0m0 3h0m0 1h0m1-1h0m1-3h0m0 0h0m1 4h0m0-5h0m0 1h0m0 6h0m1-2h0m0-4h0m0 4h0m1-5h0m0 5h0m0-1h0m2 2h0m0-6h0m2 4h0m2 0h0m0-2h0m2 4h0m0-3h0m0 0h0m1 3h0m2-4h0m0 5h0m2-3h0m2 0h0m0 1h0m1-4h0m2 5h0m0 0h0m2-4h0m1 1h0m0 2h0m1-1h0m0-3h0m1 2h0m0 2h0m1-2h0m0-3h0m1 1h0m0 1h0m1-2h0m1 5h0m2 0h0m1 2h0m1-4h0m0 4h0m0-7h0m0 0h0m1 6h0m1-1h0m0-4h0m2 5h0m2 1h0m2-7h0m2 4h0m1 1h0m1-1h0m1-3h0m0-1h0m1 6h0m0 0h0m1-4h0m3 5h0m0-7h0m1 3h0m0 4h0m2-5h0m0 0h0m1 2h0m2 0h0m1-4h0m0 6h0m0-3h0m2-2h0m1 1h0m0 0h0m1-2h0m0 4h0m2-1h0m2 2h0m1 2h0m3-3h0m2 0h0m3-1h0m1-3h0m-87 15h0m1-5h0m1 3h0m1-5h0m2 6h0m0-5h0m1 5h0m0-3h0m1-3h0m1 4h0m1-2h0m3 2h0m0-2h0m1 3h0m2 0h0m0 2h0m0-6h0m3 3h0m0 1h0m0-3h0m1-1h0m0 2h0m1 1h0m0 1h0m0-5h0m1 4h0m0 2h0m0-4h0m1 0h0m1-1h0m0-1h0m0 3h0m0 0h0m1 2h0m1-3h0m1 0h0m1 4h0m1-3h0m1 2h0m1-4h0m0 6h0m1-2h0m1 0h0m1 0h0m1-4h0m2 3h0m1-1h0m0 4h0m0-3h0m2-3h0m2 5h0m0 1h0m1-5h0m1 3h0m1-4h0m0 4h0m1-1h0m1 1h0m1-1h0m0-4h0m0 2h0m0-1h0m1-1h0m1 5h0m0-4h0m0 4h0m1-1h0m0 2h0m1 0h0m1-3h0m1-2h0m0 6h0m0-3h0m2-3h0m2 5h0m0-6h0m1 2h0m0 5h0m0-7h0m3 0h0m0 4h0m0-3h0m0 1h0m0 5h0m3 0h0m0-1h0m2-2h0m0 2h0m0 0h0m0-4h0m1 4h0m0-6h0m0 4h0m1 2h0m0-2h0m0 1h0m1-1h0m0 2h0m0-2h0m0 0h0m3 0h0m2-2h0m1-1h0m1 1h0m1-2h0m0 7h0m0 0h0m1-6h0m1 3h0m0-2h0m0 2h0m0-3h0m1 1h0m0 0h0m0 1h0m1 1h0m0 3h0m1-2h0m0 0h0m1 1h0m0 0h0m3-5h0m0 6h0m1-1h0m1-6h0m0 1h0m1 1h0m0 1h0m1 1h0m-91 11h0m0-1h0m1-1h0m1 0h0m1-4h0m1 3h0m1 1h0m3-2h0m2-1h0m2 1h0m0 4h0m2-5h0m0 5h0m0-6h0m2 3h0m1-3h0m1 2h0m0 3h0m0-2h0m0 0h0m2-2h0m1-2h0m3 7h0m2-7h0m0 2h0m3-1h0m0-1h0m0 5h0m0 0h0m1-5h0m2 4h0m1 2h0m0-4h0m0 2h0m1-3h0m2-1h0m0 1h0m0 5h0m3-1h0m4 1h0m0-6h0m1 0h0m3 1h0m0 3h0m2-3h0m1 5h0m0-5h0m0 0h0m0-1h0m1 2h0m1 2h0m0 0h0m1-1h0m0-2h0m2-1h0m0 0h0m0 4h0m3-2h0m0 5h0m1-6h0m0 4h0m2 2h0m1-1h0m0-2h0m2-2h0m1 3h0m1-3h0m1-2h0m0 6h0m0-6h0m2 7h0m0-2h0m0-4h0m2 5h0m1-2h0m0 3h0m2-6h0m3 3h0m1 1h0m1 2h0m1-3h0m3 1h0m2-2h0m0-2h0m0 5h0m1-2h0m0 0h0m0 1h0m1-3h0m1 1h0m0 3h0m1-4h0m1 4h0m-91 5h0m0-3h0m0 7h0m1-6h0m0 2h0m0 0h0m3 3h0m0 0h0m2-4h0m1-2h0m1 0h0m0 6h0m0-4h0m3 2h0m1-1h0m1 4h0m1-2h0m1 1h0m4 1h0m1 0h0m0-3h0m1-2h0m0 0h0m2-1h0m0-1h0m2 6h0m5 1h0m0-4h0m1 1h0m1 1h0m0-2h0m2-2h0m0 0h0m1-1h0m2 1h0m0-1h0m2 1h0m5 2h0m1 1h0m2-1h0m5-3h0m2 1h0m0 3h0m3-3h0m1 0h0m0 6h0m2-5h0m1 4h0m1-5h0m2-1h0m0 5h0m0-3h0m1 0h0m0 4h0m0-6h0m1 5h0m1 2h0m1-1h0m1-1h0m1 2h0m0 0h0m0 0h0m1-7h0m0 1h0m1 1h0m0-2h0m1 4h0m2 2h0m1-6h0m0 4h0m1 3h0m0-4h0m0 1h0m1-2h0m0-1h0m0-1h0m1 0h0m1 7h0m1-6h0m0 3h0m0 0h0m1-1h0m0 2h0m1-2h0m1 1h0m3-2h0m1-1h0m0 4h0m1-5h0m0 6h0m2-1h0m0-2h0m1 3h0m-92 8h0m1 1h0m0-5h0m3 2h0m0 3h0m0-2h0m0 0h0m0-1h0m1-3h0m1 6h0m1 0h0m1-6h0m0 1h0m2-1h0m0 1h0m1-1h0m2 6h0m0-2h0m2-3h0m0 0h0m0-2h0m1 2h0m1 4h0m1 1h0m0-3h0m0 2h0m1-6h0m0 3h0m2 0h0m2 2h0m1 0h0m1-5h0m0 3h0m0-3h0m0 3h0m1-3h0m0 2h0m1 4h0m1-3h0m0 4h0m0 0h0m4-3h0m0-1h0m8 4h0m0-4h0m0-2h0m0-1h0m1 7h0m1-7h0m2 4h0m1-4h0m0 0h0m1 5h0m1-2h0m0 2h0m0-4h0m0-1h0m0 1h0m0 5h0m1-4h0m0-2h0m0 7h0m0-3h0m2 0h0m0-2h0m2 3h0m1-3h0m1-2h0m3 6h0m0-4h0m0 4h0m1-3h0m1-3h0m0 7h0m2-4h0m0-3h0m0 0h0m1 0h0m1 0h0m0 1h0m1 6h0m4-6h0m0 1h0m0 3h0m1 0h0m1-3h0m6-1h0m1 2h0m0 0h0m3 3h0m1-6h0m0 6h0m6-5h0m0 4h0m1-4h0m1 2h0m0 3h0m1-1h0m1-3h0m1-1h0m0 1h0m-92 13h0m0-5h0m0-1h0m2 2h0m1 4h0m1-1h0m1 0h0m1-4h0m0 1h0m1 3h0m0 0h0m5-6h0m0 1h0m2 0h0m2 1h0m1 5h0m1-6h0m3 6h0m0-2h0m3-5h0m1 1h0m0 2h0m0-3h0m1 4h0m0 3h0m1-5h0m3 0h0m1 1h0m0-2h0m0 6h0m2-5h0m0-1h0m1 2h0m3-2h0m1 2h0m0-2h0m1 5h0m2-4h0m2 3h0m1 2h0m1-6h0m0 0h0m0 1h0m1 2h0m0 3h0m2 0h0m1-4h0m0-2h0m1 4h0m1-4h0m1 5h0m0-4h0m1 1h0m1 3h0m0 1h0m0 0h0m1-4h0m0 4h0m1-5h0m1 3h0m0-3h0m0-1h0m0 3h0m2-2h0m2 2h0m1 3h0m0 0h0m0-4h0m2 2h0m0-3h0m2 2h0m0 3h0m3 0h0m1-3h0m1-4h0m0 5h0m1-3h0m0 4h0m1-3h0m0 0h0m2 0h0m2 4h0m0-5h0m3-1h0m1-1h0m0 1h0m1 1h0m1-1h0m2 4h0m2-3h0m1 2h0m4-1h0m-91 12h0m0-4h0m1 3h0m0 0h0m0-2h0m1-2h0m1-2h0m1 5h0m0-5h0m1 0h0m0 2h0m1 3h0m0 0h0m1-5h0m1 4h0m0-4h0m1 1h0m1 2h0m0 0h0m4 4h0m0-6h0m0 2h0m2 2h0m2 2h0m1-1h0m1-2h0m1-1h0m0 0h0m1-1h0m1 2h0m0-2h0m1-1h0m0 5h0m2-4h0m0 2h0m2 2h0m1 0h0m0-3h0m0 3h0m0-2h0m1 0h0m0 1h0m1-2h0m0 0h0m0 2h0m1-4h0m1-1h0m1 6h0m1-6h0m1 5h0m0-1h0m3 2h0m0 1h0m3-5h0m2 1h0m0 0h0m1-1h0m0 4h0m0-2h0m1 0h0m0-4h0m2 5h0m4-1h0m1 2h0m1 1h0m0-1h0m0-1h0m1-1h0m2 0h0m1-2h0m0 2h0m2-4h0m3 1h0m3 4h0m2-5h0m1 4h0m2 1h0m0 2h0m1-3h0m2 0h0m0 2h0m0-3h0m3-3h0m2 0h0m2 6h0m0-3h0m0-1h0m1 4h0m0-1h0m1-5h0m0 6h0m0-2h0m1-2h0m0 4h0m0-1h0m0 2h0m0-1h0m2-6h0m1 6h0m1-2h0m0-1h0m-89 6h0m1 4h0m1-1h0m1 3h0m2-3h0m1-2h0m0 1h0m1-1h0m4 2h0m0 0h0m0 2h0m1-3h0m1 3h0m2-2h0m1 3h0m0-3h0m0-2h0m1-2h0m2 3h0m0-3h0m0 0h0m1 4h0m2 0h0m0 3h0m2-3h0m0-4h0m1 6h0m1-5h0m0 6h0m1-2h0m1-3h0m1 4h0m2-5h0m0 3h0m1-1h0m1 1h0m0-3h0m2 3h0m0-2h0m2-1h0m1 2h0m0 0h0m0-3h0m1 2h0m2 2h0m0 2h0m2-6h0m0 6h0m2-6h0m1 1h0m0 0h0m1 3h0m2-2h0m1 3h0m2-4h0m1 1h0m2 4h0m0-6h0m2 3h0m1 0h0m1 1h0m0-3h0m2 6h0m1-4h0m1 1h0m0 2h0m0-2h0m1-1h0m0-1h0m1 3h0m0 1h0m1-6h0m0 3h0m2-2h0m0 2h0m2 3h0m0-1h0m3-1h0m3 2h0m1-5h0m1 1h0m0 1h0m1 0h0m1-3h0m1 6h0m0-2h0m2-3h0m0 3h0m0 3h0m2 0h0m1-4h0m1 3h0m1-3h0m0 1h0m1 0h0m0-2h0m1 4h0m0-2h0m0-2h0m1 0h0m-90 8h0m1-1h0m1 2h0m1-3h0m2 3h0m1 3h0m0-3h0m0-2h0m4 0h0m0 6h0m1 0h0m1-7h0m3 1h0m2 5h0m0 0h0m1-4h0m0-1h0m0 1h0m2-1h0m0 5h0m0-6h0m1 2h0m1 0h0m0 1h0m0-2h0m1 4h0m1 2h0m2-1h0m0 1h0m2-4h0m0 2h0m2-5h0m2 3h0m1 4h0m0-7h0m2 5h0m0 2h0m0-5h0m0 4h0m2-4h0m1 5h0m1-7h0m1 6h0m1 0h0m1-1h0m0 1h0m2-2h0m1-3h0m1 2h0m0 4h0m1-3h0m0-2h0m1 3h0m1-1h0m0 0h0m1-1h0m1-1h0m1-1h0m1 0h0m1 5h0m0 0h0m1-2h0m1-1h0m1-2h0m1 4h0m1-5h0m1 1h0m1-1h0m2 0h0m4 6h0m0-4h0m0 3h0m0-4h0m1 1h0m0-2h0m1 3h0m2-1h0m0 1h0m0-1h0m2 5h0m0-7h0m0 2h0m0 5h0m1 0h0m0-6h0m1 0h0m1 4h0m0-2h0m1-3h0m1 3h0m1-2h0m0-1h0m0 6h0m2-3h0m0 1h0m0-3h0m0 0h0m1 2h0m0 4h0m2-2h0m1-5h0m0 6h0m0-5h0m0 1h0m3 4h0m1-5h0m0-1h0m0 4h0m1 0h0m-90 10h0m1-2h0m2-3h0m0 4h0m0-5h0m2 3h0m0 3h0m0-5h0m0 3h0m1 1h0m1-5h0m0 5h0m1 1h0m1-3h0m0 3h0m1-3h0m0-3h0m2 4h0m0-2h0m1 2h0m2 1h0m0 0h0m1 2h0m0 0h0m2-7h0m0 7h0m2-6h0m3 5h0m0-2h0m0-4h0m1 6h0m1-1h0m1 0h0m0-2h0m2-2h0m1 6h0m0-3h0m0 1h0m1 0h0m4 1h0m1-1h0m1-3h0m2 1h0m0-1h0m1 3h0m0-1h0m1 3h0m0-7h0m0 7h0m0-3h0m0 1h0m0-2h0m1-2h0m1 4h0m3 2h0m0-4h0m0 4h0m1-7h0m0 7h0m1-6h0m0 4h0m1 1h0m2-1h0m0-1h0m1-4h0m1 4h0m1-1h0m1 3h0m1-6h0m0 4h0m1-1h0m1 0h0m0 2h0m1-1h0m1-4h0m2 6h0m1 0h0m0 1h0m0-2h0m2 2h0m0-4h0m0 4h0m2-5h0m0 5h0m2-2h0m1 2h0m1-1h0m1 0h0m1-2h0m2 0h0m0 2h0m1-5h0m0 3h0m1 3h0m1-7h0m1 3h0m0-3h0m0 0h0m1 4h0m2 3h0m0-2h0m1-1h0m0-3h0m1 3h0m0-4h0m1 2h0m0 0h0m1 0h0m0 5h0m1-3h0m1-1h0m1-3h0m1 0h0m1 0h0m-90 12h0m3-1h0m0 3h0m0-1h0m0 0h0m2 1h0m0 0h0m1-5h0m1 6h0m2 0h0m1-3h0m0-1h0m2-3h0m2 0h0m0 6h0m1-1h0m0-2h0m0 1h0m1 2h0m1-1h0m1 0h0m0-4h0m0 2h0m1 3h0m0 0h0m0-6h0m1 3h0m0-3h0m3 0h0m0 3h0m1 0h0m1-3h0m0 3h0m1 3h0m0 1h0m1 0h0m0-3h0m2-2h0m0 2h0m1-3h0m0 3h0m1 3h0m2-2h0m0-3h0m0 3h0m1-4h0m3 1h0m1 2h0m0 0h0m0 3h0m1 0h0m0-6h0m1 5h0m0-3h0m1-2h0m0 0h0m0 3h0m2-2h0m0 3h0m1 0h0m0-5h0m3 3h0m1-1h0m0 4h0m0-5h0m2-1h0m5 2h0m0-1h0m1 0h0m0 3h0m1-4h0m0 4h0m2-3h0m1 1h0m1 2h0m0 2h0m1-1h0m1 0h0m1-2h0m1-3h0m0 2h0m0 4h0m2-5h0m0 4h0m1-3h0m0 1h0m1 0h0m1 4h0m1-2h0m0-5h0m0 2h0m0-1h0m1 3h0m0 2h0m0 1h0m1-4h0m2 3h0m2 1h0m0-2h0m0-5h0m0 4h0m0 3h0m0-5h0m3 5h0m0-7h0m0 2h0m1-2h0m0 5h0m0 2h0m1 0h0m1-7h0m1 4h0m0 2h0m2-4h0m1-2h0m0 2h0m1 5h0m-89 2h0m1 5h0m0-2h0m1 1h0m0-2h0m0 4h0m1-5h0m1 2h0m0 2h0m0 1h0m4 0h0m0-7h0m1 6h0m0 1h0m1-3h0m4-1h0m1 4h0m0-3h0m0 1h0m0-4h0m1 1h0m1 4h0m0-5h0m0 6h0m2-7h0m1 7h0m2-3h0m2-3h0m0 3h0m1-3h0m0 0h0m2 0h0m1-1h0m2 2h0m0-1h0m1 5h0m1 1h0m3-5h0m0 0h0m2 5h0m0 0h0m1-1h0m1-5h0m1 1h0m0 3h0m1-1h0m1 1h0m2 2h0m1-5h0m1 5h0m1-5h0m0 0h0m0-2h0m0 5h0m1-5h0m0 0h0m0 1h0m1 6h0m0-2h0m1-5h0m1 4h0m1 3h0m1-2h0m0 1h0m1-2h0m1 0h0m0-2h0m2 0h0m3 1h0m0-2h0m0 3h0m2-3h0m1 0h0m1 6h0m0-7h0m1 3h0m1 0h0m0 1h0m1 2h0m0-2h0m0 1h0m1-2h0m0-1h0m1 5h0m0-7h0m0 3h0m1 0h0m0-3h0m3 5h0m0-2h0m0 1h0m0 1h0m1 1h0m1-3h0m3-1h0m1 4h0m0-2h0m3 3h0m1-7h0m0 3h0m0 2h0m1-4h0m1 6h0m0-1h0m0 0h0m1-6h0m1 5h0m0-2h0m1 2h0m1-1h0m0-4h0m0 2h0m0 4h0m0-5h0m1 3h0m0 1h0m1-3h0m-90 6h0m0 7h0m0-2h0m0-3h0m1 5h0m1-3h0m1 3h0m1-1h0m1-4h0m1 4h0m0-2h0m0-4h0m2 7h0m1 0h0m1-1h0m0-3h0m4-2h0m0 6h0m1-2h0m0-3h0m0 3h0m4-1h0m0-2h0m0 3h0m0-4h0m1 4h0m0 0h0m0-5h0m1 4h0m0-3h0m0 3h0m1-4h0m1 0h0m1 1h0m0 4h0m0-3h0m1 3h0m0-1h0m1 3h0m3-2h0m1-3h0m1 5h0m0-2h0m0-4h0m1 2h0m0 2h0m0-1h0m1 3h0m0 0h0m0-5h0m1 4h0m4-2h0m0-4h0m1 6h0m1-1h0m1 0h0m1-5h0m0 1h0m1 4h0m0-4h0m0 5h0m0-4h0m0 2h0m0 3h0m1-3h0m0-2h0m1-1h0m3 0h0m0 6h0m2-4h0m0 2h0m1-5h0m0 1h0m1 1h0m1 2h0m0 1h0m1 1h0m1-2h0m3 3h0m3-5h0m2-1h0m0 2h0m1 4h0m0 0h0m1-6h0m1 4h0m2-1h0m0-1h0m2-3h0m1 4h0m0-4h0m1 6h0m0 0h0m1-2h0m1-1h0m0 3h0m0 1h0m0-4h0m0-2h0m0 2h0m0-1h0m1 2h0m1 3h0m1-3h0m1-1h0m1 1h0m0 1h0m2-5h0m0 5h0m5 1h0m1-1h0m1-3h0m0-1h0m0 1h0m1 0h0m0 3h0m0-3h0m1 4h0m1-1h0m-91 8h0m0-2h0m1-1h0m0 1h0m1 4h0m0-6h0m0 1h0m1 4h0m2-6h0m0 6h0m1-2h0m1 0h0m2-3h0m0 5h0m0-5h0m1-1h0m1 5h0m1-4h0m0 0h0m0-1h0m1 7h0m0-1h0m1-4h0m0 3h0m2-4h0m3 4h0m0 1h0m0-6h0m1 4h0m0-2h0m0-2h0m0 4h0m3-2h0m1 4h0m1-1h0m2-3h0m1 5h0m0-6h0m1-1h0m0 3h0m0 0h0m1 1h0m0-3h0m0 5h0m1 0h0m1 0h0m1-6h0m0 1h0m1 4h0m0-2h0m1 0h0m1 4h0m0 0h0m3-2h0m5-1h0m0-3h0m1 4h0m2 0h0m0-4h0m0 0h0m2 0h0m0 0h0m1 1h0m1 0h0m1 2h0m2 0h0m3 2h0m1-6h0m1 0h0m0 3h0m1-3h0m0 6h0m2 0h0m2 0h0m2-1h0m1-2h0m1-3h0m3 7h0m0-1h0m0 0h0m1 0h0m0-2h0m0 3h0m0-4h0m0 2h0m1 1h0m0-3h0m1 1h0m1 1h0m1 0h0m0-4h0m1 4h0m1-1h0m0 0h0m1-1h0m0 3h0m1-2h0m0-2h0m2-1h0m1 3h0m1-4h0m1 2h0m2 1h0m0-3h0m1 2h0m2 1h0m0-2h0m-91 8h0m0 2h0m0 3h0m3-6h0m1 1h0m2-1h0m1 2h0m1-1h0m2-1h0m1 3h0m0 4h0m0-5h0m1 1h0m0 2h0m1-4h0m0 1h0m2-1h0m1 3h0m0 1h0m0 0h0m1-3h0m0-1h0m1 3h0m0-1h0m1 4h0m0-1h0m2-5h0m1 5h0m0-2h0m2-4h0m1 3h0m0-1h0m0 0h0m1 4h0m2-3h0m1 1h0m2 3h0m1-7h0m0 2h0m1 5h0m1-4h0m1 1h0m0 1h0m2 0h0m1-2h0m0 0h0m2 0h0m1-1h0m1 2h0m2 3h0m0-6h0m1 1h0m0 5h0m0-6h0m1 4h0m1-1h0m0 1h0m1-1h0m1-3h0m0-1h0m3 3h0m2-3h0m0 5h0m0-1h0m0 0h0m1 3h0m0-2h0m0-2h0m0 4h0m1-7h0m1 7h0m1 0h0m0 0h0m6-5h0m2-2h0m0 1h0m2 6h0m0-2h0m1-5h0m2 4h0m0 0h0m1-2h0m0 0h0m2 3h0m0-5h0m1 2h0m1-2h0m0 4h0m1 1h0m0 0h0m0-5h0m1 4h0m1 2h0m0-5h0m0-1h0m1 0h0m0 6h0m0 0h0m0 1h0m0-1h0m1-1h0m2-5h0m2 2h0m1 3h0m0 1h0m2-1h0m1-1h0m1-4h0m-90 13h0m0 0h0m1 2h0m0-2h0m0 1h0m1-3h0m0 4h0m1 0h0m1-6h0m1 4h0m0-2h0m0 1h0m1 3h0m1 0h0m0-5h0m2-1h0m0 3h0m0 0h0m0-3h0m0 4h0m1-3h0m0-1h0m0 1h0m1 5h0m0-5h0m1 0h0m0 4h0m0-4h0m2 1h0m1-3h0m1 6h0m1 1h0m3-1h0m1 1h0m0-3h0m1 1h0m1-2h0m1 2h0m0-3h0m0 3h0m2-4h0m1 1h0m0 1h0m0 0h0m0 2h0m1-4h0m1 4h0m2-1h0m1 0h0m2-3h0m1 3h0m0-2h0m1 2h0m2-2h0m0 1h0m0 1h0m0-3h0m0 4h0m1 0h0m0-3h0m1 2h0m0 3h0m1 0h0m0-1h0m1-2h0m2 3h0m2-2h0m0-3h0m1 1h0m1 1h0m0-4h0m1 3h0m0-3h0m4 1h0m1-1h0m0 4h0m1 1h0m0-1h0m2-4h0m0 7h0m0-7h0m1 0h0m3 2h0m1 2h0m1-4h0m2 1h0m0 1h0m1 1h0m1 1h0m2-4h0m2 3h0m1-2h0m1 6h0m0-2h0m1-1h0m1 0h0m1-4h0m4 4h0m0 1h0m1-1h0m2 2h0m0-2h0m3-3h0m1 5h0m1-1h0m0-3h0m0 4h0m1-1h0m1 2h0m1-5h0m-87 12h0m1-6h0m0 6h0m1-2h0m0-2h0m1 5h0m1-5h0m0-1h0m1 4h0m1-3h0m1 1h0m1-3h0m0 1h0m0 1h0m1 1h0m0 1h0m0 2h0m1 1h0m0 0h0m0-3h0m1-1h0m1-2h0m2 6h0m0-5h0m1-1h0m1 3h0m0-3h0m0 0h0m0 0h0m1 0h0m0 4h0m1 1h0m2-2h0m1 2h0m0-5h0m1 5h0m1-2h0m0-3h0m2 6h0m0-5h0m1-1h0m1 3h0m2 2h0m0 0h0m2-2h0m0-3h0m1 4h0m0-1h0m0 0h0m6 0h0m0-3h0m2 4h0m2 1h0m1-6h0m1 2h0m1 2h0m1-3h0m1 1h0m3 3h0m4 0h0m3-3h0m0 5h0m0-2h0m1 1h0m1-6h0m3 4h0m0-3h0m3 2h0m0-2h0m3 1h0m1 5h0m1 0h0m1-6h0m0 3h0m2 2h0m1 0h0m0 0h0m3 0h0m1-4h0m0-1h0m2-1h0m0 0h0m1 0h0m0 7h0m2-6h0m1-1h0m1 1h0m1 5h0m0-6h0m0 6h0m1 0h0m-91 2h0m0 7h0m4-4h0m1-1h0m1 0h0m1 1h0m0 3h0m1-1h0m0-2h0m1 0h0m1-3h0m1 7h0m1-4h0m2 4h0m2-5h0m3 2h0m0 1h0m1-2h0m0 1h0m2-3h0m1 6h0m0-7h0m4 3h0m1-3h0m1 1h0m1 3h0m3-4h0m1 3h0m3-1h0m0 3h0m2 1h0m1-5h0m2 4h0m3-5h0m2 7h0m2-1h0m2-5h0m1 1h0m1 0h0m1 2h0m1-3h0m1 3h0m1-3h0m0 2h0m2 0h0m1 0h0m1 2h0m1-4h0m2 1h0m2 5h0m0-7h0m1 3h0m0 2h0m2-4h0m1 2h0m0 1h0m0-3h0m1 5h0m2-1h0m1 2h0m0-2h0m2-3h0m1-1h0m6 4h0m0-5h0m2 0h0m0 3h0m0 0h0m0 1h0m2 0h0m1-3h0m1 1h0m0 5h0m1-1h0m1-6h0m1 5h0m-90 6h0m1-2h0m1-1h0m0 4h0m1-4h0m2 2h0m0 4h0m0 0h0m1 1h0m0-5h0m1 4h0m6-3h0m1 0h0m0 3h0m1-4h0m1 1h0m2-1h0m2 2h0m2-2h0m3 1h0m0-1h0m1-2h0m0 7h0m1-7h0m1 2h0m2 5h0m4-5h0m0-1h0m0-1h0m4 0h0m4 5h0m0-3h0m11 2h0m1-3h0m1 6h0m5-5h0m0 0h0m4-1h0m0 2h0m3 1h0m1-2h0m1-2h0m1 0h0m6 4h0m0 0h0m1-4h0m2 5h0m4-4h0m0 1h0m0 4h0m0-4h0m0 1h0m0 2h0m0-4h0m4 2h0m2-2h0m-91 7h0m5 4h0m4-1h0m1 1h0m2-2h0m1 3h0m3-3h0m2 0h0m3 4h0m4-5h0m3 4h0m0-4h0m2-1h0m1 0h0m2 5h0m4 1h0m0-4h0m0 3h0m2-3h0m4 4h0m1-2h0m2-1h0m0 1h0m1 0h0m2-4h0m6 3h0m3-2h0m0 5h0m2-1h0m0-4h0m5 0h0m2 5h0m2-5h0m2 1h0m1 3h0m1-1h0m1-4h0m3 3h0m1 0h0m6 4h0m1-7h0m2 4h0m-71 6h0m12 1h0m3-2h0m7-1h0m6 6h0m13-5h0m7 1h0m1-1h0m1 3h0m3 2h0m14-5h0m-62 14h0m3-3h0m1-4h0m4 4h0m2 2h0m10-5h0m10 2h0m2-3h0m6 1h0m17 2h0m1-1h0m4 5h0m6-6h0m-77 7h0m57 0h0" stroke="#0a0a0a" stroke-width="4.90" stroke-linecap="round" fill="none"/>
<line x1="1273.5" y1="521.5" x2="1375.0" y2="521.5" stroke="#0c0c0c" stroke-width="4.60" stroke-linecap="round"/>
<line x1="1388.0" y1="521.5" x2="1489.5" y2="521.5" stroke="#0c0c0c" stroke-width="4.60" stroke-linecap="round"/>
<line x1="1255.8" y1="74.3" x2="1255.8" y2="543.5" stroke="#111" stroke-width="4.00"/>
<line x1="1254.0" y1="542.3" x2="1509.3" y2="542.3" stroke="#111" stroke-width="4.00"/>
<line x1="1250.5" y1="159.4" x2="1255.0" y2="159.4" stroke="#111" stroke-width="3.00"/>
<text x="1246.3" y="166.2" font-size="22.0" text-anchor="end" fill="#1a1a1a">3</text>
<line x1="1250.5" y1="279.9" x2="1255.0" y2="279.9" stroke="#111" stroke-width="3.00"/>
<text x="1246.3" y="286.7" font-size="22.0" text-anchor="end" fill="#1a1a1a">2</text>
<line x1="1250.5" y1="400.4" x2="1255.0" y2="400.4" stroke="#111" stroke-width="3.00"/>
<text x="1246.3" y="407.2" font-size="22.0" text-anchor="end" fill="#1a1a1a">1</text>
<line x1="1250.5" y1="520.9" x2="1255.0" y2="520.9" stroke="#111" stroke-width="3.00"/>
<text x="1246.3" y="527.7" font-size="22.0" text-anchor="end" fill="#1a1a1a">0</text>
<line x1="1324.0" y1="541.0" x2="1324.0" y2="548.0" stroke="#111" stroke-width="3.00"/>
<line x1="1439.0" y1="541.0" x2="1439.0" y2="548.0" stroke="#111" stroke-width="3.00"/>
<text x="1277.5" y="582.3" font-size="30.8" text-anchor="start" font-style="italic" fill="#111" textLength="94.0" lengthAdjust="spacingAndGlyphs">Kdm6a</text>
<text x="1296.0" y="618.3" font-size="30.8" text-anchor="start" fill="#111" textLength="56.5" lengthAdjust="spacingAndGlyphs">-WT</text>
<text x="1396.3" y="582.3" font-size="30.8" text-anchor="start" font-style="italic" fill="#111" textLength="94.0" lengthAdjust="spacingAndGlyphs">Kdm6a</text>
<text x="1393.2" y="618.3" font-size="30.8" text-anchor="start" fill="#111" textLength="101.8" lengthAdjust="spacingAndGlyphs">-Mutant</text>
<text x="0" y="0" font-size="31.0" text-anchor="middle" fill="#111" textLength="238.0" lengthAdjust="spacingAndGlyphs" transform="translate(1218.0 295.0) rotate(-90)">Expression Level</text>
<text x="1351.0" y="717.0" font-size="29.0" text-anchor="start" font-weight="bold" fill="#111" textLength="64.7" lengthAdjust="spacingAndGlyphs">Mycl</text>
<text x="1359.0" y="754.4" font-size="22.3" text-anchor="start" fill="#1a1a1a" textLength="37.8" lengthAdjust="spacingAndGlyphs">p=0</text>
<line x1="1321.8" y1="764.2" x2="1435.7" y2="764.2" stroke="#151515" stroke-width="4.00"/>
<path d="M1265 1208.6 C1264 1204 1268 1202 1280 1198 L1318.4 1184.5 L1360 1200 C1372 1203 1374 1206 1373 1208.6 Z" fill="#ec5068" stroke="#363838" stroke-width="3.6" stroke-linejoin="round"/>
<line x1="1318.4" y1="784.5" x2="1318.4" y2="1208.6" stroke="#2e3232" stroke-width="4.20" stroke-linecap="round"/>
<line x1="1318.4" y1="966.4" x2="1318.4" y2="1117.8" stroke="#e8607a" stroke-width="1.60"/>
<line x1="1439.0" y1="945.5" x2="1439.0" y2="1206.0" stroke="#2e3232" stroke-width="4.20" stroke-linecap="round"/>
<path d="M1348 869h0m-39 6h0m12 10h0m-19 10h0m2-6h0m29 1h0m7 1h0m18 4h0m1-3h0m-42 11h0m-30 8h0m51-7h0m2 0h0m24 3h0m-89 7h0m4 2h0m1 2h0m5-5h0m14 6h0m1-3h0m1-2h0m17 3h0m1 0h0m12-3h0m0 2h0m5-4h0m22 7h0m2-1h0m2-1h0m-87 4h0m0-1h0m6 1h0m16 0h0m9 6h0m3 0h0m5-1h0m4-4h0m14 3h0m9 0h0m15 1h0m-76 6h0m1-2h0m6 2h0m0 3h0m5-4h0m4 0h0m8-2h0m9 6h0m1-7h0m1 0h0m2 6h0m6 0h0m3 0h0m3-1h0m5-5h0m0 2h0m2 0h0m0 5h0m4 0h0m13 0h0m11-6h0m-93 14h0m8 0h0m9-1h0m0 1h0m1-7h0m8 2h0m3 4h0m3-5h0m0 0h0m3 2h0m1-3h0m16 1h0m2 4h0m2 1h0m1 0h0m7-6h0m1 1h0m7 4h0m2-1h0m11-2h0m1 4h0m3 0h0m2 1h0m1-1h0m2-4h0m0 5h0m-84 8h0m9-4h0m1-1h0m1-1h0m1 4h0m2 1h0m2 1h0m9-6h0m3 6h0m6-2h0m12-1h0m6 1h0m2 0h0m1-1h0m2 2h0m1-5h0m2 2h0m10-2h0m0 5h0m1-1h0m3-1h0m1 2h0m0-3h0m1 0h0m4 0h0m-90 11h0m2-3h0m0 1h0m9 1h0m10-1h0m1 2h0m0-1h0m0 1h0m2-3h0m1 1h0m3-3h0m10 4h0m0-3h0m8-1h0m3 0h0m0 1h0m1 0h0m12 5h0m2-7h0m2 3h0m2 4h0m4 0h0m3-7h0m6 7h0m0-2h0m2-5h0m5 2h0m1 0h0m2 1h0m-91 8h0m0-3h0m1 2h0m1 3h0m0-2h0m1 1h0m1-2h0m1 4h0m0-3h0m1-2h0m8 1h0m5 5h0m4-4h0m4 1h0m4-2h0m3 1h0m7 4h0m2-1h0m1-4h0m0-1h0m1 6h0m1-2h0m1-5h0m3 3h0m2 0h0m2-2h0m0 0h0m3 4h0m3 0h0m3-3h0m2 0h0m0 4h0m7-2h0m0 0h0m1-1h0m2-1h0m2 3h0m7-4h0m1 4h0m6 1h0m2-5h0m2 6h0m-94 3h0m0-1h0m2 0h0m6 1h0m3-2h0m1 7h0m5-7h0m1 4h0m0-2h0m0 2h0m1-4h0m1 7h0m1-3h0m3-3h0m2 1h0m1 4h0m2-5h0m0 1h0m7-1h0m1 3h0m2 0h0m1 1h0m2 2h0m0 0h0m3-4h0m4 1h0m3-2h0m0 4h0m9-3h0m4 1h0m2 3h0m3-5h0m8 1h0m9-2h0m0 6h0m1 0h0m2-2h0m2-2h0m-91 11h0m0-4h0m4-1h0m7 2h0m3-2h0m1 1h0m3 2h0m2 2h0m0-2h0m3-2h0m2 1h0m5-3h0m2 4h0m0 3h0m1-6h0m1 3h0m2-2h0m2 5h0m3-3h0m0-2h0m1-2h0m3 2h0m1 1h0m2 3h0m0-6h0m1 4h0m1-2h0m3 2h0m4-2h0m4 1h0m2-3h0m1 1h0m2 6h0m2-1h0m2-6h0m4 5h0m0-1h0m2 3h0m1-5h0m1-1h0m1-1h0m2 3h0m2 3h0m0-2h0m1 2h0m2 0h0m2-3h0m-87 12h0m1-4h0m1-2h0m2 6h0m4-3h0m3 1h0m4-5h0m2 4h0m0-2h0m0 5h0m4-3h0m1 3h0m2-5h0m1 1h0m4-1h0m0 2h0m3-1h0m2-3h0m2 3h0m0 0h0m0 2h0m1-1h0m2-2h0m4-2h0m1 5h0m7 0h0m4 2h0m3-6h0m2 3h0m0-1h0m0-3h0m1 7h0m0-2h0m4 1h0m1-6h0m2 2h0m1 0h0m1 1h0m1 4h0m2-1h0m0-4h0m1 3h0m1-2h0m0-1h0m2 2h0m1 3h0m0 0h0m1-4h0m4 0h0m2 0h0m1 4h0m5-1h0m1-3h0m-93 6h0m1-1h0m1 3h0m0 3h0m2-5h0m1 6h0m2-2h0m1 0h0m2 2h0m2-6h0m2-1h0m1 7h0m1-1h0m1-1h0m1 2h0m3-6h0m0 5h0m1-2h0m1 3h0m2 0h0m4-6h0m1-1h0m1 5h0m8-3h0m1 1h0m0 1h0m8-2h0m1 5h0m5-7h0m2 6h0m1-4h0m3 5h0m2-7h0m2 5h0m2 1h0m1-2h0m3-2h0m7 2h0m0-3h0m1 3h0m1 3h0m2-2h0m4 1h0m5-6h0m0 6h0m2-6h0m0 3h0m1 2h0m-95 6h0m3 0h0m2-2h0m1 3h0m0-4h0m3 7h0m3-3h0m3 1h0m0-4h0m1 4h0m2 1h0m1 1h0m2 0h0m1-5h0m1 5h0m4-3h0m0 1h0m1-4h0m0 6h0m2-4h0m3-3h0m3 2h0m2-2h0m0 2h0m1 5h0m0 0h0m1-1h0m2-3h0m0-2h0m0 1h0m0 2h0m2-2h0m1-2h0m5 0h0m2 7h0m2-5h0m6 4h0m1-4h0m1 1h0m1 3h0m5-5h0m1 6h0m1-7h0m1 0h0m0 5h0m1 1h0m2 1h0m1 0h0m1 0h0m0-2h0m3-4h0m2 0h0m8 5h0m2-5h0m2 0h0m-90 8h0m2 5h0m3-6h0m3 4h0m0 2h0m1-4h0m1 0h0m0 5h0m1-6h0m3 0h0m2 1h0m2 2h0m8-3h0m0 3h0m3 0h0m3 1h0m6-1h0m3-4h0m1 1h0m0 0h0m5 6h0m2-3h0m0-2h0m3-2h0m0 1h0m2 2h0m0 2h0m1 0h0m1-2h0m3 3h0m4-5h0m5 6h0m1-7h0m1 0h0m0 6h0m0-3h0m2-2h0m5-1h0m0 1h0m1 4h0m6 0h0m2-2h0m1 3h0m0 0h0m1-5h0m0 0h0m2 3h0m2 3h0m0-2h0m-94 10h0m4-4h0m3 1h0m0 0h0m6 0h0m0-4h0m2 0h0m1 6h0m1-5h0m1 1h0m0 2h0m2 1h0m3-4h0m1 0h0m2-1h0m1 0h0m5 5h0m0-3h0m1 3h0m0-4h0m2 2h0m0 4h0m0-5h0m0-2h0m2 4h0m1 2h0m0 0h0m2 0h0m0-5h0m2 0h0m1 2h0m4-1h0m6 1h0m1 2h0m8-3h0m3 2h0m1 3h0m5-5h0m1-2h0m2 6h0m2-5h0m1 2h0m2-1h0m2 5h0m8-1h0m1-1h0m0-2h0m-90 5h0m0 6h0m9-6h0m5 4h0m0 3h0m0-6h0m4 2h0m1 4h0m2-1h0m1-2h0m3-4h0m1 7h0m0-3h0m2 2h0m1-1h0m1-4h0m1 5h0m2-2h0m1 2h0m1-4h0m1 2h0m2 0h0m4-1h0m3 3h0m0-6h0m0 7h0m1-5h0m1-2h0m0 6h0m3-3h0m1 1h0m1-2h0m3-1h0m0 6h0m1 0h0m0-7h0m2 7h0m0-4h0m1 3h0m0-2h0m1 2h0m3-3h0m0-1h0m1 1h0m1 2h0m0 0h0m1-2h0m2 2h0m1 2h0m0-4h0m1 1h0m2-4h0m4 0h0m1 0h0m1 0h0m0 2h0m1 5h0m8-1h0m2-3h0m0-2h0m1-1h0m2 4h0m2 2h0m-95 6h0m1-3h0m3 2h0m1-3h0m0 6h0m4 1h0m5-5h0m2 1h0m2 1h0m3-1h0m1 3h0m2-4h0m0-2h0m3 6h0m2 0h0m1-1h0m4 1h0m3 1h0m0-7h0m4 6h0m2-5h0m1-1h0m3 6h0m1-3h0m2 3h0m2-2h0m0-1h0m0 3h0m3-4h0m6 4h0m4-3h0m1 4h0m2-6h0m1 0h0m0 4h0m2-4h0m2 2h0m1 3h0m1-6h0m3 6h0m1-2h0m2 0h0m0-4h0m0 1h0m0 3h0m4 3h0m1-4h0m1-3h0m0 4h0m1-4h0m0 7h0m1 0h0m4-3h0m0-2h0m-93 13h0m7-1h0m1-1h0m3-1h0m1 0h0m1 2h0m0-1h0m1 2h0m0-2h0m1-5h0m1 5h0m1-5h0m1 1h0m2 4h0m1-2h0m2 3h0m2-1h0m1-2h0m1 3h0m1-4h0m1 2h0m1 1h0m4-3h0m0 4h0m0-1h0m2 0h0m0-3h0m3 4h0m1-4h0m0 3h0m4-2h0m0 3h0m2-1h0m2-3h0m3 1h0m4-2h0m1 1h0m0 1h0m0-1h0m1 5h0m1-5h0m4-1h0m3-1h0m1 6h0m2-3h0m1-2h0m3 4h0m3-2h0m3-1h0m1 1h0m0 4h0m8 0h0m3-1h0m0-5h0m1-1h0m2 2h0m1-1h0m-93 14h0m1-2h0m0-4h0m4 5h0m1-1h0m1 0h0m1 1h0m0-6h0m4 5h0m1-4h0m1 3h0m2 2h0m0-1h0m3-1h0m2 2h0m0 0h0m2 1h0m1-1h0m0-3h0m0 1h0m6-3h0m1 1h0m1 0h0m1 2h0m1-4h0m1 6h0m2-6h0m1 2h0m0-1h0m1-1h0m2 0h0m2 7h0m1-4h0m1 2h0m0-1h0m2-1h0m2-1h0m1 4h0m0 1h0m2-4h0m2-3h0m0 3h0m1 0h0m1-1h0m0 0h0m1-2h0m1 7h0m3-5h0m0 3h0m4-2h0m2 2h0m4-4h0m1 0h0m0 4h0m1-1h0m3-1h0m0 2h0m2-4h0m1-1h0m1 5h0m2-2h0m1-1h0m0 0h0m0 0h0m0 0h0m0 1h0m1 2h0m1 1h0m2-3h0m0 1h0m2 2h0m1-5h0m1 5h0m-92 6h0m1 3h0m4-5h0m1 3h0m0 2h0m1-4h0m3 4h0m0-1h0m1 0h0m5 0h0m2 0h0m1-5h0m1 6h0m2-2h0m0-1h0m1-4h0m1 3h0m0 3h0m1-5h0m2 0h0m0 2h0m1 3h0m1-2h0m2-1h0m0-2h0m2 3h0m5 3h0m1-5h0m1-1h0m1 4h0m0 1h0m2-3h0m0 0h0m5 4h0m2-7h0m1 2h0m2 2h0m2-2h0m1-2h0m1 4h0m2-2h0m1 5h0m1-3h0m1-4h0m1 6h0m0 1h0m2-2h0m2-1h0m3 2h0m0-5h0m0 0h0m1 5h0m2 1h0m2-4h0m1-2h0m0 6h0m1-7h0m1 7h0m1 0h0m2-1h0m0-1h0m1-2h0m1 1h0m0-2h0m1 0h0m1 2h0m9-1h0m-94 5h0m0 3h0m0-3h0m3 7h0m3-7h0m0 2h0m0 3h0m1-4h0m0 0h0m0 3h0m1-1h0m1 4h0m1-2h0m1-1h0m1-2h0m1-2h0m0 1h0m1 6h0m1-7h0m2 0h0m0 5h0m1-3h0m0 4h0m1 0h0m3-3h0m1 2h0m0-1h0m2-4h0m1 0h0m0 7h0m2-1h0m1-2h0m5-4h0m1 1h0m0 4h0m1 0h0m1-1h0m1-4h0m1 1h0m0 4h0m0-1h0m1-3h0m3 1h0m2 1h0m2 2h0m2 1h0m0 1h0m5-4h0m0 2h0m1 1h0m0-2h0m0 2h0m3-5h0m0 0h0m0 4h0m1-5h0m0 1h0m0 1h0m2 5h0m1-2h0m0-5h0m1 7h0m1-5h0m2 5h0m2 0h0m3-2h0m0 2h0m1 0h0m2 0h0m2-7h0m1 3h0m3-3h0m2 7h0m0-5h0m0 1h0m1-2h0m3 2h0m0-2h0m2 6h0m1-1h0m0 1h0m4-1h0m0-4h0m0 1h0m1 0h0m1-3h0m0 0h0m-94 8h0m1 1h0m0 5h0m0-5h0m1 1h0m1 1h0m0 0h0m1-1h0m1 2h0m2 1h0m1 2h0m2-4h0m0 3h0m1-6h0m0 0h0m1 4h0m0 3h0m4-5h0m0 4h0m1 0h0m2-6h0m1 4h0m5 3h0m2-7h0m1 6h0m0-6h0m1 6h0m1-4h0m2 5h0m0-3h0m3-2h0m1 0h0m1-2h0m1 4h0m2 2h0m2-3h0m1 2h0m3-2h0m1-1h0m1 3h0m0-1h0m2-3h0m1 6h0m0-6h0m3 5h0m1-4h0m0 5h0m2-1h0m1 0h0m2-4h0m0 2h0m0 0h0m1-3h0m0 6h0m1-6h0m0 6h0m2-7h0m2 6h0m0-2h0m1-3h0m1 1h0m0-1h0m1 2h0m1 2h0m0 0h0m2-2h0m0-2h0m0 4h0m0-5h0m2 2h0m0 4h0m0-3h0m2-3h0m1 6h0m2-3h0m1-1h0m1 0h0m1 3h0m0 0h0m1-1h0m1 0h0m0-2h0m2-1h0m1 4h0m2-4h0m1 6h0m1-6h0m1 5h0m2-4h0m-95 9h0m3 0h0m4 2h0m2 2h0m1-4h0m0 2h0m0-5h0m1 6h0m2-6h0m1 2h0m0 4h0m1-6h0m0 0h0m1 2h0m1-1h0m1 3h0m2-3h0m2 2h0m3 2h0m1-5h0m0 4h0m1 2h0m1-1h0m1-3h0m1-1h0m0 3h0m2-2h0m0 1h0m0 2h0m1-1h0m0-2h0m1-2h0m0 6h0m0-5h0m1 0h0m1 3h0m1 2h0m1 0h0m1-2h0m1-3h0m0 4h0m0 1h0m2-5h0m0 5h0m1 1h0m1-5h0m5 0h0m0 1h0m1-2h0m0 5h0m1-4h0m0 4h0m1 1h0m0-5h0m0-1h0m2 1h0m0 2h0m2-1h0m1 2h0m1 2h0m1-5h0m5 4h0m0 1h0m0-4h0m0 0h0m4 0h0m0-2h0m1-1h0m1 6h0m1 0h0m1 0h0m3 0h0m0 1h0m1-2h0m1-1h0m0 3h0m1-4h0m1-3h0m1 1h0m0 0h0m1 1h0m2 4h0m1-5h0m4-1h0m0 3h0m0 0h0m1 2h0m3-1h0m1-3h0m0 1h0m1 3h0m1-3h0m-93 7h0m0-1h0m1 7h0m0-3h0m1-3h0m0 0h0m1 1h0m1-1h0m0-1h0m0 5h0m3-1h0m3-2h0m0 2h0m2 2h0m1-4h0m1 4h0m1-2h0m0 2h0m0-6h0m1 4h0m0 3h0m1-4h0m1 2h0m2-1h0m1-4h0m0 5h0m0-2h0m1 0h0m0 1h0m0 0h0m0 1h0m1-5h0m0 3h0m1-3h0m0 5h0m1-2h0m1 0h0m0-2h0m0-1h0m1 7h0m0-2h0m2-2h0m1 4h0m0-5h0m2 0h0m0 5h0m0-3h0m1-2h0m0 4h0m1-3h0m1 4h0m1-3h0m2 1h0m1 1h0m1-5h0m0 1h0m0 3h0m3-2h0m1 2h0m0-4h0m1 4h0m1 1h0m0-1h0m0 1h0m1-3h0m1 2h0m0-5h0m0 2h0m2 1h0m1 1h0m1-4h0m0 6h0m1-6h0m0 4h0m2 1h0m1-4h0m0 4h0m1 0h0m0 0h0m1 2h0m0-7h0m1 3h0m1 3h0m0-5h0m1 2h0m0-3h0m1 4h0m0-3h0m0-1h0m1 2h0m0 4h0m0 1h0m0-4h0m1-3h0m1 4h0m1-4h0m1 4h0m0 2h0m0-6h0m0 7h0m0-1h0m1-1h0m2-3h0m0 2h0m1 2h0m2 1h0m1-6h0m3 6h0m0-5h0m3 2h0m0 1h0m1-5h0m0 5h0m2-3h0m0 2h0m1 0h0m1 3h0m3-6h0m0 0h0m2 4h0m0 2h0m1-6h0m0 0h0m1 5h0m0-1h0m1 0h0m0-1h0m0 0h0m0-1h0m-95 10h0m0-1h0m0 1h0m1 0h0m1-4h0m2 5h0m1 0h0m0-4h0m0-1h0m1 4h0m1 1h0m0 0h0m0 0h0m1-6h0m1 5h0m0-4h0m0 5h0m1-5h0m1 5h0m0-4h0m0 3h0m0 0h0m0-2h0m1-1h0m2 2h0m0 3h0m0-2h0m0-3h0m0 1h0m1-3h0m1 4h0m1 2h0m0-6h0m1 4h0m1 0h0m0 0h0m1 3h0m0-5h0m0 3h0m2 1h0m4-6h0m1 4h0m0-1h0m0 1h0m1-1h0m0 1h0m1 3h0m1-1h0m0-6h0m1 1h0m0-1h0m0 2h0m1-2h0m0 0h0m1 2h0m1-2h0m2 1h0m0 0h0m2 5h0m1 1h0m0 0h0m0-4h0m2 3h0m1 1h0m0 0h0m0-1h0m1 0h0m0-1h0m0-4h0m1 4h0m0-3h0m2 2h0m0 0h0m2-1h0m0 2h0m1-3h0m0 5h0m1-5h0m1 1h0m0-3h0m0 3h0m2-3h0m0 6h0m1 0h0m0-5h0m0 0h0m1 2h0m1-3h0m0 0h0m1 2h0m0-2h0m1 3h0m0-2h0m0 2h0m1-2h0m2 1h0m1-1h0m0 1h0m1 5h0m1-4h0m0 2h0m0 2h0m1-6h0m0 2h0m1-2h0m0 1h0m1 4h0m0 1h0m1-5h0m3-1h0m1-1h0m0 5h0m1-5h0m0 2h0m1 2h0m1-1h0m0-2h0m1-1h0m0 5h0m1 1h0m1-6h0m1 4h0m3-4h0m2 6h0m0 1h0m1-7h0m0 3h0m2-1h0m1 0h0m3-1h0m0 4h0m1-5h0m1 0h0m0 2h0m2 5h0m-95 5h0m0 2h0m0-2h0m1-1h0m0 2h0m1 1h0m0 1h0m1-2h0m0-3h0m0 0h0m1 2h0m0 1h0m0-1h0m1 1h0m0-3h0m0 3h0m0 1h0m1 0h0m5-3h0m0 4h0m0-3h0m1-1h0m0 1h0m0-3h0m0 6h0m0-1h0m1 0h0m1-1h0m1-4h0m0 5h0m0-6h0m1 3h0m1 4h0m2-4h0m1 0h0m1-1h0m0 0h0m0-1h0m1 6h0m0-4h0m1-2h0m0 1h0m1 0h0m0-2h0m2 7h0m0 0h0m2-6h0m1 1h0m2 3h0m2-5h0m1 3h0m0 4h0m1-6h0m0 0h0m2 0h0m1 5h0m0-1h0m1 2h0m0 0h0m1-3h0m0 2h0m0-3h0m1-2h0m1 1h0m1 1h0m0 0h0m0 4h0m1-3h0m0 2h0m1 1h0m1 0h0m0-1h0m0-2h0m1 2h0m1-1h0m0-2h0m0 4h0m0-7h0m1 1h0m0 4h0m1 2h0m1-7h0m0 4h0m0-3h0m3 2h0m0-3h0m0 6h0m0-3h0m0-2h0m1 6h0m0-3h0m0 1h0m1-2h0m0 3h0m1-1h0m0-1h0m0-2h0m1 4h0m0-1h0m1-4h0m3 3h0m1-3h0m0 5h0m2-4h0m0-1h0m3 2h0m1-2h0m1 1h0m0 1h0m0 2h0m0 1h0m3 0h0m1 0h0m0-1h0m0-2h0m1 1h0m0 3h0m1-4h0m0 0h0m0 0h0m1-3h0m0 1h0m0 2h0m2 1h0m1-4h0m0 2h0m0 1h0m1 3h0m0-1h0m0 1h0m1 0h0m0-5h0m1 6h0m1 0h0m0-4h0m0 0h0m1-1h0m0-1h0m0 2h0m1 2h0m1-3h0m0-1h0m0 2h0m1-2h0m0 5h0m0-6h0m0 5h0m1-5h0m1 4h0m0 0h0m1 0h0m1 0h0m0 2h0m0-3h0m1-3h0m0 7h0m1-5h0m-94 8h0m1 2h0m1-2h0m0 4h0m1-3h0m1 0h0m1-1h0m0 5h0m1-3h0m1 3h0m1-7h0m0 0h0m2 5h0m0-1h0m0 2h0m1 1h0m1 0h0m1-1h0m0 1h0m0-1h0m1 0h0m2-2h0m1-4h0m0 6h0m0-4h0m1 3h0m0-5h0m2 5h0m0-4h0m1 0h0m0 4h0m2-5h0m0 1h0m1 0h0m0 1h0m1-1h0m0 3h0m1-3h0m1 1h0m0 1h0m1-3h0m0 5h0m0-2h0m1-3h0m1 2h0m0 2h0m0-4h0m1 5h0m0 2h0m1-1h0m0-2h0m1-4h0m0 5h0m0 2h0m0-7h0m1 6h0m0-1h0m1 1h0m1-6h0m1 2h0m0-2h0m3 0h0m1 2h0m0 4h0m0-3h0m2 2h0m0-1h0m0 3h0m1-1h0m0-6h0m1 6h0m0 1h0m0-5h0m2-2h0m0 5h0m0-3h0m2 2h0m0-1h0m0 4h0m1-3h0m1-4h0m1 0h0m0 1h0m0 1h0m1 3h0m0 0h0m1-5h0m1 1h0m1 0h0m0 5h0m2-1h0m1 1h0m1-2h0m0 3h0m1-4h0m1-2h0m1-1h0m0 4h0m0-4h0m1 1h0m0 3h0m0 1h0m1-4h0m0 2h0m1 2h0m0-2h0m0-2h0m0 2h0m1 3h0m0 0h0m0-1h0m2-3h0m0-2h0m0 0h0m1 1h0m0-1h0m0 5h0m1 2h0m0-4h0m0 4h0m2-2h0m1-4h0m0 1h0m1 4h0m0 1h0m0-3h0m1-4h0m1 4h0m1-2h0m0 2h0m1-4h0m0 4h0m0-1h0m1 3h0m1-6h0m0 7h0m0-5h0m1 2h0m0 3h0m1-5h0m0 5h0m2 0h0m0-6h0m0 2h0m2 1h0m0-4h0m1 0h0m0 2h0m1 4h0m0 0h0m1-2h0m0 3h0m1-3h0m0-3h0m1 0h0m0 0h0m0 5h0m2 1h0m0-7h0m1 4h0m-95 5h0m0 2h0m1-3h0m0 5h0m1-3h0m1 0h0m1-2h0m0 1h0m1 1h0m0 2h0m0 2h0m1 0h0m0-1h0m1 1h0m1-2h0m0 3h0m0 0h0m1-1h0m0-5h0m2-1h0m0 5h0m0-1h0m0-1h0m1 3h0m0-1h0m1-2h0m0 3h0m0-1h0m0 0h0m0-3h0m1 1h0m0-1h0m0-2h0m0 1h0m1 5h0m1 1h0m0-6h0m0 5h0m1-2h0m0-4h0m0 0h0m1 2h0m0-1h0m1-1h0m0 0h0m0 7h0m0-5h0m0-2h0m0 1h0m1 1h0m0 2h0m0 1h0m0-3h0m1 4h0m0-5h0m0 2h0m1 2h0m0-1h0m3-1h0m0-1h0m1 1h0m0 1h0m0 0h0m0-1h0m1 1h0m0 2h0m0-1h0m2 2h0m1-4h0m0 4h0m2-4h0m1 4h0m0 0h0m2-1h0m0-6h0m1 7h0m1-1h0m0-4h0m0 4h0m0-5h0m0 4h0m2 1h0m1 0h0m2-3h0m1-3h0m1 6h0m1 0h0m0 1h0m1-6h0m1 6h0m0-6h0m0 5h0m1-2h0m0-1h0m1 3h0m1-3h0m0-2h0m0 1h0m0-2h0m1 6h0m0-6h0m0 0h0m0 4h0m0-1h0m1 0h0m0 4h0m0-5h0m1 4h0m0 0h0m2 0h0m1-1h0m2 2h0m0-7h0m0 7h0m0-2h0m1-4h0m0 2h0m1 4h0m1-3h0m0-2h0m0 0h0m2 4h0m0-6h0m0 0h0m1 1h0m0-1h0m0 0h0m0 2h0m1 3h0m1 2h0m0-5h0m0 5h0m0-4h0m1-3h0m0 5h0m2-1h0m0-4h0m1 7h0m1-3h0m0 1h0m0-4h0m1 6h0m0-3h0m1 3h0m0-7h0m1 1h0m0 5h0m0 1h0m1 0h0m0-3h0m1-2h0m0 2h0m0 2h0m0 0h0m0-4h0m1 2h0m2 0h0m1 0h0m0-4h0m0 4h0m0 0h0m1-3h0m1 6h0m0-3h0m1 0h0m0 1h0m1 0h0m0-3h0m1 4h0m0-5h0m0 3h0m1 3h0m0-6h0m0 2h0m0 0h0m1-2h0m0 2h0m0 2h0m1-2h0m0 3h0m1 0h0m1-6h0m1 5h0m0-2h0m2 3h0m0-1h0m1 0h0m0-2h0m1 3h0m-95 5h0m0 2h0m1-3h0m0 0h0m0 3h0m1 0h0m1 0h0m1-2h0m1-2h0m0 0h0m1 4h0m0-4h0m1 1h0m0 3h0m0 0h0m1-2h0m0 2h0m0-2h0m0-2h0m0 0h0m0 2h0m1 2h0m1 1h0m0 1h0m0-6h0m1 6h0m0-1h0m0-1h0m0-2h0m1-2h0m0 4h0m1 2h0m0-7h0m0 4h0m1 3h0m0 0h0m0-3h0m0 1h0m0-5h0m0 6h0m1-2h0m0 3h0m1-4h0m0-3h0m0 0h0m1 2h0m0 5h0m1-1h0m1 1h0m0-3h0m0 3h0m1 0h0m0-7h0m0 2h0m1 3h0m0 2h0m0 0h0m4-1h0m0-1h0m0-1h0m1-2h0m0-2h0m0 7h0m1-3h0m0 1h0m0-4h0m0 0h0m1 5h0m0-4h0m0 5h0m0-4h0m1-3h0m0 7h0m1 0h0m1-5h0m0 1h0m1 4h0m0 0h0m1-4h0m0 1h0m0 1h0m1-4h0m1 5h0m0-4h0m1 5h0m0-5h0m1 0h0m1 1h0m2 4h0m0-2h0m0-3h0m0 2h0m0 1h0m1 1h0m0-1h0m0-4h0m1 6h0m2-2h0m0-3h0m0 2h0m0-1h0m1 0h0m0-2h0m0 4h0m1 0h0m0-3h0m1-1h0m0-1h0m1 4h0m2-3h0m1 1h0m1 1h0m1 3h0m0-1h0m1 2h0m1 0h0m1-6h0m0 3h0m1 1h0m1-3h0m2 4h0m0-5h0m0 2h0m1 1h0m1-2h0m0 4h0m1 0h0m0-6h0m0 7h0m1-5h0m1-2h0m0 4h0m1 1h0m0-3h0m0 2h0m0 1h0m1 0h0m1-1h0m1-4h0m0 2h0m0-2h0m0 0h0m2 1h0m0 6h0m0 0h0m0-3h0m0-4h0m0 5h0m1 0h0m1 0h0m0 1h0m1-6h0m0 6h0m1-3h0m0-1h0m0-1h0m1-1h0m0 1h0m0 2h0m1 1h0m0 3h0m0-3h0m1 3h0m0-2h0m0-2h0m0 0h0m1 3h0m0-6h0m1 1h0m0 0h0m0 0h0m4 5h0m0-1h0m1 2h0m0 0h0m0-6h0m1 0h0m0 4h0m0-5h0m0 3h0m1 1h0m0 0h0m1-3h0m0 1h0m0-2h0m1 5h0m1-2h0m0 0h0m0-1h0m0 2h0m0 1h0m2 0h0m1 1h0m0-6h0m-93 12h0m1-1h0m2 0h0m0 1h0m0 0h0m0-1h0m0-2h0m1-1h0m0 4h0m0-2h0m1 0h0m0 4h0m0-5h0m1 5h0m0 0h0m0 1h0m1-1h0m0 1h0m2-7h0m1 6h0m0 1h0m1-3h0m0 0h0m1 1h0m0-2h0m1-1h0m0 4h0m1-5h0m1 3h0m0-4h0m0 3h0m1 0h0m0-3h0m1 7h0m0-5h0m0-2h0m1 7h0m1-4h0m0-3h0m0 5h0m1 1h0m1-5h0m0 2h0m1 3h0m0-3h0m1 2h0m3 1h0m0-3h0m0-1h0m1 3h0m0 1h0m0-6h0m0 2h0m2-1h0m1 2h0m0 3h0m1-4h0m0 4h0m1 1h0m1-7h0m0 0h0m0 6h0m0-4h0m0 1h0m1 0h0m0-1h0m0 1h0m1 4h0m0-7h0m1 3h0m0 4h0m0-3h0m0-2h0m1 4h0m0-5h0m0 2h0m0 4h0m1-4h0m1-2h0m0 5h0m1-1h0m0 2h0m1 0h0m0-5h0m0 0h0m0 2h0m1 0h0m0-3h0m1-1h0m0 2h0m0 5h0m1-2h0m1-1h0m0 2h0m1-4h0m0-2h0m1 2h0m1 4h0m0 1h0m0-5h0m1 0h0m1-1h0m1 5h0m0-2h0m0-1h0m0 3h0m3-5h0m0-1h0m1 3h0m0 1h0m2-2h0m0 0h0m0 1h0m0 0h0m1-1h0m0 0h0m0 1h0m2-3h0m1 1h0m0 4h0m0-4h0m1 6h0m0-1h0m1-4h0m0 3h0m0-3h0m2 2h0m0-4h0m0 1h0m1 0h0m1 4h0m0 2h0m0-1h0m1-1h0m0-2h0m0 2h0m0-5h0m0 3h0m0 1h0m1 1h0m0 0h0m0-5h0m0 4h0m0-2h0m2 3h0m0-1h0m1-1h0m1-1h0m2 1h0m0 0h0m1-2h0m0 2h0m1 3h0m2-6h0m1 3h0m0-3h0m1 1h0m0 6h0m0-7h0m1 5h0m1-5h0m1 2h0m2-2h0m0 7h0m0 0h0m0-6h0m1 5h0m0-6h0m0 5h0m1 0h0m0-2h0m0 2h0m1-3h0m0 5h0m1-6h0m0 3h0m0 3h0m1-7h0m1 0h0m0 6h0m2 1h0m0-5h0m1-1h0m0 2h0m0 3h0m-95 8h0m0 1h0m1-3h0m0 2h0m0-6h0m1 4h0m0 1h0m1-2h0m0 2h0m1 1h0m1-1h0m1-2h0m0 4h0m0-6h0m0 2h0m1 1h0m0-4h0m0 0h0m0 0h0m1 3h0m0 4h0m0-7h0m0 5h0m1-5h0m0 4h0m1 1h0m0 0h0m0-1h0m0 0h0m1-1h0m1 4h0m0-2h0m0 1h0m1-6h0m0 4h0m1-2h0m0-1h0m1 6h0m0-3h0m0-3h0m1 0h0m1 6h0m0-7h0m0 3h0m0 1h0m0 1h0m0-5h0m2 0h0m1 6h0m0 0h0m0 1h0m1-4h0m0-2h0m4 2h0m1 3h0m0 0h0m0-5h0m1 5h0m1 0h0m0 1h0m0-2h0m1-4h0m1 1h0m1 5h0m0-2h0m0-2h0m1 0h0m0 0h0m0-2h0m0 2h0m0-3h0m0 2h0m1-1h0m0 5h0m0 1h0m1 0h0m1-1h0m0-2h0m1-3h0m0 6h0m0-4h0m0 4h0m0-5h0m1 0h0m0-2h0m1 1h0m0 0h0m0 6h0m0-6h0m1-1h0m1 1h0m1 3h0m1-3h0m0 4h0m0-3h0m0 0h0m1 1h0m0 1h0m0 2h0m1-5h0m0 4h0m1-2h0m0 3h0m1-2h0m0 1h0m0-2h0m1 3h0m0-1h0m1 0h0m0 0h0m2 1h0m0-2h0m0 2h0m1-5h0m0 1h0m1 5h0m0-1h0m1 0h0m1-2h0m0 0h0m1-3h0m0 4h0m1-2h0m0-3h0m1 3h0m1 4h0m0-1h0m1 1h0m0-1h0m0-1h0m1-3h0m0 3h0m1-3h0m0-1h0m0-1h0m1 6h0m0-4h0m0 0h0m1 1h0m0 4h0m1-1h0m0-2h0m0-2h0m1-1h0m0 3h0m0-3h0m1 1h0m1 3h0m0 1h0m0-4h0m0 3h0m1-1h0m1 0h0m0-1h0m0-1h0m1 0h0m1 5h0m0-1h0m0 0h0m1-5h0m1 3h0m0 0h0m0-3h0m2 1h0m1 3h0m0-4h0m1 3h0m1-1h0m1-2h0m1 6h0m0-5h0m1 2h0m0 3h0m1-1h0m0-1h0m1 0h0m1-1h0m2 0h0m1-1h0m2 2h0m0-5h0m0 0h0m1 1h0m0 4h0m0 0h0m1-5h0m1 0h0m1 1h0m0-1h0m1 2h0m0-1h0m0 6h0m1-6h0m0 4h0m-95 9h0m0-5h0m1 2h0m0-1h0m2 3h0m0-4h0m2 3h0m0-2h0m0 0h0m0-1h0m1 0h0m0 1h0m1-1h0m0 2h0m0 1h0m1 2h0m0-1h0m1-3h0m1 0h0m1 5h0m0-6h0m1-1h0m0 4h0m1 2h0m0 1h0m0 0h0m1-2h0m0-1h0m0-1h0m0 2h0m1-2h0m1 0h0m0-1h0m0 3h0m1-5h0m1 3h0m0-3h0m0 1h0m1 6h0m1-6h0m0 4h0m0 2h0m1-6h0m1 5h0m0-5h0m0 0h0m1 2h0m1-1h0m1 4h0m0-2h0m0 3h0m0 0h0m1-3h0m1-1h0m0 0h0m0 3h0m0-5h0m0 1h0m1 5h0m0-7h0m0 7h0m0-6h0m0 2h0m1 0h0m2-3h0m1 1h0m0 3h0m0-4h0m1 3h0m0 4h0m1-3h0m1-1h0m0 3h0m1 1h0m2-2h0m0-3h0m0-1h0m0 1h0m1 2h0m0-3h0m1 0h0m0 2h0m0-3h0m0 4h0m3-2h0m0-1h0m1 2h0m0-3h0m0 7h0m0-7h0m1 4h0m0 0h0m0 3h0m0-7h0m0 5h0m1 0h0m0-4h0m1 4h0m0 0h0m1 1h0m0-5h0m0 0h0m4 3h0m1 1h0m0-4h0m0 2h0m1 2h0m1 1h0m0-6h0m1 2h0m0-1h0m1 2h0m1 0h0m1 1h0m0 1h0m2-4h0m0 2h0m0-1h0m1-2h0m0 4h0m0 2h0m0 0h0m2 0h0m0 0h0m1-3h0m0 1h0m0-1h0m0 2h0m1 0h0m0-4h0m0-1h0m1 6h0m0-3h0m0-3h0m0 7h0m2-2h0m1-1h0m0 1h0m1 2h0m0-2h0m1-5h0m0 6h0m0 0h0m0-2h0m0 3h0m1-1h0m0 1h0m0-4h0m1-1h0m0 1h0m0 4h0m0-6h0m1 2h0m0 3h0m1 0h0m1 1h0m0-3h0m1-1h0m1 4h0m0-5h0m0-1h0m2 4h0m0-3h0m0 4h0m0-4h0m1 4h0m0-3h0m0-3h0m0 4h0m1 2h0m0-1h0m1 2h0m0-5h0m1 1h0m0 4h0m1-2h0m1 1h0m0-2h0m0 3h0m0-6h0m0 5h0m1-5h0m0 5h0m1-3h0m0-1h0m0 3h0m0-1h0m1-1h0m1-3h0m0 3h0m1-1h0m2 4h0m0-6h0m1 0h0m0 6h0m0-2h0m-95 11h0m0-3h0m0-4h0m1 3h0m0-1h0m1 3h0m0-3h0m1 3h0m0 0h0m1 1h0m0 1h0m1-2h0m0-2h0m0 4h0m1 0h0m0-1h0m0-2h0m1-2h0m1 4h0m0-2h0m1 0h0m0 1h0m1 1h0m1-1h0m1 2h0m1-2h0m0-3h0m0 2h0m1 1h0m0-5h0m0 5h0m0-5h0m1 6h0m1 0h0m0-6h0m0 1h0m0 2h0m2-1h0m0 0h0m0 4h0m1 0h0m0-5h0m0 1h0m1-1h0m1 6h0m0-2h0m1-2h0m1-3h0m0 4h0m1 0h0m0 2h0m1-1h0m1 1h0m0-1h0m0 0h0m1 0h0m2-4h0m1 4h0m0-2h0m0-3h0m1 3h0m1-3h0m0 3h0m1 4h0m0 0h0m1-6h0m0 2h0m2 4h0m0-7h0m0 4h0m0 2h0m0-3h0m1 3h0m0 1h0m0-1h0m1-5h0m2 4h0m0-2h0m1 0h0m0 1h0m0-1h0m0 3h0m0 1h0m0-2h0m0 1h0m0 1h0m1-5h0m1 3h0m0-5h0m0 5h0m0-5h0m1 4h0m0 1h0m1-1h0m2-3h0m0 6h0m0-2h0m1-1h0m0-4h0m0 1h0m1 5h0m0-4h0m2 3h0m0-5h0m1 2h0m0 4h0m0 1h0m0-1h0m0-1h0m2-4h0m0 1h0m0-2h0m0 2h0m2-1h0m0 4h0m0-3h0m0 2h0m0-4h0m0 5h0m1-3h0m0 4h0m1-1h0m0-4h0m2 3h0m0-3h0m1 3h0m0-4h0m0 5h0m0 1h0m1 1h0m0-3h0m1-2h0m0 1h0m0 4h0m1-4h0m0 0h0m0 2h0m0-3h0m1 3h0m0 2h0m0-4h0m0-2h0m0-1h0m1 5h0m1-3h0m0 3h0m1 0h0m1-2h0m0-1h0m0 1h0m1-1h0m0 0h0m1 3h0m0-5h0m0 7h0m1-2h0m1 1h0m0-3h0m2 0h0m0 3h0m0-4h0m0-1h0m1 3h0m2 2h0m0-1h0m1-4h0m1 3h0m0-3h0m1-1h0m2 2h0m1-1h0m1-1h0m0 1h0m0 5h0m0-3h0m0 2h0m0 0h0m0 1h0m2-6h0m0 7h0m0-2h0m0 1h0m0 1h0m0-2h0m1-1h0m0-3h0m0 5h0m1-2h0m0-3h0m1 2h0m0-3h0m2 6h0m1-3h0m0 0h0m0-2h0m0 5h0m1-5h0m1 1h0m-95 7h0m0 3h0m1-2h0m0-1h0m0 2h0m1-1h0m0 2h0m0 1h0m0-1h0m0 1h0m1-4h0m0 4h0m0-2h0m0-3h0m0 0h0m1 0h0m1 7h0m1-1h0m0-6h0m1 4h0m3 0h0m0 1h0m1-1h0m1-3h0m0-1h0m0 7h0m1-1h0m0-6h0m0 3h0m0 3h0m1-5h0m1 5h0m0-2h0m1-1h0m0-2h0m1 6h0m0-5h0m0 2h0m0 2h0m0-1h0m0-1h0m1 1h0m1 2h0m1-4h0m0 0h0m1 4h0m0-7h0m1 4h0m0 3h0m1-1h0m0-3h0m0-2h0m1 2h0m0-3h0m2 7h0m0-2h0m1-2h0m0-1h0m0 3h0m0 0h0m1 0h0m1-4h0m1 2h0m1 0h0m0-1h0m1 1h0m0-3h0m1 7h0m0-2h0m0-4h0m0 3h0m0-2h0m1-2h0m0 5h0m1-2h0m0 4h0m2-5h0m1 4h0m0 0h0m0-3h0m1-1h0m1-2h0m0 5h0m1 1h0m0-2h0m0-3h0m1 6h0m1-4h0m0-1h0m0-2h0m1 6h0m0-1h0m0-1h0m2-1h0m1 4h0m1-6h0m1 2h0m2 1h0m0-3h0m0 2h0m1-2h0m0 0h0m0 4h0m1 2h0m1-2h0m0-4h0m0 2h0m1-1h0m0 2h0m0-4h0m0 2h0m1 5h0m0-4h0m1 0h0m0 0h0m1 2h0m2-4h0m0 5h0m0-1h0m0-1h0m1-4h0m1 0h0m0 3h0m0 2h0m1 2h0m0-3h0m1-1h0m0 2h0m0 0h0m0-4h0m1 6h0m0-4h0m1 1h0m0-1h0m0-3h0m0 4h0m1-4h0m1 1h0m0 4h0m0-1h0m0-4h0m0 2h0m1 3h0m0 2h0m0 0h0m0-4h0m0 0h0m1 3h0m0-4h0m1 1h0m0 4h0m0-7h0m1 6h0m1-2h0m0-1h0m1-1h0m0 4h0m1-5h0m1 0h0m0 3h0m1-2h0m2 0h0m1 2h0m0 1h0m1-5h0m0 7h0m1-4h0m1-1h0m1 5h0m0-1h0m0 0h0m1-6h0m0 4h0m0-4h0m0 4h0m2 0h0m1 0h0m0 3h0m1-6h0m1-1h0m0 4h0m0-2h0m1 1h0m1 4h0m0-2h0m1-1h0m0-3h0m0-1h0m0 5h0m2-1h0m-95 10h0m1-2h0m0-1h0m2-1h0m0 4h0m0 0h0m1 1h0m0-1h0m1 1h0m0-4h0m1-3h0m0 0h0m1 0h0m0 4h0m1-4h0m0 5h0m1 0h0m1-5h0m0 4h0m0-2h0m1 0h0m0-1h0m1 6h0m1-2h0m0-1h0m1 1h0m0-2h0m1 2h0m1 2h0m0-6h0m1 5h0m0 0h0m0-1h0m1-5h0m0 3h0m0-1h0m1-2h0m1 2h0m0 0h0m2-1h0m1 1h0m0 1h0m1 4h0m0-5h0m2-2h0m0 4h0m0 0h0m1 0h0m0-3h0m0 6h0m1-2h0m0 2h0m0-2h0m1 0h0m1-2h0m0 4h0m0-3h0m1-3h0m0 5h0m1-1h0m1 0h0m0 1h0m1-5h0m0 0h0m0 6h0m0-2h0m2-1h0m0-2h0m1 0h0m0 1h0m0-1h0m0 2h0m1-1h0m0-2h0m1 3h0m1 0h0m0-1h0m0 2h0m1 0h0m1-2h0m0 0h0m0-1h0m1 0h0m0 1h0m1-2h0m0 4h0m0-4h0m2 1h0m0 0h0m1-1h0m0 3h0m1-1h0m0 1h0m0-4h0m0 5h0m0-3h0m1 2h0m1-3h0m0 5h0m0 1h0m1-2h0m0-2h0m1-1h0m1 1h0m1-3h0m0 3h0m1 1h0m0-3h0m0 3h0m0-3h0m0-1h0m1 7h0m0-5h0m0-1h0m0 2h0m1-2h0m0 6h0m2-6h0m0 6h0m0-6h0m0-1h0m1 0h0m0 4h0m1-2h0m0 1h0m1-2h0m0-1h0m0 1h0m0 4h0m0 1h0m0 0h0m1-4h0m0 2h0m0-1h0m0 2h0m1-5h0m0 2h0m0 4h0m0 0h0m1-3h0m0 4h0m1-1h0m0-4h0m2 4h0m1-1h0m0 2h0m0-4h0m2-2h0m0 0h0m2 0h0m2 3h0m0 2h0m0-3h0m0-2h0m1 0h0m1-1h0m1 2h0m0 2h0m0 2h0m1-3h0m0 2h0m1 1h0m0-3h0m0 0h0m0 4h0m1-2h0m0-4h0m0 0h0m2 6h0m0-7h0m1 5h0m1 1h0m0 1h0m1-5h0m1 1h0m0 3h0m0-4h0m1 3h0m0 2h0m1 0h0m0-2h0m0-1h0m0-4h0m1 3h0m0-2h0m0 5h0m1-5h0m0 3h0m3 3h0m0-1h0m0-6h0m1 5h0m0 1h0m-93 2h0m5 5h0m1-2h0m1-2h0m0 2h0m1 1h0m1-4h0m2 1h0m0-1h0m1 2h0m0 1h0m0 2h0m1-3h0m3-2h0m0 1h0m1 1h0m0-2h0m0 2h0m1 0h0m0 5h0m0-5h0m2-2h0m1 5h0m2 1h0m1-6h0m1 0h0m1 1h0m4 5h0m3-4h0m1 1h0m0-3h0m3 0h0m2 0h0m4 0h0m1 2h0m0 0h0m1-1h0m1 1h0m2 5h0m0-6h0m1 5h0m6-4h0m0-1h0m0-1h0m1 0h0m2 3h0m4-2h0m0-1h0m2 1h0m3 0h0m1 2h0m2-1h0m4 0h0m2-2h0m2 1h0m0 4h0m1-3h0m2-2h0m2 3h0m3 4h0m1-5h0m0-2h0m3 1h0m2 4h0m1-3h0m-72 13h0m1-4h0m6-1h0m8 2h0m1-4h0m6 4h0m2-3h0m4-1h0m9 4h0m6-4h0m3 0h0m17 1h0m-77 7h0" stroke="#0a0a0a" stroke-width="4.90" stroke-linecap="round" fill="none"/>
<path d="M1402 981h0m11-2h0m9 1h0m39 1h0m1 2h0m-71 6h0m0-3h0m12 0h0m5 1h0m0-2h0m6 4h0m11-4h0m4 6h0m23-7h0m10 6h0m7-6h0m4 4h0m1 0h0m0 3h0m3-3h0m0 0h0m5-4h0m3 6h0m-93 6h0m2-2h0m6 2h0m4 2h0m4-6h0m3 2h0m3-2h0m23 5h0m7-4h0m1 5h0m2-5h0m2 0h0m4 1h0m4 1h0m5 3h0m2 0h0m1-3h0m6-2h0m3 4h0m11-5h0m2 2h0m-95 13h0m4 0h0m1-2h0m1-3h0m1 2h0m1 1h0m2 0h0m0-5h0m3 4h0m0-3h0m2 4h0m1 0h0m3-5h0m1 3h0m12 1h0m6 1h0m1 0h0m5 0h0m3-1h0m4 1h0m11-5h0m1 7h0m3-7h0m8 3h0m1-2h0m9 0h0m3 1h0m3-1h0m4-1h0m-91 11h0m2-1h0m8 2h0m1 0h0m5-2h0m1 1h0m0 4h0m2-3h0m3-2h0m1-2h0m5 2h0m3 1h0m6 0h0m6 2h0m5 0h0m1-3h0m2 5h0m6-1h0m10-4h0m1 0h0m9 3h0m2 2h0m7-7h0m2 4h0m3-1h0m-89 12h0m0-3h0m2-4h0m0 0h0m1 1h0m1 1h0m0-2h0m5 7h0m0-1h0m3 1h0m0-7h0m15 2h0m2 2h0m4-3h0m1 6h0m12-5h0m4 2h0m0 0h0m1-2h0m1 0h0m0 2h0m7 2h0m0-6h0m3 2h0m3 4h0m0 1h0m1-2h0m2-4h0m0 6h0m1-3h0m2 1h0m1-3h0m6 5h0m2-7h0m2 6h0m4-2h0m2-3h0m-94 7h0m1 1h0m0 6h0m0-3h0m4-3h0m1 0h0m2 6h0m3-3h0m2-3h0m2 4h0m0-2h0m0-2h0m4 5h0m1-4h0m0 0h0m3 5h0m0-4h0m1 1h0m4 3h0m3-2h0m0-5h0m4 7h0m0-3h0m2-4h0m0 0h0m2 3h0m5-2h0m4 3h0m0 3h0m1-6h0m5 0h0m3 0h0m3 0h0m2 4h0m0-5h0m1 6h0m1-2h0m1-4h0m3 1h0m3 2h0m0-1h0m1 2h0m1 2h0m3-3h0m5 4h0m1 0h0m1-5h0m2-2h0m1 4h0m3-3h0m1 5h0m1-3h0m-89 10h0m1 2h0m1-1h0m4-5h0m1 0h0m5-1h0m9 6h0m4-4h0m0 3h0m1-2h0m5-2h0m4 6h0m0-5h0m0 2h0m2-1h0m6 0h0m2-1h0m3-1h0m1 6h0m1-7h0m1 6h0m0-4h0m1 1h0m2 4h0m1 0h0m4-1h0m4-2h0m0 0h0m4-4h0m1 5h0m0 1h0m1-6h0m8 7h0m3-7h0m2 7h0m0-1h0m5 0h0m3-1h0m3 1h0m0-1h0m1 2h0m-94 7h0m0-1h0m2-5h0m2 7h0m3-3h0m1-3h0m2 0h0m1 2h0m2-3h0m6 2h0m1 2h0m5-3h0m3 6h0m1-1h0m1-1h0m4 1h0m0-2h0m3 1h0m3 1h0m0-2h0m2-3h0m2 6h0m1-4h0m1 2h0m3-4h0m2 6h0m3-3h0m3 2h0m1-5h0m0 0h0m4-1h0m6 3h0m2-1h0m3 2h0m6-1h0m0 2h0m1-4h0m1 3h0m0 0h0m0-3h0m2 2h0m1 2h0m3-1h0m3 2h0m1-5h0m1 2h0m0 4h0m2-7h0m-96 9h0m1 4h0m0-5h0m0 4h0m3-3h0m0 1h0m1 3h0m1 1h0m1-6h0m2 2h0m0 3h0m4 2h0m0-2h0m1-2h0m1-1h0m0 3h0m2-2h0m2 3h0m3 0h0m1 1h0m2-7h0m2 6h0m0 1h0m2-1h0m1-1h0m0-5h0m4 7h0m0-1h0m0-1h0m4-5h0m3 1h0m0-1h0m2 7h0m1-2h0m1-5h0m0 3h0m0 4h0m1-6h0m2 6h0m1-3h0m0 1h0m3-5h0m1 5h0m0 0h0m5-3h0m1 3h0m0-1h0m1 3h0m2-3h0m5 0h0m3 3h0m0-4h0m1-3h0m0 0h0m2 5h0m2 0h0m5-3h0m0-1h0m0 4h0m2 0h0m2-4h0m1 2h0m4 2h0m1-3h0m0 5h0m0-6h0m1 4h0m5 0h0m-96 5h0m1 4h0m0-6h0m1 4h0m0 3h0m1-6h0m2 6h0m0-2h0m1-1h0m0 3h0m1 0h0m1-7h0m0 2h0m1 2h0m1-2h0m0-1h0m1 1h0m2 2h0m0 0h0m1 2h0m1-3h0m0-3h0m2 3h0m0 0h0m3 3h0m1 0h0m0-2h0m1-2h0m0 0h0m1 5h0m1 0h0m1 0h0m0-4h0m1-3h0m1 0h0m0 3h0m2-2h0m1-1h0m0 0h0m0 1h0m1 3h0m0-3h0m0 0h0m1 5h0m1 0h0m2-5h0m0-1h0m0 1h0m1 2h0m1-1h0m1 0h0m4 2h0m0-3h0m1 2h0m3-3h0m2 6h0m0-5h0m1 0h0m0 5h0m1-1h0m1 2h0m0-6h0m1 6h0m1-6h0m1 1h0m0 2h0m2 3h0m2-1h0m2 0h0m0-5h0m1 4h0m0 2h0m1-2h0m1-4h0m0 1h0m3-1h0m0 0h0m0 0h0m1 4h0m1 0h0m1-5h0m0 2h0m2-1h0m0 2h0m1 3h0m0-3h0m1-2h0m2 5h0m0-2h0m3 0h0m0-2h0m3 1h0m1 4h0m0-1h0m0-4h0m1 0h0m0 3h0m1 1h0m1-1h0m0-4h0m0 5h0m4-3h0m2-2h0m2 3h0m1 0h0m0-1h0m1-2h0m1 6h0m-96 8h0m1-6h0m0 6h0m1-7h0m0 6h0m0-5h0m0 4h0m0 2h0m2-6h0m1 4h0m0-1h0m1-1h0m0 4h0m0-3h0m1 3h0m0-6h0m1 2h0m0 4h0m1-1h0m1-2h0m1-2h0m0 5h0m0-5h0m0 0h0m1 4h0m1-4h0m1 5h0m0-4h0m1 0h0m0 3h0m1-5h0m0-1h0m1 4h0m0 1h0m1 1h0m0-5h0m1 6h0m1-1h0m2 0h0m1-1h0m1 0h0m2 0h0m0-2h0m0-1h0m1 5h0m0-7h0m0 2h0m0 3h0m1 0h0m0-5h0m1 6h0m0 0h0m0-5h0m0 1h0m0 5h0m2-3h0m1-3h0m1 5h0m0-4h0m0 2h0m0-3h0m1 1h0m0 1h0m0 0h0m0 3h0m1-1h0m0-4h0m1-1h0m1 5h0m0-3h0m3 1h0m0 4h0m0-5h0m1 4h0m2 0h0m0-3h0m1 2h0m1 1h0m1-5h0m1 6h0m0-1h0m0-1h0m0-2h0m0-3h0m2 6h0m0-6h0m0 2h0m0-2h0m1 6h0m0-3h0m0 3h0m0 0h0m1-4h0m0 3h0m1-1h0m1-4h0m0 5h0m1 0h0m2-3h0m0 3h0m2-4h0m0 4h0m0-3h0m1 1h0m1 4h0m1-1h0m0-3h0m1 2h0m0-2h0m1-2h0m0 5h0m1-4h0m0 5h0m0-2h0m1-5h0m1 5h0m1-1h0m0-2h0m0 5h0m1-3h0m2 2h0m0-2h0m0-1h0m0 0h0m0-1h0m2-2h0m2 5h0m1-3h0m0-2h0m1 4h0m1-2h0m0 2h0m0 1h0m0-4h0m0 1h0m1 3h0m1-5h0m0 1h0m0 4h0m1 0h0m4 1h0m0-2h0m0 1h0m1-4h0m1 6h0m2-4h0m0 4h0m2-1h0m0-2h0m1-1h0m1 1h0m0 3h0m1-5h0m0 1h0m0 2h0m1 2h0m0 0h0m1 0h0m0 0h0m0-7h0m1 4h0m-96 8h0m2 1h0m1-5h0m0 3h0m0 2h0m0 0h0m0-1h0m0-3h0m1 1h0m0 4h0m1 1h0m0-7h0m2 5h0m0 2h0m1 0h0m1-7h0m1 2h0m0 3h0m1 0h0m0 0h0m1-4h0m0 6h0m1-1h0m0 1h0m2-7h0m0 2h0m1 5h0m0-7h0m0 0h0m0 0h0m1 3h0m0 4h0m0-3h0m1-3h0m1-1h0m0 5h0m0-2h0m0-2h0m0 1h0m1 1h0m0 4h0m1-7h0m1 0h0m1 6h0m0-6h0m0 7h0m2-2h0m1 2h0m0-3h0m0-3h0m0 0h0m0 2h0m1 3h0m1-2h0m0 0h0m0 1h0m0-3h0m1 5h0m0-6h0m0 0h0m1 5h0m0 1h0m0-3h0m0 1h0m0 1h0m1-6h0m0 4h0m0-4h0m0 2h0m2 2h0m0 2h0m0 0h0m0 0h0m0 0h0m1 1h0m0-4h0m0 2h0m0-1h0m1-1h0m0 0h0m1-1h0m0-1h0m0 4h0m1-4h0m0 2h0m0 4h0m0-4h0m1 0h0m2 1h0m2 2h0m1-6h0m0 2h0m1 0h0m0 3h0m0-2h0m1 2h0m0-4h0m2 0h0m0-1h0m0 4h0m1-2h0m1 0h0m0 5h0m0-4h0m1 1h0m0 3h0m0-3h0m1 1h0m0 2h0m0-4h0m0-3h0m0 4h0m0-2h0m1 5h0m0-6h0m1 5h0m0-1h0m1-2h0m0-3h0m1 3h0m2 1h0m2-4h0m0 5h0m1 1h0m0-3h0m0 3h0m1-5h0m0-1h0m0 4h0m1-2h0m0-1h0m1 5h0m0-6h0m0 1h0m1 6h0m0-6h0m0 3h0m1 1h0m0-3h0m1 2h0m0 3h0m0-5h0m1 3h0m0 0h0m0-3h0m1 1h0m0-3h0m0 4h0m0 3h0m0-2h0m0-1h0m1 1h0m0-2h0m0 3h0m0-6h0m3 1h0m0 2h0m1 1h0m0-4h0m2 5h0m1 2h0m0-4h0m1 1h0m0 1h0m0-5h0m1 5h0m1-2h0m0 4h0m0-5h0m0-2h0m1 2h0m0 4h0m0 0h0m0-2h0m0-3h0m0 5h0m1 1h0m0-1h0m1-2h0m0 3h0m0-5h0m0 1h0m1 1h0m0 2h0m1-3h0m2-3h0m1 5h0m2-5h0m1 1h0m0-1h0m0 2h0m0-1h0m2 1h0m0 1h0m0 4h0m0-5h0m1 3h0m0-4h0m1 4h0m0-4h0m0 6h0m1-5h0m0 4h0m0-3h0m0-1h0m-94 9h0m0 4h0m1-2h0m0-5h0m0 7h0m1 0h0m1-2h0m0-4h0m0 5h0m0-4h0m0 3h0m1-4h0m0 2h0m0 1h0m0 2h0m1-3h0m1 4h0m1-5h0m1 2h0m0-1h0m0 0h0m0-1h0m0 3h0m1 2h0m0-3h0m0 0h0m0 2h0m1-1h0m1-4h0m0 4h0m0 2h0m1-2h0m0 0h0m1 2h0m0-6h0m1 0h0m0 4h0m2-2h0m0-1h0m1 3h0m0 2h0m0-4h0m1 1h0m0-4h0m1 0h0m0 2h0m1 3h0m0 2h0m0 0h0m1-3h0m0-4h0m0 2h0m0-1h0m1 0h0m0-1h0m1 5h0m1-5h0m1 6h0m0-4h0m1-1h0m0 2h0m0-1h0m1 2h0m1-3h0m0 6h0m0-3h0m0 0h0m1 0h0m0 2h0m1-6h0m0 3h0m0 0h0m0-2h0m0 1h0m1 0h0m2 0h0m1 5h0m0-3h0m0 1h0m0 1h0m0-5h0m0 6h0m0-7h0m1 1h0m0 6h0m1-6h0m0 1h0m0 0h0m1 4h0m0 0h0m0-5h0m1 0h0m0 6h0m0-7h0m0 7h0m0-1h0m2 1h0m1-4h0m0-1h0m1 0h0m0 3h0m1-1h0m0 0h0m1-3h0m0 5h0m1-3h0m0 4h0m1-5h0m0-1h0m1-1h0m0 6h0m2-4h0m0-1h0m0-1h0m1 0h0m0 6h0m0-3h0m1-2h0m0 6h0m1-5h0m0 3h0m1 1h0m0-1h0m0 0h0m1 2h0m0-6h0m0 0h0m0 1h0m0-2h0m2 0h0m1 5h0m0 1h0m1-1h0m0-4h0m1 2h0m0-3h0m1 2h0m1 4h0m0-1h0m0-2h0m1-1h0m1 3h0m1 2h0m0-7h0m0 6h0m1-2h0m0 1h0m0-1h0m0-4h0m0 3h0m1 2h0m1-4h0m2 4h0m0-1h0m0 1h0m1 0h0m1 2h0m0-2h0m0-2h0m0-2h0m2 4h0m0 1h0m0-3h0m0-2h0m0 4h0m1-5h0m1 1h0m0 4h0m1-1h0m0 0h0m0-4h0m0 1h0m0 3h0m1 1h0m0 1h0m1-1h0m0-4h0m1 0h0m0 1h0m0 4h0m3-4h0m1 0h0m0 5h0m0-3h0m0-2h0m1 0h0m0 0h0m1-2h0m0 0h0m1 6h0m1-4h0m0 0h0m0 5h0m0-6h0m1 2h0m0-2h0m1 0h0m0 5h0m0-1h0m3 1h0m0-5h0m1 2h0m0 0h0m0-3h0m0 5h0m0 0h0m1-5h0m0 4h0m0-4h0m0 7h0m1-1h0m-96 8h0m1-1h0m1-1h0m1-4h0m1 4h0m0-1h0m1 3h0m0-3h0m0 0h0m1 1h0m0 3h0m1-4h0m0-1h0m1 4h0m3-5h0m0 1h0m2 0h0m0-2h0m1 4h0m1 3h0m0-6h0m1 4h0m0-2h0m1 4h0m0-1h0m1-3h0m0 4h0m1-7h0m1 3h0m2 1h0m1 1h0m0 2h0m1-2h0m1-5h0m0 3h0m0-2h0m0 0h0m1-1h0m0 6h0m1 0h0m0-1h0m1-1h0m0-3h0m1 6h0m0-7h0m1 0h0m0 3h0m1 0h0m0 2h0m1-4h0m0 2h0m0-2h0m0 0h0m1 3h0m0-1h0m0-3h0m1 7h0m0-6h0m0 6h0m0-4h0m0-1h0m1 2h0m0-2h0m1 1h0m0 4h0m0-2h0m0-4h0m1 6h0m0-2h0m1-4h0m0 3h0m1-2h0m1-1h0m0 6h0m0-5h0m0-2h0m0 1h0m0 3h0m1 3h0m0-1h0m0-1h0m1 1h0m0 0h0m0 1h0m0-2h0m1-2h0m1-1h0m0 0h0m0-2h0m0 3h0m0 2h0m0-3h0m1 5h0m0-2h0m0 2h0m0-3h0m1 0h0m0-3h0m1 5h0m0 1h0m0 0h0m0-7h0m0 3h0m1-2h0m0 0h0m0 0h0m0 3h0m1-2h0m1 4h0m0 1h0m0-2h0m0-2h0m0 0h0m0 1h0m1-1h0m0 0h0m1-2h0m0 3h0m1 2h0m0-5h0m1-1h0m1 1h0m0 2h0m0 0h0m1 4h0m0-4h0m1 2h0m0 1h0m0-4h0m0 2h0m1 0h0m0-2h0m1 5h0m1 0h0m0-7h0m0 4h0m0 3h0m1-4h0m1-1h0m0 3h0m1 0h0m0 0h0m0-3h0m1 4h0m1 1h0m0-7h0m0 5h0m0-2h0m0-1h0m0 4h0m0 1h0m1-6h0m0 3h0m0 2h0m0-5h0m1 1h0m0 3h0m1 2h0m1-2h0m0-2h0m0 2h0m0-5h0m1 4h0m0 1h0m1-4h0m0 0h0m0 3h0m1 0h0m0 2h0m1 1h0m0-7h0m0 3h0m0 4h0m1-2h0m0-4h0m0-1h0m1 5h0m0-3h0m1 4h0m0-2h0m0 2h0m0 1h0m2-4h0m0 2h0m1-3h0m0 0h0m0 1h0m1 3h0m0-1h0m1-3h0m0 4h0m1 0h0m0-2h0m1-3h0m0-1h0m1 3h0m0 2h0m0-5h0m0 5h0m0 0h0m0 2h0m1-6h0m0 5h0m1-2h0m0 3h0m1-6h0m0 3h0m0 2h0m0-6h0m0 0h0m0 0h0m1 7h0m0-3h0m0 1h0m1 2h0m1-6h0m0 6h0m1-3h0m0 2h0m0 1h0m0-7h0m1 5h0m0-4h0m0 0h0m2 1h0m0 0h0m0 1h0m1 3h0m0-6h0m1 6h0m0-6h0m0 3h0m-95 9h0m0-1h0m0 1h0m0-3h0m1 6h0m0-7h0m0 6h0m0 1h0m1-7h0m0 3h0m0-2h0m2 6h0m0-3h0m0 0h0m0 2h0m1 0h0m0-6h0m1 2h0m0 1h0m1 0h0m0 4h0m0-2h0m1-3h0m0 2h0m0-1h0m1-2h0m0 4h0m0-1h0m0 1h0m1 1h0m0 1h0m0-2h0m0-4h0m0 5h0m0-6h0m1 6h0m0-2h0m0 3h0m0-2h0m1-2h0m0 1h0m0 3h0m0-4h0m0 3h0m1-3h0m0 2h0m1-4h0m0 5h0m1-2h0m0 2h0m1 1h0m1-3h0m0 0h0m0 3h0m1-1h0m1-3h0m0-3h0m0 3h0m1 1h0m1-3h0m1 6h0m1 0h0m0 0h0m1-1h0m0-4h0m0 5h0m1 0h0m0-5h0m1 1h0m0-2h0m0 5h0m3-1h0m0 1h0m1-3h0m1-3h0m0 6h0m0 0h0m0-2h0m1 2h0m0-2h0m0 3h0m1-4h0m1-3h0m0 1h0m0 6h0m1-4h0m0-3h0m0 3h0m1 1h0m0-2h0m1 3h0m0 2h0m0-7h0m0 2h0m1 4h0m0 1h0m0-5h0m0 5h0m0-4h0m0-2h0m1 1h0m2 2h0m1 3h0m0-4h0m0 0h0m2-2h0m0-1h0m1 1h0m0 6h0m0-6h0m0-1h0m1 4h0m1-4h0m1 2h0m0 3h0m0 0h0m0-4h0m0 2h0m1 0h0m1-1h0m0 2h0m0-1h0m0 2h0m4 0h0m0 1h0m0 1h0m0 0h0m0-7h0m1 4h0m0-1h0m1-1h0m0 4h0m1 1h0m0-2h0m0 0h0m0-1h0m1-1h0m0-2h0m1 6h0m0 0h0m0-6h0m1-1h0m2 3h0m0-2h0m0-1h0m0 7h0m0-4h0m0 3h0m1-3h0m1 2h0m0 1h0m1-1h0m1-2h0m0 3h0m1-2h0m0 2h0m1-5h0m1 4h0m0 2h0m1-1h0m1 1h0m1-3h0m0 1h0m1-5h0m1 4h0m1-3h0m0 5h0m0 1h0m0-1h0m1-3h0m1-1h0m0-1h0m0 0h0m1 5h0m0 1h0m0 0h0m1 0h0m0-2h0m1-5h0m0 4h0m0 2h0m1-6h0m0 7h0m2-2h0m0 0h0m0-2h0m1 4h0m1-3h0m1 1h0m0-2h0m0 0h0m0 1h0m1-4h0m0 7h0m0-2h0m1 0h0m0-5h0m0 4h0m0 1h0m1-1h0m0-2h0m0 5h0m0-3h0m1 3h0m0 0h0m0-3h0m0 1h0m0 0h0m0-4h0m1 4h0m0 0h0m0-3h0m1 3h0m0 0h0m0-1h0m0 2h0m1-3h0m0 2h0m0-2h0m0 4h0m0-4h0m1-2h0m0 6h0m0-7h0m1 4h0m-96 7h0m0 0h0m1 2h0m1 2h0m0-3h0m0-3h0m1 5h0m0-1h0m1 0h0m0-2h0m0 0h0m1-1h0m0 0h0m1 0h0m0 3h0m0-5h0m1 3h0m1 3h0m0-5h0m1 2h0m0 0h0m0 1h0m1-4h0m2 3h0m0-1h0m0-2h0m0 4h0m1 0h0m1-2h0m1 2h0m0 3h0m0-6h0m0-1h0m0 5h0m1 2h0m0-5h0m0 4h0m1-6h0m0 6h0m1-6h0m1 0h0m0 5h0m0 0h0m0-4h0m0 3h0m1 3h0m0-3h0m0 3h0m0-4h0m1-2h0m0 6h0m0-5h0m1-1h0m0 3h0m0-2h0m1 5h0m0-4h0m0 1h0m0 1h0m1-2h0m0-2h0m0 3h0m0 2h0m1-6h0m0 6h0m0 0h0m1 1h0m1-3h0m0 1h0m0-2h0m0-2h0m1-1h0m0 4h0m2-4h0m0 5h0m1-3h0m0 2h0m1 0h0m0-2h0m0 2h0m1 3h0m0 0h0m1-3h0m1 3h0m1 0h0m1-7h0m0 7h0m1-1h0m0-2h0m0-3h0m0 2h0m0 2h0m0-1h0m1 0h0m0-1h0m0 2h0m0-5h0m0 1h0m0 4h0m1-3h0m0-1h0m1 4h0m1 0h0m0-5h0m1 7h0m1-4h0m0 3h0m0-4h0m1 2h0m0 3h0m0-2h0m1-2h0m0 0h0m0-3h0m0 0h0m1 2h0m0 5h0m0 0h0m0-2h0m1-5h0m1 6h0m0-6h0m1 7h0m0-6h0m0 2h0m0 2h0m0 2h0m1-6h0m1 3h0m0 0h0m0 2h0m0 0h0m1-4h0m1-2h0m0 6h0m2-4h0m1 1h0m0-2h0m1 1h0m1 5h0m0-3h0m1 1h0m0-4h0m0 4h0m0-4h0m0 0h0m0 2h0m0 4h0m0-7h0m1 3h0m1 0h0m0-1h0m1 0h0m1 5h0m0-4h0m0-3h0m1 3h0m1 1h0m0 2h0m1-2h0m1 0h0m0-2h0m0 5h0m1-1h0m2 1h0m1-2h0m0-3h0m0 4h0m1-1h0m0-5h0m0 6h0m0-1h0m1-5h0m0 3h0m3-2h0m0 4h0m0 0h0m1 1h0m0-1h0m1-2h0m0-3h0m0 4h0m1-2h0m0-2h0m1 1h0m0 2h0m1 1h0m0-1h0m0 1h0m1-1h0m0 0h0m0 2h0m0-5h0m1 6h0m0-5h0m0 2h0m0-2h0m0 5h0m1-6h0m1 0h0m0 4h0m1 0h0m0 2h0m1-5h0m0-1h0m1 3h0m0 0h0m0-1h0m2 4h0m1-1h0m0 0h0m0 2h0m0-4h0m0 1h0m1 1h0m0 1h0m1-4h0m0 3h0m0 0h0m0-3h0m0 4h0m1-2h0m0-2h0m1 5h0m-96 6h0m0-5h0m0 3h0m1 2h0m0-3h0m0-1h0m1 1h0m0 1h0m1 4h0m0-4h0m1 3h0m0-6h0m0 6h0m1-3h0m1 0h0m0 4h0m1-3h0m0 3h0m0-3h0m1 0h0m0-2h0m0 2h0m1-1h0m0-1h0m0 3h0m0-3h0m1 4h0m0 1h0m1-7h0m0 7h0m0-3h0m2-1h0m0 0h0m0 2h0m0-5h0m0 7h0m1-4h0m1-3h0m0 5h0m0-1h0m0-4h0m2 6h0m0-3h0m1 0h0m0 2h0m0-1h0m0-4h0m2 3h0m0 1h0m1-1h0m0 1h0m1 3h0m0-4h0m0 4h0m1-6h0m0 2h0m1-3h0m1 7h0m0-6h0m0 5h0m0 1h0m1-5h0m0 4h0m1-2h0m0 1h0m0-3h0m2 3h0m0-2h0m0 1h0m1-2h0m0-1h0m0 2h0m1-2h0m0 1h0m1 4h0m0 0h0m1-5h0m0 2h0m1-2h0m1 5h0m2 0h0m0-6h0m0 2h0m1 1h0m1-2h0m1 2h0m0 0h0m0-1h0m1-1h0m0 2h0m0 3h0m0 1h0m0-4h0m1 1h0m1 3h0m0 0h0m1-3h0m2 1h0m0 2h0m0-2h0m1-1h0m0 2h0m0-6h0m1 1h0m1 0h0m0 3h0m0 2h0m1-3h0m0-2h0m0-1h0m0 2h0m1 3h0m0 2h0m0 0h0m1-4h0m0 2h0m0-4h0m0 6h0m1-6h0m0 4h0m1 2h0m0-3h0m0-4h0m1 3h0m1 0h0m0-3h0m0 5h0m1 1h0m0-3h0m0 0h0m0 0h0m0-1h0m1-2h0m1 1h0m0 3h0m0-2h0m0 3h0m1-5h0m0 3h0m0 0h0m1 0h0m0-1h0m0 0h0m0 5h0m0-4h0m2 4h0m0 0h0m1-4h0m0 4h0m1-6h0m0-1h0m1 7h0m1-4h0m0 3h0m0 0h0m1-2h0m0 2h0m1-5h0m0 4h0m0-4h0m1 3h0m0-1h0m0-1h0m2 1h0m1 4h0m0-2h0m1-4h0m0 6h0m0-4h0m0-3h0m1 7h0m0 0h0m0-7h0m1 1h0m0 6h0m0-7h0m1 0h0m1 2h0m0-1h0m0 6h0m1 0h0m0-1h0m0-1h0m1 2h0m0-1h0m0-5h0m0 1h0m1-1h0m0 5h0m0-6h0m0 6h0m1 0h0m1-1h0m0 0h0m0-4h0m0 1h0m0-1h0m1 6h0m0-5h0m0-2h0m0 1h0m1 2h0m0 2h0m0-2h0m1 2h0m0 0h0m0-1h0m1-1h0m1-2h0m0 6h0m1 0h0m0-6h0m0 3h0m1 3h0m0-4h0m1 0h0m0-2h0m0 2h0m0 2h0m1 2h0m2-4h0m0 1h0m0-4h0m1 3h0m0-1h0m0 5h0m1-6h0m0 5h0m-96 5h0m0-2h0m0-1h0m1 2h0m0 4h0m1 1h0m0 0h0m1-7h0m1 2h0m0 2h0m1 0h0m0-2h0m1 2h0m0 1h0m1-3h0m0 1h0m0 2h0m1 1h0m0-3h0m1-3h0m0 5h0m1 0h0m0-1h0m0 2h0m1-3h0m0-3h0m0 5h0m1-4h0m0-1h0m0 2h0m0 3h0m0-4h0m0-1h0m1 7h0m0 0h0m1-3h0m0 2h0m1-4h0m0 5h0m1-3h0m2-1h0m0-2h0m1 1h0m0 5h0m1-4h0m0-2h0m0 6h0m1-1h0m0-6h0m0 5h0m1-5h0m0 1h0m0 2h0m0-1h0m0 4h0m1-1h0m0 2h0m1-4h0m1 3h0m0 1h0m1-7h0m0 6h0m1-4h0m0-2h0m1 5h0m0-3h0m0-2h0m1 6h0m0-1h0m0-1h0m0 1h0m1-5h0m0 5h0m0-1h0m1-2h0m1 5h0m0-2h0m0 2h0m1-4h0m0 4h0m0 0h0m2-5h0m0-2h0m0 0h0m1 4h0m0-1h0m0 1h0m1 1h0m1-5h0m1 7h0m0-3h0m1 3h0m0-1h0m1-2h0m0-2h0m2-2h0m0 2h0m0-2h0m2 4h0m0-2h0m1 3h0m0-5h0m0 0h0m0 4h0m1-2h0m0 4h0m0-4h0m1 4h0m0-1h0m0-4h0m0-1h0m0 0h0m0 6h0m1-1h0m0 0h0m0-1h0m1-2h0m0 0h0m0 4h0m0-2h0m1-2h0m0 3h0m1-1h0m0 0h0m0 2h0m1-2h0m2 2h0m0-3h0m0 2h0m0-5h0m1 0h0m0 4h0m0 1h0m0 2h0m0-1h0m0-4h0m1-1h0m1 1h0m1-1h0m0 2h0m0-1h0m0 1h0m1-2h0m0 6h0m1-5h0m0 1h0m0-2h0m0 4h0m0-3h0m1 1h0m0 2h0m2-3h0m0 3h0m0 0h0m0-5h0m0 5h0m0-2h0m0 2h0m0-4h0m1 2h0m0 3h0m0-3h0m1-3h0m1 7h0m0-4h0m1 2h0m1-5h0m0 5h0m1 0h0m0 1h0m1-4h0m0 1h0m1 4h0m0-7h0m1 1h0m1 0h0m0 2h0m1-2h0m1 2h0m0 4h0m0-5h0m1 2h0m0 2h0m0-3h0m0 4h0m1 0h0m2-5h0m0 0h0m0 5h0m1-5h0m0 1h0m0 4h0m2 0h0m1-4h0m0-1h0m0-1h0m0 0h0m1 6h0m0-4h0m0 2h0m1 2h0m0 0h0m0-4h0m0 1h0m0-4h0m1 5h0m0-1h0m1-1h0m0 1h0m0-4h0m1 6h0m1-5h0m1 2h0m0 2h0m0 1h0m0-5h0m0 3h0m0-3h0m1 0h0m1 3h0m0 0h0m0 1h0m0-2h0m0 2h0m1-5h0m0 5h0m1 0h0m0-5h0m0 4h0m0 0h0m1-4h0m-95 11h0m0 4h0m0-6h0m0 2h0m0 3h0m1-6h0m0 1h0m0-1h0m1 2h0m0-1h0m1 4h0m0-2h0m0 2h0m0-4h0m0 0h0m1 6h0m0-7h0m1 6h0m0 1h0m0-6h0m1 2h0m1-1h0m0 2h0m1-4h0m0 4h0m0-1h0m0-3h0m1 0h0m1 3h0m0 4h0m0-2h0m1-1h0m0-2h0m2 3h0m0 0h0m1 0h0m1-1h0m0-4h0m0 7h0m1-2h0m0-1h0m1 3h0m1 0h0m0-6h0m0 5h0m0-5h0m0 6h0m1-5h0m0 4h0m0-6h0m0 1h0m1 5h0m0-5h0m1 4h0m0-5h0m0 3h0m0 4h0m1-7h0m0 6h0m0-1h0m1-5h0m0 7h0m0-1h0m0 0h0m0-4h0m1-2h0m0 1h0m0 6h0m1 0h0m2-4h0m1 1h0m0-3h0m0-1h0m1 0h0m0 2h0m0 0h0m0 4h0m0-2h0m1-1h0m0 2h0m2 2h0m0-6h0m0 0h0m0 6h0m0-3h0m1-4h0m0 2h0m0 5h0m0-6h0m1 2h0m0 0h0m0 4h0m0-4h0m1 2h0m0 1h0m0-1h0m0-5h0m1 3h0m0-1h0m1 2h0m0-3h0m0 2h0m0 4h0m1-3h0m0 0h0m0 3h0m1-5h0m0 4h0m1 0h0m1-5h0m1 2h0m1 3h0m1-4h0m0-1h0m0 1h0m2 3h0m1 1h0m0-6h0m1 5h0m0-2h0m0-2h0m1 3h0m0 3h0m0 0h0m0-7h0m1 3h0m0-1h0m0 3h0m1 0h0m0-1h0m0-1h0m0 0h0m1-2h0m0 4h0m1-1h0m0 0h0m0-2h0m0 4h0m1 0h0m0-5h0m1 2h0m0 4h0m1-7h0m1 2h0m0-1h0m1 1h0m1 3h0m0-5h0m0 5h0m0 0h0m1 1h0m1 0h0m0-1h0m1 2h0m0-4h0m0-1h0m0-2h0m0 6h0m0-4h0m1 0h0m1-2h0m0 3h0m0-1h0m0-1h0m0 2h0m1-2h0m0 2h0m1 2h0m0-2h0m0 3h0m1 1h0m0-7h0m1 3h0m0 1h0m1 0h0m0 2h0m0 0h0m1 0h0m0-1h0m1-1h0m0 3h0m0-5h0m0 3h0m0 1h0m0 0h0m1 1h0m0-4h0m1 0h0m0 1h0m1 0h0m0-3h0m1 5h0m0-4h0m1 4h0m0-3h0m1 0h0m0 0h0m1 4h0m0-4h0m0-2h0m1 2h0m0-1h0m0 2h0m0 2h0m1-1h0m1-2h0m1-3h0m0 5h0m0-5h0m1 6h0m0-3h0m0 3h0m1 0h0m1-3h0m0 1h0m0-3h0m1 2h0m0 2h0m1 0h0m0-4h0m0 4h0m1-2h0m1-1h0m0 2h0m1-2h0m1 3h0m1-5h0m0 7h0m0 0h0m1-2h0m0-2h0m1-1h0m0 4h0m1-1h0m0 2h0m-96 1h0m0 5h0m1-4h0m1 6h0m0-1h0m0-4h0m0-1h0m1 5h0m0-5h0m0-1h0m0 2h0m1-2h0m0 3h0m1 2h0m1-4h0m0 5h0m0-5h0m0 6h0m1-1h0m0-5h0m1 1h0m0 5h0m0-7h0m2 7h0m0 0h0m0-5h0m1 1h0m0 2h0m1 1h0m0-3h0m0-2h0m0 0h0m0 0h0m1-1h0m0 7h0m1 0h0m0-4h0m1 3h0m2-2h0m0 1h0m0 2h0m1-2h0m1-4h0m1-1h0m1 6h0m1-3h0m0-3h0m1 6h0m0 0h0m1-5h0m0 0h0m0 0h0m0 4h0m1-1h0m0-1h0m1-3h0m0 5h0m0-4h0m1 4h0m0-2h0m0 2h0m1 1h0m0-1h0m0-3h0m2 5h0m2-1h0m0-3h0m0-3h0m1 6h0m0-3h0m0 0h0m1 3h0m0-6h0m0 6h0m1 0h0m0 0h0m1 1h0m0 0h0m1-3h0m1-1h0m0 0h0m0 4h0m1-5h0m0 5h0m1-6h0m0 3h0m0 0h0m1-2h0m0 3h0m0 0h0m1-2h0m0 0h0m0 3h0m2 1h0m0-7h0m1 4h0m1-4h0m1 5h0m0 0h0m1-2h0m0 0h0m0-1h0m0 5h0m0 0h0m1-6h0m0 1h0m0 5h0m1-6h0m0 0h0m1 5h0m1 1h0m0-1h0m0-2h0m0-4h0m0 1h0m1-1h0m0 5h0m1 1h0m0-5h0m2-1h0m0 5h0m1-1h0m0 1h0m0-3h0m0 3h0m0-5h0m1 5h0m0 1h0m0-2h0m1-2h0m1 5h0m1 0h0m0-3h0m0-4h0m1 0h0m0 1h0m1 2h0m1 2h0m0-4h0m0 4h0m1 2h0m0-2h0m0-4h0m0 4h0m1-1h0m0 0h0m0-1h0m0 3h0m2 0h0m0-3h0m0-2h0m0 1h0m0 3h0m0 1h0m1 1h0m0-7h0m0 7h0m1-1h0m0-3h0m1 4h0m0-2h0m0-4h0m1 2h0m0 3h0m0-1h0m2-2h0m0 0h0m1 4h0m0-4h0m1-1h0m0 5h0m0-2h0m1-2h0m1-1h0m1 1h0m1 4h0m1-2h0m0-2h0m0-2h0m1 2h0m1 3h0m2-1h0m1-3h0m0 3h0m0 0h0m1 1h0m0 0h0m1-5h0m0 2h0m0 3h0m1-6h0m0 7h0m1-5h0m0 1h0m1 1h0m0 0h0m1-3h0m0 2h0m0-3h0m1 1h0m0 5h0m1 0h0m0-4h0m0 3h0m1-5h0m0 3h0m0 2h0m1-5h0m-96 12h0m2-3h0m1 1h0m1-1h0m1-1h0m0 2h0m1 2h0m0-1h0m1-1h0m0 1h0m0-2h0m0 5h0m0-3h0m0 0h0m1-2h0m0 0h0m0-1h0m1 4h0m1 0h0m1 0h0m0-2h0m1 3h0m0 1h0m0-6h0m2 1h0m0 3h0m0-4h0m0 3h0m0 1h0m1 0h0m0 2h0m0-4h0m1 1h0m0-2h0m0 1h0m0-2h0m1 4h0m0-4h0m0 2h0m0 5h0m0-2h0m1-2h0m0 3h0m0-3h0m0-3h0m1 3h0m0-2h0m1 3h0m0 3h0m1-2h0m1-4h0m0 2h0m1 0h0m1-3h0m1 0h0m0 0h0m0 5h0m0-5h0m0 2h0m0 1h0m0 2h0m0 0h0m1-3h0m2-1h0m0-1h0m1 1h0m0 4h0m0 1h0m1 0h0m0-1h0m0-2h0m0 0h0m1-1h0m0 1h0m0 4h0m1-1h0m0-3h0m0-3h0m0 0h0m0 3h0m1-2h0m0 4h0m0 1h0m1-5h0m0 4h0m1-1h0m0-4h0m1 7h0m0 0h0m0-2h0m0-2h0m1 0h0m0 3h0m1-2h0m0-2h0m0-2h0m0 5h0m1-2h0m0 2h0m0-5h0m0 2h0m0 0h0m1 0h0m0 3h0m0-2h0m0 0h0m0 2h0m1-5h0m1 7h0m1-1h0m1-3h0m0 0h0m0 2h0m0-1h0m2 3h0m0-1h0m1-2h0m1 1h0m2 1h0m0-4h0m0 0h0m0-1h0m1 1h0m0-1h0m0 2h0m0 4h0m0-2h0m0 2h0m0 0h0m0-4h0m1 1h0m0-3h0m0 2h0m1 0h0m0-3h0m0 3h0m0-2h0m0 6h0m0-7h0m0 2h0m0 1h0m0 1h0m1-1h0m0 1h0m0 3h0m0-3h0m0 3h0m1-2h0m0 0h0m0-2h0m1 1h0m0 3h0m0-4h0m1 0h0m0-1h0m1 5h0m1-2h0m0-3h0m0 2h0m1 0h0m1-4h0m0 3h0m1 0h0m0 0h0m1 0h0m1-1h0m2 2h0m0-1h0m1-2h0m0 3h0m1-1h0m0-2h0m0-1h0m0 3h0m0-3h0m1 4h0m0 2h0m1-5h0m0 5h0m0-3h0m2 4h0m0-3h0m0-3h0m0 5h0m1-1h0m0 0h0m0 0h0m0 2h0m0-2h0m1 2h0m0-3h0m0 1h0m1-1h0m0 2h0m0-3h0m1-3h0m0 4h0m1 2h0m0-3h0m0 2h0m1-2h0m1 1h0m0 2h0m1-1h0m1 1h0m0-4h0m1-1h0m0 3h0m0-1h0m0 3h0m0-2h0m2-2h0m0-1h0m0 5h0m0-4h0m1 0h0m0 4h0m1-2h0m0 0h0m0-2h0m1 2h0m0 1h0m1-4h0m2 1h0m0 3h0m0 2h0m2-3h0m2-1h0m0-3h0m1 5h0m0-3h0m0 5h0m0-3h0m-95 6h0m0 5h0m1-7h0m0 0h0m1 4h0m0-4h0m0 2h0m1 2h0m0 1h0m0-2h0m0 2h0m0-2h0m0-1h0m1-1h0m2 3h0m1-2h0m1 0h0m0 0h0m0 3h0m1-3h0m0 0h0m1 4h0m1-5h0m0 0h0m1 6h0m0-6h0m1 3h0m0-3h0m1 4h0m0-3h0m0 1h0m0-2h0m0-1h0m1 7h0m0 0h0m0-2h0m0-4h0m2 3h0m0-2h0m0-2h0m0 1h0m0 0h0m2-1h0m0 1h0m1 0h0m1 4h0m1 0h0m1 0h0m0 2h0m0-2h0m0 0h0m0 1h0m1-6h0m0 1h0m1-1h0m0 6h0m1-4h0m0 1h0m0 0h0m0-2h0m1 1h0m0 3h0m0-3h0m1-1h0m0-1h0m1 7h0m1-3h0m0-1h0m1-3h0m0 0h0m1 2h0m0 4h0m0-2h0m0-1h0m1-3h0m0 1h0m0 1h0m1 4h0m1 0h0m0-6h0m1 2h0m0 5h0m1-2h0m1 1h0m1-5h0m0 0h0m0 4h0m0-5h0m1 2h0m0-2h0m1 3h0m0-1h0m2 0h0m1 1h0m0-3h0m1 7h0m0-7h0m0 2h0m0 1h0m0-3h0m1 0h0m0 3h0m0 1h0m0 3h0m1-6h0m1 6h0m0-6h0m2 3h0m1 1h0m0 0h0m2 1h0m0-2h0m0-1h0m0 4h0m0 0h0m1-2h0m0-2h0m0-3h0m0 5h0m0-2h0m1 3h0m0-4h0m0 2h0m0-3h0m0 4h0m1-2h0m0-3h0m2 7h0m1 0h0m1-1h0m0-5h0m0 6h0m2-7h0m0 2h0m1 2h0m0 3h0m1-2h0m0-5h0m0 6h0m1-3h0m2 4h0m0-7h0m1 6h0m0-3h0m0 2h0m2 0h0m0-1h0m1-4h0m0 7h0m1-5h0m0-1h0m0 4h0m0 0h0m1 1h0m1-6h0m0 4h0m1-4h0m0 5h0m1-3h0m1 3h0m0-4h0m1 6h0m0-5h0m0 4h0m0-1h0m0-4h0m1 2h0m0-2h0m1-1h0m0 7h0m0-1h0m0 1h0m1-3h0m0-3h0m1 0h0m0 1h0m0 3h0m1-5h0m1 3h0m0 3h0m1-2h0m0 3h0m1-3h0m0 1h0m0 1h0m0-2h0m1 2h0m1 0h0m0-4h0m0 0h0m2 1h0m0 1h0m0-4h0m0 6h0m1-3h0m0 3h0m1-6h0m0 5h0m1 1h0m1-2h0m0-3h0m1 6h0m0-3h0m-95 8h0m1 0h0m0 1h0m0 1h0m1-6h0m1 6h0m0-3h0m0 2h0m1 1h0m0-3h0m0 3h0m0-5h0m1 0h0m0 1h0m0 5h0m1-2h0m1 2h0m0 0h0m0-3h0m2 2h0m0 0h0m0 0h0m2-1h0m0-1h0m1 0h0m0-2h0m0 0h0m0-1h0m0 4h0m0 1h0m0-6h0m0 3h0m0 4h0m1-5h0m0 2h0m0-2h0m1 2h0m0-2h0m1 0h0m0-2h0m1 0h0m0 5h0m2-1h0m0 1h0m0-5h0m1 3h0m0 2h0m1-1h0m0 3h0m1-6h0m0 1h0m0-1h0m1 5h0m0-1h0m0 1h0m1-5h0m0 3h0m2 2h0m1-1h0m0-5h0m1 6h0m0 1h0m2-6h0m1 5h0m0-4h0m0-1h0m0 1h0m1 1h0m0 2h0m1 0h0m0-2h0m0-1h0m1 4h0m0-6h0m1 0h0m0 7h0m0-1h0m1-2h0m0-3h0m0 5h0m1-2h0m0 3h0m1-5h0m0-2h0m0 5h0m0-5h0m0 6h0m1-5h0m0-1h0m0 6h0m1-6h0m0 6h0m1-4h0m0 0h0m0 2h0m3-2h0m2-2h0m0 7h0m2-5h0m0 5h0m0-5h0m1-1h0m0 3h0m1-1h0m0-3h0m0 7h0m0-7h0m2 3h0m1-1h0m0 4h0m1 1h0m0-5h0m0 5h0m1 0h0m0-4h0m0-1h0m0 4h0m1 1h0m0-6h0m1 0h0m1 3h0m0-4h0m1 3h0m0 4h0m2-3h0m0-3h0m1 6h0m1-6h0m0 0h0m0 4h0m1-2h0m2 1h0m0-2h0m0 5h0m2-7h0m0 7h0m0-1h0m3-5h0m0 3h0m0-2h0m0-1h0m2 3h0m1-2h0m0 5h0m0-2h0m1-5h0m0 7h0m0-1h0m0 0h0m1 1h0m1-7h0m1 0h0m0 6h0m0-4h0m1 2h0m0 1h0m0 1h0m2-3h0m0 3h0m1 1h0m1-3h0m0 3h0m0-3h0m0 3h0m0-4h0m0 2h0m0 2h0m1-6h0m0 6h0m1 0h0m0-6h0m1 1h0m0 3h0m2-2h0m0 2h0m1 1h0m1-3h0m1-3h0m0 6h0m1-5h0m0 2h0m0 4h0m1-3h0m0-3h0m0 2h0m0 0h0m1-2h0m0 0h0m1 6h0m1-1h0m1 1h0m0-6h0m-96 7h0m0 5h0m3 1h0m0-3h0m0 2h0m2-3h0m0-1h0m1 5h0m0-6h0m0 3h0m0-1h0m1 1h0m0 1h0m1-4h0m1 7h0m1-7h0m1 4h0m0-4h0m0 5h0m2-4h0m0 0h0m0 4h0m1 1h0m1-3h0m0-1h0m1 1h0m1 0h0m0-2h0m1 4h0m0-1h0m1-1h0m0-2h0m0 3h0m0-4h0m4 0h0m0 7h0m0-2h0m0-5h0m0 4h0m1-1h0m0 0h0m0-3h0m1 6h0m0 1h0m1-3h0m0-3h0m0 4h0m1-1h0m0 0h0m0 0h0m1-1h0m0-2h0m1 0h0m1 1h0m0 1h0m1-3h0m0 4h0m0 0h0m0 0h0m1-2h0m1 1h0m0 1h0m1-1h0m2-1h0m0-2h0m1 1h0m1 4h0m1-2h0m0 4h0m0-3h0m0 1h0m2-5h0m1 3h0m0 2h0m0-5h0m0 3h0m1 2h0m0 2h0m0-3h0m1-4h0m1 6h0m0-2h0m0 3h0m0 0h0m1-3h0m0-2h0m0-1h0m0-1h0m0 3h0m0 1h0m0 3h0m1-3h0m1-2h0m0 5h0m1-6h0m1-1h0m0 0h0m0 5h0m0-5h0m1 7h0m0-2h0m1 2h0m1-3h0m0 0h0m1-4h0m0 6h0m0 0h0m0-6h0m1 1h0m0 2h0m0 2h0m0 2h0m0-1h0m1 0h0m1-1h0m0 1h0m0 1h0m1-7h0m0 3h0m1 1h0m1 1h0m1 2h0m1-1h0m1-2h0m1 1h0m1-2h0m1-1h0m0 0h0m1 1h0m0 3h0m0-1h0m1 1h0m0-6h0m0 5h0m1-5h0m0 4h0m2-3h0m0 2h0m0-1h0m0 5h0m1 0h0m2-3h0m1 0h0m0-3h0m0 2h0m0 1h0m1-1h0m0-3h0m1 3h0m0 0h0m2 2h0m0-2h0m1-3h0m1 6h0m0-2h0m1-3h0m0 3h0m2 2h0m0-5h0m0 1h0m1 1h0m0-2h0m1 0h0m0 5h0m0-5h0m0 4h0m1-4h0m0 4h0m0-3h0m1 3h0m0 0h0m1 2h0m1-3h0m0 0h0m1 0h0m2-3h0m3 1h0m-94 8h0m1-1h0m0 3h0m0 1h0m1-4h0m0 1h0m0 0h0m0 4h0m0-3h0m1 1h0m1-1h0m1 0h0m0 0h0m1-3h0m0 2h0m0 1h0m0 1h0m0 1h0m0-4h0m2 2h0m0 4h0m0-4h0m1-1h0m0-2h0m0 5h0m1-2h0m0-2h0m2 3h0m0 2h0m1-1h0m0-5h0m1 6h0m0 1h0m0-2h0m1-3h0m0 2h0m0-2h0m1 0h0m0-1h0m0 4h0m1 0h0m0 1h0m1-3h0m1 4h0m0-4h0m0-1h0m1 5h0m1-4h0m0-2h0m1 6h0m0-2h0m1 1h0m0 0h0m2-3h0m0-3h0m0 6h0m3-6h0m0 1h0m0-1h0m0 2h0m0 0h0m1 0h0m0-2h0m1 1h0m0 1h0m2 5h0m1-6h0m0 2h0m1-1h0m0 5h0m1-4h0m0-2h0m0 3h0m0-4h0m1 3h0m0-3h0m0 4h0m2-3h0m0 5h0m0-4h0m0 4h0m1-4h0m1-2h0m0 5h0m0-4h0m0 6h0m2-4h0m0-2h0m1 1h0m0 0h0m0 0h0m1 5h0m0-2h0m1-5h0m2 4h0m1-1h0m0-1h0m0 3h0m0 1h0m0-1h0m1 0h0m1-4h0m2 3h0m0-1h0m0-3h0m0 3h0m0 1h0m0 1h0m1-2h0m1-3h0m0 4h0m0-1h0m0-3h0m1 7h0m0-3h0m0 0h0m0-4h0m1 5h0m1-2h0m0 3h0m0-5h0m1 4h0m1 1h0m0-4h0m1 4h0m0-6h0m1 3h0m0 4h0m1-2h0m0 1h0m0-4h0m2-1h0m0 1h0m0 0h0m1 3h0m0-3h0m1 3h0m0-4h0m0 0h0m1 3h0m0 3h0m1-7h0m2 6h0m0-3h0m1-1h0m0 5h0m0-4h0m0-1h0m2 3h0m1 1h0m1-6h0m0 5h0m0-4h0m1 2h0m0-3h0m1 3h0m0 1h0m1-3h0m2 6h0m0-3h0m0 1h0m0-2h0m0 0h0m1-2h0m1 0h0m0 5h0m1-4h0m1-1h0m0 3h0m1-4h0m0 5h0m0-3h0m0 1h0m1 0h0m1-2h0m0-1h0m2 3h0m1 2h0m1-1h0m1-2h0m0 2h0m1-2h0m0-2h0m0 2h0m-94 8h0m0 1h0m2-1h0m0 0h0m0-2h0m0 0h0m1 5h0m1-5h0m1 3h0m0-2h0m3-1h0m1 5h0m0-1h0m1 2h0m2-5h0m2-1h0m1 5h0m3-5h0m0 0h0m0 6h0m1 0h0m2-2h0m2-3h0m1 1h0m1 1h0m3-2h0m3 0h0m1 2h0m1-3h0m1 2h0m2-2h0m1 4h0m3-4h0m0 4h0m1-4h0m0 1h0m0-1h0m2 6h0m0-5h0m4 2h0m1-2h0m0 4h0m0-2h0m1 1h0m0-2h0m1 1h0m0 3h0m1-2h0m1-2h0m0 3h0m2-5h0m1 3h0m3-1h0m0-2h0m1 7h0m1-5h0m2-2h0m1 4h0m0-1h0m6-2h0m0 0h0m1 5h0m2-1h0m2-5h0m0 1h0m1 3h0m0-2h0m3-2h0m0 1h0m1 4h0m2-1h0m2 2h0m3-2h0m1-2h0m1-1h0m0-1h0m5 0h0m1 0h0m-90 8h0m2 1h0m2 6h0m4-6h0m11 4h0m1-3h0m4 1h0m5-3h0m2 4h0m5-4h0m2 5h0m0 1h0m6-1h0m4-5h0m19 6h0m1-4h0m2-1h0m1 6h0m1-6h0m-75 8h0m29-1h0" stroke="#0a0a0a" stroke-width="4.90" stroke-linecap="round" fill="none"/>
<circle cx="1274.0" cy="784.7" r="2.2" fill="#0a0a0a"/>
<circle cx="1348.5" cy="830.1" r="2.2" fill="#0a0a0a"/>
<circle cx="1287.0" cy="852.8" r="2.2" fill="#0a0a0a"/>
<circle cx="1279.0" cy="871.7" r="2.2" fill="#0a0a0a"/>
<circle cx="1343.0" cy="860.4" r="2.2" fill="#0a0a0a"/>
<circle cx="1358.0" cy="864.2" r="2.2" fill="#0a0a0a"/>
<circle cx="1363.0" cy="871.7" r="2.2" fill="#0a0a0a"/>
<circle cx="1364.0" cy="883.1" r="2.2" fill="#0a0a0a"/>
<circle cx="1340.0" cy="879.3" r="2.2" fill="#0a0a0a"/>
<circle cx="1446.0" cy="947.4" r="2.2" fill="#0a0a0a"/>
<circle cx="1480.0" cy="947.4" r="2.2" fill="#0a0a0a"/>
<circle cx="1458.0" cy="966.4" r="2.2" fill="#0a0a0a"/>
<circle cx="1477.0" cy="973.9" r="2.2" fill="#0a0a0a"/>
<line x1="1264.0" y1="1208.6" x2="1373.0" y2="1208.6" stroke="#0c0c0c" stroke-width="5.20" stroke-linecap="round"/>
<line x1="1383.0" y1="1208.6" x2="1494.0" y2="1208.6" stroke="#0c0c0c" stroke-width="5.20" stroke-linecap="round"/>
<line x1="1246.8" y1="761.4" x2="1246.8" y2="1232.5" stroke="#111" stroke-width="4.00"/>
<line x1="1245.0" y1="1230.8" x2="1512.0" y2="1230.8" stroke="#111" stroke-width="4.00"/>
<line x1="1241.0" y1="905.8" x2="1247.0" y2="905.8" stroke="#111" stroke-width="2.00"/>
<text x="1237.5" y="910.8" font-size="14.0" text-anchor="end" fill="#1a1a1a" stroke="#1a1a1a" stroke-width="0.35">4</text>
<line x1="1241.0" y1="1057.2" x2="1247.0" y2="1057.2" stroke="#111" stroke-width="2.00"/>
<text x="1237.5" y="1062.2" font-size="14.0" text-anchor="end" fill="#1a1a1a" stroke="#1a1a1a" stroke-width="0.35">2</text>
<line x1="1241.0" y1="1208.6" x2="1247.0" y2="1208.6" stroke="#111" stroke-width="2.00"/>
<text x="1237.5" y="1213.6" font-size="14.0" text-anchor="end" fill="#1a1a1a" stroke="#1a1a1a" stroke-width="0.35">0</text>
<line x1="1318.4" y1="1230.0" x2="1318.4" y2="1235.5" stroke="#111" stroke-width="3.00"/>
<line x1="1439.0" y1="1230.0" x2="1439.0" y2="1235.5" stroke="#111" stroke-width="3.00"/>
<text x="1299.6" y="1283.6" font-size="29.8" text-anchor="middle" font-style="italic" fill="#111">Kdm6a</text>
<text x="1298.0" y="1319.5" font-size="30.3" text-anchor="middle" fill="#111">-WT</text>
<text x="1453.7" y="1283.6" font-size="29.8" text-anchor="middle" font-style="italic" fill="#111">Kdm6a</text>
<text x="1453.5" y="1319.5" font-size="30.3" text-anchor="middle" fill="#111">-Mutant</text>
<text x="0" y="0" font-size="30.0" text-anchor="middle" fill="#111" textLength="228.0" lengthAdjust="spacingAndGlyphs" transform="translate(1212.0 954.4) rotate(-90)">Expression Level</text>
<text x="460.0" y="1529.4" font-size="26.4" text-anchor="start" fill="#161616">Peak Intensity</text>
<line x1="448.0" y1="1535.3" x2="647.7" y2="1535.3" stroke="#161616" stroke-width="2.00"/>
<text x="665.0" y="1508.0" font-size="26.3" text-anchor="start" font-weight="bold" fill="#111">chr5</text>
<line x1="679.5" y1="1528.0" x2="1376.8" y2="1528.0" stroke="#161616" stroke-width="2.00"/>
<line x1="734.5" y1="1515.0" x2="734.5" y2="1528.0" stroke="#161616" stroke-width="1.80"/>
<line x1="814.7" y1="1515.0" x2="814.7" y2="1528.0" stroke="#161616" stroke-width="1.80"/>
<line x1="895.9" y1="1515.0" x2="895.9" y2="1528.0" stroke="#161616" stroke-width="1.80"/>
<line x1="977.0" y1="1515.0" x2="977.0" y2="1528.0" stroke="#161616" stroke-width="1.80"/>
<line x1="1057.7" y1="1515.0" x2="1057.7" y2="1528.0" stroke="#161616" stroke-width="1.80"/>
<line x1="1138.4" y1="1515.0" x2="1138.4" y2="1528.0" stroke="#161616" stroke-width="1.80"/>
<line x1="1219.0" y1="1515.0" x2="1219.0" y2="1528.0" stroke="#161616" stroke-width="1.80"/>
<line x1="1300.8" y1="1515.0" x2="1300.8" y2="1528.0" stroke="#161616" stroke-width="1.80"/>
<text x="855.0" y="1507.0" font-size="26.4" text-anchor="start" fill="#161616" textLength="116.0" lengthAdjust="spacingAndGlyphs">61,817 kb</text>
<text x="1179.0" y="1507.0" font-size="26.4" text-anchor="start" fill="#161616" textLength="116.6" lengthAdjust="spacingAndGlyphs">61,819 kb</text>
<line x1="671.8" y1="1551.6" x2="671.8" y2="1599.6" stroke="#161616" stroke-width="2.40" stroke-linecap="round"/>
<text x="660.3" y="1566.1" font-size="26.0" text-anchor="end" fill="#161616">4</text>
<text x="660.3" y="1597.8" font-size="26.0" text-anchor="end" fill="#161616">0</text>
<line x1="671.8" y1="1604.3" x2="671.8" y2="1652.8" stroke="#161616" stroke-width="2.40" stroke-linecap="round"/>
<text x="660.3" y="1621.5" font-size="26.0" text-anchor="end" fill="#161616">4</text>
<text x="660.3" y="1653.2" font-size="26.0" text-anchor="end" fill="#161616">0</text>
<line x1="671.8" y1="1659.3" x2="671.8" y2="1707.8" stroke="#161616" stroke-width="2.40" stroke-linecap="round"/>
<text x="660.3" y="1679.8" font-size="26.0" text-anchor="end" fill="#161616">4</text>
<text x="660.3" y="1712.0" font-size="26.0" text-anchor="end" fill="#161616">0</text>
<line x1="671.8" y1="1715.7" x2="671.8" y2="1763.7" stroke="#161616" stroke-width="2.40" stroke-linecap="round"/>
<text x="660.3" y="1737.6" font-size="26.0" text-anchor="end" fill="#161616">4</text>
<text x="660.3" y="1765.5" font-size="26.0" text-anchor="end" fill="#161616">0</text>
<text x="635" y="1591.0" font-size="26" text-anchor="end" fill="#161616"><tspan font-style="italic">Kdm6a</tspan><tspan font-size="16" dy="-9">WT</tspan></text>
<text x="635" y="1644.0" font-size="26" text-anchor="end" fill="#161616"><tspan font-style="italic">Kdm6a</tspan><tspan font-size="16" dy="-9">Mutant</tspan><tspan dy="9">ASCL1</tspan><tspan font-size="16" dy="-9">Only</tspan></text>
<text x="635" y="1684.0" font-size="26" text-anchor="end" fill="#161616"><tspan font-style="italic">Kdm6a</tspan><tspan font-size="16" dy="-9">Mutant</tspan></text>
<text x="635" y="1717.0" font-size="26" text-anchor="end" fill="#161616"><tspan>ASCL1</tspan><tspan font-size="16" dy="-9">High</tspan><tspan dy="9">NEUROD1</tspan><tspan font-size="16" dy="-9">Low</tspan></text>
<text x="635" y="1755.0" font-size="26" text-anchor="end" fill="#161616"><tspan font-style="italic">Kdm6a</tspan><tspan font-size="16" dy="-9">Mutant</tspan><tspan dy="9">NEUROD1</tspan><tspan font-size="16" dy="-9">Only</tspan></text>
<path d="M679.5 1599.5V1599.5H681.5V1599.4H683.5V1599.3H685.5V1599.2H687.5V1599.1H689.5V1599.0H691.5V1598.9H693.5V1598.8H695.5V1598.7H697.5V1598.6H699.5V1598.5H701.5V1598.4H703.5V1597.9H705.5V1597.4H707.5V1596.9H709.5V1596.3H711.5V1596.1H713.5V1595.5H715.5V1596.1H717.5V1595.0H719.5V1593.6H721.5V1593.2H723.5V1592.0H725.5V1592.4H727.5V1591.1H729.5V1590.8H731.5V1589.5H733.5V1588.8H735.5V1589.2H737.5V1588.3H739.5V1588.3H741.5V1587.2H743.5V1587.6H745.5V1589.1H747.5V1588.7H749.5V1590.7H751.5V1590.7H753.5V1592.3H755.5V1593.3H757.5V1593.1H759.5V1595.0H761.5V1596.1H763.5V1596.1H765.5V1596.6H767.5V1597.6H769.5V1596.9H771.5V1597.2H773.5V1596.9H775.5V1597.2H777.5V1596.4H779.5V1596.5H781.5V1596.0H783.5V1596.0H785.5V1596.4H787.5V1596.1H789.5V1596.2H791.5V1596.0H793.5V1595.9H795.5V1595.4H797.5V1594.9H799.5V1595.3H801.5V1594.0H803.5V1594.0H805.5V1593.6H807.5V1592.4H809.5V1592.4H811.5V1592.2H813.5V1591.5H815.5V1590.6H817.5V1591.1H819.5V1589.0H821.5V1590.2H823.5V1588.3H825.5V1587.6H827.5V1588.7H829.5V1586.6H831.5V1587.2H833.5V1586.5H835.5V1587.4H837.5V1587.1H839.5V1586.5H841.5V1584.6H843.5V1586.0H845.5V1584.4H847.5V1583.3H849.5V1582.7H851.5V1583.5H853.5V1582.9H855.5V1582.0H857.5V1581.5H859.5V1583.5H861.5V1582.0H863.5V1582.1H865.5V1582.2H867.5V1584.3H869.5V1582.1H871.5V1584.3H873.5V1583.7H875.5V1583.1H877.5V1582.4H879.5V1583.9H881.5V1582.4H883.5V1583.1H885.5V1583.4H887.5V1583.0H889.5V1583.1H891.5V1583.2H893.5V1583.4H895.5V1582.4H897.5V1582.1H899.5V1584.5H901.5V1585.2H903.5V1583.3H905.5V1584.8H907.5V1585.5H909.5V1586.3H911.5V1585.9H913.5V1585.8H915.5V1587.0H917.5V1587.5H919.5V1588.7H921.5V1587.5H923.5V1589.7H925.5V1589.3H927.5V1589.2H929.5V1591.2H931.5V1590.9H933.5V1591.3H935.5V1592.5H937.5V1592.9H939.5V1594.3H941.5V1594.2H943.5V1595.0H945.5V1594.5H947.5V1595.6H949.5V1595.5H951.5V1595.0H953.5V1595.3H955.5V1595.2H957.5V1595.9H959.5V1596.0H961.5V1595.8H963.5V1596.2H965.5V1596.5H967.5V1596.5H969.5V1597.1H971.5V1597.5H973.5V1597.5H975.5V1598.0H977.5V1598.1H979.5V1598.1H981.5V1598.2H983.5V1598.2H985.5V1598.3H987.5V1598.3H989.5V1598.4H991.5V1598.4H993.5V1598.5H995.5V1598.5H997.5V1598.5H999.5V1598.6H1001.5V1598.6H1003.5V1598.7H1005.5V1598.7H1007.5V1598.7H1009.5V1598.8H1011.5V1598.8H1013.5V1598.9H1015.5V1598.9H1017.5V1598.9H1019.5V1599.0H1021.5V1599.0H1023.5V1598.9H1025.5V1598.9H1027.5V1598.9H1029.5V1598.8H1031.5V1598.8H1033.5V1598.8H1035.5V1598.8H1037.5V1598.7H1039.5V1598.7H1041.5V1598.7H1043.5V1598.6H1045.5V1598.6H1047.5V1598.6H1049.5V1598.6H1051.5V1598.5H1053.5V1598.5H1055.5V1598.5H1057.5V1598.4H1059.5V1598.3H1061.5V1598.3H1063.5V1598.2H1065.5V1598.1H1067.5V1598.1H1069.5V1598.0H1071.5V1597.5H1073.5V1597.7H1075.5V1597.8H1077.5V1597.8H1079.5V1598.0H1081.5V1597.7H1083.5V1597.2H1085.5V1597.0H1087.5V1597.4H1089.5V1596.9H1091.5V1596.9H1093.5V1596.9H1095.5V1596.8H1097.5V1596.6H1099.5V1596.9H1101.5V1596.4H1103.5V1596.8H1105.5V1596.4H1107.5V1596.0H1109.5V1596.0H1111.5V1596.3H1113.5V1595.4H1115.5V1595.6H1117.5V1595.6H1119.5V1596.1H1121.5V1595.4H1123.5V1595.5H1125.5V1594.8H1127.5V1594.8H1129.5V1594.0H1131.5V1594.0H1133.5V1593.5H1135.5V1593.9H1137.5V1593.2H1139.5V1592.8H1141.5V1592.5H1143.5V1593.0H1145.5V1592.1H1147.5V1591.8H1149.5V1591.9H1151.5V1591.2H1153.5V1591.1H1155.5V1591.5H1157.5V1591.3H1159.5V1591.7H1161.5V1590.4H1163.5V1590.0H1165.5V1590.6H1167.5V1590.0H1169.5V1590.0H1171.5V1590.1H1173.5V1591.3H1175.5V1590.5H1177.5V1591.0H1179.5V1591.1H1181.5V1592.0H1183.5V1592.2H1185.5V1592.5H1187.5V1593.2H1189.5V1593.6H1191.5V1595.0H1193.5V1595.3H1195.5V1595.5H1197.5V1595.7H1199.5V1596.7H1201.5V1596.2H1203.5V1596.1H1205.5V1596.7H1207.5V1596.2H1209.5V1596.4H1211.5V1596.5H1213.5V1596.4H1215.5V1596.1H1217.5V1596.2H1219.5V1596.1H1221.5V1596.3H1223.5V1595.7H1225.5V1595.8H1227.5V1595.5H1229.5V1595.4H1231.5V1595.8H1233.5V1595.0H1235.5V1596.0H1237.5V1595.4H1239.5V1595.4H1241.5V1595.2H1243.5V1595.5H1245.5V1594.5H1247.5V1594.9H1249.5V1595.3H1251.5V1594.4H1253.5V1595.0H1255.5V1594.3H1257.5V1594.5H1259.5V1594.1H1261.5V1593.5H1263.5V1593.6H1265.5V1594.0H1267.5V1593.4H1269.5V1593.5H1271.5V1593.8H1273.5V1594.0H1275.5V1593.3H1277.5V1593.2H1279.5V1592.5H1281.5V1592.3H1283.5V1592.7H1285.5V1592.9H1287.5V1591.9H1289.5V1593.1H1291.5V1592.8H1293.5V1592.0H1295.5V1591.7H1297.5V1592.4H1299.5V1591.7H1301.5V1591.3H1303.5V1592.2H1305.5V1592.2H1307.5V1592.5H1309.5V1592.5H1311.5V1591.6H1313.5V1592.5H1315.5V1591.8H1317.5V1592.0H1319.5V1592.6H1321.5V1593.2H1323.5V1592.3H1325.5V1593.2H1327.5V1593.4H1329.5V1593.7H1331.5V1593.0H1333.5V1593.9H1335.5V1594.4H1337.5V1594.3H1339.5V1595.0H1341.5V1594.5H1343.5V1594.9H1345.5V1595.3H1347.5V1594.9H1349.5V1595.2H1351.5V1596.4H1353.5V1596.2H1355.5V1596.8H1357.5V1596.4H1359.5V1596.9H1361.5V1597.8H1363.5V1598.1H1365.5V1598.1H1367.5V1598.4H1369.5V1598.6H1371.5V1598.9H1373.5V1599.1H1375.5V1599.3H1376.9V1599.5 Z" fill="#2142ea" stroke="#2142ea" stroke-width="0.6"/>
<line x1="679.5" y1="1599.3" x2="1376.9" y2="1599.3" stroke="#2142ea" stroke-width="2.00"/>
<path d="M679.5 1653.5V1653.5H681.5V1653.4H683.5V1653.5 Z" fill="#4aea2c" stroke="#4aea2c" stroke-width="0.6"/>
<line x1="679.5" y1="1653.3" x2="683.5" y2="1653.3" stroke="#4aea2c" stroke-width="2.00"/>
<path d="M691.5 1653.5V1652.8H693.5V1652.5H695.5V1652.2H697.5V1652.2H699.5V1651.2H701.5V1651.5H703.5V1650.9H705.5V1650.8H707.5V1650.3H709.5V1650.0H711.5V1649.5H713.5V1649.7H715.5V1648.4H717.5V1648.5H719.5V1647.6H721.5V1647.4H723.5V1646.9H725.5V1646.0H727.5V1645.5H729.5V1644.8H731.5V1643.2H733.5V1642.5H735.5V1642.7H737.5V1641.7H739.5V1641.5H741.5V1640.9H743.5V1641.2H745.5V1642.4H747.5V1644.1H749.5V1643.6H751.5V1645.0H753.5V1645.5H755.5V1646.2H757.5V1647.2H759.5V1648.4H761.5V1648.8H763.5V1650.1H765.5V1650.2H767.5V1650.0H769.5V1650.8H771.5V1650.9H773.5V1650.5H775.5V1651.1H777.5V1650.1H779.5V1650.0H781.5V1650.1H783.5V1650.1H785.5V1649.3H787.5V1649.0H789.5V1649.7H791.5V1649.1H793.5V1648.8H795.5V1648.4H797.5V1648.3H799.5V1648.1H801.5V1647.1H803.5V1646.4H805.5V1647.1H807.5V1646.5H809.5V1645.1H811.5V1644.8H813.5V1644.6H815.5V1645.2H817.5V1643.5H819.5V1642.6H821.5V1642.1H823.5V1642.1H825.5V1642.9H827.5V1640.9H829.5V1641.7H831.5V1640.6H833.5V1639.8H835.5V1640.1H837.5V1641.1H839.5V1640.6H841.5V1639.0H843.5V1640.5H845.5V1639.2H847.5V1639.1H849.5V1639.2H851.5V1637.7H853.5V1638.6H855.5V1638.0H857.5V1637.4H859.5V1638.3H861.5V1638.4H863.5V1637.2H865.5V1636.9H867.5V1636.7H869.5V1638.6H871.5V1638.0H873.5V1638.4H875.5V1637.8H877.5V1637.7H879.5V1636.2H881.5V1637.2H883.5V1637.6H885.5V1635.6H887.5V1637.2H889.5V1636.5H891.5V1637.3H893.5V1636.8H895.5V1638.2H897.5V1638.4H899.5V1639.5H901.5V1639.1H903.5V1640.0H905.5V1639.1H907.5V1639.9H909.5V1641.0H911.5V1641.0H913.5V1641.0H915.5V1640.5H917.5V1641.9H919.5V1641.3H921.5V1641.9H923.5V1643.4H925.5V1642.8H927.5V1644.3H929.5V1644.7H931.5V1644.4H933.5V1645.3H935.5V1644.5H937.5V1645.4H939.5V1645.9H941.5V1645.5H943.5V1646.9H945.5V1646.1H947.5V1647.4H949.5V1647.4H951.5V1646.5H953.5V1647.1H955.5V1647.9H957.5V1648.3H959.5V1647.3H961.5V1647.9H963.5V1647.9H965.5V1649.0H967.5V1648.6H969.5V1649.1H971.5V1649.4H973.5V1649.4H975.5V1649.3H977.5V1649.7H979.5V1649.9H981.5V1650.3H983.5V1649.7H985.5V1650.0H987.5V1650.0H989.5V1650.6H991.5V1650.3H993.5V1650.8H995.5V1650.9H997.5V1651.0H999.5V1651.0H1001.5V1651.4H1003.5V1651.8H1005.5V1652.0H1007.5V1652.0H1009.5V1652.2H1011.5V1651.6H1013.5V1652.1H1015.5V1652.2H1017.5V1652.3H1019.5V1652.4H1021.5V1652.4H1023.5V1652.4H1025.5V1652.4H1027.5V1652.4H1029.5V1652.4H1031.5V1652.4H1033.5V1652.4H1035.5V1652.4H1037.5V1652.4H1039.5V1652.4H1041.5V1652.4H1043.5V1652.4H1045.5V1652.4H1047.5V1652.4H1049.5V1652.4H1051.5V1652.4H1053.5V1652.4H1055.5V1652.4H1057.5V1652.4H1059.5V1652.3H1061.5V1652.2H1063.5V1652.2H1065.5V1652.1H1067.5V1652.0H1069.5V1652.0H1071.5V1651.9H1073.5V1651.5H1075.5V1652.0H1077.5V1651.4H1079.5V1650.9H1081.5V1651.0H1083.5V1651.0H1085.5V1650.8H1087.5V1651.0H1089.5V1650.8H1091.5V1650.6H1093.5V1650.3H1095.5V1650.1H1097.5V1649.4H1099.5V1650.1H1101.5V1649.9H1103.5V1649.7H1105.5V1649.7H1107.5V1649.5H1109.5V1649.4H1111.5V1649.0H1113.5V1649.4H1115.5V1648.2H1117.5V1648.8H1119.5V1647.9H1121.5V1648.1H1123.5V1648.0H1125.5V1648.1H1127.5V1647.3H1129.5V1648.3H1131.5V1647.4H1133.5V1647.7H1135.5V1647.0H1137.5V1646.8H1139.5V1647.4H1141.5V1647.2H1143.5V1647.3H1145.5V1646.9H1147.5V1646.9H1149.5V1646.3H1151.5V1645.3H1153.5V1646.1H1155.5V1646.0H1157.5V1645.6H1159.5V1645.8H1161.5V1644.9H1163.5V1644.8H1165.5V1645.5H1167.5V1645.2H1169.5V1644.5H1171.5V1644.1H1173.5V1644.7H1175.5V1645.2H1177.5V1644.4H1179.5V1646.1H1181.5V1646.3H1183.5V1645.6H1185.5V1646.5H1187.5V1647.3H1189.5V1646.9H1191.5V1646.6H1193.5V1647.6H1195.5V1648.1H1197.5V1648.6H1199.5V1648.7H1201.5V1647.8H1203.5V1648.5H1205.5V1648.1H1207.5V1649.3H1209.5V1649.2H1211.5V1649.6H1213.5V1649.4H1215.5V1649.8H1217.5V1649.6H1219.5V1649.3H1221.5V1649.4H1223.5V1649.7H1225.5V1649.6H1227.5V1648.5H1229.5V1649.4H1231.5V1648.9H1233.5V1649.0H1235.5V1648.8H1237.5V1649.2H1239.5V1648.9H1241.5V1649.0H1243.5V1648.4H1245.5V1647.8H1247.5V1648.1H1249.5V1647.7H1251.5V1648.4H1253.5V1648.6H1255.5V1647.8H1257.5V1647.7H1259.5V1647.5H1261.5V1647.7H1263.5V1647.3H1265.5V1647.0H1267.5V1646.7H1269.5V1647.4H1271.5V1647.1H1273.5V1646.5H1275.5V1647.2H1277.5V1647.3H1279.5V1646.8H1281.5V1647.0H1283.5V1645.8H1285.5V1645.6H1287.5V1646.2H1289.5V1646.3H1291.5V1646.2H1293.5V1645.8H1295.5V1645.9H1297.5V1645.2H1299.5V1644.8H1301.5V1645.2H1303.5V1645.5H1305.5V1644.6H1307.5V1645.8H1309.5V1645.7H1311.5V1645.7H1313.5V1645.7H1315.5V1646.2H1317.5V1645.9H1319.5V1646.3H1321.5V1645.8H1323.5V1646.4H1325.5V1646.1H1327.5V1646.7H1329.5V1646.9H1331.5V1647.4H1333.5V1647.8H1335.5V1647.6H1337.5V1648.0H1339.5V1647.9H1341.5V1648.5H1343.5V1648.9H1345.5V1649.7H1347.5V1649.3H1349.5V1650.1H1351.5V1650.7H1353.5V1651.0H1355.5V1651.2H1357.5V1651.4H1359.5V1651.3H1361.5V1651.9H1363.5V1652.3H1365.5V1652.2H1367.5V1652.4H1369.5V1652.6H1371.5V1652.8H1373.5V1653.1H1375.5V1653.3H1376.9V1653.5 Z" fill="#4aea2c" stroke="#4aea2c" stroke-width="0.6"/>
<line x1="691.5" y1="1653.3" x2="1376.9" y2="1653.3" stroke="#4aea2c" stroke-width="2.00"/>
<path d="M679.5 1707.9V1707.9H681.5V1707.8H683.5V1707.6H685.5V1707.5H687.5V1707.4H689.5V1707.2H691.5V1707.1H693.5V1706.9H695.5V1706.8H697.5V1706.6H699.5V1706.5H701.5V1706.0H703.5V1705.7H705.5V1705.7H707.5V1705.2H709.5V1704.6H711.5V1703.8H713.5V1702.6H715.5V1702.0H717.5V1701.5H719.5V1700.9H721.5V1699.4H723.5V1698.3H725.5V1697.2H727.5V1696.9H729.5V1695.2H731.5V1694.2H733.5V1693.9H735.5V1694.8H737.5V1693.5H739.5V1694.6H741.5V1693.7H743.5V1694.6H745.5V1693.9H747.5V1694.5H749.5V1696.9H751.5V1697.5H753.5V1697.4H755.5V1699.2H757.5V1700.3H759.5V1701.0H761.5V1701.2H763.5V1701.7H765.5V1702.9H767.5V1703.1H769.5V1703.5H771.5V1703.9H773.5V1702.9H775.5V1703.2H777.5V1703.4H779.5V1702.0H781.5V1703.1H783.5V1702.1H785.5V1701.9H787.5V1701.0H789.5V1701.4H791.5V1701.3H793.5V1700.9H795.5V1700.7H797.5V1699.8H799.5V1699.5H801.5V1697.9H803.5V1697.8H805.5V1696.6H807.5V1695.8H809.5V1693.3H811.5V1692.5H813.5V1691.5H815.5V1691.0H817.5V1690.6H819.5V1690.3H821.5V1687.4H823.5V1687.3H825.5V1688.1H827.5V1687.4H829.5V1687.4H831.5V1685.2H833.5V1684.4H835.5V1686.3H837.5V1684.2H839.5V1685.4H841.5V1683.9H843.5V1682.9H845.5V1683.3H847.5V1682.2H849.5V1683.3H851.5V1684.2H853.5V1682.0H855.5V1681.4H857.5V1683.0H859.5V1682.4H861.5V1682.8H863.5V1683.9H865.5V1683.1H867.5V1682.9H869.5V1682.7H871.5V1682.0H873.5V1683.0H875.5V1680.9H877.5V1681.4H879.5V1681.0H881.5V1681.7H883.5V1681.7H885.5V1682.1H887.5V1680.7H889.5V1681.6H891.5V1680.1H893.5V1679.1H895.5V1680.3H897.5V1681.9H899.5V1683.4H901.5V1684.2H903.5V1684.0H905.5V1684.1H907.5V1684.3H909.5V1685.1H911.5V1687.1H913.5V1685.9H915.5V1688.6H917.5V1688.0H919.5V1690.5H921.5V1689.3H923.5V1690.3H925.5V1690.3H927.5V1691.2H929.5V1692.8H931.5V1693.6H933.5V1695.0H935.5V1696.3H937.5V1698.2H939.5V1698.1H941.5V1698.0H943.5V1699.6H945.5V1698.9H947.5V1700.1H949.5V1700.6H951.5V1701.3H953.5V1701.0H955.5V1701.5H957.5V1701.0H959.5V1700.8H961.5V1701.0H963.5V1701.6H965.5V1702.1H967.5V1702.7H969.5V1702.1H971.5V1702.5H973.5V1702.4H975.5V1703.0H977.5V1702.5H979.5V1703.5H981.5V1703.6H983.5V1703.8H985.5V1703.5H987.5V1703.3H989.5V1704.3H991.5V1704.0H993.5V1704.0H995.5V1704.7H997.5V1705.0H999.5V1704.6H1001.5V1704.4H1003.5V1704.5H1005.5V1704.8H1007.5V1705.2H1009.5V1705.3H1011.5V1705.3H1013.5V1705.1H1015.5V1705.8H1017.5V1705.9H1019.5V1705.8H1021.5V1705.4H1023.5V1706.2H1025.5V1706.3H1027.5V1706.2H1029.5V1705.8H1031.5V1705.8H1033.5V1706.2H1035.5V1706.2H1037.5V1705.8H1039.5V1705.7H1041.5V1705.7H1043.5V1705.7H1045.5V1706.3H1047.5V1705.9H1049.5V1705.6H1051.5V1705.4H1053.5V1706.0H1055.5V1705.5H1057.5V1705.5H1059.5V1705.1H1061.5V1705.6H1063.5V1704.9H1065.5V1704.5H1067.5V1704.7H1069.5V1704.9H1071.5V1704.6H1073.5V1704.5H1075.5V1704.4H1077.5V1704.2H1079.5V1703.5H1081.5V1704.0H1083.5V1703.0H1085.5V1702.9H1087.5V1702.6H1089.5V1702.5H1091.5V1702.4H1093.5V1702.0H1095.5V1701.8H1097.5V1702.0H1099.5V1701.4H1101.5V1702.3H1103.5V1702.2H1105.5V1702.0H1107.5V1701.6H1109.5V1701.2H1111.5V1700.9H1113.5V1700.3H1115.5V1700.0H1117.5V1700.8H1119.5V1700.2H1121.5V1699.7H1123.5V1699.8H1125.5V1699.9H1127.5V1698.8H1129.5V1698.9H1131.5V1698.1H1133.5V1698.2H1135.5V1697.0H1137.5V1696.8H1139.5V1698.1H1141.5V1696.5H1143.5V1696.3H1145.5V1696.9H1147.5V1697.0H1149.5V1696.1H1151.5V1696.2H1153.5V1695.4H1155.5V1694.9H1157.5V1695.9H1159.5V1696.0H1161.5V1695.4H1163.5V1694.9H1165.5V1694.6H1167.5V1695.0H1169.5V1695.6H1171.5V1695.9H1173.5V1695.2H1175.5V1696.2H1177.5V1697.4H1179.5V1697.0H1181.5V1697.7H1183.5V1697.2H1185.5V1698.6H1187.5V1698.4H1189.5V1698.9H1191.5V1698.4H1193.5V1697.7H1195.5V1698.7H1197.5V1699.2H1199.5V1698.5H1201.5V1700.1H1203.5V1699.8H1205.5V1699.2H1207.5V1700.4H1209.5V1699.2H1211.5V1699.8H1213.5V1700.3H1215.5V1699.8H1217.5V1699.5H1219.5V1699.5H1221.5V1699.3H1223.5V1700.0H1225.5V1699.6H1227.5V1698.2H1229.5V1698.9H1231.5V1698.7H1233.5V1699.2H1235.5V1698.8H1237.5V1697.4H1239.5V1697.7H1241.5V1697.9H1243.5V1698.5H1245.5V1697.8H1247.5V1696.9H1249.5V1697.4H1251.5V1696.9H1253.5V1696.2H1255.5V1696.6H1257.5V1696.5H1259.5V1697.5H1261.5V1697.4H1263.5V1695.8H1265.5V1696.4H1267.5V1695.4H1269.5V1695.4H1271.5V1695.1H1273.5V1696.0H1275.5V1694.6H1277.5V1695.0H1279.5V1694.6H1281.5V1696.0H1283.5V1694.6H1285.5V1695.2H1287.5V1693.9H1289.5V1693.8H1291.5V1695.3H1293.5V1694.7H1295.5V1695.0H1297.5V1694.4H1299.5V1694.7H1301.5V1693.7H1303.5V1695.0H1305.5V1695.2H1307.5V1694.8H1309.5V1695.9H1311.5V1695.5H1313.5V1694.7H1315.5V1695.0H1317.5V1696.7H1319.5V1697.3H1321.5V1695.9H1323.5V1695.9H1325.5V1696.9H1327.5V1698.0H1329.5V1698.1H1331.5V1697.1H1333.5V1697.3H1335.5V1699.1H1337.5V1699.1H1339.5V1699.1H1341.5V1699.9H1343.5V1699.6H1345.5V1700.7H1347.5V1700.6H1349.5V1702.0H1351.5V1702.0H1353.5V1701.9H1355.5V1702.7H1357.5V1704.0H1359.5V1704.4H1361.5V1704.3H1363.5V1705.0H1365.5V1705.5H1367.5V1705.8H1369.5V1706.2H1371.5V1706.7H1373.5V1707.2H1375.5V1707.6H1376.9V1707.9 Z" fill="#f44c6e" stroke="#f44c6e" stroke-width="0.6"/>
<line x1="679.5" y1="1707.7" x2="1376.9" y2="1707.7" stroke="#f44c6e" stroke-width="2.00"/>
<path d="M679.5 1761.9V1761.9H681.5V1761.8H683.5V1761.7H685.5V1761.6H687.5V1761.5H689.5V1761.4H691.5V1761.3H693.5V1761.2H695.5V1761.1H697.5V1761.0H699.5V1760.9H701.5V1760.8H703.5V1760.0H705.5V1760.2H707.5V1759.5H709.5V1759.4H711.5V1758.7H713.5V1758.1H715.5V1758.4H717.5V1757.3H719.5V1756.0H721.5V1756.0H723.5V1753.9H725.5V1753.4H727.5V1752.4H729.5V1751.8H731.5V1750.9H733.5V1751.8H735.5V1750.4H737.5V1751.0H739.5V1750.5H741.5V1750.8H743.5V1751.6H745.5V1751.3H747.5V1751.2H749.5V1751.5H751.5V1751.6H753.5V1753.2H755.5V1753.5H757.5V1753.8H759.5V1756.7H761.5V1760.5H763.5V1761.0H765.5V1761.1H767.5V1761.2H769.5V1761.3H771.5V1761.2H773.5V1760.8H775.5V1760.0H777.5V1759.5H779.5V1759.8H781.5V1759.5H783.5V1758.3H785.5V1759.0H787.5V1758.3H789.5V1757.7H791.5V1757.7H793.5V1757.6H795.5V1756.6H797.5V1757.2H799.5V1756.3H801.5V1755.1H803.5V1755.2H805.5V1754.0H807.5V1752.9H809.5V1752.0H811.5V1751.8H813.5V1750.4H815.5V1750.3H817.5V1749.3H819.5V1747.7H821.5V1747.2H823.5V1744.2H825.5V1745.0H827.5V1744.0H829.5V1741.6H831.5V1740.7H833.5V1741.1H835.5V1738.3H837.5V1738.0H839.5V1737.8H841.5V1735.9H843.5V1736.3H845.5V1735.3H847.5V1731.9H849.5V1732.6H851.5V1729.8H853.5V1731.7H855.5V1730.9H857.5V1730.5H859.5V1726.7H861.5V1726.7H863.5V1728.4H865.5V1727.5H867.5V1724.0H869.5V1725.6H871.5V1724.0H873.5V1727.9H875.5V1725.5H877.5V1727.0H879.5V1723.4H881.5V1723.1H883.5V1722.3H885.5V1723.4H887.5V1719.8H889.5V1724.4H891.5V1724.9H893.5V1721.0H895.5V1723.2H897.5V1724.3H899.5V1724.7H901.5V1726.3H903.5V1726.2H905.5V1728.0H907.5V1731.7H909.5V1730.4H911.5V1730.6H913.5V1734.4H915.5V1733.0H917.5V1735.8H919.5V1736.6H921.5V1738.6H923.5V1737.1H925.5V1738.9H927.5V1738.8H929.5V1741.6H931.5V1744.0H933.5V1745.3H935.5V1746.6H937.5V1746.5H939.5V1749.1H941.5V1750.4H943.5V1750.8H945.5V1752.3H947.5V1752.6H949.5V1752.8H951.5V1753.1H953.5V1754.3H955.5V1754.7H957.5V1754.6H959.5V1754.7H961.5V1755.5H963.5V1755.7H965.5V1755.6H967.5V1757.0H969.5V1757.2H971.5V1757.1H973.5V1757.3H975.5V1757.1H977.5V1757.8H979.5V1757.9H981.5V1758.4H983.5V1758.3H985.5V1758.5H987.5V1759.3H989.5V1759.7H991.5V1759.8H993.5V1759.9H995.5V1759.5H997.5V1760.2H999.5V1759.9H1001.5V1760.0H1003.5V1759.8H1005.5V1760.6H1007.5V1760.1H1009.5V1760.4H1011.5V1760.5H1013.5V1760.6H1015.5V1760.7H1017.5V1760.8H1019.5V1760.8H1021.5V1760.8H1023.5V1760.8H1025.5V1760.7H1027.5V1760.7H1029.5V1760.7H1031.5V1760.6H1033.5V1760.6H1035.5V1760.5H1037.5V1760.5H1039.5V1760.5H1041.5V1760.4H1043.5V1760.5H1045.5V1760.7H1047.5V1760.2H1049.5V1759.9H1051.5V1760.1H1053.5V1760.6H1055.5V1759.7H1057.5V1760.2H1059.5V1759.9H1061.5V1759.8H1063.5V1760.2H1065.5V1760.0H1067.5V1760.1H1069.5V1760.2H1071.5V1760.2H1073.5V1759.5H1075.5V1759.7H1077.5V1759.2H1079.5V1759.9H1081.5V1759.6H1083.5V1759.6H1085.5V1758.8H1087.5V1758.9H1089.5V1758.7H1091.5V1759.0H1093.5V1759.3H1095.5V1758.9H1097.5V1759.1H1099.5V1759.3H1101.5V1758.8H1103.5V1759.2H1105.5V1759.4H1107.5V1759.0H1109.5V1758.6H1111.5V1758.6H1113.5V1759.2H1115.5V1759.6H1117.5V1758.9H1119.5V1759.6H1121.5V1759.3H1123.5V1759.7H1125.5V1758.8H1127.5V1759.2H1129.5V1759.2H1131.5V1759.4H1133.5V1759.0H1135.5V1758.6H1137.5V1759.1H1139.5V1759.3H1141.5V1758.9H1143.5V1758.5H1145.5V1759.0H1147.5V1758.7H1149.5V1758.3H1151.5V1758.8H1153.5V1758.1H1155.5V1758.3H1157.5V1758.6H1159.5V1758.6H1161.5V1757.5H1163.5V1757.9H1165.5V1757.8H1167.5V1757.1H1169.5V1757.4H1171.5V1757.4H1173.5V1757.5H1175.5V1757.2H1177.5V1758.0H1179.5V1758.0H1181.5V1758.0H1183.5V1758.4H1185.5V1759.2H1187.5V1759.4H1189.5V1759.2H1191.5V1759.4H1193.5V1760.3H1195.5V1759.8H1197.5V1760.5H1199.5V1760.8H1201.5V1761.9 Z" fill="#7d18cc" stroke="#7d18cc" stroke-width="0.6"/>
<line x1="679.5" y1="1761.7" x2="1201.5" y2="1761.7" stroke="#7d18cc" stroke-width="2.00"/>
<path d="M1207.5 1761.9V1760.4H1209.5V1760.2H1211.5V1760.2H1213.5V1759.8H1215.5V1759.6H1217.5V1759.3H1219.5V1759.9H1221.5V1759.3H1223.5V1759.9H1225.5V1759.4H1227.5V1759.6H1229.5V1759.5H1231.5V1759.7H1233.5V1759.0H1235.5V1759.6H1237.5V1758.9H1239.5V1759.3H1241.5V1758.9H1243.5V1758.8H1245.5V1758.9H1247.5V1758.5H1249.5V1758.4H1251.5V1759.0H1253.5V1758.9H1255.5V1758.2H1257.5V1758.9H1259.5V1758.5H1261.5V1758.5H1263.5V1757.8H1265.5V1758.6H1267.5V1758.0H1269.5V1757.8H1271.5V1757.7H1273.5V1758.5H1275.5V1757.3H1277.5V1757.9H1279.5V1757.2H1281.5V1757.3H1283.5V1757.5H1285.5V1756.8H1287.5V1756.9H1289.5V1757.2H1291.5V1756.6H1293.5V1756.8H1295.5V1756.4H1297.5V1756.4H1299.5V1756.0H1301.5V1756.7H1303.5V1756.1H1305.5V1756.6H1307.5V1755.3H1309.5V1755.1H1311.5V1754.8H1313.5V1755.8H1315.5V1754.9H1317.5V1754.7H1319.5V1755.1H1321.5V1754.8H1323.5V1753.4H1325.5V1753.4H1327.5V1754.1H1329.5V1753.0H1331.5V1753.2H1333.5V1753.5H1335.5V1752.9H1337.5V1753.5H1339.5V1753.3H1341.5V1753.6H1343.5V1752.4H1345.5V1753.0H1347.5V1753.3H1349.5V1754.2H1351.5V1754.9H1353.5V1755.6H1355.5V1755.5H1357.5V1756.6H1359.5V1756.8H1361.5V1757.2H1363.5V1758.1H1365.5V1758.4H1367.5V1759.7H1369.5V1760.0H1371.5V1760.1H1373.5V1760.9H1375.5V1761.5H1376.9V1761.9 Z" fill="#7d18cc" stroke="#7d18cc" stroke-width="0.6"/>
<line x1="1207.5" y1="1761.7" x2="1376.9" y2="1761.7" stroke="#7d18cc" stroke-width="2.00"/>
<line x1="878.7" y1="1813.0" x2="1381.0" y2="1813.0" stroke="#1b32e8" stroke-width="3.60"/>
<rect x="878.7" y="1807.4" width="98.3" height="11.2" fill="#1b32e8"/>
<rect x="1231.0" y="1803.6" width="122.0" height="18.4" fill="#1b32e8"/>
<path d="M990.8 1807.8L997.8 1813.0L990.8 1818.2M1031.3 1807.8L1038.3 1813.0L1031.3 1818.2M1071.4 1807.8L1078.4 1813.0L1071.4 1818.2M1112.6 1807.8L1119.6 1813.0L1112.6 1818.2M1153.1 1807.8L1160.1 1813.0L1153.1 1818.2M1193.3 1807.8L1200.3 1813.0L1193.3 1818.2M1367.6 1807.8L1374.6 1813.0L1367.6 1818.2" fill="none" stroke="#1b32e8" stroke-width="3.6" stroke-linejoin="miter" stroke-miterlimit="6"/>
<path d="M913.1 1807.4 L919.3 1813.0 L913.1 1818.6" fill="none" stroke="#fff" stroke-width="3.0"/>
<path d="M954.1 1807.4 L960.3 1813.0 L954.1 1818.6" fill="none" stroke="#fff" stroke-width="3.0"/>
<path d="M1267.9 1808.5 L1272.8 1813.0 L1267.9 1817.5" fill="none" stroke="#fff" stroke-width="3.0"/>
<path d="M1308.3 1808.5 L1313.2 1813.0 L1308.3 1817.5" fill="none" stroke="#fff" stroke-width="3.0"/>
<path d="M878.7 1813.0 V1837.4 H1030.0" fill="none" stroke="#111" stroke-width="2"/>
<path d="M1035.0 1837.4 L1018.0 1828.9 L1023.0 1837.4 L1018.0 1845.9 Z" fill="#111"/>
<text x="1190.0" y="1846.7" font-size="26.4" text-anchor="start" font-style="italic" fill="#111" textLength="46.8" lengthAdjust="spacingAndGlyphs">Myc</text>
<text x="459.0" y="1963.4" font-size="26.4" text-anchor="start" fill="#161616">Peak Intensity</text>
<line x1="447.5" y1="1969.7" x2="646.5" y2="1969.7" stroke="#161616" stroke-width="2.00"/>
<text x="665.0" y="1943.3" font-size="26.3" text-anchor="start" font-weight="bold" fill="#111">chr4</text>
<line x1="676.9" y1="1963.9" x2="1383.8" y2="1963.9" stroke="#161616" stroke-width="2.00"/>
<line x1="744.6" y1="1950.4" x2="744.6" y2="1963.9" stroke="#161616" stroke-width="1.80"/>
<line x1="881.6" y1="1950.4" x2="881.6" y2="1963.9" stroke="#161616" stroke-width="1.80"/>
<line x1="1019.2" y1="1950.4" x2="1019.2" y2="1963.9" stroke="#161616" stroke-width="1.80"/>
<line x1="1156.3" y1="1950.4" x2="1156.3" y2="1963.9" stroke="#161616" stroke-width="1.80"/>
<line x1="1295.5" y1="1950.4" x2="1295.5" y2="1963.9" stroke="#161616" stroke-width="1.80"/>
<text x="954.8" y="1942.3" font-size="26.4" text-anchor="start" fill="#161616" textLength="130.0" lengthAdjust="spacingAndGlyphs">122,674 kb</text>
<text x="1231.0" y="1942.3" font-size="26.4" text-anchor="start" fill="#161616" textLength="130.0" lengthAdjust="spacingAndGlyphs">122,676 kb</text>
<line x1="669.9" y1="1985.7" x2="669.9" y2="2034.6" stroke="#161616" stroke-width="2.40" stroke-linecap="round"/>
<text x="658.4" y="1999.7" font-size="26.0" text-anchor="end" fill="#161616">4</text>
<text x="658.4" y="2033.2" font-size="26.0" text-anchor="end" fill="#161616">0</text>
<line x1="669.9" y1="2038.4" x2="669.9" y2="2087.8" stroke="#161616" stroke-width="2.40" stroke-linecap="round"/>
<text x="658.4" y="2055.6" font-size="26.0" text-anchor="end" fill="#161616">4</text>
<text x="658.4" y="2087.8" font-size="26.0" text-anchor="end" fill="#161616">0</text>
<line x1="669.9" y1="2095.7" x2="669.9" y2="2144.6" stroke="#161616" stroke-width="2.40" stroke-linecap="round"/>
<text x="658.4" y="2114.8" font-size="26.0" text-anchor="end" fill="#161616">4</text>
<text x="658.4" y="2146.0" font-size="26.0" text-anchor="end" fill="#161616">0</text>
<line x1="669.9" y1="2149.7" x2="669.9" y2="2199.6" stroke="#161616" stroke-width="2.40" stroke-linecap="round"/>
<text x="658.4" y="2169.3" font-size="26.0" text-anchor="end" fill="#161616">4</text>
<text x="658.4" y="2201.0" font-size="26.0" text-anchor="end" fill="#161616">0</text>
<text x="635" y="2025.0" font-size="26" text-anchor="end" fill="#161616"><tspan font-style="italic">Kdm6a</tspan><tspan font-size="16" dy="-9">WT</tspan></text>
<text x="635" y="2079.5" font-size="26" text-anchor="end" fill="#161616"><tspan font-style="italic">Kdm6a</tspan><tspan font-size="16" dy="-9">Mutant</tspan><tspan dy="9">ASCL1</tspan><tspan font-size="16" dy="-9">Only</tspan></text>
<text x="635" y="2117.5" font-size="26" text-anchor="end" fill="#161616"><tspan font-style="italic">Kdm6a</tspan><tspan font-size="16" dy="-9">Mutant</tspan></text>
<text x="635" y="2151.8" font-size="26" text-anchor="end" fill="#161616"><tspan>ASCL1</tspan><tspan font-size="16" dy="-9">High</tspan><tspan dy="9">NEUROD1</tspan><tspan font-size="16" dy="-9">Low</tspan></text>
<text x="635" y="2187.7" font-size="26" text-anchor="end" fill="#161616"><tspan font-style="italic">Kdm6a</tspan><tspan font-size="16" dy="-9">Mutant</tspan><tspan dy="9">NEUROD1</tspan><tspan font-size="16" dy="-9">Only</tspan></text>
<path d="M676.9 2034.3V2034.3H678.9V2034.3H680.9V2034.2H682.9V2034.1H684.9V2034.0H686.9V2033.9H688.9V2033.9H690.9V2033.7H692.9V2033.0H694.9V2032.6H696.9V2032.1H698.9V2031.5H700.9V2030.2H702.9V2030.4H704.9V2029.5H706.9V2029.0H708.9V2028.5H710.9V2029.0H712.9V2028.9H714.9V2029.5H716.9V2028.5H718.9V2028.6H720.9V2028.8H722.9V2028.5H724.9V2028.8H726.9V2028.6H728.9V2028.6H730.9V2029.2H732.9V2030.3H734.9V2029.6H736.9V2029.8H738.9V2031.0H740.9V2031.5H742.9V2031.5H744.9V2032.1H746.9V2032.0H748.9V2032.5H750.9V2032.5H752.9V2032.9H754.9V2032.7H756.9V2032.9H758.9V2033.1H760.9V2033.3H762.9V2033.2H764.9V2033.1H766.9V2033.0H768.9V2032.9H770.9V2032.9H772.9V2032.5H774.9V2032.7H776.9V2032.8H778.9V2031.9H780.9V2031.9H782.9V2032.0H784.9V2032.3H786.9V2032.1H788.9V2031.9H790.9V2031.9H792.9V2032.1H794.9V2031.6H796.9V2031.2H798.9V2031.2H800.9V2030.9H802.9V2031.0H804.9V2030.8H806.9V2030.6H808.9V2030.4H810.9V2030.4H812.9V2030.8H814.9V2030.4H816.9V2030.3H818.9V2029.9H820.9V2030.0H822.9V2030.2H824.9V2030.4H826.9V2029.7H828.9V2028.8H830.9V2027.2H832.9V2024.8H834.9V2020.1H836.9V2013.5H838.9V2008.3H840.9V2007.0H842.9V2005.2H844.9V2000.2H846.9V1999.3H848.9V1998.4H850.9V1996.4H852.9V1997.8H854.9V1997.1H856.9V1995.7H858.9V1997.3H860.9V1997.8H862.9V1995.1H864.9V1993.1H866.9V1993.7H868.9V1996.2H870.9V1993.2H872.9V1997.4H874.9V1997.1H876.9V1997.8H878.9V1997.5H880.9V1994.8H882.9V1994.1H884.9V1995.5H886.9V1996.0H888.9V2000.5H890.9V1999.2H892.9V2000.9H894.9V2001.6H896.9V2003.5H898.9V2002.7H900.9V2003.0H902.9V2003.1H904.9V2007.8H906.9V2009.9H908.9V2009.6H910.9V2013.3H912.9V2013.2H914.9V2015.4H916.9V2014.5H918.9V2014.8H920.9V2016.3H922.9V2014.6H924.9V2015.6H926.9V2016.0H928.9V2014.6H930.9V2014.9H932.9V2016.3H934.9V2015.4H936.9V2017.0H938.9V2016.1H940.9V2017.3H942.9V2015.9H944.9V2015.3H946.9V2016.2H948.9V2017.8H950.9V2016.7H952.9V2016.9H954.9V2017.1H956.9V2018.0H958.9V2017.8H960.9V2017.5H962.9V2018.6H964.9V2017.2H966.9V2018.4H968.9V2018.4H970.9V2019.0H972.9V2018.6H974.9V2017.2H976.9V2018.9H978.9V2019.5H980.9V2019.0H982.9V2017.7H984.9V2019.9H986.9V2019.5H988.9V2019.9H990.9V2019.0H992.9V2019.6H994.9V2020.6H996.9V2019.0H998.9V2020.4H1000.9V2019.8H1002.9V2020.4H1004.9V2019.7H1006.9V2021.6H1008.9V2021.4H1010.9V2021.4H1012.9V2021.6H1014.9V2020.6H1016.9V2021.9H1018.9V2023.0H1020.9V2023.5H1022.9V2022.7H1024.9V2023.1H1026.9V2023.2H1028.9V2022.7H1030.9V2022.6H1032.9V2022.9H1034.9V2022.7H1036.9V2023.2H1038.9V2022.4H1040.9V2021.4H1042.9V2022.4H1044.9V2022.2H1046.9V2021.6H1048.9V2021.5H1050.9V2022.2H1052.9V2021.5H1054.9V2020.8H1056.9V2022.2H1058.9V2022.0H1060.9V2020.5H1062.9V2020.1H1064.9V2021.8H1066.9V2021.7H1068.9V2020.4H1070.9V2021.1H1072.9V2020.2H1074.9V2021.5H1076.9V2020.5H1078.9V2021.1H1080.9V2020.7H1082.9V2020.2H1084.9V2020.9H1086.9V2020.5H1088.9V2020.8H1090.9V2021.6H1092.9V2022.2H1094.9V2024.8H1096.9V2025.6H1098.9V2027.1H1100.9V2027.9H1102.9V2029.8H1104.9V2029.9H1106.9V2031.4H1108.9V2031.3H1110.9V2031.2H1112.9V2031.2H1114.9V2031.7H1116.9V2031.3H1118.9V2031.1H1120.9V2032.0H1122.9V2031.4H1124.9V2031.4H1126.9V2031.7H1128.9V2031.9H1130.9V2032.0H1132.9V2031.7H1134.9V2031.2H1136.9V2031.7H1138.9V2031.9H1140.9V2031.5H1142.9V2031.7H1144.9V2031.5H1146.9V2031.7H1148.9V2031.9H1150.9V2032.1H1152.9V2031.3H1154.9V2031.5H1156.9V2031.9H1158.9V2031.6H1160.9V2031.6H1162.9V2031.6H1164.9V2031.1H1166.9V2031.2H1168.9V2031.6H1170.9V2031.5H1172.9V2031.1H1174.9V2031.6H1176.9V2030.7H1178.9V2031.8H1180.9V2031.8H1182.9V2032.5H1184.9V2032.8H1186.9V2033.3H1188.9V2033.8H1190.9V2033.8H1192.9V2033.8H1194.9V2033.8H1196.9V2033.8H1198.9V2033.8H1200.9V2033.8H1202.9V2033.8H1204.9V2033.8H1206.9V2033.8H1208.9V2033.8H1210.9V2034.3 Z" fill="#2142ea" stroke="#2142ea" stroke-width="0.6"/>
<line x1="676.9" y1="2034.1" x2="1210.9" y2="2034.1" stroke="#2142ea" stroke-width="2.00"/>
<path d="M1216.9 2034.3V2033.8H1218.9V2033.8H1220.9V2033.8H1222.9V2033.8H1224.9V2033.7H1226.9V2033.6H1228.9V2033.6H1230.9V2033.5H1232.9V2033.5H1234.9V2033.4H1236.9V2033.4H1238.9V2033.3H1240.9V2033.2H1242.9V2033.2H1244.9V2033.1H1246.9V2033.1H1248.9V2033.0H1250.9V2033.0H1252.9V2032.9H1254.9V2033.2H1256.9V2033.0H1258.9V2032.3H1260.9V2031.9H1262.9V2031.9H1264.9V2031.1H1266.9V2031.0H1268.9V2030.3H1270.9V2029.6H1272.9V2028.0H1274.9V2028.3H1276.9V2027.5H1278.9V2026.8H1280.9V2025.8H1282.9V2023.2H1284.9V2022.7H1286.9V2021.3H1288.9V2020.6H1290.9V2019.9H1292.9V2020.3H1294.9V2021.7H1296.9V2022.7H1298.9V2023.9H1300.9V2024.3H1302.9V2024.0H1304.9V2025.2H1306.9V2026.6H1308.9V2026.6H1310.9V2026.1H1312.9V2026.3H1314.9V2026.8H1316.9V2027.1H1318.9V2027.1H1320.9V2027.9H1322.9V2028.4H1324.9V2028.4H1326.9V2029.0H1328.9V2029.6H1330.9V2029.5H1332.9V2029.5H1334.9V2030.2H1336.9V2030.5H1338.9V2030.5H1340.9V2030.6H1342.9V2030.2H1344.9V2031.0H1346.9V2030.9H1348.9V2031.2H1350.9V2031.7H1352.9V2032.2H1354.9V2032.4H1356.9V2032.7H1358.9V2032.7H1360.9V2033.1H1362.9V2033.3H1364.9V2033.3H1366.9V2033.4H1368.9V2033.4H1370.9V2033.5H1372.9V2033.5H1374.9V2033.6H1376.9V2033.6H1378.9V2033.7H1380.9V2033.7H1382.9V2033.8H1383.8V2034.3 Z" fill="#2142ea" stroke="#2142ea" stroke-width="0.6"/>
<line x1="1216.9" y1="2034.1" x2="1383.8" y2="2034.1" stroke="#2142ea" stroke-width="2.00"/>
<path d="M676.9 2088.5V2088.5H678.9V2088.5H680.9V2088.4H682.9V2088.3H684.9V2088.3H686.9V2088.2H688.9V2088.2H690.9V2088.1H692.9V2088.1H694.9V2088.0H696.9V2087.7H698.9V2087.1H700.9V2086.1H702.9V2085.6H704.9V2085.5H706.9V2085.1H708.9V2085.3H710.9V2084.6H712.9V2085.0H714.9V2085.3H716.9V2084.9H718.9V2085.4H720.9V2085.9H722.9V2085.9H724.9V2086.5H726.9V2087.1H728.9V2087.4H730.9V2087.4H732.9V2087.3H734.9V2087.3H736.9V2087.3H738.9V2087.2H740.9V2087.2H742.9V2087.1H744.9V2087.1H746.9V2087.1H748.9V2087.0H750.9V2087.2H752.9V2086.7H754.9V2087.2H756.9V2086.5H758.9V2087.2H760.9V2086.7H762.9V2086.6H764.9V2086.5H766.9V2086.7H768.9V2086.3H770.9V2086.5H772.9V2086.4H774.9V2086.9H776.9V2086.8H778.9V2086.5H780.9V2086.3H782.9V2086.7H784.9V2086.0H786.9V2086.2H788.9V2085.9H790.9V2085.8H792.9V2085.3H794.9V2085.7H796.9V2085.3H798.9V2085.1H800.9V2085.0H802.9V2085.2H804.9V2085.1H806.9V2084.8H808.9V2084.5H810.9V2084.3H812.9V2084.8H814.9V2084.3H816.9V2083.8H818.9V2083.9H820.9V2083.7H822.9V2082.3H824.9V2083.1H826.9V2082.2H828.9V2082.1H830.9V2082.2H832.9V2081.5H834.9V2080.1H836.9V2076.5H838.9V2072.1H840.9V2071.0H842.9V2067.1H844.9V2062.8H846.9V2059.8H848.9V2060.2H850.9V2058.0H852.9V2056.4H854.9V2052.4H856.9V2053.0H858.9V2052.5H860.9V2050.4H862.9V2049.3H864.9V2050.0H866.9V2046.7H868.9V2047.5H870.9V2049.8H872.9V2050.6H874.9V2050.5H876.9V2050.5H878.9V2052.9H880.9V2056.2H882.9V2055.0H884.9V2055.1H886.9V2057.7H888.9V2057.6H890.9V2060.1H892.9V2060.5H894.9V2060.7H896.9V2060.1H898.9V2058.8H900.9V2059.2H902.9V2059.8H904.9V2061.2H906.9V2064.2H908.9V2064.2H910.9V2065.4H912.9V2068.2H914.9V2067.1H916.9V2069.7H918.9V2070.0H920.9V2070.9H922.9V2071.5H924.9V2071.8H926.9V2072.7H928.9V2071.8H930.9V2073.2H932.9V2073.1H934.9V2072.3H936.9V2074.0H938.9V2073.3H940.9V2073.0H942.9V2075.2H944.9V2073.8H946.9V2074.0H948.9V2074.1H950.9V2073.5H952.9V2073.2H954.9V2074.7H956.9V2073.9H958.9V2073.5H960.9V2073.2H962.9V2072.5H964.9V2072.7H966.9V2072.6H968.9V2074.6H970.9V2074.0H972.9V2073.2H974.9V2073.4H976.9V2074.1H978.9V2075.2H980.9V2074.5H982.9V2075.3H984.9V2075.3H986.9V2075.6H988.9V2075.4H990.9V2075.9H992.9V2075.7H994.9V2076.9H996.9V2077.1H998.9V2077.1H1000.9V2077.5H1002.9V2078.7H1004.9V2077.3H1006.9V2078.7H1008.9V2078.6H1010.9V2079.5H1012.9V2079.1H1014.9V2077.6H1016.9V2078.7H1018.9V2078.5H1020.9V2077.4H1022.9V2078.3H1024.9V2077.3H1026.9V2077.4H1028.9V2076.6H1030.9V2077.2H1032.9V2077.4H1034.9V2077.4H1036.9V2077.0H1038.9V2077.6H1040.9V2077.2H1042.9V2077.0H1044.9V2076.5H1046.9V2075.4H1048.9V2074.9H1050.9V2076.0H1052.9V2076.1H1054.9V2076.0H1056.9V2075.4H1058.9V2075.8H1060.9V2076.7H1062.9V2075.9H1064.9V2076.6H1066.9V2076.9H1068.9V2075.7H1070.9V2077.2H1072.9V2076.6H1074.9V2076.1H1076.9V2076.1H1078.9V2075.0H1080.9V2075.8H1082.9V2074.1H1084.9V2075.6H1086.9V2074.0H1088.9V2075.8H1090.9V2077.4H1092.9V2077.7H1094.9V2077.1H1096.9V2078.5H1098.9V2079.2H1100.9V2079.9H1102.9V2082.0H1104.9V2082.3H1106.9V2082.9H1108.9V2082.6H1110.9V2082.7H1112.9V2083.8H1114.9V2082.8H1116.9V2083.5H1118.9V2083.9H1120.9V2084.3H1122.9V2084.0H1124.9V2083.9H1126.9V2084.1H1128.9V2084.4H1130.9V2083.7H1132.9V2084.4H1134.9V2084.7H1136.9V2084.2H1138.9V2085.0H1140.9V2084.9H1142.9V2085.3H1144.9V2085.3H1146.9V2084.5H1148.9V2085.0H1150.9V2085.2H1152.9V2085.2H1154.9V2085.3H1156.9V2085.5H1158.9V2085.8H1160.9V2086.1H1162.9V2086.3H1164.9V2086.3H1166.9V2086.1H1168.9V2086.6H1170.9V2086.0H1172.9V2086.4H1174.9V2086.6H1176.9V2086.6H1178.9V2086.5H1180.9V2086.8H1182.9V2086.3H1184.9V2086.7H1186.9V2087.2H1188.9V2087.3H1190.9V2086.6H1192.9V2087.1H1194.9V2087.1H1196.9V2087.2H1198.9V2087.3H1200.9V2087.4H1202.9V2087.5H1204.9V2087.5H1206.9V2087.6H1208.9V2087.7H1210.9V2087.8H1212.9V2087.9H1214.9V2087.9H1216.9V2087.9H1218.9V2087.9H1220.9V2087.8H1222.9V2087.8H1224.9V2087.7H1226.9V2087.7H1228.9V2087.6H1230.9V2087.6H1232.9V2087.5H1234.9V2087.5H1236.9V2087.4H1238.9V2087.4H1240.9V2087.3H1242.9V2087.3H1244.9V2087.2H1246.9V2087.2H1248.9V2087.1H1250.9V2087.1H1252.9V2087.0H1254.9V2086.9H1256.9V2087.1H1258.9V2086.7H1260.9V2086.9H1262.9V2085.5H1264.9V2084.8H1266.9V2084.6H1268.9V2084.7H1270.9V2083.7H1272.9V2082.6H1274.9V2081.3H1276.9V2080.3H1278.9V2078.7H1280.9V2077.5H1282.9V2075.0H1284.9V2074.6H1286.9V2073.0H1288.9V2071.0H1290.9V2070.0H1292.9V2071.4H1294.9V2072.1H1296.9V2074.9H1298.9V2074.5H1300.9V2075.6H1302.9V2076.9H1304.9V2076.7H1306.9V2078.4H1308.9V2077.7H1310.9V2079.5H1312.9V2079.0H1314.9V2079.6H1316.9V2079.9H1318.9V2080.6H1320.9V2082.0H1322.9V2082.1H1324.9V2081.9H1326.9V2082.0H1328.9V2082.7H1330.9V2083.9H1332.9V2083.9H1334.9V2084.3H1336.9V2084.8H1338.9V2085.1H1340.9V2085.0H1342.9V2085.5H1344.9V2085.9H1346.9V2086.0H1348.9V2085.8H1350.9V2086.5H1352.9V2086.6H1354.9V2087.2H1356.9V2087.4H1358.9V2087.5H1360.9V2087.6H1362.9V2087.7H1364.9V2087.8H1366.9V2087.8H1368.9V2087.9H1370.9V2088.0H1372.9V2088.1H1374.9V2088.2H1376.9V2088.2H1378.9V2088.3H1380.9V2088.4H1382.9V2088.5H1383.8V2088.5 Z" fill="#4aea2c" stroke="#4aea2c" stroke-width="0.6"/>
<line x1="676.9" y1="2088.3" x2="1383.8" y2="2088.3" stroke="#4aea2c" stroke-width="2.00"/>
<path d="M676.9 2142.7V2142.7H678.9V2142.4H680.9V2142.2H682.9V2142.0H684.9V2141.7H686.9V2141.5H688.9V2141.2H690.9V2140.7H692.9V2141.4H694.9V2140.5H696.9V2141.2H698.9V2141.0H700.9V2140.4H702.9V2140.3H704.9V2140.3H706.9V2140.4H708.9V2140.1H710.9V2140.3H712.9V2140.4H714.9V2140.3H716.9V2140.3H718.9V2140.3H720.9V2139.3H722.9V2139.2H724.9V2139.7H726.9V2139.6H728.9V2139.7H730.9V2139.3H732.9V2139.7H734.9V2140.1H736.9V2139.5H738.9V2139.5H740.9V2140.5H742.9V2140.2H744.9V2140.5H746.9V2140.2H748.9V2140.6H750.9V2140.8H752.9V2140.8H754.9V2140.7H756.9V2140.9H758.9V2141.0H760.9V2140.9H762.9V2141.0H764.9V2140.5H766.9V2140.9H768.9V2140.4H770.9V2140.2H772.9V2140.4H774.9V2140.4H776.9V2140.1H778.9V2140.1H780.9V2140.5H782.9V2140.2H784.9V2140.4H786.9V2140.4H788.9V2139.7H790.9V2140.0H792.9V2139.9H794.9V2140.1H796.9V2140.0H798.9V2139.2H800.9V2139.4H802.9V2139.1H804.9V2138.6H806.9V2138.2H808.9V2138.2H810.9V2138.6H812.9V2137.4H814.9V2138.2H816.9V2137.5H818.9V2137.2H820.9V2137.5H822.9V2136.5H824.9V2136.7H826.9V2136.1H828.9V2136.2H830.9V2134.5H832.9V2134.6H834.9V2133.4H836.9V2132.1H838.9V2128.8H840.9V2124.8H842.9V2120.6H844.9V2115.8H846.9V2114.5H848.9V2112.9H850.9V2110.8H852.9V2109.9H854.9V2111.0H856.9V2111.3H858.9V2110.8H860.9V2109.0H862.9V2109.1H864.9V2107.6H866.9V2109.3H868.9V2108.5H870.9V2108.2H872.9V2110.4H874.9V2110.9H876.9V2110.9H878.9V2111.5H880.9V2110.0H882.9V2111.0H884.9V2113.5H886.9V2110.8H888.9V2113.2H890.9V2113.0H892.9V2114.1H894.9V2114.2H896.9V2114.6H898.9V2116.6H900.9V2116.8H902.9V2115.5H904.9V2118.0H906.9V2119.9H908.9V2118.9H910.9V2120.4H912.9V2121.5H914.9V2123.6H916.9V2125.3H918.9V2124.6H920.9V2127.0H922.9V2126.9H924.9V2127.2H926.9V2128.3H928.9V2129.0H930.9V2127.8H932.9V2127.5H934.9V2128.1H936.9V2127.3H938.9V2129.2H940.9V2128.2H942.9V2129.0H944.9V2128.8H946.9V2129.5H948.9V2129.8H950.9V2129.2H952.9V2129.3H954.9V2128.7H956.9V2129.5H958.9V2129.9H960.9V2129.7H962.9V2129.9H964.9V2130.5H966.9V2130.9H968.9V2130.2H970.9V2130.9H972.9V2131.7H974.9V2131.6H976.9V2131.4H978.9V2130.9H980.9V2131.1H982.9V2131.5H984.9V2131.0H986.9V2132.1H988.9V2132.2H990.9V2131.7H992.9V2132.1H994.9V2132.8H996.9V2132.2H998.9V2134.0H1000.9V2133.4H1002.9V2133.1H1004.9V2133.3H1006.9V2134.7H1008.9V2133.9H1010.9V2134.5H1012.9V2133.7H1014.9V2134.5H1016.9V2133.8H1018.9V2133.7H1020.9V2133.0H1022.9V2134.0H1024.9V2133.8H1026.9V2134.1H1028.9V2133.0H1030.9V2133.9H1032.9V2132.4H1034.9V2133.5H1036.9V2133.3H1038.9V2131.8H1040.9V2132.5H1042.9V2131.9H1044.9V2132.6H1046.9V2132.7H1048.9V2132.4H1050.9V2131.2H1052.9V2132.6H1054.9V2131.1H1056.9V2131.1H1058.9V2131.4H1060.9V2132.1H1062.9V2131.1H1064.9V2130.7H1066.9V2131.2H1068.9V2131.9H1070.9V2130.8H1072.9V2129.6H1074.9V2129.8H1076.9V2130.2H1078.9V2129.7H1080.9V2128.4H1082.9V2130.3H1084.9V2131.0H1086.9V2130.8H1088.9V2131.6H1090.9V2131.7H1092.9V2133.3H1094.9V2133.4H1096.9V2134.1H1098.9V2135.5H1100.9V2136.1H1102.9V2136.8H1104.9V2136.6H1106.9V2137.0H1108.9V2137.1H1110.9V2137.4H1112.9V2137.2H1114.9V2138.3H1116.9V2138.4H1118.9V2137.7H1120.9V2137.9H1122.9V2139.0H1124.9V2138.2H1126.9V2138.7H1128.9V2138.6H1130.9V2138.9H1132.9V2139.4H1134.9V2139.9H1136.9V2139.2H1138.9V2139.3H1140.9V2139.6H1142.9V2139.9H1144.9V2139.8H1146.9V2139.3H1148.9V2139.8H1150.9V2140.1H1152.9V2139.4H1154.9V2139.5H1156.9V2140.3H1158.9V2140.3H1160.9V2139.9H1162.9V2140.3H1164.9V2140.2H1166.9V2140.1H1168.9V2140.5H1170.9V2140.3H1172.9V2140.7H1174.9V2140.7H1176.9V2140.4H1178.9V2140.6H1180.9V2140.3H1182.9V2141.1H1184.9V2140.4H1186.9V2141.1H1188.9V2141.1H1190.9V2141.4H1192.9V2141.3H1194.9V2141.2H1196.9V2141.3H1198.9V2141.4H1200.9V2141.5H1202.9V2141.6H1204.9V2141.7H1206.9V2141.8H1208.9V2141.8H1210.9V2141.9H1212.9V2142.0H1214.9V2142.1H1216.9V2142.1H1218.9V2142.1H1220.9V2142.0H1222.9V2142.0H1224.9V2141.9H1226.9V2141.9H1228.9V2141.9H1230.9V2141.8H1232.9V2141.8H1234.9V2141.7H1236.9V2141.7H1238.9V2141.6H1240.9V2141.6H1242.9V2141.5H1244.9V2141.5H1246.9V2141.5H1248.9V2141.4H1250.9V2141.4H1252.9V2141.3H1254.9V2141.3H1256.9V2141.2H1258.9V2141.2H1260.9V2140.7H1262.9V2141.2H1264.9V2140.6H1266.9V2139.2H1268.9V2138.3H1270.9V2137.7H1272.9V2136.2H1274.9V2135.4H1276.9V2134.1H1278.9V2132.8H1280.9V2131.8H1282.9V2129.5H1284.9V2128.5H1286.9V2127.8H1288.9V2126.6H1290.9V2125.9H1292.9V2127.1H1294.9V2127.5H1296.9V2129.4H1298.9V2129.6H1300.9V2131.1H1302.9V2130.7H1304.9V2132.3H1306.9V2131.8H1308.9V2132.3H1310.9V2133.0H1312.9V2134.8H1314.9V2134.1H1316.9V2135.1H1318.9V2134.7H1320.9V2135.7H1322.9V2135.8H1324.9V2136.5H1326.9V2136.1H1328.9V2136.9H1330.9V2136.5H1332.9V2137.0H1334.9V2137.7H1336.9V2138.4H1338.9V2138.4H1340.9V2138.5H1342.9V2139.0H1344.9V2139.1H1346.9V2140.2H1348.9V2140.1H1350.9V2140.1H1352.9V2140.4H1354.9V2141.2H1356.9V2141.6H1358.9V2141.7H1360.9V2141.8H1362.9V2141.8H1364.9V2141.9H1366.9V2142.0H1368.9V2142.1H1370.9V2142.2H1372.9V2142.2H1374.9V2142.3H1376.9V2142.4H1378.9V2142.5H1380.9V2142.6H1382.9V2142.6H1383.8V2142.7 Z" fill="#f44c6e" stroke="#f44c6e" stroke-width="0.6"/>
<line x1="676.9" y1="2142.5" x2="1383.8" y2="2142.5" stroke="#f44c6e" stroke-width="2.00"/>
<path d="M676.9 2196.9V2196.9H678.9V2196.8H680.9V2196.8H682.9V2196.8H684.9V2196.8H686.9V2196.7H688.9V2196.7H690.9V2196.7H692.9V2196.6H694.9V2196.6H696.9V2196.6H698.9V2196.6H700.9V2196.5H702.9V2196.5H704.9V2196.5H706.9V2196.5H708.9V2196.4H710.9V2196.4H712.9V2196.4H714.9V2196.4H716.9V2196.3H718.9V2196.0H720.9V2195.6H722.9V2195.1H724.9V2195.6H726.9V2196.0H728.9V2196.3H730.9V2196.3H732.9V2196.3H734.9V2196.3H736.9V2196.3H738.9V2196.3H740.9V2196.3H742.9V2196.3H744.9V2196.3H746.9V2196.3H748.9V2196.3H750.9V2196.3H752.9V2196.3H754.9V2196.3H756.9V2196.3H758.9V2196.3H760.9V2196.3H762.9V2196.3H764.9V2196.3H766.9V2196.9 Z" fill="#7d18cc" stroke="#7d18cc" stroke-width="0.6"/>
<line x1="676.9" y1="2196.7" x2="766.9" y2="2196.7" stroke="#7d18cc" stroke-width="2.00"/>
<path d="M778.9 2196.9V2196.0H780.9V2195.9H782.9V2195.8H784.9V2195.8H786.9V2195.7H788.9V2195.7H790.9V2195.6H792.9V2195.6H794.9V2195.5H796.9V2195.4H798.9V2195.4H800.9V2195.2H802.9V2195.2H804.9V2194.7H806.9V2194.6H808.9V2194.7H810.9V2194.4H812.9V2193.7H814.9V2193.8H816.9V2193.5H818.9V2193.6H820.9V2193.0H822.9V2192.9H824.9V2192.1H826.9V2191.6H828.9V2191.1H830.9V2190.6H832.9V2191.3H834.9V2190.7H836.9V2189.8H838.9V2188.5H840.9V2188.4H842.9V2188.4H844.9V2188.2H846.9V2187.4H848.9V2187.2H850.9V2186.7H852.9V2185.0H854.9V2186.0H856.9V2186.0H858.9V2185.1H860.9V2186.0H862.9V2184.5H864.9V2184.8H866.9V2184.3H868.9V2184.6H870.9V2184.5H872.9V2185.4H874.9V2185.0H876.9V2185.0H878.9V2185.0H880.9V2183.8H882.9V2184.8H884.9V2184.0H886.9V2184.2H888.9V2185.3H890.9V2185.0H892.9V2183.6H894.9V2182.4H896.9V2183.0H898.9V2182.3H900.9V2181.6H902.9V2181.0H904.9V2181.1H906.9V2181.3H908.9V2183.4H910.9V2185.4H912.9V2186.4H914.9V2186.6H916.9V2187.7H918.9V2187.8H920.9V2188.8H922.9V2188.4H924.9V2188.2H926.9V2188.2H928.9V2188.7H930.9V2189.1H932.9V2188.8H934.9V2188.9H936.9V2189.5H938.9V2189.0H940.9V2189.1H942.9V2189.6H944.9V2189.3H946.9V2188.7H948.9V2189.1H950.9V2189.6H952.9V2189.8H954.9V2189.2H956.9V2189.4H958.9V2189.8H960.9V2189.6H962.9V2189.7H964.9V2189.4H966.9V2189.1H968.9V2189.9H970.9V2189.7H972.9V2189.7H974.9V2189.6H976.9V2190.3H978.9V2190.3H980.9V2189.3H982.9V2190.5H984.9V2189.8H986.9V2190.4H988.9V2190.1H990.9V2190.2H992.9V2190.6H994.9V2190.7H996.9V2189.7H998.9V2191.0H1000.9V2190.9H1002.9V2190.1H1004.9V2190.7H1006.9V2191.0H1008.9V2190.2H1010.9V2190.0H1012.9V2191.1H1014.9V2190.5H1016.9V2190.9H1018.9V2190.2H1020.9V2190.8H1022.9V2190.4H1024.9V2190.8H1026.9V2191.5H1028.9V2191.2H1030.9V2190.9H1032.9V2191.7H1034.9V2191.8H1036.9V2190.7H1038.9V2190.8H1040.9V2191.2H1042.9V2192.0H1044.9V2191.1H1046.9V2190.7H1048.9V2191.0H1050.9V2191.0H1052.9V2191.4H1054.9V2191.1H1056.9V2190.7H1058.9V2191.2H1060.9V2191.7H1062.9V2191.6H1064.9V2190.5H1066.9V2190.8H1068.9V2190.5H1070.9V2191.5H1072.9V2191.5H1074.9V2190.7H1076.9V2191.0H1078.9V2191.0H1080.9V2191.3H1082.9V2190.8H1084.9V2191.0H1086.9V2191.2H1088.9V2191.8H1090.9V2192.0H1092.9V2192.3H1094.9V2192.4H1096.9V2192.8H1098.9V2193.1H1100.9V2193.1H1102.9V2193.8H1104.9V2194.9H1106.9V2194.9H1108.9V2195.0H1110.9V2195.4H1112.9V2194.9H1114.9V2194.9H1116.9V2195.7H1118.9V2195.2H1120.9V2195.4H1122.9V2195.4H1124.9V2195.4H1126.9V2195.4H1128.9V2195.4H1130.9V2195.5H1132.9V2195.5H1134.9V2195.5H1136.9V2195.5H1138.9V2195.5H1140.9V2195.6H1142.9V2195.6H1144.9V2195.6H1146.9V2195.6H1148.9V2195.6H1150.9V2195.7H1152.9V2195.7H1154.9V2195.7H1156.9V2195.7H1158.9V2195.7H1160.9V2195.8H1162.9V2195.8H1164.9V2195.8H1166.9V2195.9H1168.9V2195.9H1170.9V2195.9H1172.9V2196.0H1174.9V2196.0H1176.9V2196.0H1178.9V2196.1H1180.9V2196.1H1182.9V2196.1H1184.9V2196.2H1186.9V2196.2H1188.9V2196.2H1190.9V2196.3H1192.9V2196.3H1194.9V2196.9 Z" fill="#7d18cc" stroke="#7d18cc" stroke-width="0.6"/>
<line x1="778.9" y1="2196.7" x2="1194.9" y2="2196.7" stroke="#7d18cc" stroke-width="2.00"/>
<path d="M1204.9 2196.9V2196.3H1206.9V2196.3H1208.9V2196.3H1210.9V2196.3H1212.9V2196.3H1214.9V2196.3H1216.9V2196.3H1218.9V2196.3H1220.9V2196.3H1222.9V2196.3H1224.9V2196.3H1226.9V2196.3H1228.9V2196.3H1230.9V2196.3H1232.9V2196.3H1234.9V2196.3H1236.9V2196.3H1238.9V2196.9 Z" fill="#7d18cc" stroke="#7d18cc" stroke-width="0.6"/>
<line x1="1204.9" y1="2196.7" x2="1238.9" y2="2196.7" stroke="#7d18cc" stroke-width="2.00"/>
<path d="M1246.9 2196.9V2196.1H1248.9V2196.0H1250.9V2195.9H1252.9V2195.8H1254.9V2195.7H1256.9V2195.6H1258.9V2195.5H1260.9V2195.4H1262.9V2195.4H1264.9V2195.1H1266.9V2194.0H1268.9V2192.6H1270.9V2191.8H1272.9V2190.4H1274.9V2190.3H1276.9V2188.4H1278.9V2188.1H1280.9V2187.6H1282.9V2185.6H1284.9V2185.1H1286.9V2185.0H1288.9V2182.7H1290.9V2182.9H1292.9V2183.7H1294.9V2184.3H1296.9V2186.8H1298.9V2187.5H1300.9V2188.4H1302.9V2189.3H1304.9V2189.3H1306.9V2189.2H1308.9V2190.1H1310.9V2191.2H1312.9V2191.1H1314.9V2191.5H1316.9V2192.0H1318.9V2191.9H1320.9V2192.5H1322.9V2192.2H1324.9V2192.9H1326.9V2192.6H1328.9V2193.5H1330.9V2193.8H1332.9V2193.9H1334.9V2194.3H1336.9V2193.8H1338.9V2193.9H1340.9V2194.7H1342.9V2195.1H1344.9V2194.8H1346.9V2195.0H1348.9V2195.4H1350.9V2195.4H1352.9V2195.5H1354.9V2195.6H1356.9V2195.7H1358.9V2196.9 Z" fill="#7d18cc" stroke="#7d18cc" stroke-width="0.6"/>
<line x1="1246.9" y1="2196.7" x2="1358.9" y2="2196.7" stroke="#7d18cc" stroke-width="2.00"/>
<path d="M1368.9 2196.9V2196.2H1370.9V2196.3H1372.9V2196.4H1374.9V2196.5H1376.9V2196.6H1378.9V2196.6H1380.9V2196.7H1382.9V2196.8H1383.8V2196.9 Z" fill="#7d18cc" stroke="#7d18cc" stroke-width="0.6"/>
<line x1="1368.9" y1="2196.7" x2="1383.8" y2="2196.7" stroke="#7d18cc" stroke-width="2.00"/>
<line x1="904.6" y1="2246.0" x2="1384.9" y2="2246.0" stroke="#1b32e8" stroke-width="3.60"/>
<rect x="904.6" y="2241.0" width="81.9" height="10.4" fill="#1b32e8"/>
<rect x="986.5" y="2236.3" width="69.4" height="19.1" fill="#1b32e8"/>
<path d="M1069.0 2240.8L1076.0 2246.0L1069.0 2251.2M1108.7 2240.8L1115.7 2246.0L1108.7 2251.2M1149.2 2240.8L1156.2 2246.0L1149.2 2251.2M1190.0 2240.8L1197.0 2246.0L1190.0 2251.2M1230.4 2240.8L1237.4 2246.0L1230.4 2251.2M1270.5 2240.8L1277.5 2246.0L1270.5 2251.2M1311.0 2240.8L1318.0 2246.0L1311.0 2251.2M1351.8 2240.8L1358.8 2246.0L1351.8 2251.2" fill="none" stroke="#1b32e8" stroke-width="3.6" stroke-linejoin="miter" stroke-miterlimit="6"/>
<path d="M1021.8 2241.5 L1026.8 2246.0 L1021.8 2250.5" fill="none" stroke="#fff" stroke-width="3.0"/>
<path d="M904.6 2246.0 V2270.6 H1056.0" fill="none" stroke="#111" stroke-width="2"/>
<path d="M1061.0 2270.6 L1044.0 2262.1 L1049.0 2270.6 L1044.0 2279.1 Z" fill="#111"/>
<text x="1215.9" y="2279.6" font-size="26.4" text-anchor="start" font-style="italic" fill="#111" textLength="54.1" lengthAdjust="spacingAndGlyphs">Mycl</text>
<text x="466.0" y="2385.5" font-size="26.4" text-anchor="start" fill="#161616">Peak Intensity</text>
<line x1="452.0" y1="2390.8" x2="651.7" y2="2390.8" stroke="#161616" stroke-width="2.00"/>
<text x="665.0" y="2366.0" font-size="26.3" text-anchor="start" font-weight="bold" fill="#111">chr12</text>
<line x1="683.9" y1="2389.4" x2="1393.9" y2="2389.4" stroke="#161616" stroke-width="2.00"/>
<line x1="718.9" y1="2375.6" x2="718.9" y2="2389.4" stroke="#161616" stroke-width="1.80"/>
<line x1="793.9" y1="2375.6" x2="793.9" y2="2389.4" stroke="#161616" stroke-width="1.80"/>
<line x1="867.2" y1="2375.6" x2="867.2" y2="2389.4" stroke="#161616" stroke-width="1.80"/>
<line x1="942.2" y1="2375.6" x2="942.2" y2="2389.4" stroke="#161616" stroke-width="1.80"/>
<line x1="1017.2" y1="2375.6" x2="1017.2" y2="2389.4" stroke="#161616" stroke-width="1.80"/>
<line x1="1091.1" y1="2375.6" x2="1091.1" y2="2389.4" stroke="#161616" stroke-width="1.80"/>
<line x1="1165.6" y1="2375.6" x2="1165.6" y2="2389.4" stroke="#161616" stroke-width="1.80"/>
<line x1="1240.6" y1="2375.6" x2="1240.6" y2="2389.4" stroke="#161616" stroke-width="1.80"/>
<line x1="1315.6" y1="2375.6" x2="1315.6" y2="2389.4" stroke="#161616" stroke-width="1.80"/>
<line x1="1390.6" y1="2375.6" x2="1390.6" y2="2389.4" stroke="#161616" stroke-width="1.80"/>
<text x="883.9" y="2365.0" font-size="26.4" text-anchor="start" fill="#161616" textLength="116.7" lengthAdjust="spacingAndGlyphs">12,947 kb</text>
<text x="1185.6" y="2365.0" font-size="26.4" text-anchor="start" fill="#161616" textLength="115.0" lengthAdjust="spacingAndGlyphs">12,949 kb</text>
<line x1="677.5" y1="2408.5" x2="677.5" y2="2456.5" stroke="#161616" stroke-width="2.40" stroke-linecap="round"/>
<text x="666.0" y="2422.5" font-size="26.0" text-anchor="end" fill="#161616">4</text>
<text x="666.0" y="2455.6" font-size="26.0" text-anchor="end" fill="#161616">0</text>
<line x1="677.5" y1="2461.2" x2="677.5" y2="2509.6" stroke="#161616" stroke-width="2.40" stroke-linecap="round"/>
<text x="666.0" y="2478.4" font-size="26.0" text-anchor="end" fill="#161616">4</text>
<text x="666.0" y="2510.6" font-size="26.0" text-anchor="end" fill="#161616">0</text>
<line x1="677.5" y1="2518.0" x2="677.5" y2="2565.5" stroke="#161616" stroke-width="2.40" stroke-linecap="round"/>
<text x="666.0" y="2537.1" font-size="26.0" text-anchor="end" fill="#161616">4</text>
<text x="666.0" y="2568.3" font-size="26.0" text-anchor="end" fill="#161616">0</text>
<line x1="677.5" y1="2572.0" x2="677.5" y2="2621.5" stroke="#161616" stroke-width="2.40" stroke-linecap="round"/>
<text x="666.0" y="2592.6" font-size="26.0" text-anchor="end" fill="#161616">4</text>
<text x="666.0" y="2623.8" font-size="26.0" text-anchor="end" fill="#161616">0</text>
<text x="635" y="2446.7" font-size="26" text-anchor="end" fill="#161616"><tspan font-style="italic">Kdm6a</tspan><tspan font-size="16" dy="-9">WT</tspan></text>
<text x="635" y="2500.5" font-size="26" text-anchor="end" fill="#161616"><tspan font-style="italic">Kdm6a</tspan><tspan font-size="16" dy="-9">Mutant</tspan><tspan dy="9">ASCL1</tspan><tspan font-size="16" dy="-9">Only</tspan></text>
<text x="635" y="2540.0" font-size="26" text-anchor="end" fill="#161616"><tspan font-style="italic">Kdm6a</tspan><tspan font-size="16" dy="-9">Mutant</tspan></text>
<text x="635" y="2573.4" font-size="26" text-anchor="end" fill="#161616"><tspan>ASCL1</tspan><tspan font-size="16" dy="-9">High</tspan><tspan dy="9">NEUROD1</tspan><tspan font-size="16" dy="-9">Low</tspan></text>
<text x="635" y="2608.7" font-size="26" text-anchor="end" fill="#161616"><tspan font-style="italic">Kdm6a</tspan><tspan font-size="16" dy="-9">Mutant</tspan><tspan dy="9">NEUROD1</tspan><tspan font-size="16" dy="-9">Only</tspan></text>
<path d="M683.9 2460.6V2460.0H685.9V2460.0H687.9V2460.0H689.9V2459.9H691.9V2459.9H693.9V2459.9H695.9V2459.9H697.9V2459.8H699.9V2459.8H701.9V2459.8H703.9V2459.8H705.9V2459.7H707.9V2459.7H709.9V2459.7H711.9V2459.7H713.9V2459.6H715.9V2459.6H717.9V2459.6H719.9V2459.6H721.9V2459.6H723.9V2459.5H725.9V2459.5H727.9V2459.5H729.9V2459.5H731.9V2459.4H733.9V2459.4H735.9V2459.4H737.9V2459.4H739.9V2459.4H741.9V2459.3H743.9V2459.3H745.9V2459.3H747.9V2459.3H749.9V2459.3H751.9V2459.2H753.9V2459.2H755.9V2459.2H757.9V2459.2H759.9V2459.2H761.9V2459.1H763.9V2459.1H765.9V2459.1H767.9V2459.1H769.9V2459.1H771.9V2459.3H773.9V2459.2H775.9V2459.0H777.9V2459.3H779.9V2459.2H781.9V2459.0H783.9V2459.3H785.9V2459.2H787.9V2458.8H789.9V2459.1H791.9V2458.5H793.9V2458.5H795.9V2458.7H797.9V2459.1H799.9V2458.7H801.9V2459.0H803.9V2458.6H805.9V2459.0H807.9V2458.7H809.9V2458.7H811.9V2458.7H813.9V2458.7H815.9V2459.0H817.9V2459.2H819.9V2459.0H821.9V2458.5H823.9V2459.3H825.9V2459.1H827.9V2459.1H829.9V2458.9H831.9V2458.6H833.9V2459.2H835.9V2459.2H837.9V2459.3H839.9V2459.0H841.9V2458.7H843.9V2458.9H845.9V2458.8H847.9V2458.9H849.9V2459.0H851.9V2459.0H853.9V2459.3H855.9V2458.5H857.9V2458.7H859.9V2459.3H861.9V2459.2H863.9V2458.6H865.9V2458.9H867.9V2458.7H869.9V2458.7H871.9V2459.2H873.9V2458.6H875.9V2459.2H877.9V2459.2H879.9V2458.7H881.9V2458.6H883.9V2459.1H885.9V2459.0H887.9V2458.7H889.9V2459.1H891.9V2458.9H893.9V2458.4H895.9V2459.2H897.9V2458.5H899.9V2458.5H901.9V2458.4H903.9V2459.1H905.9V2459.2H907.9V2458.9H909.9V2459.2H911.9V2458.5H913.9V2458.8H915.9V2458.6H917.9V2458.9H919.9V2458.9H921.9V2458.5H923.9V2459.2H925.9V2459.1H927.9V2458.6H929.9V2458.8H931.9V2458.6H933.9V2458.4H935.9V2458.6H937.9V2458.8H939.9V2458.7H941.9V2458.9H943.9V2459.1H945.9V2459.0H947.9V2458.5H949.9V2458.9H951.9V2459.3H953.9V2458.8H955.9V2458.4H957.9V2458.8H959.9V2458.9H961.9V2458.9H963.9V2458.8H965.9V2458.8H967.9V2458.9H969.9V2458.5H971.9V2458.5H973.9V2458.6H975.9V2458.7H977.9V2458.7H979.9V2459.2H981.9V2458.9H983.9V2459.1H985.9V2459.2H987.9V2458.5H989.9V2459.1H991.9V2458.6H993.9V2458.6H995.9V2459.0H997.9V2459.3H999.9V2459.2H1001.9V2458.8H1003.9V2458.7H1005.9V2459.0H1007.9V2458.8H1009.9V2459.2H1011.9V2458.7H1013.9V2458.5H1015.9V2458.5H1017.9V2458.7H1019.9V2458.6H1021.9V2459.1H1023.9V2458.8H1025.9V2458.6H1027.9V2458.9H1029.9V2458.9H1031.9V2458.0H1033.9V2458.2H1035.9V2458.3H1037.9V2458.1H1039.9V2457.9H1041.9V2458.1H1043.9V2458.3H1045.9V2458.3H1047.9V2457.6H1049.9V2457.6H1051.9V2458.4H1053.9V2457.7H1055.9V2457.8H1057.9V2458.1H1059.9V2457.7H1061.9V2458.1H1063.9V2457.5H1065.9V2457.7H1067.9V2457.6H1069.9V2458.1H1071.9V2457.2H1073.9V2457.1H1075.9V2457.3H1077.9V2457.7H1079.9V2457.2H1081.9V2457.8H1083.9V2457.3H1085.9V2457.5H1087.9V2457.3H1089.9V2457.5H1091.9V2457.7H1093.9V2457.3H1095.9V2457.4H1097.9V2457.5H1099.9V2457.3H1101.9V2457.4H1103.9V2457.5H1105.9V2456.4H1107.9V2457.4H1109.9V2456.4H1111.9V2456.9H1113.9V2457.2H1115.9V2456.8H1117.9V2456.7H1119.9V2457.2H1121.9V2456.4H1123.9V2456.7H1125.9V2456.1H1127.9V2455.4H1129.9V2454.9H1131.9V2455.5H1133.9V2454.9H1135.9V2453.9H1137.9V2454.5H1139.9V2454.4H1141.9V2453.8H1143.9V2452.4H1145.9V2452.8H1147.9V2451.9H1149.9V2451.1H1151.9V2451.2H1153.9V2451.6H1155.9V2450.8H1157.9V2450.8H1159.9V2450.3H1161.9V2449.8H1163.9V2448.8H1165.9V2449.1H1167.9V2449.2H1169.9V2448.3H1171.9V2448.8H1173.9V2449.4H1175.9V2448.4H1177.9V2449.1H1179.9V2449.1H1181.9V2448.7H1183.9V2448.5H1185.9V2449.3H1187.9V2448.8H1189.9V2447.8H1191.9V2449.0H1193.9V2449.6H1195.9V2449.6H1197.9V2449.5H1199.9V2450.1H1201.9V2450.5H1203.9V2450.6H1205.9V2452.0H1207.9V2452.1H1209.9V2453.3H1211.9V2453.7H1213.9V2455.0H1215.9V2455.2H1217.9V2456.2H1219.9V2456.4H1221.9V2456.9H1223.9V2457.9H1225.9V2458.3H1227.9V2458.6H1229.9V2459.2H1231.9V2459.9H1233.9V2458.7H1235.9V2457.4H1237.9V2456.1H1239.9V2455.1H1241.9V2454.5H1243.9V2455.1H1245.9V2454.8H1247.9V2454.4H1249.9V2453.0H1251.9V2453.5H1253.9V2453.0H1255.9V2452.9H1257.9V2451.3H1259.9V2452.2H1261.9V2451.8H1263.9V2450.9H1265.9V2450.3H1267.9V2451.2H1269.9V2449.9H1271.9V2449.4H1273.9V2448.7H1275.9V2448.2H1277.9V2447.0H1279.9V2446.3H1281.9V2446.0H1283.9V2447.6H1285.9V2448.6H1287.9V2448.1H1289.9V2449.4H1291.9V2448.6H1293.9V2449.4H1295.9V2449.5H1297.9V2450.0H1299.9V2450.8H1301.9V2451.5H1303.9V2452.6H1305.9V2452.3H1307.9V2452.8H1309.9V2453.7H1311.9V2453.1H1313.9V2454.0H1315.9V2454.3H1317.9V2455.1H1319.9V2454.5H1321.9V2455.3H1323.9V2455.2H1325.9V2455.3H1327.9V2456.0H1329.9V2456.1H1331.9V2456.5H1333.9V2457.0H1335.9V2456.7H1337.9V2456.8H1339.9V2458.0H1341.9V2458.2H1343.9V2457.9H1345.9V2458.5H1347.9V2458.3H1349.9V2458.5H1351.9V2458.7H1353.9V2458.4H1355.9V2458.7H1357.9V2458.6H1359.9V2459.1H1361.9V2459.3H1363.9V2459.4H1365.9V2459.5H1367.9V2459.5H1369.9V2459.6H1371.9V2459.6H1373.9V2459.6H1375.9V2459.7H1377.9V2459.7H1379.9V2459.8H1381.9V2459.8H1383.9V2459.8H1385.9V2459.9H1387.9V2459.9H1389.9V2460.0H1391.9V2460.0H1392.2V2460.6 Z" fill="#2142ea" stroke="#2142ea" stroke-width="0.6"/>
<line x1="683.9" y1="2460.4" x2="1392.2" y2="2460.4" stroke="#2142ea" stroke-width="2.00"/>
<path d="M683.9 2514.4V2514.4H685.9V2514.4H687.9V2514.4H689.9V2514.4H691.9V2514.4H693.9V2514.4H695.9V2514.3H697.9V2514.3H699.9V2514.3H701.9V2514.3H703.9V2514.3H705.9V2514.3H707.9V2514.2H709.9V2514.2H711.9V2514.2H713.9V2514.2H715.9V2514.2H717.9V2514.1H719.9V2514.1H721.9V2514.1H723.9V2514.1H725.9V2514.1H727.9V2514.1H729.9V2514.0H731.9V2514.0H733.9V2514.0H735.9V2514.0H737.9V2514.0H739.9V2514.0H741.9V2513.9H743.9V2513.9H745.9V2513.9H747.9V2513.9H749.9V2513.3H751.9V2512.9H753.9V2512.3H755.9V2512.1H757.9V2512.0H759.9V2512.3H761.9V2512.5H763.9V2512.3H765.9V2512.2H767.9V2511.8H769.9V2512.1H771.9V2511.9H773.9V2511.9H775.9V2512.3H777.9V2512.2H779.9V2511.9H781.9V2512.0H783.9V2512.3H785.9V2512.5H787.9V2512.0H789.9V2512.4H791.9V2512.4H793.9V2512.4H795.9V2511.9H797.9V2512.0H799.9V2511.7H801.9V2512.0H803.9V2512.1H805.9V2511.7H807.9V2512.4H809.9V2511.9H811.9V2511.5H813.9V2512.1H815.9V2512.3H817.9V2512.3H819.9V2512.4H821.9V2511.6H823.9V2511.9H825.9V2511.5H827.9V2511.5H829.9V2512.3H831.9V2512.0H833.9V2512.0H835.9V2512.0H837.9V2512.2H839.9V2511.9H841.9V2511.8H843.9V2511.7H845.9V2511.6H847.9V2511.1H849.9V2512.0H851.9V2511.9H853.9V2511.1H855.9V2511.7H857.9V2511.5H859.9V2511.7H861.9V2511.1H863.9V2511.0H865.9V2511.4H867.9V2511.8H869.9V2511.5H871.9V2511.2H873.9V2511.3H875.9V2511.6H877.9V2511.4H879.9V2511.8H881.9V2511.4H883.9V2510.9H885.9V2511.4H887.9V2511.2H889.9V2511.5H891.9V2510.9H893.9V2511.2H895.9V2511.3H897.9V2510.8H899.9V2511.3H901.9V2511.6H903.9V2511.0H905.9V2510.9H907.9V2511.6H909.9V2511.3H911.9V2510.8H913.9V2511.2H915.9V2511.3H917.9V2511.6H919.9V2511.4H921.9V2511.1H923.9V2510.8H925.9V2511.1H927.9V2510.8H929.9V2511.4H931.9V2511.7H933.9V2511.5H935.9V2511.4H937.9V2511.8H939.9V2511.8H941.9V2510.9H943.9V2510.9H945.9V2511.7H947.9V2511.8H949.9V2510.9H951.9V2511.7H953.9V2511.6H955.9V2511.7H957.9V2511.7H959.9V2511.9H961.9V2511.5H963.9V2511.2H965.9V2511.9H967.9V2511.5H969.9V2511.9H971.9V2511.2H973.9V2511.1H975.9V2511.1H977.9V2511.5H979.9V2511.9H981.9V2511.3H983.9V2512.0H985.9V2511.3H987.9V2511.8H989.9V2511.2H991.9V2511.8H993.9V2511.3H995.9V2511.6H997.9V2511.9H999.9V2511.6H1001.9V2511.7H1003.9V2512.0H1005.9V2511.6H1007.9V2511.6H1009.9V2511.4H1011.9V2511.8H1013.9V2511.5H1015.9V2511.9H1017.9V2511.5H1019.9V2511.8H1021.9V2511.2H1023.9V2511.8H1025.9V2511.7H1027.9V2511.9H1029.9V2511.6H1031.9V2511.3H1033.9V2511.6H1035.9V2511.7H1037.9V2510.9H1039.9V2511.5H1041.9V2511.6H1043.9V2511.3H1045.9V2510.8H1047.9V2510.9H1049.9V2510.7H1051.9V2511.1H1053.9V2511.2H1055.9V2510.6H1057.9V2510.7H1059.9V2509.6H1061.9V2509.0H1063.9V2508.5H1065.9V2508.4H1067.9V2508.7H1069.9V2508.4H1071.9V2509.1H1073.9V2508.7H1075.9V2509.2H1077.9V2508.2H1079.9V2508.7H1081.9V2509.1H1083.9V2508.0H1085.9V2508.5H1087.9V2509.0H1089.9V2508.2H1091.9V2508.4H1093.9V2508.4H1095.9V2508.1H1097.9V2508.8H1099.9V2508.8H1101.9V2508.4H1103.9V2508.9H1105.9V2508.2H1107.9V2508.5H1109.9V2508.8H1111.9V2508.9H1113.9V2508.9H1115.9V2508.3H1117.9V2507.8H1119.9V2507.9H1121.9V2507.7H1123.9V2507.8H1125.9V2507.3H1127.9V2507.8H1129.9V2507.5H1131.9V2506.5H1133.9V2507.3H1135.9V2506.6H1137.9V2506.3H1139.9V2506.8H1141.9V2505.5H1143.9V2504.7H1145.9V2504.1H1147.9V2504.6H1149.9V2503.3H1151.9V2504.5H1153.9V2502.5H1155.9V2502.7H1157.9V2502.3H1159.9V2502.8H1161.9V2502.3H1163.9V2501.6H1165.9V2502.6H1167.9V2502.5H1169.9V2501.1H1171.9V2500.8H1173.9V2502.1H1175.9V2501.4H1177.9V2501.4H1179.9V2501.7H1181.9V2500.5H1183.9V2501.7H1185.9V2500.5H1187.9V2501.5H1189.9V2502.5H1191.9V2501.2H1193.9V2503.3H1195.9V2503.7H1197.9V2504.3H1199.9V2504.0H1201.9V2505.0H1203.9V2505.2H1205.9V2504.4H1207.9V2506.1H1209.9V2505.8H1211.9V2507.2H1213.9V2508.0H1215.9V2508.5H1217.9V2508.8H1219.9V2508.3H1221.9V2509.6H1223.9V2510.6H1225.9V2511.5H1227.9V2511.6H1229.9V2512.7H1231.9V2513.2H1233.9V2512.6H1235.9V2511.1H1237.9V2509.6H1239.9V2509.0H1241.9V2508.4H1243.9V2508.6H1245.9V2507.7H1247.9V2508.1H1249.9V2506.5H1251.9V2506.1H1253.9V2506.3H1255.9V2506.1H1257.9V2505.9H1259.9V2504.9H1261.9V2504.6H1263.9V2503.8H1265.9V2503.8H1267.9V2503.3H1269.9V2502.2H1271.9V2502.7H1273.9V2501.9H1275.9V2501.6H1277.9V2501.4H1279.9V2499.7H1281.9V2500.6H1283.9V2499.3H1285.9V2500.6H1287.9V2498.6H1289.9V2499.8H1291.9V2499.4H1293.9V2501.1H1295.9V2500.1H1297.9V2499.9H1299.9V2501.6H1301.9V2502.5H1303.9V2502.4H1305.9V2502.2H1307.9V2502.7H1309.9V2504.6H1311.9V2504.6H1313.9V2504.1H1315.9V2505.5H1317.9V2506.1H1319.9V2505.1H1321.9V2505.4H1323.9V2506.3H1325.9V2506.1H1327.9V2506.3H1329.9V2506.4H1331.9V2507.6H1333.9V2507.1H1335.9V2507.1H1337.9V2507.5H1339.9V2508.1H1341.9V2508.5H1343.9V2508.0H1345.9V2508.2H1347.9V2508.7H1349.9V2509.4H1351.9V2509.1H1353.9V2509.4H1355.9V2510.1H1357.9V2510.8H1359.9V2510.4H1361.9V2511.2H1363.9V2511.2H1365.9V2511.2H1367.9V2511.5H1369.9V2511.6H1371.9V2511.7H1373.9V2511.8H1375.9V2512.7H1377.9V2512.3H1379.9V2513.0H1381.9V2513.2H1383.9V2513.4H1385.9V2513.7H1387.9V2513.9H1389.9V2514.2H1391.9V2514.4H1392.2V2514.4 Z" fill="#4aea2c" stroke="#4aea2c" stroke-width="0.6"/>
<line x1="683.9" y1="2514.2" x2="1392.2" y2="2514.2" stroke="#4aea2c" stroke-width="2.00"/>
<path d="M693.9 2568.9V2568.8H695.9V2568.8H697.9V2568.8H699.9V2568.8H701.9V2568.8H703.9V2568.8H705.9V2568.7H707.9V2568.7H709.9V2568.7H711.9V2568.7H713.9V2568.7H715.9V2568.7H717.9V2568.9 Z" fill="#f44c6e" stroke="#f44c6e" stroke-width="0.6"/>
<line x1="693.9" y1="2568.7" x2="717.9" y2="2568.7" stroke="#f44c6e" stroke-width="2.00"/>
<path d="M725.9 2568.9V2568.6H727.9V2568.6H729.9V2568.6H731.9V2568.6H733.9V2568.9 Z" fill="#f44c6e" stroke="#f44c6e" stroke-width="0.6"/>
<line x1="725.9" y1="2568.7" x2="733.9" y2="2568.7" stroke="#f44c6e" stroke-width="2.00"/>
<path d="M741.9 2568.9V2568.5H743.9V2568.5H745.9V2568.5H747.9V2568.5H749.9V2568.5H751.9V2568.4H753.9V2568.4H755.9V2568.4H757.9V2568.4H759.9V2568.4H761.9V2568.4H763.9V2568.4H765.9V2568.4H767.9V2568.3H769.9V2568.3H771.9V2568.3H773.9V2568.3H775.9V2568.3H777.9V2568.3H779.9V2568.3H781.9V2568.2H783.9V2568.2H785.9V2568.2H787.9V2568.2H789.9V2568.2H791.9V2568.2H793.9V2568.2H795.9V2568.2H797.9V2568.1H799.9V2568.1H801.9V2568.1H803.9V2568.1H805.9V2568.1H807.9V2568.1H809.9V2568.1H811.9V2568.0H813.9V2568.0H815.9V2568.0H817.9V2568.0H819.9V2568.0H821.9V2568.0H823.9V2568.0H825.9V2568.0H827.9V2567.9H829.9V2567.9H831.9V2567.9H833.9V2567.9H835.9V2567.9H837.9V2567.9H839.9V2567.9H841.9V2567.9H843.9V2567.8H845.9V2567.8H847.9V2567.8H849.9V2567.8H851.9V2567.8H853.9V2567.6H855.9V2566.9H857.9V2566.1H859.9V2565.3H861.9V2565.0H863.9V2565.5H865.9V2565.2H867.9V2565.2H869.9V2565.8H871.9V2565.4H873.9V2565.1H875.9V2566.1H877.9V2566.0H879.9V2565.2H881.9V2565.5H883.9V2565.6H885.9V2565.2H887.9V2565.6H889.9V2565.9H891.9V2565.7H893.9V2565.3H895.9V2565.4H897.9V2565.6H899.9V2566.1H901.9V2565.0H903.9V2566.0H905.9V2565.8H907.9V2565.2H909.9V2565.1H911.9V2565.4H913.9V2565.7H915.9V2565.3H917.9V2565.4H919.9V2565.5H921.9V2565.2H923.9V2565.5H925.9V2565.5H927.9V2565.8H929.9V2565.3H931.9V2566.0H933.9V2566.0H935.9V2565.4H937.9V2566.0H939.9V2565.2H941.9V2565.9H943.9V2565.6H945.9V2565.8H947.9V2565.6H949.9V2565.4H951.9V2565.9H953.9V2565.5H955.9V2565.0H957.9V2565.9H959.9V2565.9H961.9V2565.9H963.9V2566.0H965.9V2566.1H967.9V2565.1H969.9V2565.1H971.9V2566.1H973.9V2565.2H975.9V2565.5H977.9V2565.9H979.9V2565.1H981.9V2566.0H983.9V2565.4H985.9V2565.4H987.9V2565.3H989.9V2565.8H991.9V2565.9H993.9V2565.4H995.9V2565.8H997.9V2565.4H999.9V2565.3H1001.9V2566.1H1003.9V2565.3H1005.9V2565.0H1007.9V2565.7H1009.9V2565.9H1011.9V2566.9H1013.9V2567.6H1015.9V2567.7H1017.9V2567.6H1019.9V2567.5H1021.9V2567.5H1023.9V2567.0H1025.9V2567.5H1027.9V2567.6H1029.9V2567.1H1031.9V2567.1H1033.9V2566.9H1035.9V2567.1H1037.9V2566.4H1039.9V2566.7H1041.9V2566.7H1043.9V2566.3H1045.9V2566.9H1047.9V2565.9H1049.9V2565.9H1051.9V2566.4H1053.9V2566.1H1055.9V2566.2H1057.9V2565.1H1059.9V2564.6H1061.9V2564.7H1063.9V2564.0H1065.9V2564.4H1067.9V2563.9H1069.9V2563.9H1071.9V2563.8H1073.9V2564.3H1075.9V2564.2H1077.9V2564.7H1079.9V2563.6H1081.9V2564.6H1083.9V2564.0H1085.9V2563.9H1087.9V2564.4H1089.9V2564.1H1091.9V2564.1H1093.9V2564.5H1095.9V2563.9H1097.9V2563.9H1099.9V2563.5H1101.9V2563.4H1103.9V2563.1H1105.9V2563.1H1107.9V2563.9H1109.9V2563.4H1111.9V2563.2H1113.9V2563.1H1115.9V2563.9H1117.9V2563.6H1119.9V2563.2H1121.9V2563.3H1123.9V2562.2H1125.9V2562.7H1127.9V2562.0H1129.9V2562.6H1131.9V2561.2H1133.9V2560.8H1135.9V2560.5H1137.9V2561.2H1139.9V2560.0H1141.9V2559.4H1143.9V2560.6H1145.9V2560.3H1147.9V2559.0H1149.9V2558.0H1151.9V2559.4H1153.9V2557.6H1155.9V2557.8H1157.9V2557.9H1159.9V2558.4H1161.9V2557.5H1163.9V2557.3H1165.9V2557.7H1167.9V2556.1H1169.9V2556.2H1171.9V2557.3H1173.9V2556.4H1175.9V2556.5H1177.9V2555.8H1179.9V2555.7H1181.9V2555.9H1183.9V2557.6H1185.9V2556.8H1187.9V2557.4H1189.9V2556.2H1191.9V2557.5H1193.9V2556.0H1195.9V2556.4H1197.9V2556.4H1199.9V2556.2H1201.9V2556.8H1203.9V2557.4H1205.9V2558.1H1207.9V2558.6H1209.9V2559.3H1211.9V2560.9H1213.9V2561.4H1215.9V2561.4H1217.9V2562.6H1219.9V2563.4H1221.9V2563.6H1223.9V2564.9H1225.9V2565.2H1227.9V2565.9H1229.9V2566.6H1231.9V2567.7H1233.9V2567.0H1235.9V2565.4H1237.9V2564.3H1239.9V2563.1H1241.9V2563.5H1243.9V2563.0H1245.9V2562.6H1247.9V2561.5H1249.9V2561.1H1251.9V2561.4H1253.9V2560.7H1255.9V2560.6H1257.9V2560.1H1259.9V2560.2H1261.9V2559.7H1263.9V2558.2H1265.9V2557.9H1267.9V2558.9H1269.9V2558.5H1271.9V2556.7H1273.9V2557.1H1275.9V2556.4H1277.9V2556.3H1279.9V2556.2H1281.9V2555.5H1283.9V2557.0H1285.9V2555.4H1287.9V2556.8H1289.9V2557.5H1291.9V2557.3H1293.9V2557.2H1295.9V2556.9H1297.9V2557.6H1299.9V2557.3H1301.9V2559.2H1303.9V2559.2H1305.9V2559.3H1307.9V2559.6H1309.9V2559.9H1311.9V2560.6H1313.9V2561.6H1315.9V2560.9H1317.9V2561.2H1319.9V2562.6H1321.9V2561.8H1323.9V2563.2H1325.9V2562.6H1327.9V2563.0H1329.9V2563.7H1331.9V2564.3H1333.9V2564.3H1335.9V2564.2H1337.9V2564.6H1339.9V2564.7H1341.9V2565.8H1343.9V2565.8H1345.9V2566.5H1347.9V2567.1H1349.9V2567.4H1351.9V2567.5H1353.9V2567.8H1355.9V2567.9H1357.9V2567.9H1359.9V2568.0H1361.9V2568.0H1363.9V2568.1H1365.9V2568.9 Z" fill="#f44c6e" stroke="#f44c6e" stroke-width="0.6"/>
<line x1="741.9" y1="2568.7" x2="1365.9" y2="2568.7" stroke="#f44c6e" stroke-width="2.00"/>
<path d="M1371.9 2568.9V2568.3H1373.9V2568.4H1375.9V2568.9 Z" fill="#f44c6e" stroke="#f44c6e" stroke-width="0.6"/>
<line x1="1371.9" y1="2568.7" x2="1375.9" y2="2568.7" stroke="#f44c6e" stroke-width="2.00"/>
<path d="M1383.9 2568.9V2568.7H1385.9V2568.7H1387.9V2568.8H1389.9V2568.8H1391.9V2568.9H1392.2V2568.9 Z" fill="#f44c6e" stroke="#f44c6e" stroke-width="0.6"/>
<line x1="1383.9" y1="2568.7" x2="1392.2" y2="2568.7" stroke="#f44c6e" stroke-width="2.00"/>
<path d="M683.9 2622.8V2620.9H685.9V2620.9H687.9V2621.0H689.9V2620.0H691.9V2620.6H693.9V2620.2H695.9V2620.5H697.9V2620.4H699.9V2620.6H701.9V2619.9H703.9V2620.6H705.9V2619.9H707.9V2620.0H709.9V2619.9H711.9V2620.7H713.9V2619.7H715.9V2620.1H717.9V2620.1H719.9V2620.1H721.9V2620.2H723.9V2619.7H725.9V2619.6H727.9V2619.6H729.9V2620.4H731.9V2620.0H733.9V2619.8H735.9V2620.3H737.9V2619.6H739.9V2619.7H741.9V2620.3H743.9V2620.1H745.9V2619.7H747.9V2619.5H749.9V2619.3H751.9V2620.1H753.9V2619.4H755.9V2619.7H757.9V2619.9H759.9V2620.0H761.9V2620.1H763.9V2620.2H765.9V2619.7H767.9V2620.0H769.9V2619.9H771.9V2619.8H773.9V2620.0H775.9V2619.9H777.9V2619.8H779.9V2619.0H781.9V2619.6H783.9V2619.3H785.9V2619.4H787.9V2618.9H789.9V2619.1H791.9V2619.0H793.9V2619.0H795.9V2619.2H797.9V2619.0H799.9V2619.6H801.9V2619.3H803.9V2619.6H805.9V2619.0H807.9V2619.7H809.9V2618.9H811.9V2619.7H813.9V2619.6H815.9V2619.2H817.9V2619.4H819.9V2619.8H821.9V2619.8H823.9V2619.0H825.9V2619.8H827.9V2619.4H829.9V2619.1H831.9V2619.5H833.9V2619.5H835.9V2619.8H837.9V2619.0H839.9V2619.3H841.9V2619.3H843.9V2619.6H845.9V2619.2H847.9V2619.6H849.9V2619.8H851.9V2619.6H853.9V2619.2H855.9V2619.1H857.9V2619.4H859.9V2619.3H861.9V2619.0H863.9V2619.3H865.9V2618.9H867.9V2619.7H869.9V2619.0H871.9V2619.2H873.9V2619.4H875.9V2619.3H877.9V2619.8H879.9V2620.0H881.9V2620.0H883.9V2619.0H885.9V2619.6H887.9V2619.3H889.9V2619.5H891.9V2619.0H893.9V2619.2H895.9V2619.6H897.9V2619.3H899.9V2619.8H901.9V2619.0H903.9V2619.8H905.9V2619.0H907.9V2619.4H909.9V2619.8H911.9V2618.9H913.9V2619.8H915.9V2619.3H917.9V2619.7H919.9V2619.8H921.9V2619.1H923.9V2619.0H925.9V2619.0H927.9V2619.3H929.9V2619.3H931.9V2619.8H933.9V2618.9H935.9V2619.6H937.9V2619.3H939.9V2620.0H941.9V2619.6H943.9V2619.4H945.9V2619.5H947.9V2619.5H949.9V2619.6H951.9V2620.0H953.9V2619.3H955.9V2619.6H957.9V2619.9H959.9V2619.6H961.9V2619.3H963.9V2619.2H965.9V2619.5H967.9V2619.9H969.9V2619.3H971.9V2619.3H973.9V2619.5H975.9V2618.9H977.9V2619.6H979.9V2619.4H981.9V2620.0H983.9V2619.8H985.9V2619.8H987.9V2619.8H989.9V2619.8H991.9V2619.9H993.9V2619.0H995.9V2619.4H997.9V2619.5H999.9V2619.4H1001.9V2619.7H1003.9V2619.0H1005.9V2619.2H1007.9V2619.5H1009.9V2620.0H1011.9V2620.0H1013.9V2620.0H1015.9V2619.3H1017.9V2620.1H1019.9V2619.6H1021.9V2619.6H1023.9V2619.8H1025.9V2619.9H1027.9V2619.2H1029.9V2619.2H1031.9V2619.5H1033.9V2619.7H1035.9V2619.3H1037.9V2619.6H1039.9V2620.1H1041.9V2620.2H1043.9V2620.2H1045.9V2620.3H1047.9V2620.0H1049.9V2619.8H1051.9V2620.3H1053.9V2620.3H1055.9V2619.5H1057.9V2618.9H1059.9V2617.9H1061.9V2617.4H1063.9V2616.9H1065.9V2617.5H1067.9V2616.6H1069.9V2617.2H1071.9V2616.7H1073.9V2616.6H1075.9V2616.9H1077.9V2616.4H1079.9V2616.7H1081.9V2615.8H1083.9V2616.5H1085.9V2615.6H1087.9V2616.3H1089.9V2616.5H1091.9V2615.7H1093.9V2615.0H1095.9V2615.2H1097.9V2615.7H1099.9V2615.2H1101.9V2615.3H1103.9V2614.7H1105.9V2615.1H1107.9V2615.1H1109.9V2613.5H1111.9V2614.9H1113.9V2614.6H1115.9V2614.1H1117.9V2613.8H1119.9V2613.3H1121.9V2613.0H1123.9V2613.3H1125.9V2611.7H1127.9V2611.6H1129.9V2612.3H1131.9V2612.0H1133.9V2611.8H1135.9V2610.7H1137.9V2610.0H1139.9V2609.4H1141.9V2610.1H1143.9V2608.3H1145.9V2607.8H1147.9V2608.4H1149.9V2608.8H1151.9V2608.3H1153.9V2606.5H1155.9V2607.5H1157.9V2605.5H1159.9V2604.7H1161.9V2605.9H1163.9V2605.0H1165.9V2604.2H1167.9V2603.0H1169.9V2601.2H1171.9V2600.4H1173.9V2600.6H1175.9V2601.0H1177.9V2598.8H1179.9V2599.6H1181.9V2598.9H1183.9V2596.3H1185.9V2598.1H1187.9V2597.4H1189.9V2596.2H1191.9V2595.1H1193.9V2597.9H1195.9V2595.8H1197.9V2595.3H1199.9V2597.0H1201.9V2597.4H1203.9V2597.3H1205.9V2597.9H1207.9V2597.3H1209.9V2597.4H1211.9V2599.6H1213.9V2601.5H1215.9V2601.1H1217.9V2602.8H1219.9V2606.0H1221.9V2607.8H1223.9V2609.5H1225.9V2612.7H1227.9V2616.5H1229.9V2621.4H1231.9V2621.7H1233.9V2621.7H1235.9V2619.4H1237.9V2616.7H1239.9V2614.1H1241.9V2612.6H1243.9V2612.2H1245.9V2611.2H1247.9V2609.9H1249.9V2609.2H1251.9V2609.3H1253.9V2607.9H1255.9V2607.6H1257.9V2609.2H1259.9V2606.8H1261.9V2608.4H1263.9V2606.4H1265.9V2606.7H1267.9V2606.2H1269.9V2607.1H1271.9V2607.0H1273.9V2607.1H1275.9V2607.1H1277.9V2607.5H1279.9V2607.6H1281.9V2606.4H1283.9V2607.4H1285.9V2607.0H1287.9V2607.0H1289.9V2608.6H1291.9V2609.6H1293.9V2608.3H1295.9V2610.3H1297.9V2609.8H1299.9V2609.4H1301.9V2611.3H1303.9V2611.3H1305.9V2610.9H1307.9V2612.3H1309.9V2611.1H1311.9V2611.7H1313.9V2612.4H1315.9V2612.3H1317.9V2613.8H1319.9V2612.9H1321.9V2613.8H1323.9V2614.4H1325.9V2614.0H1327.9V2614.7H1329.9V2615.5H1331.9V2614.6H1333.9V2615.8H1335.9V2615.1H1337.9V2615.8H1339.9V2615.7H1341.9V2615.8H1343.9V2615.5H1345.9V2615.8H1347.9V2616.4H1349.9V2617.2H1351.9V2617.2H1353.9V2618.8H1355.9V2618.9H1357.9V2619.4H1359.9V2620.1H1361.9V2621.1H1363.9V2621.4H1365.9V2621.4H1367.9V2621.8H1369.9V2622.2H1371.9V2622.3H1373.9V2622.3H1375.9V2622.4H1377.9V2622.4H1379.9V2622.5H1381.9V2622.5H1383.9V2622.6H1385.9V2622.6H1387.9V2622.7H1389.9V2622.7H1391.9V2622.8H1392.2V2622.8 Z" fill="#7d18cc" stroke="#7d18cc" stroke-width="0.6"/>
<line x1="683.9" y1="2622.6" x2="1392.2" y2="2622.6" stroke="#7d18cc" stroke-width="2.00"/>
<line x1="683.9" y1="2674.4" x2="1186.7" y2="2674.4" stroke="#1b32e8" stroke-width="3.60"/>
<rect x="853.3" y="2665.0" width="117.8" height="18.9" fill="#1b32e8"/>
<rect x="971.1" y="2668.9" width="12.8" height="11.1" fill="#1b32e8"/>
<rect x="1156.0" y="2668.9" width="30.7" height="11.1" fill="#1b32e8"/>
<path d="M704.8 2669.2L697.8 2674.4L704.8 2679.6M742.5 2669.2L735.5 2674.4L742.5 2679.6M785.3 2669.2L778.3 2674.4L785.3 2679.6M825.3 2669.2L818.3 2674.4L825.3 2679.6M1011.4 2669.2L1004.4 2674.4L1011.4 2679.6M1052.0 2669.2L1045.0 2674.4L1052.0 2679.6M1093.6 2669.2L1086.6 2674.4L1093.6 2679.6M1133.6 2669.2L1126.6 2674.4L1133.6 2679.6" fill="none" stroke="#1b32e8" stroke-width="3.6" stroke-linejoin="miter" stroke-miterlimit="6"/>
<path d="M898.7 2669.9 L893.8 2674.4 L898.7 2678.9" fill="none" stroke="#fff" stroke-width="3.0"/>
<path d="M940.5 2669.9 L935.5 2674.4 L940.5 2678.9" fill="none" stroke="#fff" stroke-width="3.0"/>
<path d="M1186.7 2674.4 V2698.3 H1035.0" fill="none" stroke="#111" stroke-width="2"/>
<path d="M1030.0 2698.3 L1047.0 2689.8 L1042.0 2698.3 L1047.0 2706.8 Z" fill="#111"/>
<text x="864.4" y="2707.8" font-size="26.4" text-anchor="start" font-style="italic" fill="#111" textLength="61.2" lengthAdjust="spacingAndGlyphs">Mycn</text>
</svg>
</body></html>
